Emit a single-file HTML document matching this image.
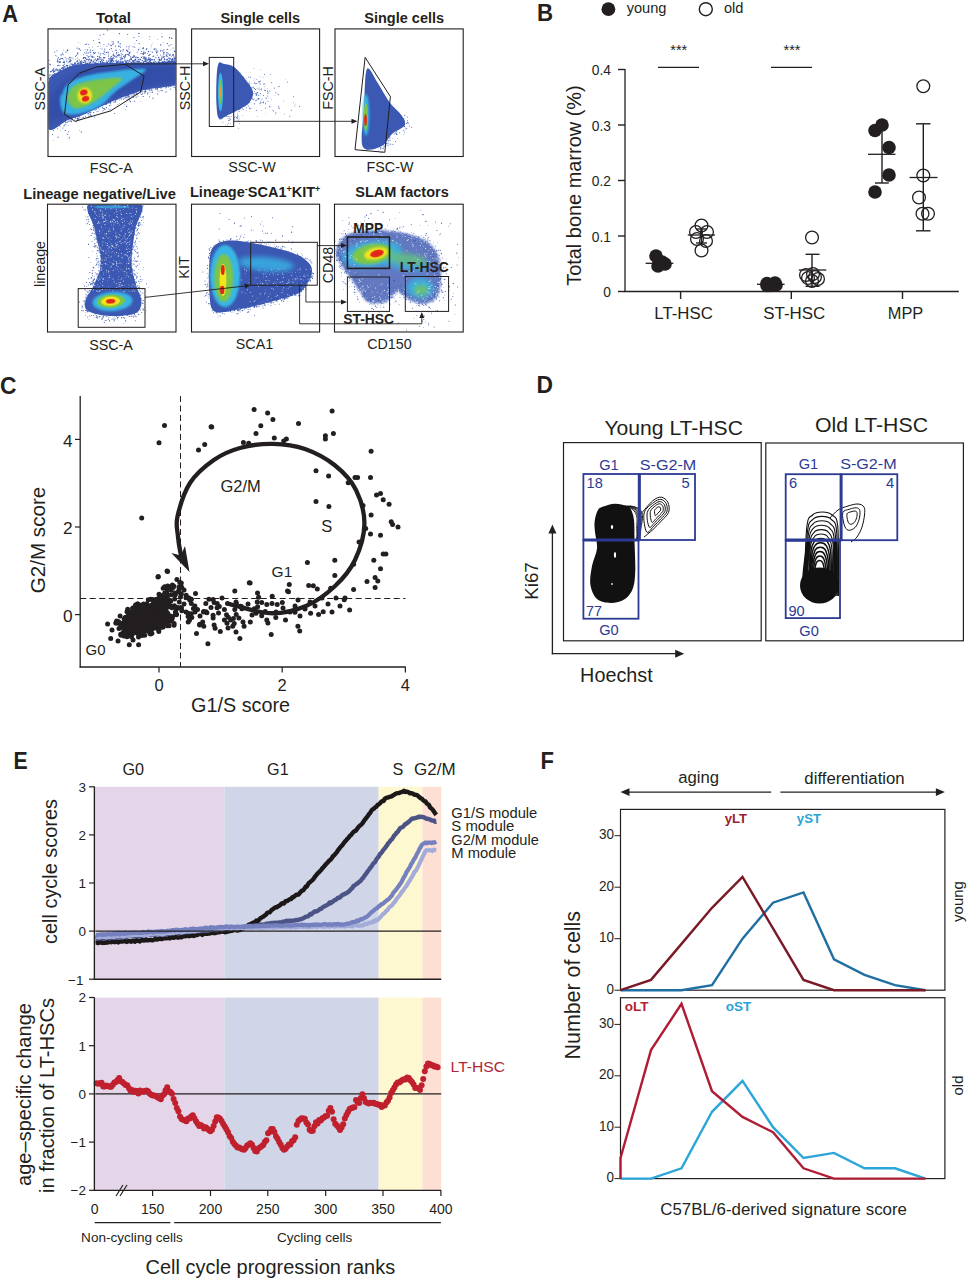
<!DOCTYPE html><html><head><meta charset="utf-8"><style>html,body{margin:0;padding:0;background:#fff;}svg{display:block;font-family:"Liberation Sans",sans-serif;}</style></head><body><svg width="967" height="1280" viewBox="0 0 967 1280" font-family='"Liberation Sans", sans-serif' fill="#231f20">
<defs>
<filter id="b05" x="-50%" y="-50%" width="200%" height="200%"><feGaussianBlur stdDeviation="0.6"/></filter>
<filter id="b1" x="-50%" y="-50%" width="200%" height="200%"><feGaussianBlur stdDeviation="1.2"/></filter>
<filter id="b2" x="-50%" y="-50%" width="200%" height="200%"><feGaussianBlur stdDeviation="2.5"/></filter>
</defs>
<text x="2.2" y="21.7" font-size="23.5" font-weight="bold" textLength="15.8" lengthAdjust="spacingAndGlyphs">A</text>
<defs>
<clipPath id="ca0"><rect x="48.5" y="29.4" width="127" height="126.6"/></clipPath>
<clipPath id="ca1"><rect x="192.1" y="29.4" width="127" height="126.6"/></clipPath>
<clipPath id="ca2"><rect x="335.5" y="29.4" width="127.2" height="126.6"/></clipPath>
<clipPath id="ca3"><rect x="48" y="204.7" width="127.5" height="126.8"/></clipPath>
<clipPath id="ca4"><rect x="192" y="204.7" width="127.1" height="126.8"/></clipPath>
<clipPath id="ca5"><rect x="335" y="204.7" width="127.7" height="126.8"/></clipPath>
</defs>
<g clip-path="url(#ca0)">
<g fill="#3a58b2"><circle cx="85.3" cy="63.7" r="0.6"/><circle cx="91" cy="64.1" r="0.5"/><circle cx="53.4" cy="77.9" r="0.4"/><circle cx="71" cy="60.6" r="0.5"/><circle cx="175.2" cy="62.7" r="0.4"/><circle cx="58" cy="70.6" r="0.6"/><circle cx="128.3" cy="60.7" r="0.4"/><circle cx="66.8" cy="61.1" r="0.6"/><circle cx="103.5" cy="60.6" r="0.5"/><circle cx="120.7" cy="57.9" r="0.5"/><circle cx="174.1" cy="63.3" r="0.4"/><circle cx="107.4" cy="62.7" r="0.6"/><circle cx="160.6" cy="60.2" r="0.6"/><circle cx="104.2" cy="51.1" r="0.6"/><circle cx="152.7" cy="62.4" r="0.4"/><circle cx="104.5" cy="63.1" r="0.6"/><circle cx="58.4" cy="71.1" r="0.4"/><circle cx="103.6" cy="57.7" r="0.7"/><circle cx="78" cy="63.2" r="0.7"/><circle cx="62.7" cy="70.2" r="0.5"/><circle cx="122.6" cy="61.9" r="0.5"/><circle cx="118.3" cy="41.7" r="0.6"/><circle cx="134.8" cy="62.8" r="0.7"/><circle cx="150" cy="60.7" r="0.6"/><circle cx="54.3" cy="78.5" r="0.5"/><circle cx="53.8" cy="79.7" r="0.5"/><circle cx="74.8" cy="63.5" r="0.7"/><circle cx="55.9" cy="73.9" r="0.4"/><circle cx="113.3" cy="63.4" r="0.7"/><circle cx="136.1" cy="62.2" r="0.6"/><circle cx="113.6" cy="54" r="0.6"/><circle cx="141.7" cy="62.1" r="0.4"/><circle cx="49.6" cy="81.5" r="0.7"/><circle cx="103.9" cy="44.8" r="0.5"/><circle cx="71.6" cy="66.4" r="0.6"/><circle cx="163" cy="51" r="0.6"/><circle cx="52.2" cy="70.3" r="0.6"/><circle cx="106.7" cy="62.1" r="0.6"/><circle cx="172.5" cy="61.2" r="0.6"/><circle cx="66.2" cy="70.5" r="0.6"/><circle cx="59.4" cy="59.5" r="0.5"/><circle cx="118.4" cy="63.2" r="0.6"/><circle cx="111.3" cy="45.7" r="0.6"/><circle cx="70" cy="66.7" r="0.6"/><circle cx="77.6" cy="63.4" r="0.5"/><circle cx="104.4" cy="57.6" r="0.7"/><circle cx="109.6" cy="58.8" r="0.5"/><circle cx="67.4" cy="68.9" r="0.5"/><circle cx="140" cy="59.2" r="0.6"/><circle cx="147.9" cy="63" r="0.5"/><circle cx="145.6" cy="58.5" r="0.7"/><circle cx="100.7" cy="57.6" r="0.6"/><circle cx="101.1" cy="59.2" r="0.6"/><circle cx="160.7" cy="44.9" r="0.7"/><circle cx="156.7" cy="63.5" r="0.4"/><circle cx="73.8" cy="64.9" r="0.7"/><circle cx="60.2" cy="62.1" r="0.7"/><circle cx="174.3" cy="61.6" r="0.5"/><circle cx="111.9" cy="61.8" r="0.6"/><circle cx="85.7" cy="58.2" r="0.7"/><circle cx="149.5" cy="39.4" r="0.4"/><circle cx="148.3" cy="62.4" r="0.7"/><circle cx="154.3" cy="63.3" r="0.6"/><circle cx="138.1" cy="63.8" r="0.5"/><circle cx="101.5" cy="60.8" r="0.5"/><circle cx="56.9" cy="68.5" r="0.4"/><circle cx="52" cy="79.2" r="0.6"/><circle cx="80.8" cy="61.4" r="0.4"/><circle cx="75.7" cy="65" r="0.5"/><circle cx="106.9" cy="46" r="0.5"/><circle cx="107.9" cy="52.1" r="0.6"/><circle cx="128" cy="60.6" r="0.4"/><circle cx="48.3" cy="71.6" r="0.4"/><circle cx="155.7" cy="49" r="0.5"/><circle cx="81.5" cy="61.9" r="0.5"/><circle cx="171.8" cy="38.2" r="0.7"/><circle cx="84.1" cy="62.2" r="0.5"/><circle cx="109.9" cy="62.5" r="0.5"/><circle cx="54.6" cy="73.3" r="0.5"/><circle cx="70.1" cy="60.9" r="0.6"/><circle cx="138.6" cy="49.7" r="0.7"/><circle cx="59.6" cy="62.3" r="0.7"/><circle cx="163" cy="55.4" r="0.4"/><circle cx="113.5" cy="57.9" r="0.6"/><circle cx="120.6" cy="47.2" r="0.5"/><circle cx="50.7" cy="81.2" r="0.7"/><circle cx="116.7" cy="56.2" r="0.5"/><circle cx="115.4" cy="57" r="0.5"/><circle cx="54" cy="75.2" r="0.6"/><circle cx="173.9" cy="59.4" r="0.6"/><circle cx="145.9" cy="57" r="0.4"/><circle cx="72.6" cy="58" r="0.4"/><circle cx="52.2" cy="76" r="0.6"/><circle cx="79.7" cy="60.7" r="0.4"/><circle cx="165.3" cy="61.9" r="0.4"/><circle cx="104.6" cy="52.1" r="0.5"/><circle cx="63.8" cy="50" r="0.4"/><circle cx="113.4" cy="43.8" r="0.6"/><circle cx="162.6" cy="57" r="0.5"/><circle cx="50.1" cy="82.2" r="0.5"/><circle cx="60.2" cy="70" r="0.4"/><circle cx="145.2" cy="52.5" r="0.6"/><circle cx="164" cy="61.9" r="0.7"/><circle cx="121.2" cy="61.1" r="0.4"/><circle cx="48.5" cy="67.7" r="0.5"/><circle cx="77.5" cy="61.6" r="0.7"/><circle cx="160.8" cy="50.8" r="0.7"/><circle cx="117.5" cy="55.5" r="0.5"/><circle cx="144.1" cy="57" r="0.7"/><circle cx="56.9" cy="69.4" r="0.6"/><circle cx="174.4" cy="60.9" r="0.6"/><circle cx="95.4" cy="63.6" r="0.7"/><circle cx="111.4" cy="60.9" r="0.5"/><circle cx="61.8" cy="70.4" r="0.4"/><circle cx="72.2" cy="64" r="0.6"/><circle cx="96.8" cy="60.5" r="0.5"/><circle cx="53.2" cy="76.8" r="0.6"/><circle cx="127.5" cy="50.7" r="0.5"/><circle cx="97.3" cy="59.8" r="0.7"/><circle cx="50.2" cy="80.7" r="0.5"/><circle cx="120.1" cy="65.2" r="0.6"/><circle cx="157.8" cy="39.2" r="0.4"/><circle cx="113.7" cy="55.6" r="0.6"/><circle cx="145.6" cy="59.6" r="0.6"/><circle cx="67" cy="49.9" r="0.4"/><circle cx="73.4" cy="59" r="0.4"/><circle cx="112.4" cy="58.3" r="0.6"/><circle cx="128.8" cy="49" r="0.5"/><circle cx="172.4" cy="55.2" r="0.5"/><circle cx="133.4" cy="61.4" r="0.7"/><circle cx="72.3" cy="67.7" r="0.6"/><circle cx="65.2" cy="57.2" r="0.5"/><circle cx="174.1" cy="60.4" r="0.5"/><circle cx="146.1" cy="61.3" r="0.5"/><circle cx="70.1" cy="62.2" r="0.4"/><circle cx="95.4" cy="62.7" r="0.4"/><circle cx="53.1" cy="75.3" r="0.6"/><circle cx="170.2" cy="54.3" r="0.5"/><circle cx="92.3" cy="61.7" r="0.5"/><circle cx="88.8" cy="44.5" r="0.5"/><circle cx="89.3" cy="51.9" r="0.4"/><circle cx="106.4" cy="60.7" r="0.5"/><circle cx="162.7" cy="64.3" r="0.6"/><circle cx="54" cy="81.1" r="0.5"/><circle cx="143.1" cy="48.5" r="0.7"/><circle cx="125.4" cy="61.2" r="0.5"/><circle cx="170.3" cy="64.4" r="0.7"/><circle cx="171.6" cy="61" r="0.5"/><circle cx="168.6" cy="61" r="0.6"/><circle cx="146.6" cy="58.1" r="0.5"/><circle cx="148.6" cy="64.7" r="0.5"/><circle cx="53.9" cy="77.8" r="0.7"/><circle cx="161.5" cy="33.3" r="0.4"/><circle cx="108.6" cy="55.7" r="0.5"/><circle cx="126" cy="54.6" r="0.6"/><circle cx="50.2" cy="64.8" r="0.5"/><circle cx="142.2" cy="63" r="0.4"/><circle cx="161.7" cy="58.5" r="0.7"/><circle cx="111" cy="61.2" r="0.7"/><circle cx="55.6" cy="69.9" r="0.7"/><circle cx="51.1" cy="79.3" r="0.7"/><circle cx="119.8" cy="46.5" r="0.5"/><circle cx="76.3" cy="55.3" r="0.6"/><circle cx="125.7" cy="62.6" r="0.5"/><circle cx="75.3" cy="59.2" r="0.4"/><circle cx="85.6" cy="57.8" r="0.5"/><circle cx="150.3" cy="58.6" r="0.5"/><circle cx="116.8" cy="57.1" r="0.6"/><circle cx="96.5" cy="63.9" r="0.5"/><circle cx="117.3" cy="61.7" r="0.7"/><circle cx="90.8" cy="62.5" r="0.4"/><circle cx="164.8" cy="59.1" r="0.7"/><circle cx="105.2" cy="63.1" r="0.6"/><circle cx="165.1" cy="62.5" r="0.6"/><circle cx="59.9" cy="68.7" r="0.4"/><circle cx="108.6" cy="52.6" r="0.4"/><circle cx="169.5" cy="37.7" r="0.7"/><circle cx="92.8" cy="47" r="0.4"/><circle cx="147.4" cy="63.1" r="0.6"/><circle cx="65.8" cy="68.3" r="0.5"/><circle cx="58.4" cy="69.3" r="0.4"/><circle cx="119.6" cy="54.4" r="0.4"/><circle cx="122.7" cy="57.9" r="0.5"/><circle cx="120.4" cy="59.4" r="0.5"/><circle cx="145.2" cy="53.5" r="0.5"/><circle cx="57.6" cy="73.4" r="0.5"/><circle cx="110.8" cy="63.5" r="0.6"/><circle cx="148.5" cy="59.3" r="0.5"/><circle cx="172.9" cy="60.5" r="0.6"/><circle cx="153.6" cy="62.3" r="0.7"/><circle cx="166.9" cy="60.6" r="0.4"/><circle cx="89.3" cy="56.4" r="0.5"/><circle cx="151" cy="62.8" r="0.5"/><circle cx="76.7" cy="61.2" r="0.5"/><circle cx="56.9" cy="50.8" r="0.5"/><circle cx="147.4" cy="62.9" r="0.5"/><circle cx="159.1" cy="57.3" r="0.4"/><circle cx="175.8" cy="57.4" r="0.5"/><circle cx="175.7" cy="58.5" r="0.5"/><circle cx="64.5" cy="61.2" r="0.5"/><circle cx="127.6" cy="34.4" r="0.5"/><circle cx="49.4" cy="85.2" r="0.5"/><circle cx="111.4" cy="48.7" r="0.6"/><circle cx="50.6" cy="82.7" r="0.5"/><circle cx="69.9" cy="61.3" r="0.6"/><circle cx="106.7" cy="62.9" r="0.4"/><circle cx="53.4" cy="69.2" r="0.5"/><circle cx="76.8" cy="65" r="0.5"/><circle cx="130.7" cy="59.4" r="0.5"/><circle cx="164" cy="63.3" r="0.5"/><circle cx="170.3" cy="63.6" r="0.6"/><circle cx="129.3" cy="52.9" r="0.5"/><circle cx="142.7" cy="60.2" r="0.5"/><circle cx="50.2" cy="77.6" r="0.7"/><circle cx="137.7" cy="61.6" r="0.6"/><circle cx="111.4" cy="60.3" r="0.5"/><circle cx="161.6" cy="64.3" r="0.6"/><circle cx="169.5" cy="55.5" r="0.5"/><circle cx="67.7" cy="50.1" r="0.6"/><circle cx="175.7" cy="58.1" r="0.7"/><circle cx="100.2" cy="55" r="0.5"/><circle cx="126.7" cy="63.2" r="0.4"/><circle cx="50.8" cy="80.5" r="0.6"/><circle cx="141.3" cy="63.1" r="0.6"/><circle cx="154.5" cy="49.1" r="0.7"/><circle cx="170.5" cy="63.2" r="0.4"/><circle cx="156" cy="51.1" r="0.6"/><circle cx="81.7" cy="65.6" r="0.5"/><circle cx="85.2" cy="61.4" r="0.5"/><circle cx="138.2" cy="62.6" r="0.6"/><circle cx="158.4" cy="57.3" r="0.5"/><circle cx="146.7" cy="60.1" r="0.5"/><circle cx="159.4" cy="62.7" r="0.4"/><circle cx="66.2" cy="59" r="0.5"/><circle cx="108.6" cy="53.8" r="0.5"/><circle cx="155.6" cy="61.6" r="0.5"/><circle cx="137.8" cy="59.9" r="0.4"/><circle cx="149.2" cy="54.5" r="0.5"/><circle cx="96.3" cy="60.7" r="0.7"/><circle cx="49.7" cy="82.8" r="0.6"/><circle cx="92.8" cy="50.3" r="0.6"/><circle cx="144" cy="53.6" r="0.5"/><circle cx="58.4" cy="57.4" r="0.5"/><circle cx="100.6" cy="53.7" r="0.5"/><circle cx="162.5" cy="62.5" r="0.6"/><circle cx="156.9" cy="63.2" r="0.5"/><circle cx="112.4" cy="63.3" r="0.7"/><circle cx="141.2" cy="63.2" r="0.5"/><circle cx="175.5" cy="51.6" r="0.5"/><circle cx="128.7" cy="64" r="0.4"/><circle cx="95.2" cy="52.6" r="0.6"/><circle cx="103.9" cy="62.7" r="0.6"/><circle cx="164.2" cy="59.2" r="0.5"/><circle cx="70.9" cy="57.8" r="0.6"/><circle cx="157.1" cy="55.2" r="0.5"/><circle cx="125.9" cy="64" r="0.6"/><circle cx="126.5" cy="62.4" r="0.6"/><circle cx="97.5" cy="56.3" r="0.6"/><circle cx="145.5" cy="60.7" r="0.4"/><circle cx="115.9" cy="60.9" r="0.6"/><circle cx="52.5" cy="70.1" r="0.6"/><circle cx="127.8" cy="51.5" r="0.7"/><circle cx="66.8" cy="61.3" r="0.4"/><circle cx="95.1" cy="64.7" r="0.6"/><circle cx="89.5" cy="63.9" r="0.7"/><circle cx="113.5" cy="61.6" r="0.5"/><circle cx="57.1" cy="61.1" r="0.5"/><circle cx="118.8" cy="62" r="0.6"/><circle cx="152.3" cy="52.2" r="0.6"/><circle cx="50.2" cy="64.8" r="0.5"/><circle cx="92.1" cy="62.7" r="0.4"/><circle cx="140" cy="62.4" r="0.5"/><circle cx="99.2" cy="56.6" r="0.7"/><circle cx="158.9" cy="61.9" r="0.6"/><circle cx="57.3" cy="59.6" r="0.4"/><circle cx="171.3" cy="56.5" r="0.4"/><circle cx="69.8" cy="57.5" r="0.7"/><circle cx="150.3" cy="62" r="0.6"/><circle cx="133" cy="46.8" r="0.5"/><circle cx="135.9" cy="57.8" r="0.7"/><circle cx="117.2" cy="62.3" r="0.5"/><circle cx="51.5" cy="76.5" r="0.5"/><circle cx="116.2" cy="50.2" r="0.5"/><circle cx="118.6" cy="55.7" r="0.5"/><circle cx="171.9" cy="62.2" r="0.4"/><circle cx="125.2" cy="55.7" r="0.7"/><circle cx="111.1" cy="59.3" r="0.6"/><circle cx="127.2" cy="60.5" r="0.5"/><circle cx="113.1" cy="54.6" r="0.5"/><circle cx="116.6" cy="53.2" r="0.5"/><circle cx="107.9" cy="61.8" r="0.6"/><circle cx="149.3" cy="61.8" r="0.6"/><circle cx="129.3" cy="53.6" r="0.7"/><circle cx="115.8" cy="63.7" r="0.5"/><circle cx="166.4" cy="55.9" r="0.7"/><circle cx="124" cy="56.4" r="0.6"/><circle cx="133.9" cy="61.6" r="0.6"/><circle cx="58.5" cy="73.9" r="0.7"/><circle cx="131.5" cy="59.5" r="0.6"/><circle cx="75.8" cy="63.8" r="0.5"/><circle cx="130" cy="45.3" r="0.4"/><circle cx="49.6" cy="64" r="0.5"/><circle cx="175" cy="59.2" r="0.6"/><circle cx="70.7" cy="66.9" r="0.6"/><circle cx="60.5" cy="71" r="0.6"/><circle cx="67.9" cy="67.6" r="0.7"/><circle cx="140.1" cy="62.5" r="0.5"/><circle cx="170" cy="61.3" r="0.4"/><circle cx="83.8" cy="57.5" r="0.5"/><circle cx="51.2" cy="76.1" r="0.6"/><circle cx="57.7" cy="61.6" r="0.6"/><circle cx="98.7" cy="59.1" r="0.6"/><circle cx="120.7" cy="62.4" r="0.6"/><circle cx="152.6" cy="59.7" r="0.6"/><circle cx="121.9" cy="62.1" r="0.5"/><circle cx="136" cy="56.7" r="0.5"/><circle cx="154" cy="49.1" r="0.6"/><circle cx="159.5" cy="59.4" r="0.6"/><circle cx="134.7" cy="47.1" r="0.6"/><circle cx="150.3" cy="60.6" r="0.5"/><circle cx="123.7" cy="56.2" r="0.5"/><circle cx="143.6" cy="53.1" r="0.6"/><circle cx="145.3" cy="61.3" r="0.7"/><circle cx="112.1" cy="59.2" r="0.5"/><circle cx="63.3" cy="62.3" r="0.5"/><circle cx="114.6" cy="63.7" r="0.5"/><circle cx="53.5" cy="68.8" r="0.6"/><circle cx="88.2" cy="59.8" r="0.7"/><circle cx="159" cy="58.9" r="0.6"/><circle cx="99.2" cy="42.4" r="0.7"/><circle cx="76.4" cy="66.2" r="0.4"/><circle cx="49.9" cy="75" r="0.7"/><circle cx="165" cy="62.8" r="0.4"/><circle cx="171.4" cy="61.1" r="0.7"/><circle cx="132.4" cy="60.7" r="0.7"/><circle cx="89.2" cy="47.6" r="0.4"/><circle cx="147.4" cy="53.5" r="0.4"/><circle cx="60" cy="61.5" r="0.5"/><circle cx="122.7" cy="54.5" r="0.5"/><circle cx="57.2" cy="69.6" r="0.4"/><circle cx="133.8" cy="63.4" r="0.4"/><circle cx="169.6" cy="61.3" r="0.7"/><circle cx="61.7" cy="68.6" r="0.7"/><circle cx="126.3" cy="61" r="0.5"/><circle cx="127.2" cy="63.2" r="0.6"/><circle cx="117.3" cy="62.4" r="0.5"/><circle cx="63.3" cy="68" r="0.5"/><circle cx="108.6" cy="61.2" r="0.7"/><circle cx="106.4" cy="62.4" r="0.5"/><circle cx="80.6" cy="50.2" r="0.5"/><circle cx="175.3" cy="62.8" r="0.4"/><circle cx="100.6" cy="48.3" r="0.4"/><circle cx="63.1" cy="59.3" r="0.4"/><circle cx="51.4" cy="71.5" r="0.5"/><circle cx="125.4" cy="54.4" r="0.5"/><circle cx="161.1" cy="59.2" r="0.5"/><circle cx="161.1" cy="63" r="0.5"/><circle cx="63.5" cy="67.2" r="0.6"/><circle cx="103" cy="60.1" r="0.6"/><circle cx="159.4" cy="60.4" r="0.6"/><circle cx="111.1" cy="58.7" r="0.7"/><circle cx="72.4" cy="66.4" r="0.6"/><circle cx="50.8" cy="80.7" r="0.4"/><circle cx="121.9" cy="57.8" r="0.4"/><circle cx="160.4" cy="55.1" r="0.5"/><circle cx="110.2" cy="62.4" r="0.4"/><circle cx="122.8" cy="51" r="0.6"/><circle cx="61.3" cy="58.5" r="0.5"/><circle cx="154.5" cy="59.8" r="0.6"/><circle cx="87" cy="63.7" r="0.7"/><circle cx="151.6" cy="45.5" r="0.4"/><circle cx="112" cy="41.7" r="0.5"/><circle cx="127.4" cy="60.8" r="0.5"/><circle cx="111.6" cy="65.6" r="0.6"/><circle cx="169.9" cy="55.1" r="0.7"/><circle cx="79.2" cy="59.8" r="0.5"/><circle cx="112.9" cy="59.9" r="0.5"/><circle cx="128.1" cy="62" r="0.6"/><circle cx="77.2" cy="61.3" r="0.4"/><circle cx="59.2" cy="69.9" r="0.5"/><circle cx="53.4" cy="71.2" r="0.6"/><circle cx="129.9" cy="61.6" r="0.6"/><circle cx="124.8" cy="60.1" r="0.5"/><circle cx="111.1" cy="60.6" r="0.5"/><circle cx="158.2" cy="61.6" r="0.5"/><circle cx="94.1" cy="60" r="0.5"/><circle cx="172.7" cy="54.8" r="0.5"/><circle cx="134.4" cy="56.1" r="0.6"/><circle cx="142.3" cy="53.6" r="0.6"/><circle cx="139.2" cy="47.9" r="0.4"/><circle cx="143.9" cy="57.9" r="0.6"/><circle cx="98.9" cy="52.9" r="0.5"/><circle cx="102.9" cy="59.3" r="0.5"/><circle cx="116.5" cy="61.9" r="0.7"/><circle cx="109.7" cy="60.6" r="0.4"/><circle cx="121.4" cy="58.8" r="0.5"/><circle cx="156.9" cy="51" r="0.5"/><circle cx="166.8" cy="63.9" r="0.5"/><circle cx="164.2" cy="52.6" r="0.6"/><circle cx="111.2" cy="56.5" r="0.6"/><circle cx="86.9" cy="43.3" r="0.4"/><circle cx="91.4" cy="60.5" r="0.7"/><circle cx="172" cy="59.3" r="0.7"/><circle cx="87.9" cy="59.1" r="0.5"/><circle cx="174.5" cy="51.3" r="0.7"/><circle cx="137.2" cy="51.9" r="0.5"/><circle cx="62" cy="68.3" r="0.5"/><circle cx="64.1" cy="62.4" r="0.7"/><circle cx="127.1" cy="64.4" r="0.5"/><circle cx="135.2" cy="65.4" r="0.6"/><circle cx="131.6" cy="62.5" r="0.5"/><circle cx="130.7" cy="58.7" r="0.5"/><circle cx="59.2" cy="71.3" r="0.4"/><circle cx="64.3" cy="64.1" r="0.6"/><circle cx="54.5" cy="77.7" r="0.6"/><circle cx="89.5" cy="63.8" r="0.7"/><circle cx="120.1" cy="61.2" r="0.4"/><circle cx="163.8" cy="57.4" r="0.6"/><circle cx="77.1" cy="65.2" r="0.5"/><circle cx="163.6" cy="52.9" r="0.7"/><circle cx="108.6" cy="44" r="0.6"/><circle cx="71.9" cy="64.4" r="0.6"/><circle cx="74.2" cy="65.6" r="0.7"/><circle cx="81.3" cy="60.4" r="0.5"/><circle cx="97.4" cy="65" r="0.5"/><circle cx="74.5" cy="65.6" r="0.4"/><circle cx="132.8" cy="62.1" r="0.4"/><circle cx="77.6" cy="53.9" r="0.7"/><circle cx="150.5" cy="63.8" r="0.5"/><circle cx="173.2" cy="61.7" r="0.5"/><circle cx="102.9" cy="62.7" r="0.7"/><circle cx="121.6" cy="61.9" r="0.5"/><circle cx="159.5" cy="62.8" r="0.5"/><circle cx="146.2" cy="59.7" r="0.5"/><circle cx="95.2" cy="65.2" r="0.5"/><circle cx="131.1" cy="62.9" r="0.6"/><circle cx="81.7" cy="65.5" r="0.4"/><circle cx="137.8" cy="62.7" r="0.6"/><circle cx="162.2" cy="50.4" r="0.4"/><circle cx="133.7" cy="57" r="0.6"/><circle cx="137.3" cy="61.4" r="0.6"/><circle cx="67.9" cy="67.9" r="0.6"/><circle cx="52.6" cy="80.9" r="0.5"/><circle cx="92.8" cy="65.3" r="0.5"/><circle cx="155.8" cy="57.4" r="0.5"/><circle cx="136.3" cy="61" r="0.6"/><circle cx="81.1" cy="64.4" r="0.4"/><circle cx="75" cy="65.1" r="0.7"/><circle cx="143.5" cy="62.6" r="0.6"/><circle cx="156.2" cy="62.6" r="0.5"/><circle cx="168.2" cy="53.9" r="0.6"/><circle cx="102.9" cy="63.1" r="0.6"/><circle cx="168.2" cy="62.5" r="0.6"/><circle cx="149.4" cy="61.2" r="0.6"/><circle cx="116.3" cy="62.3" r="0.5"/><circle cx="69.5" cy="67" r="0.6"/><circle cx="72.7" cy="64.8" r="0.7"/><circle cx="89.5" cy="62" r="0.6"/><circle cx="84.5" cy="52.8" r="0.5"/><circle cx="131" cy="57.9" r="0.6"/><circle cx="57.3" cy="72" r="0.4"/><circle cx="79.3" cy="63.3" r="0.4"/><circle cx="84.9" cy="61.1" r="0.4"/><circle cx="138.9" cy="36.4" r="0.5"/><circle cx="100.5" cy="62.8" r="0.7"/><circle cx="130.4" cy="56.6" r="0.5"/><circle cx="76.3" cy="65.6" r="0.7"/><circle cx="80.7" cy="62.8" r="0.7"/><circle cx="62.2" cy="58.8" r="0.5"/><circle cx="62.8" cy="58.5" r="0.6"/><circle cx="90.6" cy="52.3" r="0.6"/><circle cx="126.6" cy="50.3" r="0.7"/><circle cx="109.1" cy="59.9" r="0.6"/><circle cx="50.6" cy="71.8" r="0.7"/><circle cx="56.4" cy="75.7" r="0.6"/><circle cx="98.8" cy="61.2" r="0.5"/><circle cx="86.5" cy="59.6" r="0.7"/><circle cx="63" cy="68.3" r="0.5"/><circle cx="68.2" cy="69" r="0.7"/><circle cx="167.3" cy="49.4" r="0.6"/><circle cx="151.7" cy="62.5" r="0.5"/><circle cx="118.2" cy="42.8" r="0.5"/><circle cx="87.4" cy="49.9" r="0.6"/><circle cx="102" cy="63" r="0.6"/><circle cx="97.3" cy="58.8" r="0.4"/><circle cx="61.1" cy="54.9" r="0.7"/><circle cx="75.4" cy="65.2" r="0.5"/><circle cx="116.6" cy="62" r="0.6"/><circle cx="121.4" cy="63.6" r="0.5"/><circle cx="158.9" cy="56.9" r="0.4"/><circle cx="95.8" cy="62.9" r="0.6"/><circle cx="58.2" cy="62" r="0.5"/><circle cx="138.8" cy="59.4" r="0.7"/><circle cx="118.5" cy="46.2" r="0.6"/><circle cx="86.4" cy="53.5" r="0.4"/><circle cx="93.2" cy="54.7" r="0.4"/><circle cx="122.4" cy="62.8" r="0.4"/><circle cx="167.6" cy="56.3" r="0.5"/><circle cx="155.9" cy="57.9" r="0.4"/><circle cx="150.1" cy="62.3" r="0.6"/><circle cx="94" cy="62.7" r="0.6"/><circle cx="152.1" cy="43.2" r="0.4"/><circle cx="109.6" cy="49.5" r="0.5"/><circle cx="152.3" cy="56.5" r="0.4"/><circle cx="157.5" cy="59.6" r="0.4"/><circle cx="87" cy="62.7" r="0.4"/><circle cx="63.4" cy="67.3" r="0.5"/><circle cx="89" cy="64.3" r="0.4"/><circle cx="103.8" cy="34.3" r="0.6"/><circle cx="77.8" cy="63.5" r="0.6"/><circle cx="113.2" cy="42" r="0.6"/><circle cx="146.8" cy="48.5" r="0.6"/><circle cx="91.2" cy="60.7" r="0.7"/><circle cx="134.5" cy="60.2" r="0.6"/><circle cx="127.3" cy="60.7" r="0.4"/><circle cx="88.1" cy="62.1" r="0.5"/><circle cx="74.1" cy="65" r="0.4"/><circle cx="159.3" cy="59.9" r="0.5"/><circle cx="65" cy="70.2" r="0.6"/><circle cx="115.6" cy="46.1" r="0.6"/><circle cx="53.1" cy="74.5" r="0.5"/><circle cx="147.3" cy="59.9" r="0.5"/><circle cx="164.2" cy="61.7" r="0.4"/><circle cx="77.4" cy="58.1" r="0.5"/><circle cx="123.3" cy="49.6" r="0.6"/><circle cx="174.1" cy="57.9" r="0.7"/><circle cx="88.2" cy="64.8" r="0.7"/><circle cx="128.9" cy="46.8" r="0.6"/><circle cx="129.6" cy="59.7" r="0.4"/><circle cx="97.4" cy="63.5" r="0.5"/><circle cx="122.8" cy="62" r="0.7"/><circle cx="119.4" cy="33.7" r="0.6"/><circle cx="86.5" cy="64.7" r="0.6"/><circle cx="121.1" cy="57.4" r="0.5"/><circle cx="142.2" cy="60.6" r="0.6"/><circle cx="83.5" cy="54.8" r="0.5"/><circle cx="112.4" cy="44.3" r="0.5"/><circle cx="129.3" cy="55.4" r="0.5"/><circle cx="145.1" cy="63.4" r="0.4"/><circle cx="110.5" cy="60.2" r="0.5"/><circle cx="62.3" cy="67.9" r="0.4"/><circle cx="108.5" cy="58.2" r="0.5"/><circle cx="85.1" cy="49.6" r="0.4"/><circle cx="129.7" cy="60.2" r="0.6"/><circle cx="97.9" cy="46.4" r="0.5"/><circle cx="74.8" cy="64.3" r="0.5"/><circle cx="144.3" cy="59.2" r="0.5"/><circle cx="120.1" cy="61.6" r="0.5"/><circle cx="143.9" cy="52.6" r="0.5"/><circle cx="162.6" cy="61.5" r="0.5"/><circle cx="120.8" cy="50.6" r="0.5"/><circle cx="148.5" cy="51.5" r="0.7"/><circle cx="83.7" cy="66.7" r="0.4"/><circle cx="165.9" cy="62.2" r="0.5"/><circle cx="133.6" cy="64.9" r="0.6"/><circle cx="162" cy="36.7" r="0.6"/><circle cx="134.9" cy="63.7" r="0.5"/><circle cx="59.1" cy="74" r="0.7"/><circle cx="57" cy="70" r="0.5"/><circle cx="134.9" cy="61.9" r="0.4"/><circle cx="89.8" cy="59.6" r="0.5"/><circle cx="173.2" cy="47.9" r="0.5"/><circle cx="78.4" cy="65.6" r="0.5"/><circle cx="118.5" cy="60.9" r="0.6"/><circle cx="114.8" cy="56.3" r="0.7"/><circle cx="139" cy="61.2" r="0.7"/><circle cx="93.7" cy="61.3" r="0.7"/><circle cx="124.8" cy="61.2" r="0.4"/><circle cx="156.6" cy="53" r="0.6"/><circle cx="84.3" cy="57.6" r="0.7"/><circle cx="122.3" cy="28.4" r="0.6"/><circle cx="92.1" cy="56.4" r="0.6"/><circle cx="133.1" cy="60.6" r="0.5"/><circle cx="125.7" cy="61.4" r="0.6"/><circle cx="112.6" cy="60" r="0.7"/><circle cx="112" cy="58.6" r="0.5"/><circle cx="60.5" cy="58.8" r="0.6"/><circle cx="164" cy="49.8" r="0.6"/><circle cx="153.4" cy="63.5" r="0.4"/><circle cx="88.1" cy="53.2" r="0.4"/><circle cx="106.4" cy="52.5" r="0.6"/><circle cx="91" cy="60.2" r="0.5"/><circle cx="93.6" cy="65.3" r="0.4"/><circle cx="63.4" cy="62" r="0.5"/><circle cx="154.3" cy="62" r="0.5"/><circle cx="98.3" cy="52.8" r="0.4"/><circle cx="101.5" cy="60.4" r="0.5"/><circle cx="129.4" cy="53" r="0.6"/><circle cx="168.9" cy="62" r="0.5"/><circle cx="133.5" cy="61.8" r="0.5"/><circle cx="114.1" cy="58.5" r="0.4"/><circle cx="120.8" cy="60" r="0.5"/><circle cx="104.8" cy="49.1" r="0.6"/><circle cx="153.8" cy="55.4" r="0.4"/><circle cx="134.4" cy="57" r="0.4"/><circle cx="72" cy="66.7" r="0.4"/><circle cx="145.4" cy="58.6" r="0.6"/><circle cx="106.9" cy="63" r="0.6"/><circle cx="88.9" cy="60" r="0.5"/><circle cx="76.9" cy="64.9" r="0.6"/><circle cx="111.7" cy="60.5" r="0.7"/><circle cx="150.7" cy="50.9" r="0.4"/><circle cx="113.7" cy="60.9" r="0.6"/><circle cx="90.8" cy="55" r="0.6"/><circle cx="50.7" cy="77.6" r="0.6"/><circle cx="85.5" cy="62.2" r="0.6"/><circle cx="149.1" cy="58.2" r="0.5"/><circle cx="160.3" cy="63.8" r="0.4"/><circle cx="158.8" cy="63" r="0.7"/><circle cx="116.7" cy="52.7" r="0.6"/><circle cx="81.7" cy="63.4" r="0.7"/><circle cx="71.2" cy="68.3" r="0.7"/><circle cx="97.7" cy="58.6" r="0.6"/><circle cx="63.4" cy="70.1" r="0.7"/><circle cx="80.7" cy="63.3" r="0.6"/><circle cx="56.9" cy="56.2" r="0.4"/><circle cx="149.9" cy="36.7" r="0.5"/><circle cx="128.5" cy="62.1" r="0.5"/><circle cx="140.6" cy="59.7" r="0.6"/><circle cx="48.8" cy="60.2" r="0.6"/><circle cx="80.8" cy="61.6" r="0.7"/><circle cx="54.7" cy="71.4" r="0.6"/><circle cx="55.9" cy="76.7" r="0.7"/><circle cx="67.6" cy="50.5" r="0.7"/><circle cx="86.4" cy="44.5" r="0.5"/><circle cx="102.6" cy="61.8" r="0.6"/><circle cx="81.7" cy="64.8" r="0.6"/><circle cx="148.8" cy="57.7" r="0.6"/><circle cx="53.1" cy="70.7" r="0.5"/><circle cx="92.5" cy="57.3" r="0.7"/><circle cx="86.1" cy="51.5" r="0.4"/><circle cx="114" cy="63.2" r="0.6"/><circle cx="110.7" cy="61.7" r="0.5"/><circle cx="59.8" cy="69.9" r="0.7"/><circle cx="119.4" cy="57.1" r="0.4"/><circle cx="76.7" cy="66.2" r="0.5"/><circle cx="162.5" cy="62.9" r="0.6"/><circle cx="149" cy="55.5" r="0.6"/><circle cx="174.8" cy="62.4" r="0.6"/><circle cx="85.2" cy="53.7" r="0.4"/><circle cx="169.5" cy="60.1" r="0.5"/><circle cx="142" cy="56.6" r="0.4"/><circle cx="67.5" cy="68.9" r="0.7"/><circle cx="148.1" cy="59.4" r="0.7"/><circle cx="144.3" cy="58" r="0.7"/><circle cx="148.7" cy="62.6" r="0.4"/><circle cx="173.2" cy="55.3" r="0.6"/><circle cx="169.1" cy="45.7" r="0.6"/><circle cx="122.6" cy="58.8" r="0.7"/><circle cx="78.2" cy="42.4" r="0.4"/><circle cx="173.5" cy="54.3" r="0.5"/><circle cx="67.7" cy="65.5" r="0.7"/><circle cx="133.8" cy="56.2" r="0.6"/><circle cx="135" cy="43.4" r="0.4"/><circle cx="129.9" cy="52.2" r="0.7"/><circle cx="149.5" cy="64" r="0.4"/><circle cx="151.6" cy="59.6" r="0.5"/><circle cx="70.7" cy="64.1" r="0.5"/><circle cx="55" cy="73.5" r="0.6"/><circle cx="151.5" cy="62.9" r="0.6"/><circle cx="67.3" cy="67" r="0.5"/><circle cx="163.5" cy="56.7" r="0.5"/><circle cx="172.4" cy="58.6" r="0.6"/><circle cx="63.2" cy="65.4" r="0.7"/><circle cx="103.1" cy="53.4" r="0.4"/><circle cx="116" cy="50.1" r="0.7"/><circle cx="164.3" cy="56.6" r="0.5"/><circle cx="171.6" cy="59.5" r="0.5"/><circle cx="113.2" cy="55.6" r="0.5"/><circle cx="175.4" cy="62.1" r="0.6"/><circle cx="103.2" cy="53.7" r="0.6"/><circle cx="51.3" cy="80.8" r="0.7"/><circle cx="59.9" cy="65.3" r="0.5"/><circle cx="143.2" cy="58.2" r="0.5"/><circle cx="116.8" cy="60" r="0.6"/><circle cx="135" cy="60.4" r="0.6"/><circle cx="77.8" cy="63.8" r="0.6"/><circle cx="87.1" cy="63.6" r="0.4"/><circle cx="142.1" cy="62.9" r="0.5"/><circle cx="93.6" cy="40.5" r="0.5"/><circle cx="169.9" cy="62.9" r="0.4"/><circle cx="75" cy="63.8" r="0.5"/><circle cx="62.6" cy="53.1" r="0.6"/><circle cx="148.5" cy="62.5" r="0.5"/><circle cx="117.6" cy="55.6" r="0.5"/><circle cx="166.4" cy="59.5" r="0.5"/><circle cx="147.2" cy="62.8" r="0.5"/><circle cx="169.8" cy="61.8" r="0.6"/><circle cx="143.1" cy="56.8" r="0.4"/><circle cx="83.7" cy="57.9" r="0.6"/><circle cx="148.4" cy="60" r="0.5"/><circle cx="94.3" cy="53.4" r="0.7"/><circle cx="113" cy="57.4" r="0.4"/><circle cx="86.8" cy="64.9" r="0.7"/><circle cx="131.7" cy="58.6" r="0.5"/><circle cx="156.8" cy="52.6" r="0.6"/><circle cx="145.7" cy="58.1" r="0.6"/><circle cx="153.7" cy="56.3" r="0.6"/><circle cx="137.4" cy="57.7" r="0.6"/><circle cx="154.1" cy="62.3" r="0.4"/><circle cx="133.9" cy="37.5" r="0.6"/><circle cx="127.2" cy="63.2" r="0.5"/><circle cx="118.5" cy="52.8" r="0.4"/><circle cx="69.7" cy="61.5" r="0.6"/><circle cx="68.2" cy="58.8" r="0.6"/><circle cx="114.7" cy="63.6" r="0.6"/><circle cx="98.3" cy="63" r="0.6"/><circle cx="95.3" cy="59.1" r="0.7"/><circle cx="175.7" cy="63.1" r="0.5"/><circle cx="133.9" cy="55.6" r="0.5"/><circle cx="96.7" cy="63.3" r="0.6"/><circle cx="101" cy="62.3" r="0.5"/><circle cx="119.1" cy="55.3" r="0.7"/><circle cx="166.8" cy="54.4" r="0.5"/><circle cx="77.7" cy="63.8" r="0.7"/><circle cx="83.4" cy="65.7" r="0.7"/><circle cx="151.5" cy="60" r="0.4"/><circle cx="149.3" cy="59.4" r="0.6"/><circle cx="106.4" cy="52.4" r="0.6"/><circle cx="110.6" cy="62.6" r="0.7"/><circle cx="139.2" cy="43.6" r="0.6"/><circle cx="93.7" cy="52.4" r="0.4"/><circle cx="69" cy="62.2" r="0.6"/><circle cx="150.3" cy="60.1" r="0.6"/><circle cx="52.1" cy="74.5" r="0.5"/><circle cx="128.7" cy="64.1" r="0.5"/><circle cx="54.2" cy="70.4" r="0.5"/><circle cx="121.1" cy="56.1" r="0.4"/><circle cx="139.5" cy="63.8" r="0.6"/><circle cx="138.1" cy="61.1" r="0.5"/><circle cx="55.8" cy="55.5" r="0.5"/><circle cx="175.1" cy="62.6" r="0.6"/><circle cx="128.2" cy="54.6" r="0.7"/><circle cx="151.6" cy="63.9" r="0.7"/><circle cx="70.2" cy="59.8" r="0.7"/><circle cx="78.5" cy="64.9" r="0.4"/><circle cx="174.7" cy="56.2" r="0.4"/><circle cx="111.6" cy="61.7" r="0.7"/><circle cx="108.6" cy="56.5" r="0.4"/><circle cx="49.5" cy="76.3" r="0.4"/><circle cx="143.8" cy="62.5" r="0.5"/><circle cx="54.9" cy="68.2" r="0.4"/><circle cx="174.5" cy="58.3" r="0.6"/><circle cx="157.8" cy="51.1" r="0.5"/><circle cx="143.7" cy="61.5" r="0.6"/><circle cx="49.9" cy="84.4" r="0.6"/><circle cx="111.3" cy="60.4" r="0.6"/><circle cx="166.9" cy="52.8" r="0.7"/><circle cx="138.6" cy="62.4" r="0.5"/><circle cx="162.1" cy="62.1" r="0.6"/><circle cx="74.9" cy="64.2" r="0.4"/><circle cx="100.1" cy="35.1" r="0.6"/><circle cx="75.1" cy="62.7" r="0.7"/><circle cx="167.3" cy="59.5" r="0.7"/><circle cx="151.1" cy="59.6" r="0.5"/><circle cx="124.9" cy="60.3" r="0.4"/><circle cx="111.8" cy="56.2" r="0.5"/><circle cx="166.4" cy="55.4" r="0.5"/><circle cx="79.7" cy="49.1" r="0.6"/><circle cx="175.5" cy="62.6" r="0.6"/><circle cx="143.3" cy="54.8" r="0.4"/><circle cx="135.6" cy="64.4" r="0.6"/><circle cx="121" cy="55.8" r="0.5"/><circle cx="55.1" cy="78" r="0.4"/><circle cx="56.9" cy="69.9" r="0.5"/><circle cx="147" cy="63" r="0.5"/><circle cx="135.5" cy="59.5" r="0.7"/><circle cx="88.4" cy="52.7" r="0.5"/><circle cx="157.7" cy="51.9" r="0.4"/><circle cx="63" cy="54.6" r="0.6"/><circle cx="131.9" cy="62.9" r="0.7"/><circle cx="92.9" cy="56.8" r="0.4"/><circle cx="91.1" cy="56.7" r="0.5"/><circle cx="91.3" cy="59.8" r="0.6"/><circle cx="80.1" cy="61.7" r="0.5"/><circle cx="69.9" cy="65.3" r="0.5"/><circle cx="159.4" cy="62.2" r="0.5"/><circle cx="49.2" cy="79.6" r="0.6"/><circle cx="56.3" cy="74.7" r="0.5"/><circle cx="102.1" cy="63.7" r="0.5"/><circle cx="169.8" cy="58.2" r="0.6"/><circle cx="119.7" cy="49.3" r="0.4"/><circle cx="170.3" cy="58.9" r="0.7"/><circle cx="70.6" cy="69.2" r="0.5"/><circle cx="140.6" cy="63.7" r="0.5"/><circle cx="133.6" cy="62.4" r="0.5"/><circle cx="66.3" cy="68.6" r="0.4"/><circle cx="104.8" cy="54.6" r="0.5"/><circle cx="124.8" cy="57.8" r="0.7"/><circle cx="141.3" cy="51.6" r="0.5"/><circle cx="70.9" cy="61.1" r="0.5"/><circle cx="49.4" cy="78.7" r="0.6"/><circle cx="120" cy="45.1" r="0.4"/><circle cx="170" cy="61.9" r="0.7"/><circle cx="107.4" cy="30.1" r="0.7"/><circle cx="172" cy="61.3" r="0.6"/><circle cx="49.2" cy="81.4" r="0.4"/><circle cx="123.3" cy="62.2" r="0.6"/><circle cx="62.2" cy="71.1" r="0.4"/><circle cx="58.1" cy="65.9" r="0.4"/><circle cx="72.6" cy="65.2" r="0.5"/><circle cx="163.9" cy="54.6" r="0.5"/><circle cx="171.7" cy="60.5" r="0.4"/><circle cx="48.1" cy="83.3" r="0.7"/><circle cx="99.4" cy="57.9" r="0.6"/><circle cx="111.4" cy="64.4" r="0.6"/><circle cx="151" cy="47.8" r="0.4"/><circle cx="164.4" cy="59" r="0.5"/><circle cx="71.8" cy="63.6" r="0.4"/><circle cx="141.4" cy="57.4" r="0.6"/><circle cx="131.1" cy="62.2" r="0.5"/><circle cx="99.8" cy="42.9" r="0.7"/><circle cx="164.2" cy="61.1" r="0.6"/><circle cx="146.2" cy="63.6" r="0.5"/><circle cx="50.6" cy="80.9" r="0.4"/><circle cx="120.2" cy="43.7" r="0.6"/><circle cx="100.8" cy="63" r="0.6"/><circle cx="64.6" cy="67.1" r="0.7"/><circle cx="128.4" cy="55" r="0.5"/><circle cx="146" cy="63" r="0.6"/><circle cx="156.7" cy="49" r="0.4"/><circle cx="114.1" cy="55.3" r="0.4"/><circle cx="63.6" cy="62" r="0.5"/><circle cx="138.9" cy="33.5" r="0.7"/><circle cx="173.4" cy="63.3" r="0.5"/><circle cx="98.2" cy="60.1" r="0.4"/><circle cx="63.5" cy="68.8" r="0.5"/><circle cx="149" cy="55.6" r="0.5"/><circle cx="168.6" cy="58.1" r="0.6"/><circle cx="93.9" cy="57" r="0.6"/><circle cx="53.4" cy="72.2" r="0.6"/><circle cx="150.4" cy="62.8" r="0.6"/><circle cx="60.6" cy="69.9" r="0.6"/><circle cx="73" cy="65.1" r="0.6"/><circle cx="127.4" cy="54.6" r="0.5"/><circle cx="83.1" cy="58.2" r="0.5"/><circle cx="146.3" cy="49.7" r="0.6"/><circle cx="83.4" cy="62.4" r="0.6"/><circle cx="56.3" cy="75.4" r="0.7"/><circle cx="161.3" cy="59.8" r="0.6"/><circle cx="112.2" cy="59.9" r="0.6"/><circle cx="57.5" cy="74.3" r="0.5"/><circle cx="132.3" cy="63.1" r="0.6"/><circle cx="144.8" cy="61.3" r="0.7"/><circle cx="124.7" cy="63.5" r="0.5"/><circle cx="104.7" cy="57.7" r="0.6"/><circle cx="147.3" cy="60.4" r="0.4"/><circle cx="172.7" cy="64.5" r="0.4"/><circle cx="58.8" cy="74.5" r="0.6"/><circle cx="65.1" cy="67.9" r="0.5"/><circle cx="59.1" cy="70.9" r="0.5"/><circle cx="143.3" cy="47.9" r="0.7"/><circle cx="122.6" cy="61.9" r="0.6"/><circle cx="60.2" cy="70.4" r="0.6"/><circle cx="87.4" cy="63.8" r="0.7"/><circle cx="57.9" cy="58.8" r="0.6"/><circle cx="86.6" cy="64.2" r="0.7"/><circle cx="119.9" cy="62.8" r="0.7"/><circle cx="172.3" cy="59.6" r="0.5"/><circle cx="90.5" cy="61.9" r="0.4"/><circle cx="66" cy="52.1" r="0.7"/><circle cx="145.8" cy="61.3" r="0.7"/><circle cx="141" cy="53.6" r="0.6"/><circle cx="93.7" cy="52.4" r="0.5"/><circle cx="154.3" cy="59.7" r="0.7"/><circle cx="54.7" cy="52" r="0.6"/><circle cx="87" cy="52.7" r="0.5"/><circle cx="88.2" cy="63.3" r="0.4"/><circle cx="150.4" cy="62.3" r="0.6"/><circle cx="66.5" cy="65.4" r="0.7"/><circle cx="83.7" cy="57.8" r="0.7"/><circle cx="142.3" cy="60.6" r="0.4"/><circle cx="120.6" cy="51.5" r="0.5"/><circle cx="161.7" cy="56.9" r="0.5"/><circle cx="173.5" cy="56.5" r="0.4"/><circle cx="121.8" cy="59.2" r="0.4"/><circle cx="112.8" cy="51.3" r="0.5"/><circle cx="143.4" cy="54.3" r="0.7"/><circle cx="100" cy="59.2" r="0.5"/><circle cx="82.3" cy="62.1" r="0.6"/><circle cx="110.7" cy="58" r="0.7"/><circle cx="118.7" cy="54.5" r="0.6"/><circle cx="143.9" cy="51.2" r="0.5"/><circle cx="48.7" cy="78" r="0.7"/><circle cx="110.3" cy="45" r="0.6"/><circle cx="150.6" cy="59.8" r="0.5"/><circle cx="98.2" cy="59.4" r="0.4"/><circle cx="87" cy="55.5" r="0.5"/><circle cx="110.5" cy="61.7" r="0.5"/><circle cx="121.3" cy="53.8" r="0.6"/><circle cx="77.6" cy="52.9" r="0.7"/><circle cx="103" cy="64.3" r="0.6"/><circle cx="58.7" cy="65.2" r="0.5"/><circle cx="146.2" cy="62.5" r="0.5"/><circle cx="126" cy="61.9" r="0.4"/><circle cx="67.1" cy="66.4" r="0.5"/><circle cx="98.9" cy="39.2" r="0.5"/><circle cx="67.2" cy="63.1" r="0.4"/><circle cx="136.5" cy="40.5" r="0.5"/><circle cx="88.3" cy="56.9" r="0.7"/><circle cx="120.3" cy="62.9" r="0.5"/><circle cx="126.7" cy="46.8" r="0.5"/><circle cx="116.8" cy="54.4" r="0.4"/><circle cx="90.3" cy="50.2" r="0.6"/><circle cx="85.1" cy="44.5" r="0.5"/><circle cx="84.3" cy="60.6" r="0.7"/><circle cx="89.7" cy="59" r="0.5"/><circle cx="85.4" cy="60.7" r="0.5"/><circle cx="90.5" cy="62.4" r="0.6"/><circle cx="79" cy="62.5" r="0.6"/><circle cx="51" cy="82" r="0.4"/><circle cx="72.7" cy="68.1" r="0.6"/><circle cx="163.7" cy="42.6" r="0.4"/><circle cx="168.2" cy="60.9" r="0.7"/><circle cx="94.9" cy="62.8" r="0.6"/><circle cx="175.2" cy="63.4" r="0.4"/><circle cx="138.4" cy="57.3" r="0.5"/><circle cx="125.3" cy="56" r="0.7"/><circle cx="100.5" cy="61.4" r="0.7"/><circle cx="62.2" cy="67.7" r="0.6"/><circle cx="133" cy="64.3" r="0.6"/><circle cx="102.1" cy="48.9" r="0.5"/><circle cx="170.9" cy="49.4" r="0.4"/><circle cx="65" cy="66.5" r="0.6"/><circle cx="150.1" cy="59" r="0.5"/><circle cx="132.6" cy="57.3" r="0.7"/><circle cx="171.1" cy="44.6" r="0.5"/><circle cx="77" cy="48.1" r="0.6"/><circle cx="77.4" cy="60.6" r="0.5"/><circle cx="78.9" cy="48.8" r="0.6"/><circle cx="57.8" cy="60.8" r="0.6"/><circle cx="100.4" cy="46.1" r="0.4"/><circle cx="79.7" cy="64.2" r="0.6"/><circle cx="75.4" cy="56.5" r="0.5"/><circle cx="139.6" cy="61.8" r="0.5"/><circle cx="167.5" cy="43.6" r="0.6"/><circle cx="150.1" cy="54.5" r="0.5"/><circle cx="172.1" cy="60" r="0.4"/><circle cx="135.1" cy="63.5" r="0.6"/><circle cx="57.7" cy="65.6" r="0.6"/></g>
<g fill="#3a58b2"><circle cx="175" cy="85.7" r="0.6"/><circle cx="172.3" cy="85.1" r="0.6"/><circle cx="134.6" cy="101.1" r="0.6"/><circle cx="161" cy="86.1" r="0.4"/><circle cx="57.4" cy="125" r="0.6"/><circle cx="147.8" cy="94" r="0.6"/><circle cx="96.3" cy="109.8" r="0.4"/><circle cx="60" cy="126.2" r="0.4"/><circle cx="119.6" cy="103.3" r="0.4"/><circle cx="88.8" cy="113.9" r="0.4"/><circle cx="115.7" cy="101.9" r="0.5"/><circle cx="80" cy="119.3" r="0.5"/><circle cx="58.1" cy="137.2" r="0.6"/><circle cx="126.9" cy="97.5" r="0.4"/><circle cx="160.5" cy="85.8" r="0.6"/><circle cx="89.6" cy="112.4" r="0.5"/><circle cx="65.7" cy="124" r="0.4"/><circle cx="52.1" cy="126.6" r="0.4"/><circle cx="104.5" cy="104.5" r="0.6"/><circle cx="93.7" cy="112.6" r="0.6"/><circle cx="85.3" cy="113.4" r="0.6"/><circle cx="137.2" cy="94.1" r="0.6"/><circle cx="102.7" cy="110.8" r="0.4"/><circle cx="69.7" cy="118.6" r="0.6"/><circle cx="110.6" cy="102.7" r="0.6"/><circle cx="170.2" cy="89.1" r="0.6"/><circle cx="140.6" cy="91.2" r="0.6"/><circle cx="53.5" cy="140.4" r="0.4"/><circle cx="82.6" cy="117.3" r="0.4"/><circle cx="159.4" cy="87.5" r="0.6"/><circle cx="155.7" cy="88.2" r="0.5"/><circle cx="106.6" cy="103.7" r="0.4"/><circle cx="79.4" cy="115.4" r="0.4"/><circle cx="114" cy="102.1" r="0.4"/><circle cx="91.2" cy="115.8" r="0.6"/><circle cx="98.7" cy="107.5" r="0.4"/><circle cx="165.8" cy="88" r="0.5"/><circle cx="56.4" cy="125.5" r="0.4"/><circle cx="60.1" cy="126.3" r="0.4"/><circle cx="162.1" cy="90.7" r="0.5"/><circle cx="170.2" cy="86.1" r="0.6"/><circle cx="85.5" cy="116.3" r="0.5"/><circle cx="91.2" cy="110.3" r="0.4"/><circle cx="125.7" cy="97" r="0.6"/><circle cx="132.7" cy="93.1" r="0.5"/><circle cx="88.4" cy="113.5" r="0.5"/><circle cx="52.5" cy="134.6" r="0.5"/><circle cx="150.8" cy="90.9" r="0.4"/><circle cx="57.6" cy="128.7" r="0.5"/><circle cx="161" cy="88.1" r="0.6"/><circle cx="172.6" cy="86.6" r="0.4"/><circle cx="170.9" cy="85.4" r="0.6"/><circle cx="129.5" cy="99.9" r="0.5"/><circle cx="95.2" cy="108.3" r="0.4"/><circle cx="128.1" cy="98" r="0.5"/><circle cx="69.4" cy="137.9" r="0.6"/><circle cx="66.9" cy="122.5" r="0.6"/><circle cx="102.4" cy="105.1" r="0.5"/><circle cx="127.9" cy="96.3" r="0.4"/><circle cx="110.8" cy="103.5" r="0.4"/><circle cx="107.8" cy="102.4" r="0.6"/><circle cx="110.3" cy="102.2" r="0.5"/><circle cx="138.6" cy="90.6" r="0.5"/><circle cx="81.8" cy="114.9" r="0.4"/><circle cx="130.9" cy="97.3" r="0.4"/><circle cx="75.8" cy="118.4" r="0.6"/><circle cx="140.8" cy="90.3" r="0.6"/><circle cx="111" cy="105" r="0.4"/><circle cx="132.9" cy="91.9" r="0.5"/><circle cx="127.3" cy="95.4" r="0.6"/><circle cx="68.4" cy="125.3" r="0.4"/><circle cx="51.5" cy="127.3" r="0.6"/><circle cx="67.8" cy="119.4" r="0.5"/><circle cx="152.4" cy="92.2" r="0.6"/><circle cx="119.1" cy="98.8" r="0.4"/><circle cx="126.8" cy="96.8" r="0.6"/><circle cx="133.7" cy="95.5" r="0.4"/><circle cx="90.4" cy="114" r="0.6"/><circle cx="58.6" cy="122.9" r="0.4"/><circle cx="172.4" cy="83.4" r="0.5"/><circle cx="161.1" cy="87" r="0.5"/><circle cx="60.8" cy="122.6" r="0.6"/><circle cx="145.3" cy="91.8" r="0.6"/><circle cx="72.3" cy="117.5" r="0.6"/><circle cx="170.9" cy="86.1" r="0.6"/><circle cx="67.5" cy="122.1" r="0.4"/><circle cx="141.2" cy="94.6" r="0.4"/><circle cx="116.8" cy="99.5" r="0.4"/><circle cx="128.2" cy="95.9" r="0.6"/><circle cx="114.7" cy="113.6" r="0.5"/><circle cx="130.3" cy="101.6" r="0.5"/><circle cx="133" cy="95.2" r="0.4"/><circle cx="54.7" cy="127.2" r="0.5"/><circle cx="134.4" cy="92.9" r="0.5"/><circle cx="53.2" cy="126.8" r="0.5"/><circle cx="90.8" cy="112.3" r="0.6"/><circle cx="117.7" cy="104.5" r="0.4"/><circle cx="149.6" cy="96.8" r="0.5"/><circle cx="115.6" cy="100.9" r="0.6"/><circle cx="144.2" cy="93.4" r="0.4"/><circle cx="110.1" cy="102.3" r="0.5"/><circle cx="96.4" cy="109.1" r="0.5"/><circle cx="98" cy="111.5" r="0.5"/><circle cx="70.1" cy="120" r="0.5"/><circle cx="53.3" cy="130.4" r="0.5"/><circle cx="143.5" cy="96.6" r="0.5"/><circle cx="175.6" cy="89.5" r="0.6"/><circle cx="110.1" cy="109.8" r="0.5"/><circle cx="174.8" cy="84.1" r="0.5"/><circle cx="161.4" cy="86.7" r="0.6"/><circle cx="62.9" cy="128" r="0.6"/><circle cx="141.9" cy="96.6" r="0.4"/><circle cx="166" cy="91.9" r="0.6"/><circle cx="157.8" cy="90" r="0.5"/><circle cx="152.9" cy="98.2" r="0.6"/><circle cx="144.6" cy="93" r="0.4"/><circle cx="53" cy="126.3" r="0.4"/><circle cx="81.2" cy="118.3" r="0.4"/><circle cx="132" cy="96.3" r="0.5"/><circle cx="157.6" cy="94" r="0.6"/><circle cx="151" cy="92.7" r="0.4"/><circle cx="140.3" cy="93.1" r="0.5"/><circle cx="150.2" cy="90" r="0.4"/><circle cx="69.1" cy="120.1" r="0.4"/><circle cx="77.5" cy="115.9" r="0.6"/><circle cx="70.9" cy="117.6" r="0.4"/><circle cx="164.1" cy="86.5" r="0.4"/><circle cx="65.5" cy="122.1" r="0.5"/><circle cx="151.7" cy="89.2" r="0.5"/><circle cx="68.9" cy="118.6" r="0.4"/><circle cx="77.8" cy="117.9" r="0.6"/><circle cx="137.9" cy="96.1" r="0.5"/><circle cx="129.6" cy="96.8" r="0.6"/><circle cx="157.5" cy="88.4" r="0.6"/><circle cx="64.2" cy="121" r="0.4"/><circle cx="166.5" cy="87.2" r="0.5"/><circle cx="129.5" cy="98.5" r="0.4"/><circle cx="81.2" cy="131.9" r="0.6"/><circle cx="124.9" cy="104.4" r="0.4"/><circle cx="54.3" cy="127" r="0.6"/><circle cx="70.2" cy="121" r="0.6"/><circle cx="123.5" cy="98.9" r="0.5"/><circle cx="145.4" cy="91.3" r="0.5"/><circle cx="68.4" cy="131.8" r="0.5"/><circle cx="68.8" cy="121.3" r="0.6"/><circle cx="82.1" cy="113.6" r="0.5"/><circle cx="174.7" cy="85.3" r="0.5"/><circle cx="160.8" cy="90.4" r="0.4"/><circle cx="108.5" cy="108.9" r="0.4"/><circle cx="55.6" cy="123.4" r="0.4"/><circle cx="125.2" cy="97.8" r="0.5"/><circle cx="140.1" cy="101.3" r="0.4"/><circle cx="51.1" cy="125.8" r="0.5"/><circle cx="79.6" cy="116.1" r="0.5"/><circle cx="62.6" cy="121.9" r="0.4"/><circle cx="155.9" cy="89.4" r="0.6"/><circle cx="145.9" cy="91.4" r="0.5"/><circle cx="57.7" cy="123.4" r="0.4"/><circle cx="57" cy="125" r="0.4"/><circle cx="127.4" cy="95.1" r="0.4"/><circle cx="148.2" cy="89" r="0.5"/><circle cx="159.8" cy="91.3" r="0.4"/><circle cx="68" cy="118.7" r="0.6"/><circle cx="124.3" cy="98.5" r="0.4"/><circle cx="87.9" cy="113.8" r="0.5"/><circle cx="152.7" cy="90.2" r="0.4"/><circle cx="142.5" cy="93.7" r="0.5"/><circle cx="146" cy="89" r="0.6"/><circle cx="128.7" cy="95.7" r="0.6"/><circle cx="67.3" cy="134.3" r="0.6"/><circle cx="98.6" cy="107.9" r="0.6"/><circle cx="104.4" cy="104.1" r="0.4"/><circle cx="95.7" cy="108.4" r="0.4"/><circle cx="90.1" cy="110.6" r="0.6"/><circle cx="172.9" cy="83.7" r="0.5"/><circle cx="128.7" cy="96.8" r="0.5"/><circle cx="104.2" cy="108.7" r="0.6"/><circle cx="79.5" cy="130.3" r="0.4"/><circle cx="83.4" cy="117.5" r="0.6"/><circle cx="141.9" cy="94.4" r="0.5"/><circle cx="75.9" cy="121.3" r="0.4"/><circle cx="157.4" cy="89.7" r="0.4"/><circle cx="157.9" cy="91.7" r="0.4"/><circle cx="67.2" cy="121.2" r="0.4"/><circle cx="121.7" cy="99" r="0.5"/><circle cx="174.3" cy="82" r="0.5"/><circle cx="145.5" cy="90" r="0.6"/><circle cx="62.3" cy="121.7" r="0.6"/><circle cx="71.8" cy="120.4" r="0.4"/><circle cx="106.2" cy="104.3" r="0.6"/><circle cx="103.2" cy="108.4" r="0.6"/><circle cx="71.6" cy="121.6" r="0.5"/><circle cx="163.7" cy="84.4" r="0.5"/><circle cx="94.4" cy="116.9" r="0.5"/><circle cx="79.7" cy="117" r="0.6"/><circle cx="145.3" cy="92.3" r="0.4"/><circle cx="115.2" cy="100.8" r="0.5"/><circle cx="76.1" cy="121.5" r="0.4"/><circle cx="168.8" cy="86.1" r="0.5"/><circle cx="54.9" cy="125.4" r="0.5"/><circle cx="145.1" cy="90" r="0.5"/><circle cx="109" cy="100.6" r="0.4"/><circle cx="132.8" cy="92.9" r="0.5"/><circle cx="71.1" cy="121.8" r="0.5"/><circle cx="100.7" cy="105.9" r="0.5"/><circle cx="168.8" cy="86.9" r="0.5"/><circle cx="165.1" cy="87.8" r="0.4"/><circle cx="102.7" cy="112" r="0.4"/><circle cx="64" cy="125.8" r="0.6"/><circle cx="60.6" cy="122.3" r="0.4"/><circle cx="78.8" cy="118.9" r="0.6"/><circle cx="103.6" cy="110.4" r="0.4"/><circle cx="117" cy="98.9" r="0.5"/><circle cx="114.1" cy="102.1" r="0.6"/><circle cx="73.7" cy="115.6" r="0.4"/><circle cx="126.7" cy="94.7" r="0.5"/><circle cx="136.1" cy="94.4" r="0.6"/><circle cx="144.3" cy="91.8" r="0.6"/><circle cx="154.9" cy="87.6" r="0.4"/><circle cx="142.1" cy="91.7" r="0.6"/><circle cx="125.7" cy="97.8" r="0.4"/><circle cx="156.4" cy="88.1" r="0.5"/><circle cx="161.9" cy="90.3" r="0.6"/><circle cx="72.1" cy="118.2" r="0.4"/><circle cx="78.1" cy="118.6" r="0.6"/><circle cx="136.1" cy="97.1" r="0.6"/><circle cx="89.8" cy="116.3" r="0.4"/><circle cx="107.1" cy="102.4" r="0.4"/><circle cx="88.9" cy="116.2" r="0.6"/><circle cx="136.2" cy="93" r="0.5"/><circle cx="72" cy="118.7" r="0.6"/><circle cx="156" cy="86.6" r="0.6"/><circle cx="165.8" cy="83.9" r="0.5"/><circle cx="117.5" cy="98.8" r="0.6"/><circle cx="85" cy="117.1" r="0.4"/><circle cx="126.3" cy="97.4" r="0.4"/><circle cx="135" cy="92.3" r="0.5"/><circle cx="130.3" cy="101.7" r="0.5"/><circle cx="65.4" cy="121.3" r="0.5"/><circle cx="75.3" cy="117.1" r="0.5"/><circle cx="129" cy="99.7" r="0.4"/><circle cx="96.8" cy="111.8" r="0.4"/><circle cx="109" cy="103" r="0.6"/><circle cx="60.6" cy="130" r="0.4"/><circle cx="59.4" cy="125.5" r="0.6"/><circle cx="175.9" cy="87.6" r="0.6"/><circle cx="149" cy="92.5" r="0.4"/><circle cx="76.4" cy="122" r="0.4"/><circle cx="126.5" cy="95.4" r="0.6"/><circle cx="95.3" cy="109.9" r="0.5"/><circle cx="102.4" cy="107.2" r="0.5"/><circle cx="123.1" cy="96.8" r="0.5"/><circle cx="120.8" cy="98.7" r="0.5"/><circle cx="51.3" cy="129" r="0.4"/><circle cx="133.3" cy="97.2" r="0.6"/><circle cx="119.4" cy="99.9" r="0.4"/><circle cx="90.3" cy="114.9" r="0.6"/><circle cx="135.9" cy="91" r="0.4"/><circle cx="173.6" cy="85.5" r="0.5"/><circle cx="140.5" cy="92.3" r="0.4"/><circle cx="71.6" cy="118.8" r="0.6"/><circle cx="99.7" cy="109.9" r="0.4"/><circle cx="51.1" cy="129" r="0.4"/><circle cx="133.1" cy="93.3" r="0.5"/><circle cx="66" cy="124" r="0.4"/><circle cx="85.9" cy="112.8" r="0.6"/><circle cx="105" cy="109.6" r="0.6"/><circle cx="127.1" cy="99.9" r="0.6"/><circle cx="106.5" cy="107.6" r="0.6"/><circle cx="149.3" cy="90.2" r="0.5"/><circle cx="77.7" cy="118.8" r="0.6"/><circle cx="149.4" cy="89.5" r="0.4"/><circle cx="136.8" cy="93.2" r="0.6"/><circle cx="101.7" cy="105.5" r="0.6"/><circle cx="157.9" cy="87.6" r="0.4"/><circle cx="65.3" cy="130.3" r="0.6"/><circle cx="105.9" cy="104.6" r="0.4"/><circle cx="134" cy="94.4" r="0.6"/><circle cx="175.6" cy="88.1" r="0.6"/><circle cx="141.7" cy="91.1" r="0.4"/><circle cx="152.9" cy="87.7" r="0.4"/><circle cx="109.8" cy="105.7" r="0.6"/><circle cx="74.5" cy="119.1" r="0.4"/><circle cx="64.7" cy="125" r="0.6"/><circle cx="174.1" cy="87.5" r="0.6"/><circle cx="131.1" cy="95" r="0.5"/><circle cx="125.6" cy="109.6" r="0.4"/><circle cx="141.4" cy="91.1" r="0.4"/><circle cx="72.9" cy="116" r="0.4"/><circle cx="147.5" cy="92.9" r="0.5"/><circle cx="126.6" cy="106.4" r="0.6"/><circle cx="151.6" cy="90" r="0.6"/><circle cx="77.7" cy="119.6" r="0.6"/></g>
<path d="M48 84 C50 74.4 55.3 74.2 60 71 C64.7 67.8 70.7 66.2 76 65 C81.3 63.8 85.5 63.8 92 63.5 C98.5 63.2 105.3 63.1 115 63 C124.7 62.9 139.5 63.1 150 63 C160.5 62.9 173.3 59.2 178 62.5 C182.7 65.8 182.7 78.6 178 83 C173.3 87.4 156.4 87.6 150 89 C143.6 90.4 145.5 89.3 139.7 91.2 C133.9 93.1 124.3 96.4 115 100.3 C105.7 104.2 91.8 111.2 84 114.4 C76.2 117.7 74.4 117.5 68.4 119.8 C62.4 122.1 51.4 134.5 48 128.5 C44.6 122.5 46 93.6 48 84Z" fill="#3a58b2" filter="url(#b05)"/>
<path d="M49 100 C50.8 93.8 54.8 89.7 60 85 C65.2 80.3 70.8 75 80 72 C89.2 69 98.7 68 115 67 C131.3 66 167.5 63.8 178 66 C188.5 68.2 182.7 76.7 178 80 C173.3 83.3 161.3 83 150 86 C138.7 89 122.5 93.7 110 98 C97.5 102.3 85.2 108 75 112 C64.8 116 53.3 124 49 122 C44.7 120 47.2 106.2 49 100Z" fill="#2c44a0" filter="url(#b2)" opacity="0.5"/>
<path d="M62 96 C62.8 91.3 64.2 87.3 68 84 C71.8 80.7 77.2 78.2 85 76 C92.8 73.8 106.7 72.2 115 71 C123.3 69.8 129.8 69.2 135 69 C140.2 68.8 146.5 68.2 146 70 C145.5 71.8 137.2 76.3 132 80 C126.8 83.7 120.3 87.7 115 92 C109.7 96.3 106.2 102.3 100 106 C93.8 109.7 84.2 113 78 114 C71.8 115 65.7 115 63 112 C60.3 109 61.2 100.7 62 96Z" fill="#38b6e6" filter="url(#b1)" opacity="0.95"/>
<path d="M60 98 C60.2 95.7 62.2 93 63 94 C63.8 95 65.2 101.7 65 104 C64.8 106.3 62.8 109 62 108 C61.2 107 59.8 100.3 60 98Z" fill="#38b6e6" filter="url(#b1)" opacity="0.8"/>
<path d="M70 90 C71.7 87.3 73.8 85.7 78 84 C82.2 82.3 89.3 81 95 80 C100.7 79 107.5 78.2 112 78 C116.5 77.8 122 77.3 122 79 C122 80.7 115.7 84.8 112 88 C108.3 91.2 104.3 95 100 98 C95.7 101 90.3 104.3 86 106 C81.7 107.7 77 109 74 108 C71 107 68.7 103 68 100 C67.3 97 68.3 92.7 70 90Z" fill="#7cc54a" filter="url(#b1)"/>
<ellipse cx="84.8" cy="95.6" rx="7.2" ry="8" fill="#f3e41f" filter="url(#b1)"/>
<ellipse cx="83.8" cy="92.4" rx="3.8" ry="2.9" fill="#e2261d" transform="rotate(-15 83.8 92.4)" filter="url(#b05)"/>
<ellipse cx="85.6" cy="98.8" rx="3.7" ry="2.7" fill="#e2261d" transform="rotate(-15 85.6 98.8)" filter="url(#b05)"/>
</g>
<path d="M64.5 114.3 L75 121.3 L110.6 110.9 L140.6 92 L144.1 76 L125.3 64.4 L96.7 66.9 L79.2 73.2 L68 85Z" stroke="#231f20" stroke-width="1" fill="none"/>
<g clip-path="url(#ca1)">
<g fill="#3a58b2"><circle cx="239.5" cy="95.2" r="0.4"/><circle cx="254.2" cy="78.6" r="0.4"/><circle cx="257.5" cy="116.7" r="0.4"/><circle cx="260.8" cy="101.1" r="0.4"/><circle cx="261.4" cy="90.8" r="0.3"/><circle cx="247.4" cy="104.4" r="0.3"/><circle cx="265.4" cy="90.5" r="0.6"/><circle cx="279.1" cy="86.5" r="0.6"/><circle cx="239.2" cy="88" r="0.5"/><circle cx="238.2" cy="78.1" r="0.6"/><circle cx="246.1" cy="78.7" r="0.4"/><circle cx="238.4" cy="82.7" r="0.6"/><circle cx="242.4" cy="97.4" r="0.6"/><circle cx="256.8" cy="95.6" r="0.4"/><circle cx="240.2" cy="103" r="0.5"/><circle cx="240" cy="84.2" r="0.4"/><circle cx="279" cy="108.4" r="0.3"/><circle cx="239.5" cy="108.9" r="0.5"/><circle cx="238.6" cy="87.1" r="0.5"/><circle cx="247.5" cy="87.8" r="0.5"/><circle cx="260.7" cy="95" r="0.3"/><circle cx="267.2" cy="88.3" r="0.4"/><circle cx="246.6" cy="96.6" r="0.5"/><circle cx="249.8" cy="102.3" r="0.5"/><circle cx="241.4" cy="100.5" r="0.4"/><circle cx="239.9" cy="93.1" r="0.4"/><circle cx="238.5" cy="101.2" r="0.6"/><circle cx="254.7" cy="88.6" r="0.5"/><circle cx="257.9" cy="89.2" r="0.4"/><circle cx="249.3" cy="108" r="0.5"/><circle cx="258.9" cy="99.1" r="0.5"/><circle cx="260.9" cy="102.8" r="0.6"/><circle cx="239.8" cy="93.3" r="0.5"/><circle cx="257.2" cy="98.9" r="0.5"/><circle cx="259.2" cy="81.7" r="0.6"/><circle cx="252.6" cy="92.5" r="0.5"/><circle cx="250.4" cy="77.3" r="0.5"/><circle cx="239.9" cy="92.8" r="0.4"/><circle cx="245.7" cy="82" r="0.4"/><circle cx="244.9" cy="97.8" r="0.4"/><circle cx="244.5" cy="96.8" r="0.3"/><circle cx="255.9" cy="93.4" r="0.4"/><circle cx="246.3" cy="85.5" r="0.4"/><circle cx="238.2" cy="87.3" r="0.6"/><circle cx="277.2" cy="94" r="0.4"/><circle cx="238.8" cy="102" r="0.6"/><circle cx="263.4" cy="95.5" r="0.5"/><circle cx="260.3" cy="102.4" r="0.4"/><circle cx="244.9" cy="94.6" r="0.6"/><circle cx="265.3" cy="113.7" r="0.3"/><circle cx="250.6" cy="108.7" r="0.4"/><circle cx="240.2" cy="90.9" r="0.3"/><circle cx="256.4" cy="110.6" r="0.5"/><circle cx="247" cy="100.3" r="0.6"/><circle cx="275.8" cy="92.8" r="0.5"/><circle cx="245.6" cy="90" r="0.4"/><circle cx="275" cy="95.8" r="0.4"/><circle cx="243.9" cy="88" r="0.5"/><circle cx="243.5" cy="76.9" r="0.4"/><circle cx="255.8" cy="100.9" r="0.4"/><circle cx="278.5" cy="106.2" r="0.5"/><circle cx="239.6" cy="89.8" r="0.4"/><circle cx="251.7" cy="87.9" r="0.3"/><circle cx="239.9" cy="85.9" r="0.5"/><circle cx="240.6" cy="87.9" r="0.6"/><circle cx="248.1" cy="105.6" r="0.4"/><circle cx="250.3" cy="90.8" r="0.3"/><circle cx="242.3" cy="108.4" r="0.4"/><circle cx="271.4" cy="99.5" r="0.3"/><circle cx="241.4" cy="97.6" r="0.4"/><circle cx="245" cy="93.4" r="0.4"/><circle cx="245.1" cy="83.4" r="0.5"/><circle cx="270.7" cy="74.5" r="0.4"/><circle cx="291.3" cy="110.3" r="0.5"/><circle cx="254" cy="88.2" r="0.3"/><circle cx="268.3" cy="101.3" r="0.4"/><circle cx="254.8" cy="82.3" r="0.4"/><circle cx="240.7" cy="95.1" r="0.4"/><circle cx="254" cy="93.3" r="0.5"/><circle cx="245.9" cy="92.8" r="0.3"/><circle cx="242.2" cy="96.6" r="0.5"/><circle cx="243.5" cy="109.4" r="0.4"/><circle cx="242.8" cy="91" r="0.5"/><circle cx="259.8" cy="103.7" r="0.5"/><circle cx="268.3" cy="92.7" r="0.3"/><circle cx="240.5" cy="88.6" r="0.4"/><circle cx="248.5" cy="98.8" r="0.4"/><circle cx="241.9" cy="81.5" r="0.6"/><circle cx="257.6" cy="92.7" r="0.6"/><circle cx="242.1" cy="94.9" r="0.6"/><circle cx="239.7" cy="87.3" r="0.6"/><circle cx="242.9" cy="85.5" r="0.3"/><circle cx="241.1" cy="101.1" r="0.5"/><circle cx="254" cy="68.4" r="0.4"/><circle cx="242.5" cy="115.4" r="0.3"/><circle cx="251.3" cy="108.1" r="0.4"/><circle cx="240.9" cy="72.9" r="0.4"/><circle cx="240.5" cy="100.6" r="0.5"/><circle cx="253" cy="87.7" r="0.6"/><circle cx="239.6" cy="91.8" r="0.4"/><circle cx="241.9" cy="82" r="0.5"/><circle cx="256.2" cy="93.2" r="0.6"/><circle cx="246.8" cy="110.2" r="0.3"/><circle cx="243.4" cy="97.2" r="0.3"/><circle cx="250.9" cy="94.6" r="0.4"/><circle cx="264.7" cy="89.9" r="0.5"/><circle cx="239.6" cy="85.9" r="0.4"/><circle cx="240.4" cy="77.4" r="0.5"/><circle cx="243.4" cy="96.4" r="0.4"/><circle cx="239.9" cy="96.3" r="0.4"/><circle cx="249.2" cy="84.1" r="0.5"/><circle cx="239.3" cy="89.2" r="0.4"/><circle cx="275.9" cy="112.7" r="0.5"/><circle cx="248.7" cy="77.1" r="0.5"/><circle cx="249.9" cy="98.9" r="0.3"/><circle cx="267.1" cy="100.9" r="0.4"/><circle cx="245.3" cy="88.7" r="0.5"/><circle cx="260.2" cy="93.6" r="0.5"/><circle cx="267.8" cy="93.2" r="0.5"/><circle cx="254.5" cy="99" r="0.4"/><circle cx="243.9" cy="102.7" r="0.4"/><circle cx="261.4" cy="110.6" r="0.4"/><circle cx="243.4" cy="77.4" r="0.6"/><circle cx="244.1" cy="91.5" r="0.5"/><circle cx="245.2" cy="103.1" r="0.5"/><circle cx="244.3" cy="80.7" r="0.4"/><circle cx="268.3" cy="98.5" r="0.3"/><circle cx="241" cy="85" r="0.6"/><circle cx="238.6" cy="96.1" r="0.5"/><circle cx="248.9" cy="82.4" r="0.4"/><circle cx="249.4" cy="111.5" r="0.3"/><circle cx="240.1" cy="103.2" r="0.5"/><circle cx="252.3" cy="98.9" r="0.6"/><circle cx="238.7" cy="79.1" r="0.3"/><circle cx="241.8" cy="93.4" r="0.5"/><circle cx="258.6" cy="88.8" r="0.3"/><circle cx="248.5" cy="106.1" r="0.4"/><circle cx="247.1" cy="83.9" r="0.4"/><circle cx="283.3" cy="100.9" r="0.4"/><circle cx="256.4" cy="79.5" r="0.4"/><circle cx="260.4" cy="81" r="0.5"/><circle cx="246.4" cy="107.7" r="0.5"/><circle cx="260.9" cy="69.4" r="0.3"/><circle cx="269.9" cy="90.9" r="0.5"/><circle cx="247.4" cy="96.3" r="0.4"/><circle cx="255.5" cy="89.6" r="0.5"/><circle cx="244.5" cy="106.3" r="0.3"/><circle cx="239.8" cy="91.7" r="0.3"/><circle cx="249.8" cy="90.2" r="0.4"/><circle cx="239.1" cy="98.5" r="0.6"/><circle cx="263.5" cy="84.7" r="0.4"/><circle cx="250.9" cy="89.8" r="0.4"/><circle cx="289.9" cy="116.2" r="0.5"/><circle cx="239.1" cy="88.2" r="0.3"/><circle cx="243.9" cy="99.6" r="0.6"/><circle cx="263.2" cy="102.7" r="0.6"/><circle cx="241.5" cy="92.8" r="0.4"/><circle cx="238.8" cy="94" r="0.5"/><circle cx="243" cy="87.1" r="0.5"/><circle cx="243" cy="82.1" r="0.5"/><circle cx="254.4" cy="91.5" r="0.4"/><circle cx="242.7" cy="82.4" r="0.3"/><circle cx="246.8" cy="88.5" r="0.6"/><circle cx="267.6" cy="91.1" r="0.6"/><circle cx="261.7" cy="88.5" r="0.4"/><circle cx="256.7" cy="94.7" r="0.6"/><circle cx="239.7" cy="100.7" r="0.4"/><circle cx="250.7" cy="93.9" r="0.3"/><circle cx="264" cy="83.3" r="0.4"/><circle cx="243.1" cy="109.8" r="0.4"/><circle cx="285.2" cy="79.7" r="0.3"/><circle cx="249" cy="83.8" r="0.5"/><circle cx="295.8" cy="104.1" r="0.4"/><circle cx="248.7" cy="100.3" r="0.3"/><circle cx="278.9" cy="94.7" r="0.4"/><circle cx="249.5" cy="85.3" r="0.6"/><circle cx="279.1" cy="108.1" r="0.6"/><circle cx="242.2" cy="93.3" r="0.4"/><circle cx="278.4" cy="94.9" r="0.4"/><circle cx="244.4" cy="86.8" r="0.5"/><circle cx="252.8" cy="90.3" r="0.3"/><circle cx="273.4" cy="111.2" r="0.4"/><circle cx="240.2" cy="98.4" r="0.3"/><circle cx="260.2" cy="84" r="0.6"/><circle cx="274.5" cy="87.9" r="0.5"/><circle cx="293.7" cy="96.8" r="0.5"/><circle cx="253.5" cy="99.4" r="0.5"/><circle cx="264.4" cy="86.3" r="0.4"/><circle cx="265.4" cy="108" r="0.5"/><circle cx="240.2" cy="94" r="0.6"/><circle cx="246.1" cy="96.8" r="0.5"/><circle cx="245.8" cy="101.8" r="0.3"/><circle cx="239.4" cy="91.1" r="0.4"/><circle cx="261.1" cy="89.5" r="0.6"/><circle cx="267.9" cy="96.1" r="0.5"/><circle cx="250.8" cy="94.4" r="0.4"/><circle cx="238.3" cy="86" r="0.5"/><circle cx="293.2" cy="102.2" r="0.4"/><circle cx="239.1" cy="90.7" r="0.4"/><circle cx="246.1" cy="88.8" r="0.6"/><circle cx="243.5" cy="88.4" r="0.3"/><circle cx="245.2" cy="102.6" r="0.5"/><circle cx="243.5" cy="94.4" r="0.3"/><circle cx="251.8" cy="87.7" r="0.4"/><circle cx="273" cy="110.3" r="0.5"/><circle cx="244.5" cy="102.3" r="0.3"/><circle cx="251.2" cy="94.2" r="0.4"/><circle cx="254.2" cy="82.9" r="0.5"/><circle cx="245.7" cy="97" r="0.5"/><circle cx="269.8" cy="106.7" r="0.6"/><circle cx="249.4" cy="90.1" r="0.5"/><circle cx="256.8" cy="100.5" r="0.4"/><circle cx="254.4" cy="103.8" r="0.6"/><circle cx="246" cy="92.9" r="0.5"/><circle cx="266.2" cy="98.2" r="0.6"/><circle cx="238.9" cy="100.1" r="0.4"/><circle cx="247.1" cy="92.7" r="0.6"/><circle cx="253.5" cy="80.1" r="0.3"/><circle cx="239" cy="101.5" r="0.3"/><circle cx="248.5" cy="95.6" r="0.5"/><circle cx="241.2" cy="98.2" r="0.6"/><circle cx="244.2" cy="85.2" r="0.5"/><circle cx="248.9" cy="92" r="0.3"/><circle cx="242" cy="108.4" r="0.4"/><circle cx="267.9" cy="92.7" r="0.4"/><circle cx="251.2" cy="93.6" r="0.5"/><circle cx="239.6" cy="93.8" r="0.5"/><circle cx="245.7" cy="83.7" r="0.4"/><circle cx="256.6" cy="83.4" r="0.5"/><circle cx="240.1" cy="109" r="0.5"/><circle cx="251.9" cy="97.7" r="0.4"/><circle cx="242.4" cy="102.5" r="0.3"/><circle cx="243.8" cy="87.2" r="0.4"/><circle cx="239" cy="111.5" r="0.5"/><circle cx="238.1" cy="89.3" r="0.4"/><circle cx="239.7" cy="89.7" r="0.5"/><circle cx="260" cy="76.5" r="0.3"/><circle cx="238.2" cy="106.5" r="0.5"/><circle cx="248.2" cy="103.3" r="0.4"/><circle cx="265.2" cy="101.9" r="0.3"/><circle cx="294.9" cy="106" r="0.4"/><circle cx="258.6" cy="98.7" r="0.6"/><circle cx="258.9" cy="81.9" r="0.6"/><circle cx="284.3" cy="114" r="0.4"/><circle cx="243.5" cy="100.3" r="0.4"/><circle cx="239.9" cy="95.8" r="0.6"/><circle cx="247.6" cy="89.7" r="0.5"/><circle cx="243.7" cy="81.9" r="0.4"/><circle cx="257.1" cy="88.2" r="0.4"/><circle cx="264.4" cy="74.5" r="0.5"/><circle cx="249.9" cy="83" r="0.3"/><circle cx="239.4" cy="98.6" r="0.4"/><circle cx="239.8" cy="106" r="0.5"/><circle cx="251.4" cy="98.2" r="0.4"/><circle cx="255.9" cy="100.5" r="0.4"/><circle cx="249.6" cy="81.6" r="0.4"/><circle cx="242.4" cy="103.5" r="0.5"/><circle cx="275.8" cy="114" r="0.4"/><circle cx="242.3" cy="89.3" r="0.4"/><circle cx="248.9" cy="93.1" r="0.4"/><circle cx="271.7" cy="82.6" r="0.5"/><circle cx="259.5" cy="87.9" r="0.4"/><circle cx="238" cy="107.8" r="0.3"/><circle cx="239.7" cy="90.2" r="0.4"/><circle cx="253" cy="95.1" r="0.4"/><circle cx="238.1" cy="93.3" r="0.4"/><circle cx="244.7" cy="93" r="0.4"/><circle cx="241.9" cy="93.1" r="0.4"/><circle cx="245.5" cy="87.6" r="0.3"/><circle cx="263.4" cy="102.1" r="0.5"/><circle cx="247.5" cy="100" r="0.6"/><circle cx="246.6" cy="93.1" r="0.4"/><circle cx="262" cy="98.9" r="0.5"/><circle cx="249.5" cy="90.3" r="0.3"/><circle cx="243.4" cy="82.4" r="0.5"/><circle cx="251.6" cy="83.8" r="0.4"/><circle cx="239" cy="109.3" r="0.6"/><circle cx="271" cy="98" r="0.3"/><circle cx="258.5" cy="98.8" r="0.4"/><circle cx="265.5" cy="103.7" r="0.5"/><circle cx="263" cy="77.3" r="0.4"/><circle cx="250" cy="108.7" r="0.5"/><circle cx="241.7" cy="89.3" r="0.5"/><circle cx="240.9" cy="95.2" r="0.3"/><circle cx="242.6" cy="84.2" r="0.5"/><circle cx="264.9" cy="83.9" r="0.5"/><circle cx="241.3" cy="86.9" r="0.4"/><circle cx="240.2" cy="91.1" r="0.3"/><circle cx="244" cy="103" r="0.3"/><circle cx="241.5" cy="83.6" r="0.5"/><circle cx="248.6" cy="97.4" r="0.5"/><circle cx="250.9" cy="94.3" r="0.3"/><circle cx="258.7" cy="95.3" r="0.5"/><circle cx="243.8" cy="105.1" r="0.6"/><circle cx="245" cy="82.5" r="0.6"/><circle cx="299.5" cy="106.4" r="0.5"/><circle cx="248.8" cy="90.5" r="0.6"/><circle cx="287.4" cy="81.9" r="0.5"/><circle cx="241.4" cy="83.4" r="0.4"/><circle cx="259.3" cy="90" r="0.4"/><circle cx="255.3" cy="83.7" r="0.5"/><circle cx="256.1" cy="94.9" r="0.6"/><circle cx="253.5" cy="86.6" r="0.4"/><circle cx="277.5" cy="87" r="0.3"/><circle cx="246.9" cy="96" r="0.5"/><circle cx="243.2" cy="101" r="0.3"/><circle cx="240.6" cy="98.8" r="0.4"/><circle cx="244" cy="81.3" r="0.4"/><circle cx="240" cy="92.2" r="0.3"/><circle cx="249.5" cy="101" r="0.4"/><circle cx="243.4" cy="91.2" r="0.5"/><circle cx="247.5" cy="93.4" r="0.3"/><circle cx="241.2" cy="91.5" r="0.4"/><circle cx="226.8" cy="110.2" r="0.45"/><circle cx="227.7" cy="124.9" r="0.45"/><circle cx="230.7" cy="123.6" r="0.45"/><circle cx="231.1" cy="116.7" r="0.45"/><circle cx="236.2" cy="117.5" r="0.45"/><circle cx="239.1" cy="118.9" r="0.45"/><circle cx="229.8" cy="116.7" r="0.45"/><circle cx="234.4" cy="117.3" r="0.45"/><circle cx="226.2" cy="116" r="0.45"/><circle cx="238.2" cy="115.4" r="0.45"/><circle cx="226.1" cy="116.6" r="0.45"/><circle cx="222.9" cy="126.4" r="0.45"/><circle cx="224" cy="106.8" r="0.45"/><circle cx="220.5" cy="118.9" r="0.45"/><circle cx="222.6" cy="118.4" r="0.45"/><circle cx="227.1" cy="116.5" r="0.45"/><circle cx="235.2" cy="116.4" r="0.45"/><circle cx="220.6" cy="111.1" r="0.45"/><circle cx="237.6" cy="113.4" r="0.45"/><circle cx="228.4" cy="123.7" r="0.45"/><circle cx="237.6" cy="114.9" r="0.45"/><circle cx="221.3" cy="118.4" r="0.45"/><circle cx="228.9" cy="120.3" r="0.45"/><circle cx="237.2" cy="118.7" r="0.45"/><circle cx="230.6" cy="119.5" r="0.45"/><circle cx="228.6" cy="116.3" r="0.45"/><circle cx="228.3" cy="120.4" r="0.45"/><circle cx="238.3" cy="120" r="0.45"/><circle cx="233.9" cy="112.5" r="0.45"/><circle cx="236.9" cy="117.7" r="0.45"/><circle cx="239" cy="116.9" r="0.45"/><circle cx="237.2" cy="117.3" r="0.45"/><circle cx="221.6" cy="118.1" r="0.45"/><circle cx="229.3" cy="120.2" r="0.45"/><circle cx="230.8" cy="113.6" r="0.45"/><circle cx="221.1" cy="119.1" r="0.45"/><circle cx="233.8" cy="114.7" r="0.45"/><circle cx="236.3" cy="117.2" r="0.45"/><circle cx="238.7" cy="128.2" r="0.45"/><circle cx="219.5" cy="112.6" r="0.45"/><circle cx="226.5" cy="115.1" r="0.45"/><circle cx="234.4" cy="119" r="0.45"/><circle cx="237.9" cy="121.1" r="0.45"/><circle cx="239.3" cy="121.6" r="0.45"/><circle cx="237.6" cy="116.2" r="0.45"/><circle cx="228" cy="118.6" r="0.45"/><circle cx="229.4" cy="118.6" r="0.45"/><circle cx="224.1" cy="115.5" r="0.45"/><circle cx="239.7" cy="123.5" r="0.45"/><circle cx="220.1" cy="118.4" r="0.45"/><circle cx="234.5" cy="109.9" r="0.45"/><circle cx="222.9" cy="122.2" r="0.45"/><circle cx="237.3" cy="118.2" r="0.45"/><circle cx="219.9" cy="119.2" r="0.45"/><circle cx="219.7" cy="109.8" r="0.45"/><circle cx="225.8" cy="124.9" r="0.45"/><circle cx="233.8" cy="122.7" r="0.45"/><circle cx="229.9" cy="119" r="0.45"/><circle cx="220.2" cy="114.2" r="0.45"/><circle cx="225.2" cy="115.9" r="0.45"/></g>
<path d="M218.5 63.5 C219.8 60.8 221.4 63.4 224 64 C226.6 64.6 230.5 64.5 234 67 C237.5 69.5 241.8 74.8 245 79 C248.2 83.2 252.3 88 253 92 C253.7 96 251.2 100.2 249 103 C246.8 105.8 243.5 107 240 109 C236.5 111 231.5 113.4 228 115 C224.5 116.6 220.9 120.2 219 118.5 C217.1 116.8 216.9 111.4 216.5 105 C216.1 98.6 216.2 86.9 216.5 80 C216.8 73.1 217.2 66.2 218.5 63.5Z" fill="#3a58b2" filter="url(#b05)"/>
<ellipse cx="220.5" cy="92" rx="2.6" ry="19" fill="#38b6e6" filter="url(#b05)"/>
<ellipse cx="220.3" cy="92" rx="1.5" ry="12" fill="#7cc54a" filter="url(#b05)"/>
<ellipse cx="220.2" cy="92" rx="1" ry="5.5" fill="#f39a1e" filter="url(#b05)"/>
</g>
<rect x="209.3" y="57.4" width="24.4" height="69.1" stroke="#231f20" stroke-width="1" fill="none"/>
<g clip-path="url(#ca2)">
<g fill="#3a58b2"><circle cx="394.8" cy="127.4" r="0.4"/><circle cx="404.5" cy="126.4" r="0.6"/><circle cx="403.4" cy="118.8" r="0.5"/><circle cx="382.1" cy="134.8" r="0.5"/><circle cx="406.2" cy="129" r="0.5"/><circle cx="385.1" cy="141.6" r="0.4"/><circle cx="402.4" cy="122.1" r="0.6"/><circle cx="407.5" cy="120.7" r="0.5"/><circle cx="388.2" cy="143.1" r="0.5"/><circle cx="390.9" cy="132.4" r="0.4"/><circle cx="387.6" cy="140.8" r="0.4"/><circle cx="390.9" cy="130.2" r="0.6"/><circle cx="382.9" cy="148.5" r="0.6"/><circle cx="386" cy="140.7" r="0.6"/><circle cx="387.2" cy="144.6" r="0.4"/><circle cx="383.2" cy="144.4" r="0.5"/><circle cx="388.5" cy="133.1" r="0.5"/><circle cx="384.6" cy="143.8" r="0.5"/><circle cx="381" cy="152.8" r="0.5"/><circle cx="390.3" cy="144.2" r="0.6"/><circle cx="400.9" cy="123.1" r="0.5"/><circle cx="407.2" cy="116.4" r="0.4"/><circle cx="384.5" cy="141.6" r="0.4"/><circle cx="391.5" cy="128" r="0.4"/><circle cx="399.7" cy="132.8" r="0.5"/><circle cx="385.6" cy="143.5" r="0.6"/><circle cx="381.2" cy="144.4" r="0.5"/><circle cx="400.6" cy="122" r="0.4"/><circle cx="398.5" cy="128.7" r="0.5"/><circle cx="400.4" cy="121.4" r="0.4"/><circle cx="385.2" cy="134.6" r="0.5"/><circle cx="399.1" cy="122.6" r="0.5"/><circle cx="409.3" cy="126.1" r="0.5"/><circle cx="401.5" cy="123.2" r="0.6"/><circle cx="386.4" cy="139.4" r="0.5"/><circle cx="393.4" cy="131.5" r="0.6"/><circle cx="390" cy="136.9" r="0.5"/><circle cx="397.1" cy="116.8" r="0.4"/><circle cx="383.5" cy="147.4" r="0.4"/><circle cx="388.1" cy="145.7" r="0.5"/><circle cx="399.3" cy="122.9" r="0.6"/><circle cx="383.9" cy="145.7" r="0.4"/><circle cx="392.9" cy="144.5" r="0.5"/><circle cx="396.4" cy="124.3" r="0.5"/><circle cx="386.9" cy="137.1" r="0.5"/><circle cx="389.7" cy="137.9" r="0.5"/><circle cx="388.8" cy="140.7" r="0.6"/><circle cx="396.6" cy="131.7" r="0.4"/><circle cx="386.1" cy="141.9" r="0.4"/><circle cx="386.4" cy="134.5" r="0.5"/><circle cx="382.3" cy="151.8" r="0.4"/><circle cx="395.6" cy="133" r="0.5"/><circle cx="386.3" cy="136.6" r="0.5"/><circle cx="403.8" cy="120.5" r="0.6"/><circle cx="398.3" cy="122.4" r="0.6"/><circle cx="396.6" cy="130.9" r="0.5"/><circle cx="390.2" cy="140.1" r="0.5"/><circle cx="392.9" cy="131.5" r="0.5"/><circle cx="395.5" cy="141.6" r="0.5"/><circle cx="376.4" cy="144.1" r="0.4"/><circle cx="388.8" cy="135.2" r="0.5"/><circle cx="397.6" cy="138.3" r="0.4"/><circle cx="407.3" cy="117.4" r="0.4"/><circle cx="383.1" cy="148.9" r="0.4"/><circle cx="386.5" cy="145.1" r="0.4"/><circle cx="396.5" cy="134.3" r="0.6"/><circle cx="403.4" cy="130.3" r="0.5"/><circle cx="384.7" cy="142.2" r="0.5"/><circle cx="399.4" cy="124.8" r="0.4"/><circle cx="390.1" cy="128.6" r="0.4"/><circle cx="407.5" cy="122.4" r="0.5"/><circle cx="404.1" cy="123.7" r="0.4"/><circle cx="381.5" cy="144.2" r="0.5"/><circle cx="404.8" cy="115.3" r="0.6"/><circle cx="384.2" cy="134.4" r="0.6"/><circle cx="384.2" cy="140" r="0.4"/><circle cx="395.6" cy="132.8" r="0.4"/><circle cx="404.7" cy="118.8" r="0.4"/><circle cx="407.9" cy="123.3" r="0.4"/><circle cx="392.5" cy="126.4" r="0.5"/><circle cx="386.5" cy="143.6" r="0.5"/><circle cx="384.1" cy="146.5" r="0.5"/><circle cx="392.8" cy="131.3" r="0.6"/><circle cx="405.8" cy="127.9" r="0.5"/><circle cx="404.4" cy="132.1" r="0.5"/><circle cx="383" cy="144.3" r="0.5"/><circle cx="397.2" cy="134.3" r="0.4"/><circle cx="378.2" cy="150.6" r="0.4"/><circle cx="383" cy="143.8" r="0.4"/><circle cx="384.2" cy="146.1" r="0.4"/><circle cx="383.2" cy="141.5" r="0.4"/><circle cx="379.9" cy="142.3" r="0.5"/><circle cx="387.3" cy="143.3" r="0.4"/><circle cx="403.8" cy="134.6" r="0.4"/><circle cx="399.5" cy="126.1" r="0.4"/><circle cx="403" cy="125.3" r="0.4"/><circle cx="392.9" cy="127.2" r="0.5"/><circle cx="385.3" cy="140.3" r="0.4"/><circle cx="398.3" cy="124.5" r="0.4"/><circle cx="394.4" cy="130.2" r="0.4"/><circle cx="380.9" cy="149.2" r="0.4"/><circle cx="380.6" cy="137.5" r="0.6"/><circle cx="403" cy="124.1" r="0.4"/><circle cx="411.7" cy="127.3" r="0.5"/><circle cx="381.7" cy="143.4" r="0.4"/><circle cx="380.7" cy="148.3" r="0.6"/><circle cx="384.1" cy="143.3" r="0.5"/><circle cx="396.6" cy="132.9" r="0.5"/><circle cx="380.8" cy="147.4" r="0.5"/><circle cx="381.2" cy="145.8" r="0.4"/><circle cx="394.3" cy="133.9" r="0.5"/><circle cx="408.6" cy="122.9" r="0.5"/><circle cx="398.8" cy="128.2" r="0.4"/><circle cx="378.3" cy="147.9" r="0.4"/><circle cx="395.6" cy="124.1" r="0.4"/><circle cx="407" cy="128.4" r="0.4"/><circle cx="381.9" cy="142.6" r="0.4"/><circle cx="392.5" cy="138.2" r="0.4"/><circle cx="406.6" cy="123.5" r="0.5"/><circle cx="401.6" cy="115.5" r="0.4"/></g>
<path d="M366.9 69 C369.2 64.8 374.4 78.1 378.1 83.6 C381.8 89.1 385.2 96.4 389.2 101.8 C393.1 107.2 399.2 111.8 401.8 115.7 C404.4 119.7 406.2 122.5 404.6 125.5 C403 128.5 395.9 130.4 392 133.9 C388.1 137.4 385.8 144.4 380.9 146.5 C376 148.6 365.5 152.8 362.7 146.5 C359.9 140.2 363.4 121.7 364.1 108.8 C364.8 95.9 364.6 73.2 366.9 69Z" fill="#3a58b2" filter="url(#b05)"/>
<ellipse cx="366" cy="115" rx="3.2" ry="21" fill="#38b6e6" filter="url(#b1)"/>
<ellipse cx="365.8" cy="117" rx="2" ry="14" fill="#7cc54a" filter="url(#b05)"/>
<ellipse cx="365.5" cy="120" rx="1.4" ry="6" fill="#e2261d" filter="url(#b05)"/>
</g>
<path d="M365.1 57.4 L390.4 96.6 L384.8 152.3 L355 149.7Z" stroke="#231f20" stroke-width="1" fill="none"/>
<g clip-path="url(#ca3)">
<g fill="#3a58b2"><circle cx="85.4" cy="216.8" r="0.4"/><circle cx="97.1" cy="256" r="0.5"/><circle cx="90.3" cy="301" r="0.5"/><circle cx="92.2" cy="292.4" r="0.5"/><circle cx="140.3" cy="276.6" r="0.5"/><circle cx="104.3" cy="322.5" r="0.6"/><circle cx="89.4" cy="224.5" r="0.5"/><circle cx="100.5" cy="250.5" r="0.4"/><circle cx="96.7" cy="264.5" r="0.6"/><circle cx="97.2" cy="242.4" r="0.5"/><circle cx="82.2" cy="305.9" r="0.5"/><circle cx="88.6" cy="219.2" r="0.5"/><circle cx="135.5" cy="283.7" r="0.5"/><circle cx="94.5" cy="221.4" r="0.4"/><circle cx="125" cy="205.4" r="0.6"/><circle cx="100.1" cy="251" r="0.6"/><circle cx="140.4" cy="304.3" r="0.4"/><circle cx="131.9" cy="309.6" r="0.4"/><circle cx="94.9" cy="247.7" r="0.4"/><circle cx="137.7" cy="303.8" r="0.5"/><circle cx="146.2" cy="310.7" r="0.4"/><circle cx="124.6" cy="314" r="0.4"/><circle cx="140.9" cy="224.7" r="0.5"/><circle cx="102.8" cy="207.1" r="0.4"/><circle cx="135.9" cy="249.4" r="0.4"/><circle cx="108.9" cy="317.8" r="0.5"/><circle cx="88.6" cy="278.8" r="0.5"/><circle cx="140.5" cy="217" r="0.6"/><circle cx="107.5" cy="204.4" r="0.5"/><circle cx="92" cy="241.6" r="0.5"/><circle cx="131.2" cy="240" r="0.5"/><circle cx="126.1" cy="312.2" r="0.6"/><circle cx="137" cy="211.2" r="0.6"/><circle cx="134.1" cy="270.7" r="0.6"/><circle cx="143.1" cy="219" r="0.4"/><circle cx="96.9" cy="281.6" r="0.4"/><circle cx="84.5" cy="286.1" r="0.6"/><circle cx="145.5" cy="204.5" r="0.5"/><circle cx="129.8" cy="316.6" r="0.4"/><circle cx="135.2" cy="214.1" r="0.5"/><circle cx="114.1" cy="314.3" r="0.6"/><circle cx="132.8" cy="311.3" r="0.5"/><circle cx="134.9" cy="278.9" r="0.4"/><circle cx="133" cy="249.1" r="0.5"/><circle cx="121.7" cy="311.5" r="0.5"/><circle cx="139.3" cy="303.8" r="0.5"/><circle cx="132" cy="235" r="0.4"/><circle cx="138.1" cy="225.4" r="0.6"/><circle cx="92.6" cy="291" r="0.4"/><circle cx="92.7" cy="223.1" r="0.5"/><circle cx="135.6" cy="308" r="0.6"/><circle cx="103.5" cy="316.1" r="0.6"/><circle cx="131.2" cy="244.2" r="0.6"/><circle cx="98.3" cy="262.5" r="0.6"/><circle cx="108.7" cy="265.4" r="0.5"/><circle cx="91.3" cy="283.6" r="0.5"/><circle cx="135.1" cy="315.8" r="0.6"/><circle cx="97.2" cy="247" r="0.5"/><circle cx="113.2" cy="315.2" r="0.5"/><circle cx="92.7" cy="216.4" r="0.4"/><circle cx="134.9" cy="234.2" r="0.5"/><circle cx="101.2" cy="265.3" r="0.6"/><circle cx="125.4" cy="275.2" r="0.5"/><circle cx="86.2" cy="302.5" r="0.4"/><circle cx="91.4" cy="214.5" r="0.5"/><circle cx="131" cy="255.1" r="0.6"/><circle cx="93.7" cy="268.1" r="0.4"/><circle cx="128.5" cy="208.1" r="0.5"/><circle cx="133.6" cy="207" r="0.4"/><circle cx="100.5" cy="242.6" r="0.5"/><circle cx="122" cy="251.7" r="0.5"/><circle cx="137.2" cy="277" r="0.6"/><circle cx="130" cy="254.2" r="0.5"/><circle cx="96" cy="238.4" r="0.6"/><circle cx="84.3" cy="289.9" r="0.4"/><circle cx="106.8" cy="309.1" r="0.5"/><circle cx="99.3" cy="316.6" r="0.5"/><circle cx="110.8" cy="313.9" r="0.4"/><circle cx="143.4" cy="216.8" r="0.6"/><circle cx="125.7" cy="208.8" r="0.6"/><circle cx="94" cy="209.7" r="0.4"/><circle cx="134" cy="233.2" r="0.4"/><circle cx="139" cy="302.1" r="0.4"/><circle cx="133.5" cy="260.2" r="0.4"/><circle cx="100.3" cy="266.1" r="0.6"/><circle cx="97.3" cy="250.5" r="0.6"/><circle cx="124.5" cy="205.5" r="0.4"/><circle cx="95" cy="228.9" r="0.4"/><circle cx="93.4" cy="315.6" r="0.5"/><circle cx="133.1" cy="227.8" r="0.6"/><circle cx="93.4" cy="308.1" r="0.4"/><circle cx="97.4" cy="235.2" r="0.5"/><circle cx="137.5" cy="305.4" r="0.4"/><circle cx="131.9" cy="313.8" r="0.5"/><circle cx="97.1" cy="242" r="0.5"/><circle cx="106.7" cy="314.1" r="0.5"/><circle cx="88.9" cy="297.2" r="0.5"/><circle cx="88" cy="304.4" r="0.4"/><circle cx="129.5" cy="267.1" r="0.6"/><circle cx="89.2" cy="290.9" r="0.6"/><circle cx="138.3" cy="269.3" r="0.4"/><circle cx="126.7" cy="267" r="0.6"/><circle cx="95.1" cy="227.4" r="0.4"/><circle cx="92.9" cy="206" r="0.4"/><circle cx="142.9" cy="308.7" r="0.5"/><circle cx="133.5" cy="229.5" r="0.4"/><circle cx="99.5" cy="247.4" r="0.4"/><circle cx="133.5" cy="236" r="0.6"/><circle cx="86.9" cy="310.7" r="0.4"/><circle cx="139.3" cy="288.6" r="0.5"/><circle cx="100.8" cy="260.7" r="0.4"/><circle cx="141.6" cy="220.6" r="0.5"/><circle cx="135.5" cy="244.5" r="0.4"/><circle cx="134.7" cy="274.1" r="0.5"/><circle cx="123.8" cy="311.5" r="0.4"/><circle cx="97.1" cy="280.6" r="0.4"/><circle cx="98.1" cy="248.7" r="0.5"/><circle cx="95.2" cy="272.5" r="0.4"/><circle cx="127.8" cy="268.6" r="0.6"/><circle cx="83.2" cy="310.7" r="0.5"/><circle cx="129.9" cy="262.4" r="0.4"/><circle cx="97.5" cy="280.6" r="0.6"/><circle cx="96.2" cy="274" r="0.6"/><circle cx="100.1" cy="311.5" r="0.4"/><circle cx="108.3" cy="319.6" r="0.5"/><circle cx="90.1" cy="278" r="0.4"/><circle cx="142.5" cy="217" r="0.5"/><circle cx="86.9" cy="310.8" r="0.5"/><circle cx="93.3" cy="311.1" r="0.5"/><circle cx="109.2" cy="205.5" r="0.6"/><circle cx="132.2" cy="265.1" r="0.4"/><circle cx="134.6" cy="279.5" r="0.5"/><circle cx="88" cy="220.2" r="0.4"/><circle cx="138.7" cy="287.6" r="0.6"/><circle cx="125.5" cy="207.1" r="0.5"/><circle cx="103.6" cy="206.4" r="0.5"/><circle cx="100.8" cy="276.5" r="0.4"/><circle cx="89.8" cy="205.6" r="0.4"/><circle cx="135.3" cy="292.3" r="0.5"/><circle cx="109.9" cy="207.9" r="0.4"/><circle cx="135.3" cy="306.7" r="0.5"/><circle cx="133.6" cy="273.3" r="0.5"/><circle cx="95.6" cy="205" r="0.4"/><circle cx="100.6" cy="286.8" r="0.4"/><circle cx="97.4" cy="217.3" r="0.6"/><circle cx="86.9" cy="224" r="0.4"/><circle cx="94.2" cy="267.8" r="0.4"/><circle cx="87.6" cy="304.4" r="0.6"/><circle cx="138.3" cy="226.3" r="0.5"/><circle cx="135.7" cy="296" r="0.4"/><circle cx="113.5" cy="205.1" r="0.6"/><circle cx="136.1" cy="266.3" r="0.6"/><circle cx="95.1" cy="232.2" r="0.4"/><circle cx="113.9" cy="321.4" r="0.4"/><circle cx="91.3" cy="315.3" r="0.5"/><circle cx="94.1" cy="208.5" r="0.6"/><circle cx="88" cy="216.4" r="0.4"/><circle cx="92.7" cy="270.6" r="0.6"/><circle cx="95.9" cy="309" r="0.4"/><circle cx="143.1" cy="300.7" r="0.6"/><circle cx="136.5" cy="278" r="0.4"/><circle cx="103" cy="316.8" r="0.5"/><circle cx="99.9" cy="227.2" r="0.5"/><circle cx="137.6" cy="308.4" r="0.4"/><circle cx="123.8" cy="323.4" r="0.4"/><circle cx="101.2" cy="246.5" r="0.5"/><circle cx="137.5" cy="310.4" r="0.4"/><circle cx="95.7" cy="215.6" r="0.5"/><circle cx="140" cy="206.4" r="0.4"/><circle cx="141.2" cy="305.2" r="0.4"/><circle cx="94.6" cy="276.4" r="0.4"/><circle cx="132.6" cy="235.8" r="0.4"/><circle cx="93.6" cy="298.3" r="0.6"/><circle cx="129.5" cy="208.7" r="0.5"/><circle cx="131.7" cy="204.3" r="0.6"/><circle cx="86.5" cy="282.5" r="0.6"/><circle cx="136.9" cy="221.8" r="0.5"/><circle cx="100.5" cy="314.5" r="0.5"/><circle cx="128.3" cy="246.8" r="0.4"/><circle cx="141.9" cy="312.4" r="0.5"/><circle cx="95" cy="246.7" r="0.5"/><circle cx="112.5" cy="314.1" r="0.4"/><circle cx="99.2" cy="225.3" r="0.6"/><circle cx="102.5" cy="309.6" r="0.4"/><circle cx="137.7" cy="233.9" r="0.5"/><circle cx="97" cy="262.9" r="0.5"/><circle cx="133.9" cy="260.8" r="0.4"/><circle cx="89.5" cy="293.9" r="0.5"/><circle cx="91.9" cy="284" r="0.5"/><circle cx="132.7" cy="249.6" r="0.4"/><circle cx="92.6" cy="232.2" r="0.4"/><circle cx="124.9" cy="313.4" r="0.4"/><circle cx="94" cy="307.3" r="0.4"/><circle cx="100.1" cy="248.6" r="0.4"/><circle cx="117" cy="314.5" r="0.5"/><circle cx="99.6" cy="205" r="0.6"/><circle cx="127.3" cy="310.1" r="0.6"/><circle cx="87.4" cy="301.2" r="0.6"/><circle cx="137.8" cy="252.9" r="0.6"/><circle cx="92.1" cy="283.3" r="0.5"/><circle cx="87.8" cy="295.6" r="0.5"/><circle cx="131" cy="268.8" r="0.4"/><circle cx="121.9" cy="314.5" r="0.4"/><circle cx="129.5" cy="248.2" r="0.4"/><circle cx="85.4" cy="209.7" r="0.5"/><circle cx="95.1" cy="206" r="0.4"/><circle cx="87.6" cy="207.3" r="0.4"/><circle cx="132.1" cy="236.6" r="0.4"/><circle cx="137.7" cy="312.1" r="0.5"/><circle cx="131.3" cy="308.7" r="0.4"/><circle cx="81.9" cy="310.6" r="0.6"/><circle cx="133.7" cy="264.1" r="0.5"/><circle cx="137.2" cy="298.5" r="0.4"/><circle cx="85.6" cy="298.1" r="0.4"/><circle cx="93.4" cy="227.6" r="0.5"/><circle cx="143" cy="269.6" r="0.4"/><circle cx="137.7" cy="228.7" r="0.4"/><circle cx="87.4" cy="303.5" r="0.4"/><circle cx="125.4" cy="204.7" r="0.5"/><circle cx="131.7" cy="260.9" r="0.6"/><circle cx="135.9" cy="286.5" r="0.5"/><circle cx="98.2" cy="238.8" r="0.4"/><circle cx="93.8" cy="228.7" r="0.4"/><circle cx="104.7" cy="314.3" r="0.5"/><circle cx="137.9" cy="256.7" r="0.6"/><circle cx="96.3" cy="315.7" r="0.6"/><circle cx="90" cy="214.8" r="0.6"/><circle cx="134.9" cy="291.2" r="0.5"/><circle cx="84" cy="209.9" r="0.5"/><circle cx="140.2" cy="279.6" r="0.5"/><circle cx="92" cy="288.4" r="0.6"/><circle cx="126.5" cy="314.3" r="0.5"/><circle cx="143.5" cy="267.3" r="0.4"/><circle cx="97.2" cy="225" r="0.5"/><circle cx="84.6" cy="301.2" r="0.4"/><circle cx="100" cy="252.8" r="0.5"/><circle cx="96" cy="265.6" r="0.5"/><circle cx="92.9" cy="283.3" r="0.5"/><circle cx="132.2" cy="270.7" r="0.6"/><circle cx="94" cy="218.7" r="0.4"/><circle cx="137.6" cy="291.3" r="0.5"/><circle cx="101" cy="228.7" r="0.5"/><circle cx="93.6" cy="282.1" r="0.6"/><circle cx="96.7" cy="239.7" r="0.5"/><circle cx="129.7" cy="316.5" r="0.5"/><circle cx="98" cy="237.6" r="0.4"/><circle cx="100.4" cy="312.8" r="0.4"/><circle cx="82" cy="307.7" r="0.5"/><circle cx="94" cy="311.7" r="0.4"/><circle cx="91.1" cy="235.5" r="0.6"/><circle cx="88.6" cy="244.7" r="0.4"/><circle cx="93.4" cy="286.2" r="0.5"/><circle cx="131.2" cy="273.9" r="0.6"/><circle cx="116" cy="312.8" r="0.5"/><circle cx="94.3" cy="245.9" r="0.4"/><circle cx="137.6" cy="229.6" r="0.5"/><circle cx="92.3" cy="312.2" r="0.4"/><circle cx="114.5" cy="319.7" r="0.4"/><circle cx="134" cy="234.1" r="0.5"/><circle cx="94.2" cy="283" r="0.6"/><circle cx="115.8" cy="312.2" r="0.5"/><circle cx="104.7" cy="233.1" r="0.5"/><circle cx="142" cy="279.8" r="0.5"/><circle cx="114.1" cy="314" r="0.6"/><circle cx="132.6" cy="253.9" r="0.4"/><circle cx="125.9" cy="237.6" r="0.4"/><circle cx="129.9" cy="249.5" r="0.4"/><circle cx="87.4" cy="306.6" r="0.5"/><circle cx="92" cy="290.7" r="0.5"/><circle cx="138.7" cy="205.4" r="0.4"/><circle cx="137.8" cy="260.9" r="0.5"/><circle cx="89.4" cy="310" r="0.5"/><circle cx="131.5" cy="315" r="0.4"/><circle cx="131.8" cy="275.2" r="0.4"/><circle cx="136.4" cy="293.2" r="0.4"/><circle cx="100.1" cy="273.6" r="0.4"/><circle cx="112.1" cy="314.1" r="0.5"/><circle cx="134.9" cy="209.2" r="0.4"/><circle cx="134.5" cy="230.1" r="0.6"/><circle cx="98.2" cy="239.8" r="0.5"/><circle cx="128.9" cy="219.9" r="0.4"/><circle cx="137.2" cy="286.1" r="0.4"/><circle cx="143.1" cy="310" r="0.5"/><circle cx="98.7" cy="260.7" r="0.4"/><circle cx="133.7" cy="233" r="0.6"/><circle cx="87.5" cy="291" r="0.4"/><circle cx="119.7" cy="313.2" r="0.4"/><circle cx="79.5" cy="302" r="0.5"/><circle cx="93" cy="206.4" r="0.5"/><circle cx="102.9" cy="317.8" r="0.5"/><circle cx="100.4" cy="265" r="0.5"/><circle cx="116.5" cy="316.6" r="0.5"/><circle cx="93.6" cy="280.3" r="0.6"/><circle cx="106.8" cy="204.8" r="0.5"/><circle cx="138.1" cy="223.9" r="0.4"/><circle cx="120.3" cy="315.5" r="0.4"/><circle cx="127.9" cy="315.5" r="0.4"/><circle cx="137" cy="204.2" r="0.5"/><circle cx="140.3" cy="261.1" r="0.4"/><circle cx="89.2" cy="307.2" r="0.6"/><circle cx="98.2" cy="232.8" r="0.5"/><circle cx="96.8" cy="253.1" r="0.4"/><circle cx="142.2" cy="224.9" r="0.4"/><circle cx="137.6" cy="265.5" r="0.5"/><circle cx="122" cy="205.2" r="0.6"/><circle cx="139.8" cy="287.5" r="0.4"/><circle cx="101.4" cy="237.9" r="0.5"/><circle cx="135.4" cy="241.1" r="0.6"/><circle cx="125.9" cy="312.2" r="0.4"/><circle cx="85.5" cy="294.1" r="0.4"/><circle cx="85.9" cy="297.8" r="0.4"/><circle cx="88.9" cy="257.4" r="0.5"/><circle cx="139.3" cy="293.7" r="0.5"/><circle cx="100.5" cy="245.3" r="0.4"/><circle cx="85.2" cy="302.7" r="0.6"/><circle cx="96.2" cy="258.3" r="0.4"/><circle cx="92.3" cy="218.8" r="0.4"/><circle cx="89" cy="319.6" r="0.4"/><circle cx="129.9" cy="307.6" r="0.4"/><circle cx="95.5" cy="232.9" r="0.6"/><circle cx="96.8" cy="235.7" r="0.4"/><circle cx="135.1" cy="222.5" r="0.5"/><circle cx="127" cy="268.9" r="0.6"/><circle cx="90.5" cy="284.4" r="0.6"/><circle cx="93.2" cy="225.7" r="0.6"/><circle cx="108.3" cy="206.4" r="0.4"/><circle cx="94.4" cy="279.2" r="0.6"/><circle cx="93.3" cy="267.4" r="0.6"/><circle cx="89.9" cy="299.5" r="0.5"/><circle cx="135.1" cy="274" r="0.4"/><circle cx="144.2" cy="307.7" r="0.4"/><circle cx="97.6" cy="226.5" r="0.5"/><circle cx="134.3" cy="213.9" r="0.5"/><circle cx="131.6" cy="213.6" r="0.5"/><circle cx="131.2" cy="237.6" r="0.4"/><circle cx="135.5" cy="305.2" r="0.4"/><circle cx="132.2" cy="247.2" r="0.4"/><circle cx="100" cy="255.3" r="0.4"/><circle cx="112.8" cy="206.9" r="0.5"/><circle cx="142.3" cy="302.9" r="0.5"/><circle cx="107.3" cy="206.9" r="0.4"/><circle cx="97" cy="235.5" r="0.6"/><circle cx="131.3" cy="282.1" r="0.4"/><circle cx="127.9" cy="265.2" r="0.5"/><circle cx="88.4" cy="301.7" r="0.6"/><circle cx="136" cy="213.2" r="0.6"/><circle cx="128.6" cy="312.6" r="0.5"/><circle cx="132.6" cy="249.4" r="0.5"/><circle cx="116.3" cy="306.7" r="0.4"/><circle cx="86.9" cy="297.1" r="0.6"/><circle cx="137" cy="252.6" r="0.6"/><circle cx="97.4" cy="236.6" r="0.5"/><circle cx="110.2" cy="312.3" r="0.6"/><circle cx="134.4" cy="222.5" r="0.4"/><circle cx="137.6" cy="247.9" r="0.5"/><circle cx="136.3" cy="276" r="0.5"/><circle cx="102.4" cy="318.8" r="0.6"/><circle cx="108.7" cy="255.4" r="0.4"/><circle cx="125.3" cy="257.6" r="0.4"/><circle cx="94.1" cy="233.6" r="0.5"/><circle cx="129.5" cy="278.8" r="0.5"/><circle cx="90.8" cy="291.7" r="0.4"/><circle cx="95.6" cy="227.7" r="0.5"/><circle cx="139.6" cy="225.6" r="0.5"/><circle cx="96.9" cy="238.2" r="0.5"/><circle cx="135.9" cy="284" r="0.4"/><circle cx="136.1" cy="316.7" r="0.5"/><circle cx="138.6" cy="314.2" r="0.5"/><circle cx="132.1" cy="230.4" r="0.4"/><circle cx="139.3" cy="211" r="0.6"/><circle cx="130.8" cy="279.4" r="0.4"/><circle cx="111.4" cy="209.8" r="0.5"/><circle cx="92.9" cy="283" r="0.5"/><circle cx="116.9" cy="314.3" r="0.4"/><circle cx="89.5" cy="297" r="0.5"/><circle cx="85.9" cy="300.7" r="0.4"/><circle cx="89.5" cy="282.5" r="0.5"/><circle cx="86.6" cy="291.8" r="0.4"/><circle cx="135.7" cy="222.1" r="0.6"/><circle cx="90.5" cy="262.5" r="0.4"/><circle cx="134.2" cy="281.6" r="0.6"/><circle cx="131.3" cy="276.4" r="0.4"/><circle cx="86" cy="305.6" r="0.6"/><circle cx="124.7" cy="205.8" r="0.4"/><circle cx="139" cy="308.2" r="0.5"/><circle cx="97.1" cy="316.4" r="0.5"/><circle cx="97.3" cy="235.1" r="0.4"/><circle cx="134.2" cy="264.7" r="0.4"/><circle cx="97.5" cy="313.3" r="0.5"/><circle cx="120.3" cy="206.4" r="0.4"/><circle cx="124.8" cy="317.7" r="0.4"/><circle cx="136.6" cy="261.3" r="0.6"/><circle cx="128.5" cy="261.4" r="0.6"/><circle cx="132.3" cy="269.1" r="0.5"/><circle cx="136.9" cy="238" r="0.6"/><circle cx="113.1" cy="319.1" r="0.6"/><circle cx="88.6" cy="294.5" r="0.5"/><circle cx="87.6" cy="317" r="0.5"/><circle cx="138.3" cy="255.8" r="0.5"/><circle cx="98.1" cy="250.8" r="0.6"/><circle cx="93.8" cy="229.7" r="0.5"/><circle cx="100.4" cy="316.6" r="0.4"/><circle cx="135.3" cy="286.4" r="0.4"/><circle cx="105.5" cy="312.2" r="0.4"/><circle cx="140.8" cy="294.7" r="0.4"/><circle cx="99" cy="237.1" r="0.5"/><circle cx="114.3" cy="320.6" r="0.5"/><circle cx="93.1" cy="209.5" r="0.4"/><circle cx="133.5" cy="247" r="0.6"/><circle cx="133.6" cy="235.1" r="0.5"/><circle cx="91.7" cy="310.3" r="0.6"/><circle cx="123.7" cy="317.4" r="0.5"/><circle cx="135" cy="207.4" r="0.5"/><circle cx="88.1" cy="206.4" r="0.4"/><circle cx="133.5" cy="309.1" r="0.4"/><circle cx="98.9" cy="313.9" r="0.4"/><circle cx="91.2" cy="204.2" r="0.4"/><circle cx="86.8" cy="294.7" r="0.5"/><circle cx="139.4" cy="283.1" r="0.5"/><circle cx="94.3" cy="298.5" r="0.4"/><circle cx="97.7" cy="240.3" r="0.5"/><circle cx="132.8" cy="231.2" r="0.5"/><circle cx="92.7" cy="284.3" r="0.4"/><circle cx="115.2" cy="318.7" r="0.5"/><circle cx="96.1" cy="219.9" r="0.6"/><circle cx="134.3" cy="314.4" r="0.5"/><circle cx="84.2" cy="304" r="0.5"/><circle cx="93.4" cy="230.1" r="0.6"/><circle cx="104" cy="272.5" r="0.5"/><circle cx="135.1" cy="274.9" r="0.6"/><circle cx="135.2" cy="227.7" r="0.4"/><circle cx="90.9" cy="293.1" r="0.5"/><circle cx="138.5" cy="224.8" r="0.6"/><circle cx="143.5" cy="204.9" r="0.5"/><circle cx="131.9" cy="312.1" r="0.5"/><circle cx="133.2" cy="237.7" r="0.4"/><circle cx="94.1" cy="283.9" r="0.5"/><circle cx="95.1" cy="234.8" r="0.5"/><circle cx="137" cy="223.3" r="0.5"/><circle cx="96" cy="245.7" r="0.6"/><circle cx="127.9" cy="250.4" r="0.4"/><circle cx="89.9" cy="315.9" r="0.5"/><circle cx="86.9" cy="286.7" r="0.4"/><circle cx="135.6" cy="205.3" r="0.4"/><circle cx="92.7" cy="275.7" r="0.5"/><circle cx="115.2" cy="206.9" r="0.4"/><circle cx="88.5" cy="244.3" r="0.6"/><circle cx="133.7" cy="287.2" r="0.5"/><circle cx="139.2" cy="290.1" r="0.5"/><circle cx="132.5" cy="309.3" r="0.5"/><circle cx="146.5" cy="283.8" r="0.5"/><circle cx="121.7" cy="317.8" r="0.6"/><circle cx="135.3" cy="228.2" r="0.5"/><circle cx="128.6" cy="240.3" r="0.4"/><circle cx="96.7" cy="253.6" r="0.4"/><circle cx="119.3" cy="312.7" r="0.4"/><circle cx="133.1" cy="224.7" r="0.5"/><circle cx="88.7" cy="292.4" r="0.4"/><circle cx="100.4" cy="312.1" r="0.5"/><circle cx="93.4" cy="225.7" r="0.5"/><circle cx="96.4" cy="317.5" r="0.5"/><circle cx="87.8" cy="311.6" r="0.6"/><circle cx="148.4" cy="287.2" r="0.4"/><circle cx="138" cy="218.6" r="0.4"/><circle cx="135.1" cy="228.6" r="0.5"/><circle cx="135.1" cy="281.4" r="0.5"/><circle cx="143.5" cy="222.2" r="0.4"/><circle cx="136.2" cy="246.6" r="0.5"/><circle cx="129.3" cy="206.8" r="0.6"/><circle cx="102.7" cy="259.8" r="0.4"/><circle cx="132.8" cy="269.3" r="0.5"/><circle cx="140.5" cy="291.6" r="0.4"/><circle cx="99.9" cy="262.9" r="0.5"/><circle cx="140.5" cy="223.1" r="0.4"/><circle cx="114.9" cy="317.2" r="0.4"/><circle cx="94.2" cy="279.2" r="0.6"/><circle cx="140" cy="205" r="0.5"/><circle cx="105.3" cy="275.2" r="0.5"/><circle cx="96.4" cy="258.7" r="0.4"/><circle cx="136.2" cy="235.3" r="0.6"/><circle cx="101.3" cy="255.2" r="0.5"/><circle cx="98.6" cy="258.5" r="0.4"/><circle cx="124" cy="313.4" r="0.4"/><circle cx="97.3" cy="317.9" r="0.6"/><circle cx="140.1" cy="291.2" r="0.4"/><circle cx="134" cy="245.9" r="0.6"/><circle cx="130.1" cy="264.9" r="0.5"/><circle cx="109.5" cy="320.4" r="0.5"/><circle cx="106.5" cy="205.5" r="0.4"/><circle cx="118" cy="311.9" r="0.6"/><circle cx="102.5" cy="312.5" r="0.6"/><circle cx="88.6" cy="221.8" r="0.5"/><circle cx="140.6" cy="295.6" r="0.5"/><circle cx="102.4" cy="265.9" r="0.6"/><circle cx="137.2" cy="273.1" r="0.5"/><circle cx="97.1" cy="275.9" r="0.5"/><circle cx="140.6" cy="210.9" r="0.4"/><circle cx="130.6" cy="311.2" r="0.6"/><circle cx="110.8" cy="206.8" r="0.5"/><circle cx="106.3" cy="313.6" r="0.4"/><circle cx="122.9" cy="317.1" r="0.4"/><circle cx="95.7" cy="245.8" r="0.5"/><circle cx="135.8" cy="243" r="0.4"/><circle cx="136.1" cy="209.9" r="0.4"/><circle cx="120.6" cy="314.6" r="0.4"/><circle cx="101.5" cy="259.7" r="0.4"/><circle cx="139.1" cy="287.1" r="0.6"/><circle cx="109.8" cy="313.7" r="0.6"/><circle cx="139.5" cy="263.9" r="0.4"/><circle cx="99" cy="274.3" r="0.4"/><circle cx="89.8" cy="272.4" r="0.5"/><circle cx="141.3" cy="298.8" r="0.6"/><circle cx="139.3" cy="233.2" r="0.5"/><circle cx="134.7" cy="250.1" r="0.6"/><circle cx="95" cy="215.5" r="0.6"/><circle cx="133.9" cy="299.7" r="0.6"/><circle cx="85.7" cy="304.7" r="0.4"/><circle cx="135.8" cy="241.9" r="0.4"/><circle cx="138.8" cy="220" r="0.4"/><circle cx="122.4" cy="315.6" r="0.5"/><circle cx="125.6" cy="320.9" r="0.6"/><circle cx="109.2" cy="258.6" r="0.4"/><circle cx="117.7" cy="317.7" r="0.4"/><circle cx="131.6" cy="227.1" r="0.6"/><circle cx="135.2" cy="261.2" r="0.6"/><circle cx="97.1" cy="258.6" r="0.6"/><circle cx="88.5" cy="210.5" r="0.5"/><circle cx="90.1" cy="283.3" r="0.4"/><circle cx="88.6" cy="294.1" r="0.4"/><circle cx="121.2" cy="317.4" r="0.4"/><circle cx="125.3" cy="277.3" r="0.5"/><circle cx="117.6" cy="317.3" r="0.6"/><circle cx="126.5" cy="313.5" r="0.4"/><circle cx="139" cy="223" r="0.4"/><circle cx="134.9" cy="285.7" r="0.5"/><circle cx="137.6" cy="294.9" r="0.5"/><circle cx="89.2" cy="305.7" r="0.4"/><circle cx="92.8" cy="285.1" r="0.4"/><circle cx="92.5" cy="209.3" r="0.6"/><circle cx="103.1" cy="205" r="0.5"/><circle cx="101" cy="271.7" r="0.4"/><circle cx="139.2" cy="222.4" r="0.5"/><circle cx="98.4" cy="238.3" r="0.6"/><circle cx="107.9" cy="316.6" r="0.4"/><circle cx="135.4" cy="222.1" r="0.5"/><circle cx="103.4" cy="261.2" r="0.5"/><circle cx="101.3" cy="308.9" r="0.5"/><circle cx="129" cy="259" r="0.6"/><circle cx="123.2" cy="311.3" r="0.5"/><circle cx="134.9" cy="305.7" r="0.6"/><circle cx="123.3" cy="251.5" r="0.6"/><circle cx="118.9" cy="317" r="0.5"/><circle cx="135.2" cy="290.9" r="0.5"/><circle cx="117.4" cy="318.7" r="0.5"/><circle cx="137.6" cy="216.8" r="0.5"/><circle cx="82.4" cy="306.6" r="0.5"/><circle cx="108" cy="204.4" r="0.6"/><circle cx="86" cy="295.9" r="0.4"/><circle cx="90.6" cy="308" r="0.4"/><circle cx="132.1" cy="236.3" r="0.5"/><circle cx="96" cy="239.4" r="0.4"/><circle cx="96" cy="236.6" r="0.4"/><circle cx="134.2" cy="280" r="0.6"/><circle cx="126.9" cy="314.9" r="0.5"/><circle cx="92.5" cy="217.6" r="0.6"/><circle cx="89.9" cy="308.3" r="0.5"/><circle cx="136.8" cy="287.9" r="0.6"/><circle cx="85.8" cy="310.4" r="0.6"/><circle cx="98.2" cy="225.2" r="0.4"/><circle cx="133.2" cy="316.1" r="0.6"/><circle cx="99.2" cy="212.4" r="0.5"/><circle cx="90.6" cy="306.7" r="0.6"/><circle cx="98.6" cy="270.8" r="0.5"/><circle cx="139.4" cy="208.2" r="0.4"/><circle cx="101.9" cy="232.1" r="0.5"/><circle cx="93" cy="280" r="0.5"/><circle cx="131.3" cy="206.2" r="0.4"/><circle cx="87.7" cy="311.7" r="0.6"/><circle cx="103.4" cy="269.8" r="0.4"/><circle cx="141.1" cy="302.9" r="0.4"/><circle cx="138.2" cy="306.5" r="0.4"/><circle cx="92.1" cy="281.5" r="0.5"/><circle cx="127.3" cy="315.1" r="0.5"/><circle cx="91.5" cy="277.6" r="0.6"/><circle cx="89.5" cy="290.6" r="0.4"/><circle cx="87.5" cy="223.3" r="0.5"/><circle cx="90.7" cy="290.5" r="0.4"/><circle cx="98.7" cy="261.4" r="0.5"/><circle cx="139.7" cy="208.2" r="0.5"/><circle cx="105.1" cy="313.2" r="0.5"/><circle cx="105.3" cy="314.3" r="0.4"/><circle cx="103.2" cy="258.8" r="0.5"/><circle cx="131.2" cy="316.4" r="0.5"/><circle cx="93.2" cy="217.6" r="0.4"/><circle cx="138.8" cy="281.1" r="0.6"/><circle cx="133.5" cy="236.3" r="0.5"/><circle cx="106.2" cy="320.4" r="0.5"/><circle cx="88.5" cy="213.2" r="0.6"/><circle cx="94.4" cy="317.3" r="0.4"/><circle cx="140.9" cy="211.2" r="0.6"/><circle cx="133.9" cy="222.5" r="0.6"/><circle cx="103.1" cy="317.2" r="0.4"/><circle cx="135.6" cy="217.9" r="0.4"/><circle cx="124.5" cy="280.1" r="0.4"/><circle cx="141" cy="281.6" r="0.5"/><circle cx="135.5" cy="282.9" r="0.5"/><circle cx="95.2" cy="314.4" r="0.4"/><circle cx="101.4" cy="319" r="0.5"/><circle cx="134.5" cy="283.9" r="0.4"/><circle cx="98.7" cy="311.5" r="0.6"/><circle cx="92.2" cy="233.6" r="0.5"/><circle cx="128.3" cy="263.1" r="0.5"/><circle cx="137.1" cy="292.3" r="0.5"/><circle cx="135.3" cy="251.4" r="0.5"/><circle cx="123.5" cy="313.9" r="0.5"/><circle cx="90.9" cy="209.3" r="0.5"/><circle cx="84.2" cy="300.4" r="0.4"/><circle cx="136.7" cy="224.4" r="0.4"/><circle cx="114.4" cy="315.7" r="0.5"/><circle cx="134.4" cy="313.6" r="0.6"/><circle cx="139.2" cy="241.2" r="0.4"/><circle cx="88.1" cy="305.2" r="0.4"/><circle cx="146.2" cy="296.1" r="0.4"/><circle cx="85.6" cy="297.6" r="0.4"/><circle cx="134.8" cy="228.6" r="0.4"/><circle cx="94.1" cy="246.3" r="0.6"/><circle cx="90.9" cy="310.3" r="0.6"/><circle cx="96.1" cy="260.1" r="0.5"/><circle cx="96" cy="206.8" r="0.5"/><circle cx="94.6" cy="213.2" r="0.6"/><circle cx="131.9" cy="263.3" r="0.5"/><circle cx="136.1" cy="230.9" r="0.5"/><circle cx="92.8" cy="210.9" r="0.4"/><circle cx="126.4" cy="248.2" r="0.6"/><circle cx="134" cy="276.1" r="0.4"/><circle cx="132.3" cy="271.2" r="0.4"/><circle cx="99" cy="250.9" r="0.4"/><circle cx="114.3" cy="207.5" r="0.5"/><circle cx="130.3" cy="244.6" r="0.5"/><circle cx="95.7" cy="231.9" r="0.4"/><circle cx="139.1" cy="300.3" r="0.5"/><circle cx="102.8" cy="252" r="0.5"/><circle cx="131.3" cy="270.1" r="0.6"/><circle cx="105.1" cy="320.6" r="0.5"/><circle cx="132.3" cy="252.9" r="0.4"/><circle cx="98.5" cy="234.1" r="0.5"/><circle cx="87.8" cy="216.9" r="0.5"/><circle cx="98.1" cy="264.7" r="0.4"/><circle cx="134.9" cy="284.4" r="0.5"/><circle cx="144.2" cy="204.1" r="0.5"/><circle cx="96.3" cy="311.6" r="0.4"/><circle cx="134.9" cy="279.3" r="0.4"/><circle cx="94.9" cy="231" r="0.6"/><circle cx="87.8" cy="292.2" r="0.5"/><circle cx="107.1" cy="268.3" r="0.6"/><circle cx="101.8" cy="209.5" r="0.6"/><circle cx="134.7" cy="242.5" r="0.4"/><circle cx="84" cy="301.1" r="0.6"/><circle cx="90.5" cy="295.4" r="0.5"/><circle cx="133.3" cy="276.6" r="0.6"/><circle cx="120.5" cy="207" r="0.6"/><circle cx="95.2" cy="205.6" r="0.4"/><circle cx="139.6" cy="222.7" r="0.6"/><circle cx="86.8" cy="219.4" r="0.5"/><circle cx="96.1" cy="215.4" r="0.5"/><circle cx="133.8" cy="317.1" r="0.5"/><circle cx="123.2" cy="314.4" r="0.6"/><circle cx="94.8" cy="243.7" r="0.6"/><circle cx="129.8" cy="240.1" r="0.5"/><circle cx="143.7" cy="309.5" r="0.5"/><circle cx="133.7" cy="230.6" r="0.6"/><circle cx="104.5" cy="266.4" r="0.4"/><circle cx="137.4" cy="288.6" r="0.4"/><circle cx="139.5" cy="205.5" r="0.5"/><circle cx="142.4" cy="211.3" r="0.4"/><circle cx="138.8" cy="314.4" r="0.5"/><circle cx="111.5" cy="319.2" r="0.4"/><circle cx="138.3" cy="212" r="0.6"/><circle cx="137.3" cy="295.2" r="0.6"/><circle cx="90.4" cy="303.4" r="0.4"/><circle cx="140.4" cy="310" r="0.5"/><circle cx="92.3" cy="288.2" r="0.5"/><circle cx="90.4" cy="228.7" r="0.5"/><circle cx="101.1" cy="309.4" r="0.5"/><circle cx="102" cy="266.6" r="0.5"/><circle cx="115" cy="311.3" r="0.4"/><circle cx="138.1" cy="206.8" r="0.5"/><circle cx="129.6" cy="244.6" r="0.5"/><circle cx="106.2" cy="316.3" r="0.5"/><circle cx="91.6" cy="229.3" r="0.6"/><circle cx="93.8" cy="282.7" r="0.4"/><circle cx="92.2" cy="289.1" r="0.4"/><circle cx="142.4" cy="289.4" r="0.4"/><circle cx="138.8" cy="223.5" r="0.4"/><circle cx="94.6" cy="239.7" r="0.5"/><circle cx="135.9" cy="287.5" r="0.4"/><circle cx="103.2" cy="239.7" r="0.5"/><circle cx="109.9" cy="315" r="0.5"/><circle cx="94.6" cy="218.3" r="0.5"/><circle cx="141" cy="292.4" r="0.4"/><circle cx="114.8" cy="315.2" r="0.6"/><circle cx="90.3" cy="308.3" r="0.5"/><circle cx="100.6" cy="234.9" r="0.6"/><circle cx="91.9" cy="311.6" r="0.5"/><circle cx="92.1" cy="210" r="0.4"/><circle cx="136.2" cy="228.1" r="0.5"/><circle cx="132.5" cy="224.1" r="0.4"/><circle cx="109.8" cy="321.7" r="0.4"/><circle cx="85.8" cy="312.3" r="0.4"/><circle cx="95" cy="307.4" r="0.5"/><circle cx="95" cy="229.1" r="0.5"/><circle cx="136.3" cy="282.4" r="0.5"/><circle cx="136.7" cy="267.6" r="0.4"/><circle cx="137.1" cy="230.5" r="0.5"/><circle cx="136.9" cy="238.8" r="0.5"/><circle cx="90.3" cy="282.7" r="0.4"/><circle cx="103.7" cy="255.7" r="0.4"/><circle cx="117.3" cy="212.4" r="0.4"/><circle cx="132.7" cy="243" r="0.5"/><circle cx="97.3" cy="273.9" r="0.6"/><circle cx="100.7" cy="261.3" r="0.6"/><circle cx="101.6" cy="313.9" r="0.5"/><circle cx="141.9" cy="209.3" r="0.5"/><circle cx="100.2" cy="209" r="0.4"/><circle cx="141.9" cy="217.3" r="0.4"/><circle cx="92.3" cy="273.4" r="0.6"/><circle cx="92.7" cy="215.1" r="0.5"/><circle cx="134.8" cy="258.8" r="0.5"/><circle cx="134" cy="232.5" r="0.5"/><circle cx="92.1" cy="288.4" r="0.4"/><circle cx="137.2" cy="216" r="0.5"/><circle cx="100.7" cy="268.4" r="0.4"/><circle cx="130.1" cy="264.7" r="0.5"/><circle cx="131.6" cy="223.2" r="0.4"/><circle cx="86.3" cy="308.4" r="0.4"/><circle cx="90.7" cy="306.3" r="0.6"/><circle cx="88.3" cy="300.5" r="0.5"/><circle cx="128.2" cy="316.2" r="0.4"/><circle cx="123.5" cy="204.8" r="0.5"/><circle cx="99" cy="265.2" r="0.6"/><circle cx="135.8" cy="213.6" r="0.4"/><circle cx="136.3" cy="224.3" r="0.4"/><circle cx="104.9" cy="259.2" r="0.4"/><circle cx="130.5" cy="260" r="0.4"/><circle cx="142.6" cy="206.7" r="0.6"/><circle cx="102.9" cy="207.2" r="0.4"/><circle cx="135" cy="308.8" r="0.4"/><circle cx="137.6" cy="285.7" r="0.5"/><circle cx="97.7" cy="262" r="0.6"/><circle cx="100.8" cy="272.4" r="0.5"/><circle cx="142.8" cy="293" r="0.5"/><circle cx="134.8" cy="311.4" r="0.4"/><circle cx="138.8" cy="211.4" r="0.6"/><circle cx="120.4" cy="311.3" r="0.5"/><circle cx="138.7" cy="223.1" r="0.5"/><circle cx="102.3" cy="275.7" r="0.5"/><circle cx="139.1" cy="285.8" r="0.4"/><circle cx="138.3" cy="308" r="0.5"/><circle cx="130" cy="263.2" r="0.4"/><circle cx="98.7" cy="267.2" r="0.5"/><circle cx="132.2" cy="209.1" r="0.5"/><circle cx="106.3" cy="313.9" r="0.4"/><circle cx="101.6" cy="252.4" r="0.4"/><circle cx="85.3" cy="290" r="0.6"/><circle cx="133.9" cy="242.1" r="0.4"/><circle cx="144.8" cy="312.1" r="0.4"/><circle cx="97.5" cy="278.8" r="0.4"/><circle cx="124.8" cy="318.6" r="0.5"/><circle cx="138.7" cy="228.7" r="0.4"/><circle cx="138.4" cy="297.6" r="0.4"/><circle cx="88.3" cy="285" r="0.5"/><circle cx="135.3" cy="320.7" r="0.5"/><circle cx="140.7" cy="302.9" r="0.6"/><circle cx="136.3" cy="281.8" r="0.5"/><circle cx="134.2" cy="243.4" r="0.4"/><circle cx="85.3" cy="315.5" r="0.4"/><circle cx="92.7" cy="251.6" r="0.4"/><circle cx="138.3" cy="232.6" r="0.5"/><circle cx="127.6" cy="305.2" r="0.5"/><circle cx="89.9" cy="215.3" r="0.6"/><circle cx="102.5" cy="253.6" r="0.5"/><circle cx="93.6" cy="221.8" r="0.4"/><circle cx="129.9" cy="252.1" r="0.5"/><circle cx="98.9" cy="206.5" r="0.4"/><circle cx="143" cy="303.6" r="0.6"/><circle cx="97.4" cy="247.7" r="0.4"/><circle cx="114.2" cy="313.1" r="0.4"/><circle cx="91.9" cy="278.5" r="0.4"/><circle cx="114.7" cy="312.4" r="0.6"/><circle cx="133" cy="291.7" r="0.5"/><circle cx="98.1" cy="204.1" r="0.5"/><circle cx="94.8" cy="208.7" r="0.5"/><circle cx="82.6" cy="207" r="0.5"/><circle cx="136.4" cy="278.1" r="0.5"/><circle cx="86.7" cy="310.2" r="0.5"/><circle cx="94.2" cy="237.3" r="0.5"/><circle cx="139.1" cy="225" r="0.6"/><circle cx="137.3" cy="220.4" r="0.4"/><circle cx="133.6" cy="226.8" r="0.5"/><circle cx="134.6" cy="233.7" r="0.4"/><circle cx="90.3" cy="305.7" r="0.6"/><circle cx="99.1" cy="317.1" r="0.5"/><circle cx="134.2" cy="257" r="0.4"/><circle cx="136.1" cy="221.3" r="0.5"/><circle cx="132" cy="216.9" r="0.5"/></g>
<path d="M89.7 203 C97.2 198.5 132.4 198.5 140 203 C147.6 207.5 136.4 220 135 230 C133.6 240 131.4 253.6 131.6 262.8 C131.8 272 134.4 278.7 136 285 C137.6 291.3 141.3 295.8 141.3 300.5 C141.3 305.2 141.2 310.4 136 313 C130.8 315.6 118 316.3 110 316 C102 315.7 92.1 313.6 88 311 C83.9 308.4 84.5 304.8 85.5 300.5 C86.5 296.2 91.5 291.3 94 285 C96.5 278.7 100.6 272 100.8 262.8 C101 253.6 96.8 240 95 230 C93.2 220 82.2 207.5 89.7 203Z" fill="#3a58b2" filter="url(#b05)"/>
<ellipse cx="112" cy="207" rx="18" ry="1.5" fill="#38b6e6" filter="url(#b05)" opacity="0.7"/>
<g fill="#fff" opacity="0.9"><circle cx="126.4" cy="269.5" r="0.4"/><circle cx="97.7" cy="223.5" r="0.5"/><circle cx="108.2" cy="237" r="0.3"/><circle cx="130.4" cy="220.7" r="0.4"/><circle cx="130.3" cy="278.7" r="0.4"/><circle cx="129.4" cy="224.7" r="0.4"/><circle cx="130.1" cy="257.1" r="0.4"/><circle cx="129.7" cy="242" r="0.5"/><circle cx="124.2" cy="285.6" r="0.4"/><circle cx="92.5" cy="209.2" r="0.5"/><circle cx="127.7" cy="252.2" r="0.5"/><circle cx="132.2" cy="225.6" r="0.4"/><circle cx="106" cy="220.6" r="0.5"/><circle cx="108.4" cy="286.8" r="0.4"/><circle cx="128.5" cy="276.7" r="0.5"/><circle cx="106.2" cy="236.5" r="0.4"/><circle cx="120" cy="286.3" r="0.5"/><circle cx="115.3" cy="222.1" r="0.5"/><circle cx="124.9" cy="254.7" r="0.5"/><circle cx="121.1" cy="243.5" r="0.5"/><circle cx="115.6" cy="243.2" r="0.5"/><circle cx="136.6" cy="281.7" r="0.4"/><circle cx="116.9" cy="263.8" r="0.5"/><circle cx="113.8" cy="225.9" r="0.4"/><circle cx="124.3" cy="274.9" r="0.3"/><circle cx="99.5" cy="214.4" r="0.4"/><circle cx="108.3" cy="272.4" r="0.3"/><circle cx="118.9" cy="255.9" r="0.4"/><circle cx="109.6" cy="228.6" r="0.4"/><circle cx="109.7" cy="275.7" r="0.5"/><circle cx="106" cy="252.8" r="0.4"/><circle cx="128.5" cy="263.3" r="0.5"/><circle cx="105.2" cy="218.4" r="0.3"/><circle cx="110.6" cy="221.5" r="0.5"/><circle cx="119" cy="284.7" r="0.3"/><circle cx="103.4" cy="237.7" r="0.4"/><circle cx="115.1" cy="255" r="0.3"/><circle cx="128.9" cy="229" r="0.5"/><circle cx="108.8" cy="257.3" r="0.4"/><circle cx="94.7" cy="271.3" r="0.5"/><circle cx="121" cy="288.2" r="0.3"/><circle cx="128.6" cy="207.9" r="0.3"/><circle cx="119.9" cy="241.7" r="0.5"/><circle cx="121.3" cy="230" r="0.5"/><circle cx="111.7" cy="245.7" r="0.5"/><circle cx="123.3" cy="281" r="0.5"/><circle cx="134.7" cy="273" r="0.4"/><circle cx="104.1" cy="263.6" r="0.3"/><circle cx="129.8" cy="234.7" r="0.4"/><circle cx="129.5" cy="231.9" r="0.5"/><circle cx="108.9" cy="270.9" r="0.5"/><circle cx="92.5" cy="210.7" r="0.3"/><circle cx="106.4" cy="234.1" r="0.5"/><circle cx="126.2" cy="243.9" r="0.4"/><circle cx="109.8" cy="237.4" r="0.3"/><circle cx="129.4" cy="244.6" r="0.5"/><circle cx="97.1" cy="286.1" r="0.4"/><circle cx="99.6" cy="277.6" r="0.3"/><circle cx="99.2" cy="222.9" r="0.5"/><circle cx="134.2" cy="267" r="0.3"/><circle cx="126.4" cy="266.1" r="0.3"/><circle cx="136.6" cy="211.9" r="0.5"/><circle cx="100.7" cy="211" r="0.5"/><circle cx="112.5" cy="219.9" r="0.3"/><circle cx="114.3" cy="213" r="0.4"/><circle cx="93" cy="278.7" r="0.4"/><circle cx="117.4" cy="211.3" r="0.3"/><circle cx="130.7" cy="233.8" r="0.5"/><circle cx="118.9" cy="263.2" r="0.4"/><circle cx="132.8" cy="264.6" r="0.3"/><circle cx="108.1" cy="278" r="0.4"/><circle cx="127.8" cy="262" r="0.3"/><circle cx="115" cy="222.2" r="0.4"/><circle cx="130.9" cy="249.1" r="0.3"/><circle cx="105.5" cy="242.2" r="0.3"/><circle cx="130.3" cy="256.2" r="0.4"/><circle cx="121.6" cy="253.6" r="0.5"/><circle cx="107.6" cy="289.1" r="0.3"/><circle cx="119.7" cy="284.7" r="0.5"/><circle cx="126.9" cy="217.8" r="0.3"/><circle cx="99.1" cy="216.5" r="0.4"/><circle cx="120.1" cy="241.1" r="0.5"/><circle cx="117.5" cy="242.4" r="0.4"/><circle cx="107.4" cy="238.3" r="0.3"/><circle cx="123" cy="227.3" r="0.5"/><circle cx="112.8" cy="264.7" r="0.4"/><circle cx="105" cy="221.5" r="0.5"/><circle cx="111.7" cy="256.1" r="0.4"/><circle cx="108.4" cy="247.9" r="0.4"/><circle cx="127.8" cy="242.4" r="0.5"/><circle cx="113.5" cy="230.1" r="0.4"/><circle cx="98.8" cy="287.9" r="0.4"/><circle cx="113.1" cy="206.1" r="0.4"/><circle cx="97.9" cy="206.2" r="0.4"/><circle cx="108.7" cy="246.2" r="0.3"/><circle cx="109.9" cy="233.2" r="0.3"/><circle cx="105.3" cy="257.2" r="0.4"/><circle cx="96" cy="266.8" r="0.4"/><circle cx="129.1" cy="260.4" r="0.5"/><circle cx="122.2" cy="277.9" r="0.4"/><circle cx="126.4" cy="275.8" r="0.4"/><circle cx="94.9" cy="285.5" r="0.5"/><circle cx="116.4" cy="236.1" r="0.5"/><circle cx="114.8" cy="219.5" r="0.3"/><circle cx="136.8" cy="208.2" r="0.4"/><circle cx="102.8" cy="242.1" r="0.5"/><circle cx="126.5" cy="249.1" r="0.4"/><circle cx="106.9" cy="245.3" r="0.4"/><circle cx="117.9" cy="266.5" r="0.4"/><circle cx="130.4" cy="232" r="0.3"/><circle cx="121.7" cy="219.5" r="0.5"/><circle cx="103.7" cy="278.7" r="0.5"/><circle cx="117.3" cy="244.7" r="0.5"/><circle cx="128.3" cy="258.7" r="0.5"/><circle cx="128.3" cy="232.5" r="0.4"/><circle cx="102" cy="264.5" r="0.5"/><circle cx="132" cy="231.1" r="0.5"/><circle cx="130" cy="238.7" r="0.3"/><circle cx="121.1" cy="270" r="0.3"/><circle cx="102.7" cy="245" r="0.5"/><circle cx="120.9" cy="213.7" r="0.4"/><circle cx="133.4" cy="215.9" r="0.4"/><circle cx="106.7" cy="258.8" r="0.3"/><circle cx="99.4" cy="233.3" r="0.4"/><circle cx="111.5" cy="248.2" r="0.5"/><circle cx="102.8" cy="217.3" r="0.4"/><circle cx="107.9" cy="264.8" r="0.4"/><circle cx="109.2" cy="215.9" r="0.4"/><circle cx="103.6" cy="274.3" r="0.4"/><circle cx="103" cy="269.8" r="0.3"/><circle cx="133.4" cy="289.6" r="0.4"/><circle cx="113.6" cy="229.7" r="0.4"/><circle cx="131.7" cy="273.4" r="0.5"/><circle cx="126" cy="239.7" r="0.5"/><circle cx="121.6" cy="221" r="0.3"/><circle cx="128.1" cy="290.8" r="0.4"/><circle cx="106.6" cy="269.5" r="0.3"/><circle cx="101.2" cy="249.7" r="0.4"/><circle cx="118.4" cy="279.2" r="0.4"/><circle cx="117.2" cy="223.5" r="0.4"/><circle cx="100.4" cy="283.6" r="0.4"/><circle cx="111.1" cy="244" r="0.3"/><circle cx="116.4" cy="238.4" r="0.3"/><circle cx="115.9" cy="232.9" r="0.5"/><circle cx="110.1" cy="247" r="0.3"/><circle cx="109.9" cy="250.1" r="0.3"/><circle cx="118.7" cy="246.2" r="0.4"/><circle cx="120.3" cy="269" r="0.3"/><circle cx="116.2" cy="209.3" r="0.5"/><circle cx="106" cy="253.5" r="0.4"/><circle cx="110.9" cy="267.4" r="0.4"/><circle cx="119.8" cy="224.9" r="0.4"/><circle cx="127.7" cy="205.2" r="0.5"/><circle cx="134.7" cy="290.9" r="0.5"/><circle cx="107.5" cy="245.6" r="0.5"/><circle cx="109.3" cy="241.4" r="0.3"/><circle cx="122.3" cy="257.7" r="0.5"/><circle cx="103" cy="218.3" r="0.5"/><circle cx="131.3" cy="216.3" r="0.5"/><circle cx="106.5" cy="259.9" r="0.4"/><circle cx="108.5" cy="271.7" r="0.5"/><circle cx="129.1" cy="257.3" r="0.5"/><circle cx="116.7" cy="263.2" r="0.5"/><circle cx="121.5" cy="257.4" r="0.4"/><circle cx="117.5" cy="214.3" r="0.4"/><circle cx="102.6" cy="289.4" r="0.5"/><circle cx="104.7" cy="234" r="0.4"/><circle cx="131.6" cy="233" r="0.5"/><circle cx="106.7" cy="213.8" r="0.3"/><circle cx="115.9" cy="247.9" r="0.4"/><circle cx="112.9" cy="263.5" r="0.5"/><circle cx="105.9" cy="264.1" r="0.5"/><circle cx="102.3" cy="207.6" r="0.3"/><circle cx="116.6" cy="287.8" r="0.5"/><circle cx="96.8" cy="291.1" r="0.5"/><circle cx="124.8" cy="206.8" r="0.5"/><circle cx="127.7" cy="238.5" r="0.5"/><circle cx="107.9" cy="248.3" r="0.3"/><circle cx="116.9" cy="211.6" r="0.4"/><circle cx="116.2" cy="221.3" r="0.3"/><circle cx="120.8" cy="231.3" r="0.3"/><circle cx="103" cy="250.5" r="0.5"/><circle cx="131.3" cy="223.4" r="0.5"/><circle cx="105.3" cy="288.9" r="0.5"/><circle cx="136.5" cy="211.1" r="0.5"/><circle cx="97.8" cy="208.2" r="0.3"/><circle cx="129.5" cy="235.3" r="0.5"/><circle cx="125.4" cy="233.4" r="0.3"/><circle cx="111.3" cy="252.4" r="0.3"/><circle cx="122" cy="285" r="0.5"/><circle cx="119.4" cy="260.7" r="0.3"/><circle cx="127.7" cy="246.4" r="0.4"/><circle cx="113.6" cy="260.5" r="0.4"/><circle cx="101.1" cy="206" r="0.3"/><circle cx="95.2" cy="212.9" r="0.5"/><circle cx="123.8" cy="291.6" r="0.5"/><circle cx="128.3" cy="223.2" r="0.4"/><circle cx="103.4" cy="279.4" r="0.4"/><circle cx="106" cy="250.8" r="0.4"/><circle cx="126.6" cy="268.2" r="0.5"/><circle cx="109.5" cy="261.9" r="0.4"/><circle cx="118.2" cy="256" r="0.5"/><circle cx="130.5" cy="254.3" r="0.4"/><circle cx="99.9" cy="243.8" r="0.4"/><circle cx="99.3" cy="247" r="0.4"/><circle cx="105" cy="215.1" r="0.5"/><circle cx="97.9" cy="284.6" r="0.4"/><circle cx="100.6" cy="247.3" r="0.4"/><circle cx="112.5" cy="251.5" r="0.4"/><circle cx="120.2" cy="210.7" r="0.5"/><circle cx="117.6" cy="221.5" r="0.5"/><circle cx="120.2" cy="282.5" r="0.4"/><circle cx="113.1" cy="270.2" r="0.5"/><circle cx="116.8" cy="237.4" r="0.5"/><circle cx="118.5" cy="255.9" r="0.4"/><circle cx="120.1" cy="235.5" r="0.4"/><circle cx="111.1" cy="243.4" r="0.4"/><circle cx="128.4" cy="259.5" r="0.3"/><circle cx="116.1" cy="261.5" r="0.5"/><circle cx="111.3" cy="262.7" r="0.3"/><circle cx="115.7" cy="236.6" r="0.5"/><circle cx="122" cy="285.6" r="0.5"/><circle cx="124.7" cy="235.5" r="0.3"/><circle cx="114.5" cy="282" r="0.4"/><circle cx="116.6" cy="265.2" r="0.5"/><circle cx="96.4" cy="215.5" r="0.4"/><circle cx="104.9" cy="224.7" r="0.5"/><circle cx="108.2" cy="251" r="0.4"/><circle cx="105.8" cy="224.6" r="0.3"/><circle cx="125.4" cy="289.9" r="0.4"/><circle cx="135.6" cy="214.5" r="0.5"/><circle cx="131.3" cy="213.3" r="0.4"/><circle cx="112.4" cy="290.7" r="0.4"/><circle cx="118.8" cy="205.7" r="0.4"/><circle cx="102.7" cy="281.7" r="0.5"/><circle cx="125.2" cy="234" r="0.5"/><circle cx="118.3" cy="286.2" r="0.4"/><circle cx="105.6" cy="227.9" r="0.3"/><circle cx="108.7" cy="231" r="0.5"/><circle cx="115.1" cy="205.6" r="0.4"/><circle cx="122.8" cy="218.8" r="0.4"/><circle cx="101.5" cy="269.7" r="0.5"/><circle cx="101.2" cy="232.2" r="0.3"/><circle cx="101" cy="222.8" r="0.4"/><circle cx="109.4" cy="289.4" r="0.4"/><circle cx="97.3" cy="270.5" r="0.3"/><circle cx="107.3" cy="280.7" r="0.3"/><circle cx="124.5" cy="221" r="0.5"/><circle cx="121.8" cy="239.7" r="0.4"/><circle cx="107.9" cy="222.7" r="0.4"/><circle cx="125.6" cy="226.8" r="0.3"/><circle cx="122.6" cy="238.6" r="0.3"/><circle cx="120.1" cy="288.8" r="0.5"/><circle cx="103.5" cy="221.7" r="0.5"/><circle cx="93.4" cy="289.8" r="0.5"/><circle cx="98.8" cy="222.4" r="0.4"/><circle cx="130" cy="213.3" r="0.5"/><circle cx="102.6" cy="229.9" r="0.4"/><circle cx="95.9" cy="270.2" r="0.5"/><circle cx="109.8" cy="215.7" r="0.3"/><circle cx="116.6" cy="212" r="0.4"/><circle cx="132.9" cy="284.3" r="0.5"/><circle cx="119.8" cy="249.5" r="0.4"/><circle cx="116.5" cy="245.8" r="0.4"/><circle cx="126.3" cy="243.7" r="0.5"/><circle cx="129.5" cy="269" r="0.4"/><circle cx="102.4" cy="211.5" r="0.4"/><circle cx="124.9" cy="271.5" r="0.5"/><circle cx="106.4" cy="272.8" r="0.3"/><circle cx="109.5" cy="247" r="0.5"/><circle cx="116.7" cy="283.8" r="0.5"/><circle cx="115.8" cy="268.2" r="0.4"/><circle cx="128.2" cy="287.9" r="0.4"/><circle cx="99.4" cy="290.9" r="0.5"/><circle cx="109.1" cy="252.9" r="0.3"/><circle cx="127.5" cy="255.6" r="0.3"/><circle cx="136.6" cy="283.2" r="0.3"/><circle cx="114.5" cy="253.1" r="0.4"/><circle cx="105.1" cy="215.4" r="0.5"/><circle cx="135.1" cy="278.1" r="0.4"/><circle cx="100.8" cy="248.4" r="0.4"/><circle cx="131.8" cy="255.6" r="0.3"/><circle cx="98.4" cy="262.1" r="0.5"/><circle cx="122.4" cy="222.6" r="0.5"/><circle cx="113.5" cy="222.9" r="0.4"/><circle cx="110.9" cy="220.6" r="0.3"/><circle cx="133.4" cy="266.6" r="0.4"/><circle cx="115.5" cy="239.8" r="0.3"/><circle cx="122.8" cy="269.3" r="0.3"/><circle cx="102.7" cy="237.9" r="0.5"/><circle cx="133.2" cy="206.3" r="0.3"/><circle cx="101.3" cy="277.7" r="0.4"/><circle cx="132.2" cy="266.9" r="0.5"/><circle cx="123.8" cy="218.3" r="0.4"/><circle cx="113.5" cy="219.6" r="0.5"/><circle cx="124.7" cy="206.7" r="0.4"/><circle cx="113.9" cy="281.8" r="0.4"/><circle cx="97.6" cy="279" r="0.5"/><circle cx="99.6" cy="230.5" r="0.3"/><circle cx="99.8" cy="279" r="0.5"/><circle cx="132.6" cy="217.8" r="0.3"/><circle cx="116.3" cy="262.4" r="0.4"/><circle cx="102.9" cy="285.5" r="0.5"/><circle cx="125.4" cy="254.6" r="0.4"/><circle cx="124.8" cy="291.8" r="0.4"/><circle cx="129.2" cy="223.9" r="0.4"/><circle cx="132.1" cy="291.1" r="0.5"/><circle cx="101.8" cy="267.8" r="0.5"/><circle cx="99.1" cy="267.2" r="0.3"/><circle cx="102.7" cy="213.8" r="0.5"/><circle cx="123.2" cy="271.8" r="0.4"/><circle cx="99.5" cy="286.6" r="0.4"/><circle cx="107.3" cy="243.4" r="0.5"/><circle cx="125.8" cy="277.6" r="0.4"/><circle cx="108.7" cy="255.5" r="0.4"/><circle cx="103.6" cy="251.2" r="0.5"/><circle cx="127.3" cy="275.7" r="0.3"/><circle cx="124.2" cy="225.3" r="0.5"/><circle cx="130.2" cy="258.7" r="0.4"/><circle cx="114" cy="224.7" r="0.4"/><circle cx="124.2" cy="238.1" r="0.4"/><circle cx="118.7" cy="267" r="0.3"/><circle cx="126.9" cy="249.4" r="0.5"/><circle cx="121.2" cy="279.1" r="0.5"/><circle cx="111.4" cy="208.4" r="0.3"/><circle cx="106.4" cy="270.8" r="0.5"/><circle cx="97.3" cy="262" r="0.5"/><circle cx="106.7" cy="233.6" r="0.5"/><circle cx="104.8" cy="260" r="0.5"/><circle cx="94.8" cy="211.5" r="0.5"/><circle cx="134.9" cy="285.8" r="0.5"/><circle cx="117.8" cy="269.5" r="0.4"/><circle cx="129.6" cy="251.6" r="0.5"/><circle cx="105.4" cy="242.9" r="0.4"/><circle cx="124.9" cy="241.8" r="0.5"/><circle cx="100.3" cy="258.9" r="0.4"/><circle cx="116.6" cy="216.2" r="0.5"/><circle cx="113.8" cy="263.6" r="0.3"/><circle cx="131.5" cy="286" r="0.4"/><circle cx="123.2" cy="209.5" r="0.4"/><circle cx="111.1" cy="239.6" r="0.4"/><circle cx="121.2" cy="217.2" r="0.4"/><circle cx="123" cy="242.5" r="0.4"/><circle cx="105.6" cy="219.1" r="0.4"/><circle cx="120" cy="263" r="0.5"/><circle cx="123.8" cy="236.1" r="0.4"/><circle cx="101.5" cy="227.1" r="0.5"/><circle cx="135" cy="278.7" r="0.5"/><circle cx="119" cy="276.6" r="0.4"/><circle cx="127.5" cy="230.8" r="0.4"/><circle cx="116.6" cy="247.1" r="0.3"/><circle cx="102.1" cy="214.7" r="0.5"/><circle cx="97.1" cy="273.3" r="0.3"/><circle cx="100.1" cy="290.8" r="0.5"/><circle cx="127.7" cy="256" r="0.5"/><circle cx="126.8" cy="213.5" r="0.5"/><circle cx="135.9" cy="208.6" r="0.4"/><circle cx="115.8" cy="245.4" r="0.4"/><circle cx="100.4" cy="254.6" r="0.5"/><circle cx="101.9" cy="250.5" r="0.4"/><circle cx="112.3" cy="221.5" r="0.5"/><circle cx="101" cy="270.6" r="0.4"/><circle cx="120.7" cy="289.3" r="0.3"/><circle cx="106.2" cy="258" r="0.3"/><circle cx="100.7" cy="262.3" r="0.3"/><circle cx="132.6" cy="264" r="0.3"/><circle cx="100.3" cy="270.2" r="0.3"/><circle cx="91.5" cy="206.4" r="0.5"/><circle cx="93.4" cy="283.9" r="0.3"/><circle cx="110.6" cy="209.1" r="0.4"/><circle cx="127.2" cy="221.7" r="0.3"/><circle cx="102.3" cy="260" r="0.5"/><circle cx="102.2" cy="216.3" r="0.5"/><circle cx="113.3" cy="228.2" r="0.5"/><circle cx="117.2" cy="291.9" r="0.3"/><circle cx="121.8" cy="263.2" r="0.4"/><circle cx="125.4" cy="238.5" r="0.3"/><circle cx="116.5" cy="252.5" r="0.5"/><circle cx="103.8" cy="272.8" r="0.4"/><circle cx="110.9" cy="256.9" r="0.3"/><circle cx="113" cy="291.4" r="0.3"/><circle cx="95.2" cy="218.3" r="0.5"/><circle cx="117.6" cy="217.2" r="0.5"/><circle cx="118.9" cy="271.8" r="0.4"/><circle cx="126.5" cy="263.6" r="0.4"/><circle cx="111.7" cy="224.9" r="0.4"/><circle cx="119" cy="282.4" r="0.4"/><circle cx="101" cy="268.1" r="0.3"/><circle cx="118.8" cy="205.8" r="0.4"/><circle cx="116.7" cy="245.4" r="0.3"/><circle cx="118.2" cy="223.3" r="0.4"/><circle cx="128.4" cy="248.4" r="0.4"/><circle cx="97" cy="269.7" r="0.4"/><circle cx="100.9" cy="209.7" r="0.3"/><circle cx="103.9" cy="238.4" r="0.5"/><circle cx="108.3" cy="231.1" r="0.3"/><circle cx="124.3" cy="237.1" r="0.4"/><circle cx="120.2" cy="282.7" r="0.5"/><circle cx="125.7" cy="242.2" r="0.4"/><circle cx="103.5" cy="217.1" r="0.5"/><circle cx="100.2" cy="210" r="0.5"/><circle cx="113.7" cy="264.4" r="0.5"/><circle cx="117.9" cy="241.5" r="0.3"/><circle cx="130.2" cy="240.9" r="0.4"/><circle cx="119.1" cy="234.7" r="0.5"/><circle cx="112.3" cy="245.5" r="0.5"/><circle cx="102.8" cy="279" r="0.5"/><circle cx="110" cy="231" r="0.5"/><circle cx="128.6" cy="236.6" r="0.4"/><circle cx="98.5" cy="280.5" r="0.4"/><circle cx="132.1" cy="207.9" r="0.5"/><circle cx="113.9" cy="247.3" r="0.5"/><circle cx="108.7" cy="238.6" r="0.3"/><circle cx="128.4" cy="284.9" r="0.4"/><circle cx="128.5" cy="268.5" r="0.5"/><circle cx="121.4" cy="214.4" r="0.5"/><circle cx="112.7" cy="246.4" r="0.5"/><circle cx="104.3" cy="221.6" r="0.5"/><circle cx="97.8" cy="291.4" r="0.5"/><circle cx="100" cy="248.8" r="0.3"/><circle cx="121.6" cy="231.5" r="0.3"/><circle cx="118.9" cy="237.5" r="0.5"/><circle cx="130" cy="291.6" r="0.3"/><circle cx="118.5" cy="253.7" r="0.4"/><circle cx="111" cy="257" r="0.4"/><circle cx="128.9" cy="263" r="0.5"/><circle cx="131.8" cy="262.2" r="0.4"/><circle cx="126.1" cy="255" r="0.5"/><circle cx="115.5" cy="205.1" r="0.5"/><circle cx="110.9" cy="222.6" r="0.5"/><circle cx="116.4" cy="244.5" r="0.4"/><circle cx="113" cy="278.9" r="0.5"/><circle cx="111.2" cy="266.3" r="0.5"/><circle cx="99.6" cy="231.1" r="0.4"/><circle cx="105.5" cy="209" r="0.5"/><circle cx="101.6" cy="289.4" r="0.3"/><circle cx="113.4" cy="235.7" r="0.3"/><circle cx="99.8" cy="275.2" r="0.4"/><circle cx="120.2" cy="228.7" r="0.3"/><circle cx="126.2" cy="248" r="0.3"/><circle cx="98.4" cy="221.8" r="0.5"/><circle cx="105.4" cy="263.4" r="0.5"/><circle cx="114.5" cy="220" r="0.5"/><circle cx="100" cy="257.3" r="0.3"/><circle cx="132.4" cy="221" r="0.5"/><circle cx="99.5" cy="231.1" r="0.5"/><circle cx="130.1" cy="222.3" r="0.5"/><circle cx="126.9" cy="273" r="0.5"/><circle cx="109.7" cy="277.4" r="0.5"/><circle cx="124.6" cy="206.1" r="0.4"/></g>
<ellipse cx="112.5" cy="301.5" rx="20" ry="9.5" fill="#38b6e6" transform="rotate(-4 112.5 301.5)" filter="url(#b1)"/>
<ellipse cx="111" cy="301.3" rx="14" ry="6.8" fill="#7cc54a" transform="rotate(-4 111 301.3)" filter="url(#b05)"/>
<ellipse cx="110.6" cy="301.2" rx="9.5" ry="4.6" fill="#f3e41f" transform="rotate(-4 110.6 301.2)" filter="url(#b05)"/>
<ellipse cx="110.6" cy="301.2" rx="4.6" ry="2.3" fill="#e2261d" transform="rotate(-4 110.6 301.2)" filter="url(#b05)"/>
</g>
<rect x="78.2" y="288.6" width="66.8" height="38.7" stroke="#231f20" stroke-width="1" fill="none"/>
<g clip-path="url(#ca4)">
<g fill="#3a58b2"><circle cx="210.1" cy="263.8" r="0.5"/><circle cx="281.7" cy="297.8" r="0.4"/><circle cx="268.2" cy="241.9" r="0.5"/><circle cx="232.9" cy="308.6" r="0.4"/><circle cx="283" cy="295.1" r="0.5"/><circle cx="290.5" cy="254" r="0.5"/><circle cx="287.9" cy="301.2" r="0.4"/><circle cx="238.1" cy="313.5" r="0.4"/><circle cx="210.6" cy="252.6" r="0.6"/><circle cx="256.1" cy="305.8" r="0.5"/><circle cx="290.9" cy="255.4" r="0.5"/><circle cx="214.6" cy="251.1" r="0.4"/><circle cx="296.9" cy="293.8" r="0.5"/><circle cx="242.7" cy="310.4" r="0.6"/><circle cx="278" cy="299.8" r="0.4"/><circle cx="289.4" cy="253.3" r="0.4"/><circle cx="304.4" cy="283.6" r="0.4"/><circle cx="230.1" cy="308.4" r="0.4"/><circle cx="213.1" cy="303.4" r="0.4"/><circle cx="228.1" cy="309" r="0.6"/><circle cx="212.2" cy="306" r="0.4"/><circle cx="237.8" cy="242.2" r="0.4"/><circle cx="212" cy="252.8" r="0.4"/><circle cx="301.9" cy="289.1" r="0.5"/><circle cx="298.7" cy="295.2" r="0.5"/><circle cx="229" cy="241.1" r="0.5"/><circle cx="261" cy="245" r="0.5"/><circle cx="251.6" cy="243.3" r="0.4"/><circle cx="295.9" cy="251.7" r="0.4"/><circle cx="249.9" cy="303.4" r="0.6"/><circle cx="306.2" cy="280.8" r="0.4"/><circle cx="279" cy="251.3" r="0.4"/><circle cx="254.5" cy="306.7" r="0.5"/><circle cx="209.2" cy="259.3" r="0.5"/><circle cx="303.6" cy="262" r="0.6"/><circle cx="217.6" cy="245.4" r="0.5"/><circle cx="256" cy="240.5" r="0.5"/><circle cx="208" cy="273.5" r="0.4"/><circle cx="271" cy="251.5" r="0.5"/><circle cx="278.1" cy="246.9" r="0.6"/><circle cx="263.1" cy="301.3" r="0.6"/><circle cx="305" cy="280.2" r="0.5"/><circle cx="245.3" cy="244.3" r="0.5"/><circle cx="243.1" cy="245.3" r="0.5"/><circle cx="212.5" cy="296.2" r="0.6"/><circle cx="232.9" cy="312" r="0.4"/><circle cx="211.5" cy="261.5" r="0.6"/><circle cx="250.8" cy="246.1" r="0.5"/><circle cx="263.8" cy="305.4" r="0.4"/><circle cx="222" cy="312.2" r="0.4"/><circle cx="305.3" cy="287.6" r="0.4"/><circle cx="248.8" cy="242.5" r="0.4"/><circle cx="213.1" cy="299.6" r="0.4"/><circle cx="213.2" cy="248.6" r="0.5"/><circle cx="266.4" cy="251" r="0.5"/><circle cx="312.4" cy="278.4" r="0.6"/><circle cx="266.3" cy="244.1" r="0.5"/><circle cx="211.6" cy="256.7" r="0.4"/><circle cx="216.9" cy="310.5" r="0.6"/><circle cx="280.6" cy="249.3" r="0.6"/><circle cx="296.8" cy="288.7" r="0.5"/><circle cx="303.9" cy="282.2" r="0.5"/><circle cx="282.4" cy="251.4" r="0.6"/><circle cx="282.2" cy="298.7" r="0.5"/><circle cx="306.6" cy="289.7" r="0.4"/><circle cx="224.2" cy="310.7" r="0.6"/><circle cx="300.3" cy="256.4" r="0.5"/><circle cx="246.6" cy="305.6" r="0.5"/><circle cx="281" cy="298.5" r="0.5"/><circle cx="211.9" cy="297.8" r="0.4"/><circle cx="239.6" cy="245.1" r="0.4"/><circle cx="262.7" cy="305.1" r="0.4"/><circle cx="290.8" cy="288.7" r="0.4"/><circle cx="223.6" cy="240.8" r="0.6"/><circle cx="247.5" cy="309.4" r="0.4"/><circle cx="309.6" cy="280.1" r="0.6"/><circle cx="257.1" cy="242.8" r="0.4"/><circle cx="214.3" cy="296.6" r="0.4"/><circle cx="270.2" cy="299.7" r="0.5"/><circle cx="225" cy="246.8" r="0.4"/><circle cx="246" cy="308.5" r="0.4"/><circle cx="220.9" cy="241.6" r="0.4"/><circle cx="303.4" cy="278.6" r="0.5"/><circle cx="307.6" cy="272.7" r="0.4"/><circle cx="276.5" cy="246.3" r="0.5"/><circle cx="260.8" cy="243.2" r="0.4"/><circle cx="303.8" cy="258.3" r="0.4"/><circle cx="213.9" cy="306.8" r="0.5"/><circle cx="269" cy="247" r="0.4"/><circle cx="300.2" cy="290.6" r="0.5"/><circle cx="295" cy="295.4" r="0.5"/><circle cx="247.2" cy="243.8" r="0.6"/><circle cx="212" cy="293.6" r="0.5"/><circle cx="211.9" cy="257.1" r="0.4"/><circle cx="209" cy="276.2" r="0.6"/><circle cx="238.4" cy="243.3" r="0.4"/><circle cx="281.7" cy="248.3" r="0.5"/><circle cx="209.5" cy="253.4" r="0.5"/><circle cx="214.8" cy="247.5" r="0.4"/><circle cx="284.9" cy="247.7" r="0.4"/><circle cx="240.5" cy="236.8" r="0.5"/><circle cx="246.9" cy="241.5" r="0.5"/><circle cx="262.3" cy="240.8" r="0.5"/><circle cx="248" cy="306.5" r="0.5"/><circle cx="271.3" cy="303.8" r="0.4"/><circle cx="310.4" cy="277.7" r="0.5"/><circle cx="311.6" cy="274.7" r="0.4"/><circle cx="292.9" cy="293.9" r="0.6"/><circle cx="235.4" cy="308.4" r="0.6"/><circle cx="211" cy="287.3" r="0.4"/><circle cx="224.2" cy="245.7" r="0.4"/><circle cx="306" cy="282" r="0.4"/><circle cx="246.4" cy="307.4" r="0.5"/><circle cx="237.1" cy="313.7" r="0.6"/><circle cx="258.7" cy="245.2" r="0.5"/><circle cx="310" cy="260.2" r="0.6"/><circle cx="220" cy="309.1" r="0.5"/><circle cx="225.8" cy="245.4" r="0.6"/><circle cx="243.6" cy="242.4" r="0.5"/><circle cx="279.3" cy="303.9" r="0.5"/><circle cx="227.6" cy="303.3" r="0.5"/><circle cx="281.2" cy="296.5" r="0.4"/><circle cx="216.7" cy="307.5" r="0.6"/><circle cx="256.5" cy="241" r="0.6"/><circle cx="290.5" cy="294.7" r="0.4"/><circle cx="289.5" cy="292.9" r="0.4"/><circle cx="214.2" cy="297" r="0.4"/><circle cx="247" cy="306" r="0.4"/><circle cx="263.3" cy="245.7" r="0.5"/><circle cx="279.4" cy="251.5" r="0.4"/><circle cx="207.9" cy="277.9" r="0.5"/><circle cx="206.7" cy="293.3" r="0.4"/><circle cx="209.3" cy="264.3" r="0.4"/><circle cx="292.1" cy="292.7" r="0.5"/><circle cx="307.5" cy="265.2" r="0.5"/><circle cx="264.7" cy="305.3" r="0.4"/><circle cx="307.6" cy="285" r="0.5"/><circle cx="280.6" cy="299.3" r="0.4"/><circle cx="207.5" cy="268.3" r="0.6"/><circle cx="280.8" cy="247.1" r="0.4"/><circle cx="284.7" cy="298.7" r="0.6"/><circle cx="205" cy="280.9" r="0.5"/><circle cx="284.7" cy="252.6" r="0.4"/><circle cx="233.3" cy="308.6" r="0.5"/><circle cx="202.9" cy="272.1" r="0.5"/><circle cx="208.6" cy="257.7" r="0.6"/><circle cx="300.5" cy="291.9" r="0.4"/><circle cx="214.3" cy="259.3" r="0.4"/><circle cx="254.8" cy="247.1" r="0.4"/><circle cx="208.7" cy="257.1" r="0.4"/><circle cx="213.4" cy="278.3" r="0.6"/><circle cx="292.1" cy="293.3" r="0.5"/><circle cx="295.1" cy="257.3" r="0.4"/><circle cx="218.9" cy="310.9" r="0.5"/><circle cx="209.8" cy="255.2" r="0.6"/><circle cx="285" cy="251" r="0.6"/><circle cx="209.6" cy="261.4" r="0.5"/><circle cx="302" cy="256.2" r="0.4"/><circle cx="311.2" cy="277.2" r="0.5"/><circle cx="285.3" cy="298.5" r="0.5"/><circle cx="307.7" cy="274.5" r="0.4"/><circle cx="214.5" cy="260.5" r="0.5"/><circle cx="239.4" cy="243.6" r="0.6"/><circle cx="308.7" cy="264" r="0.4"/><circle cx="259" cy="243" r="0.6"/><circle cx="211.1" cy="304.3" r="0.6"/><circle cx="211.8" cy="296.9" r="0.4"/><circle cx="273.6" cy="300.4" r="0.4"/><circle cx="306.6" cy="277.1" r="0.5"/><circle cx="267.3" cy="298.6" r="0.5"/><circle cx="246.2" cy="241.8" r="0.4"/><circle cx="248.2" cy="240.9" r="0.4"/><circle cx="297.3" cy="289.1" r="0.4"/><circle cx="242.3" cy="310.8" r="0.4"/><circle cx="210" cy="303.6" r="0.5"/><circle cx="227.4" cy="241.7" r="0.4"/><circle cx="222.5" cy="311.2" r="0.4"/><circle cx="232.7" cy="309.8" r="0.4"/><circle cx="209.5" cy="271.1" r="0.6"/><circle cx="206.7" cy="287" r="0.5"/><circle cx="298.7" cy="255.5" r="0.5"/><circle cx="207.1" cy="273.2" r="0.4"/><circle cx="281.5" cy="300.8" r="0.6"/><circle cx="214.1" cy="253.5" r="0.4"/><circle cx="232.7" cy="307.7" r="0.6"/><circle cx="262.4" cy="247.6" r="0.5"/><circle cx="256.9" cy="241.3" r="0.4"/><circle cx="260.6" cy="247.6" r="0.5"/><circle cx="229.6" cy="309.9" r="0.4"/><circle cx="305.3" cy="258.2" r="0.5"/><circle cx="212.2" cy="310.8" r="0.5"/><circle cx="268.9" cy="302.6" r="0.6"/><circle cx="307.5" cy="281.5" r="0.5"/><circle cx="214" cy="304.1" r="0.5"/><circle cx="217.9" cy="315.6" r="0.4"/><circle cx="291.3" cy="255.7" r="0.5"/><circle cx="211.8" cy="302.4" r="0.5"/><circle cx="306.4" cy="258.8" r="0.4"/><circle cx="266.2" cy="250.9" r="0.5"/><circle cx="261.8" cy="249" r="0.6"/><circle cx="260.9" cy="244.6" r="0.6"/><circle cx="288.1" cy="251.2" r="0.5"/><circle cx="210.9" cy="280.8" r="0.4"/><circle cx="268.8" cy="244.1" r="0.4"/><circle cx="291.9" cy="252.6" r="0.4"/><circle cx="213.7" cy="301.7" r="0.5"/><circle cx="310.4" cy="277.2" r="0.5"/><circle cx="212.4" cy="253.3" r="0.4"/><circle cx="260.3" cy="240.1" r="0.5"/><circle cx="211.2" cy="294.9" r="0.6"/><circle cx="224.2" cy="314" r="0.5"/><circle cx="237.6" cy="310.4" r="0.5"/><circle cx="248.8" cy="309.4" r="0.4"/><circle cx="303.7" cy="289.6" r="0.5"/><circle cx="221.4" cy="245.3" r="0.4"/><circle cx="305.9" cy="286.1" r="0.4"/><circle cx="239.5" cy="243.8" r="0.5"/><circle cx="241.5" cy="307.7" r="0.4"/><circle cx="219.6" cy="245.4" r="0.4"/><circle cx="312.4" cy="272.9" r="0.5"/><circle cx="266.2" cy="302.6" r="0.4"/><circle cx="215.3" cy="246.3" r="0.4"/><circle cx="226.9" cy="240" r="0.6"/><circle cx="306.4" cy="284.6" r="0.5"/><circle cx="209.5" cy="265.9" r="0.4"/><circle cx="309" cy="272.8" r="0.4"/><circle cx="216.5" cy="250.1" r="0.6"/><circle cx="302" cy="257.5" r="0.4"/><circle cx="207.5" cy="265.2" r="0.5"/><circle cx="260.1" cy="246" r="0.4"/><circle cx="313.5" cy="273.5" r="0.6"/><circle cx="247.6" cy="312.2" r="0.5"/><circle cx="312.7" cy="276.9" r="0.4"/><circle cx="310.4" cy="280.1" r="0.6"/><circle cx="275.1" cy="298.9" r="0.5"/><circle cx="276.9" cy="301.2" r="0.5"/><circle cx="211.5" cy="280.2" r="0.4"/><circle cx="284.2" cy="299" r="0.5"/><circle cx="210.9" cy="272.3" r="0.5"/><circle cx="276.7" cy="299.9" r="0.4"/><circle cx="305.5" cy="283" r="0.4"/><circle cx="245.8" cy="308.1" r="0.4"/><circle cx="229.9" cy="309.6" r="0.5"/><circle cx="230.5" cy="311.2" r="0.6"/><circle cx="219.4" cy="241.6" r="0.5"/><circle cx="269.9" cy="246" r="0.4"/><circle cx="218.1" cy="242.9" r="0.4"/><circle cx="238.8" cy="242.1" r="0.5"/><circle cx="212.3" cy="302.1" r="0.6"/><circle cx="282.1" cy="252.1" r="0.5"/><circle cx="310.3" cy="281.2" r="0.6"/><circle cx="206.7" cy="293.7" r="0.5"/><circle cx="302.9" cy="284.9" r="0.5"/><circle cx="301.8" cy="290.6" r="0.4"/><circle cx="268.3" cy="304.7" r="0.4"/><circle cx="298.1" cy="296.6" r="0.4"/><circle cx="218" cy="317.1" r="0.4"/><circle cx="237" cy="239.8" r="0.6"/><circle cx="306" cy="285.3" r="0.4"/><circle cx="273.5" cy="248.6" r="0.4"/><circle cx="239.7" cy="243.2" r="0.5"/><circle cx="289.9" cy="291.8" r="0.5"/><circle cx="213.5" cy="304.9" r="0.4"/><circle cx="211.4" cy="286.2" r="0.6"/><circle cx="293.2" cy="293.6" r="0.4"/><circle cx="270.4" cy="251.8" r="0.5"/><circle cx="300.5" cy="256.9" r="0.6"/><circle cx="310.9" cy="261.8" r="0.6"/><circle cx="238.9" cy="308.8" r="0.6"/><circle cx="220.4" cy="310.3" r="0.5"/><circle cx="254.5" cy="307.6" r="0.5"/><circle cx="269.8" cy="247.9" r="0.5"/><circle cx="211.2" cy="255.8" r="0.4"/><circle cx="266.7" cy="249.9" r="0.5"/><circle cx="309.6" cy="266.8" r="0.6"/><circle cx="242.2" cy="308" r="0.4"/><circle cx="230.4" cy="239.3" r="0.6"/><circle cx="295.5" cy="257" r="0.4"/><circle cx="295.2" cy="258.1" r="0.5"/><circle cx="262.1" cy="297.9" r="0.5"/><circle cx="307.7" cy="269" r="0.6"/><circle cx="291" cy="290.1" r="0.5"/><circle cx="205.8" cy="295.6" r="0.6"/><circle cx="305.7" cy="282.6" r="0.4"/><circle cx="206.4" cy="301.9" r="0.5"/><circle cx="273.8" cy="250.9" r="0.4"/><circle cx="240" cy="241.4" r="0.5"/><circle cx="213.9" cy="245.1" r="0.4"/><circle cx="205.2" cy="284.4" r="0.4"/><circle cx="283.9" cy="246.7" r="0.5"/><circle cx="256.9" cy="307" r="0.4"/><circle cx="264.6" cy="249" r="0.4"/><circle cx="311.6" cy="271.2" r="0.4"/><circle cx="229.3" cy="240.2" r="0.4"/><circle cx="204.5" cy="296.2" r="0.4"/><circle cx="297.6" cy="291.5" r="0.6"/><circle cx="308.9" cy="259.3" r="0.4"/><circle cx="213.4" cy="305.5" r="0.5"/><circle cx="232.4" cy="309.4" r="0.5"/><circle cx="239.8" cy="242.1" r="0.6"/><circle cx="222.5" cy="313.2" r="0.5"/><circle cx="263.2" cy="307.9" r="0.5"/><circle cx="209.3" cy="265.4" r="0.5"/><circle cx="270.6" cy="242.5" r="0.4"/><circle cx="241.9" cy="310.4" r="0.4"/><circle cx="226.3" cy="308.4" r="0.5"/><circle cx="220.2" cy="316" r="0.5"/><circle cx="269.3" cy="301.1" r="0.5"/><circle cx="250" cy="307.5" r="0.5"/><circle cx="306.1" cy="274.9" r="0.4"/><circle cx="244.4" cy="308.9" r="0.5"/><circle cx="232.1" cy="241.3" r="0.5"/><circle cx="237.4" cy="241.1" r="0.5"/><circle cx="276.3" cy="298.5" r="0.6"/><circle cx="302.9" cy="259.2" r="0.5"/><circle cx="297.6" cy="254.2" r="0.6"/><circle cx="209.9" cy="280.5" r="0.5"/><circle cx="295.2" cy="294.3" r="0.5"/><circle cx="232" cy="242.8" r="0.6"/><circle cx="307.2" cy="258.7" r="0.5"/><circle cx="205.9" cy="284.7" r="0.5"/><circle cx="223.2" cy="310.7" r="0.6"/><circle cx="211.4" cy="252.3" r="0.5"/><circle cx="313.7" cy="274.3" r="0.4"/><circle cx="207.1" cy="292.6" r="0.5"/><circle cx="231" cy="312.2" r="0.4"/><circle cx="293.4" cy="254.3" r="0.4"/><circle cx="254" cy="307.1" r="0.6"/><circle cx="270.8" cy="305.4" r="0.5"/><circle cx="278.4" cy="299.5" r="0.4"/><circle cx="212.8" cy="260.3" r="0.5"/><circle cx="215" cy="309.4" r="0.4"/><circle cx="302.5" cy="255" r="0.4"/><circle cx="281.1" cy="300.2" r="0.4"/><circle cx="266.3" cy="248.2" r="0.4"/><circle cx="276.7" cy="297" r="0.4"/><circle cx="209.7" cy="253.5" r="0.4"/><circle cx="311.8" cy="263" r="0.5"/><circle cx="209.2" cy="248.8" r="0.6"/><circle cx="240.1" cy="312.1" r="0.4"/><circle cx="224.7" cy="311.1" r="0.6"/><circle cx="240" cy="311.1" r="0.4"/><circle cx="311.3" cy="270" r="0.4"/><circle cx="296" cy="294.9" r="0.5"/><circle cx="275.4" cy="247.2" r="0.5"/><circle cx="218.2" cy="310.8" r="0.4"/><circle cx="211.4" cy="262.6" r="0.6"/><circle cx="222.5" cy="248.3" r="0.4"/><circle cx="212.3" cy="305.6" r="0.4"/><circle cx="300" cy="286.1" r="0.6"/><circle cx="211" cy="247.6" r="0.5"/><circle cx="264.5" cy="243.2" r="0.4"/><circle cx="229.9" cy="305.5" r="0.5"/><circle cx="213.8" cy="258.3" r="0.4"/><circle cx="275" cy="304.5" r="0.4"/><circle cx="254.6" cy="315.3" r="0.5"/><circle cx="301.6" cy="289.8" r="0.6"/><circle cx="282.3" cy="250.2" r="0.4"/><circle cx="283.7" cy="301.3" r="0.5"/><circle cx="238.2" cy="309.2" r="0.5"/><circle cx="213.2" cy="305.3" r="0.4"/><circle cx="204.9" cy="284.2" r="0.4"/><circle cx="277.4" cy="297.2" r="0.4"/><circle cx="219.5" cy="241.6" r="0.4"/><circle cx="286.9" cy="252.6" r="0.5"/><circle cx="241.4" cy="244" r="0.6"/><circle cx="248.7" cy="311.9" r="0.6"/><circle cx="291.2" cy="248.7" r="0.5"/><circle cx="207.8" cy="286.2" r="0.6"/><circle cx="310.1" cy="276.8" r="0.5"/><circle cx="312.4" cy="275.3" r="0.4"/><circle cx="253.1" cy="243.1" r="0.4"/><circle cx="217.6" cy="247.1" r="0.4"/><circle cx="253.9" cy="301.1" r="0.5"/><circle cx="236" cy="305.7" r="0.4"/><circle cx="285.6" cy="295.4" r="0.4"/><circle cx="209.4" cy="258.3" r="0.5"/><circle cx="254.1" cy="246.3" r="0.4"/><circle cx="209.2" cy="270.7" r="0.5"/><circle cx="265" cy="301.8" r="0.5"/><circle cx="273.9" cy="249.6" r="0.5"/><circle cx="208.1" cy="281.8" r="0.4"/><circle cx="280" cy="254.2" r="0.5"/><circle cx="303.3" cy="284.1" r="0.4"/><circle cx="313.1" cy="273.6" r="0.5"/><circle cx="277.1" cy="300.6" r="0.5"/><circle cx="247.3" cy="241.9" r="0.5"/><circle cx="207.7" cy="284.1" r="0.6"/><circle cx="272.2" cy="302.3" r="0.4"/><circle cx="309.5" cy="271.5" r="0.4"/><circle cx="210.2" cy="256.6" r="0.4"/><circle cx="211.9" cy="255.3" r="0.5"/><circle cx="287" cy="298.2" r="0.6"/><circle cx="261.8" cy="243" r="0.5"/><circle cx="293.3" cy="255.6" r="0.5"/><circle cx="239.9" cy="304.8" r="0.5"/><circle cx="239.4" cy="243.3" r="0.5"/><circle cx="213.9" cy="247.2" r="0.5"/><circle cx="254.4" cy="242.7" r="0.4"/><circle cx="238.2" cy="307.2" r="0.6"/><circle cx="208" cy="295.9" r="0.4"/><circle cx="256.7" cy="307.2" r="0.4"/><circle cx="248.2" cy="241.1" r="0.4"/><circle cx="239.6" cy="239.1" r="0.5"/><circle cx="275.4" cy="301" r="0.5"/><circle cx="272.8" cy="253.8" r="0.4"/><circle cx="254.8" cy="306.6" r="0.4"/><circle cx="209.7" cy="250.2" r="0.6"/><circle cx="229.6" cy="243.6" r="0.4"/><circle cx="234.1" cy="241.5" r="0.5"/><circle cx="236.2" cy="241.3" r="0.5"/><circle cx="262.8" cy="306.8" r="0.4"/><circle cx="310.1" cy="266.2" r="0.4"/><circle cx="305.5" cy="283.2" r="0.6"/><circle cx="222.2" cy="309.3" r="0.5"/><circle cx="301" cy="286.4" r="0.6"/><circle cx="300.2" cy="295.3" r="0.5"/><circle cx="301.8" cy="289.7" r="0.5"/><circle cx="250.7" cy="241" r="0.5"/><circle cx="300.1" cy="290.5" r="0.4"/><circle cx="307.4" cy="284.8" r="0.4"/><circle cx="249.9" cy="247.3" r="0.5"/><circle cx="274.2" cy="246.4" r="0.4"/><circle cx="309.7" cy="268.2" r="0.6"/><circle cx="208.4" cy="257.1" r="0.5"/><circle cx="213.4" cy="312.8" r="0.5"/><circle cx="208.3" cy="297.9" r="0.4"/><circle cx="303.3" cy="262.5" r="0.5"/><circle cx="231" cy="238.7" r="0.6"/><circle cx="299.7" cy="260.8" r="0.5"/><circle cx="212.7" cy="265.1" r="0.6"/><circle cx="229.2" cy="240.8" r="0.4"/><circle cx="276.3" cy="300.4" r="0.6"/><circle cx="251.1" cy="243.9" r="0.6"/><circle cx="218" cy="311.8" r="0.4"/><circle cx="222.6" cy="309.1" r="0.5"/><circle cx="208.3" cy="294.2" r="0.5"/><circle cx="271.5" cy="301.6" r="0.4"/><circle cx="250.1" cy="309.6" r="0.5"/><circle cx="297.2" cy="257.2" r="0.5"/><circle cx="277.7" cy="298.8" r="0.5"/><circle cx="311.7" cy="274" r="0.4"/><circle cx="301.5" cy="253.7" r="0.4"/><circle cx="219.2" cy="311.3" r="0.5"/><circle cx="250.8" cy="305" r="0.4"/><circle cx="208.7" cy="303.7" r="0.6"/><circle cx="211.6" cy="298.7" r="0.6"/><circle cx="214" cy="276.2" r="0.4"/><circle cx="210.8" cy="285.6" r="0.6"/><circle cx="294.6" cy="293.9" r="0.4"/></g>
<g fill="#3a58b2"><circle cx="251.5" cy="216.6" r="0.5"/><circle cx="292.8" cy="241.2" r="0.4"/><circle cx="240.1" cy="225.9" r="0.5"/><circle cx="269.1" cy="248.7" r="0.4"/><circle cx="292.8" cy="226.8" r="0.5"/><circle cx="243.9" cy="237.6" r="0.5"/><circle cx="246.9" cy="244.1" r="0.5"/><circle cx="220" cy="213.6" r="0.5"/><circle cx="292.7" cy="243.3" r="0.4"/><circle cx="244.3" cy="218.1" r="0.5"/><circle cx="267.5" cy="233.2" r="0.5"/><circle cx="288.7" cy="240.6" r="0.4"/><circle cx="262.6" cy="230.9" r="0.5"/><circle cx="282.5" cy="235.9" r="0.6"/><circle cx="260.5" cy="223.9" r="0.5"/><circle cx="294.3" cy="260.3" r="0.4"/><circle cx="241" cy="234.9" r="0.4"/><circle cx="218.9" cy="240.1" r="0.5"/><circle cx="263.9" cy="233.4" r="0.4"/><circle cx="219.2" cy="228.9" r="0.5"/><circle cx="262.1" cy="221.7" r="0.4"/><circle cx="236.6" cy="236.2" r="0.5"/><circle cx="253.7" cy="230.6" r="0.4"/><circle cx="265.8" cy="245.4" r="0.4"/><circle cx="282.5" cy="246.6" r="0.6"/><circle cx="265.8" cy="232.9" r="0.5"/><circle cx="274.2" cy="244.2" r="0.4"/><circle cx="291.6" cy="232.2" r="0.6"/><circle cx="275.8" cy="240.2" r="0.6"/><circle cx="244.4" cy="234.7" r="0.4"/><circle cx="251.2" cy="230" r="0.5"/><circle cx="241.1" cy="225.9" r="0.6"/><circle cx="263.3" cy="226" r="0.4"/><circle cx="272.5" cy="217.7" r="0.5"/><circle cx="291.7" cy="249.6" r="0.4"/><circle cx="271.2" cy="233.2" r="0.5"/><circle cx="273" cy="251" r="0.4"/><circle cx="292.2" cy="226.7" r="0.4"/><circle cx="234.4" cy="223.2" r="0.6"/><circle cx="229.1" cy="219.5" r="0.5"/></g>
<path d="M209.5 262 C210.2 253.8 210.6 249.6 214 246 C217.4 242.4 223.7 241 230 240.5 C236.3 240 242 241.1 252 243 C262 244.9 280.7 248.8 290 252 C299.3 255.2 304.4 258.3 308 262 C311.6 265.7 312.8 269 311.5 274 C310.2 279 306.9 287.3 300 292 C293.1 296.7 280 299.2 270 302 C260 304.8 249.2 307.4 240 309 C230.8 310.6 220.1 314 215 311.7 C209.9 309.4 210.4 303.3 209.5 295 C208.6 286.7 208.8 270.2 209.5 262Z" fill="#3a58b2" filter="url(#b05)"/>
<g fill="#fff" opacity="0.85"><circle cx="303.2" cy="302.3" r="0.4"/><circle cx="239.2" cy="273.1" r="0.5"/><circle cx="288.1" cy="309.6" r="0.4"/><circle cx="300.9" cy="302.8" r="0.3"/><circle cx="308.4" cy="286.2" r="0.4"/><circle cx="275.3" cy="301.1" r="0.5"/><circle cx="239.1" cy="308.3" r="0.5"/><circle cx="277.2" cy="295.4" r="0.5"/><circle cx="292.8" cy="279" r="0.4"/><circle cx="300.8" cy="278.2" r="0.4"/><circle cx="273.4" cy="289.2" r="0.5"/><circle cx="282.8" cy="290.8" r="0.4"/><circle cx="304.8" cy="286.6" r="0.5"/><circle cx="263.9" cy="305.5" r="0.5"/><circle cx="241.7" cy="280" r="0.5"/><circle cx="303.5" cy="302.9" r="0.3"/><circle cx="273.6" cy="307.5" r="0.3"/><circle cx="311" cy="309.7" r="0.3"/><circle cx="289.1" cy="295.5" r="0.4"/><circle cx="293.2" cy="282.3" r="0.4"/><circle cx="250.3" cy="292.5" r="0.5"/><circle cx="267.8" cy="271.6" r="0.4"/><circle cx="295.9" cy="278.5" r="0.5"/><circle cx="265.4" cy="270" r="0.3"/><circle cx="251.2" cy="308.7" r="0.5"/><circle cx="244.7" cy="269.4" r="0.5"/><circle cx="303.7" cy="280" r="0.4"/><circle cx="282.7" cy="281.4" r="0.5"/><circle cx="284.1" cy="268.2" r="0.5"/><circle cx="279.5" cy="297.7" r="0.4"/><circle cx="278.9" cy="306.4" r="0.4"/><circle cx="288.8" cy="279.9" r="0.5"/><circle cx="294.1" cy="278.8" r="0.4"/><circle cx="282.2" cy="272.2" r="0.3"/><circle cx="282.4" cy="302.9" r="0.4"/><circle cx="281.9" cy="292.6" r="0.5"/><circle cx="286.9" cy="283.4" r="0.5"/><circle cx="300.8" cy="270.6" r="0.4"/><circle cx="268.4" cy="292.2" r="0.4"/><circle cx="282.7" cy="273.5" r="0.4"/><circle cx="276.2" cy="271.5" r="0.4"/><circle cx="306.1" cy="269.5" r="0.5"/><circle cx="267.2" cy="284.5" r="0.4"/><circle cx="271.9" cy="288.2" r="0.5"/><circle cx="254.5" cy="281.7" r="0.3"/><circle cx="265.6" cy="273.1" r="0.4"/><circle cx="258.1" cy="277.6" r="0.4"/><circle cx="302.9" cy="288" r="0.4"/><circle cx="308.3" cy="294.3" r="0.5"/><circle cx="293.9" cy="302.6" r="0.3"/><circle cx="284.1" cy="293.5" r="0.3"/><circle cx="274.1" cy="308.4" r="0.5"/><circle cx="266.5" cy="306.7" r="0.4"/><circle cx="277.4" cy="286.3" r="0.4"/><circle cx="257.5" cy="284.1" r="0.5"/><circle cx="297.6" cy="278.1" r="0.4"/><circle cx="246.5" cy="270.8" r="0.5"/><circle cx="308.1" cy="282.8" r="0.5"/><circle cx="277.7" cy="269.6" r="0.4"/><circle cx="274.1" cy="285.2" r="0.4"/><circle cx="254.2" cy="309.6" r="0.3"/><circle cx="291.4" cy="275.2" r="0.5"/><circle cx="305.8" cy="290.8" r="0.5"/><circle cx="297.2" cy="294.6" r="0.5"/><circle cx="306.2" cy="284.6" r="0.5"/><circle cx="287.7" cy="282.9" r="0.4"/><circle cx="286.9" cy="288.4" r="0.3"/><circle cx="296.8" cy="276.4" r="0.4"/><circle cx="300.7" cy="292.4" r="0.4"/><circle cx="299.8" cy="310.1" r="0.5"/><circle cx="283.5" cy="306.6" r="0.4"/><circle cx="288.4" cy="288.2" r="0.4"/><circle cx="266.4" cy="280.7" r="0.4"/><circle cx="264.4" cy="294.1" r="0.4"/><circle cx="270.9" cy="305.1" r="0.4"/><circle cx="292.7" cy="281.3" r="0.4"/><circle cx="283.4" cy="277.6" r="0.5"/><circle cx="277.9" cy="274.4" r="0.5"/><circle cx="309" cy="311.3" r="0.5"/><circle cx="307.5" cy="275" r="0.4"/><circle cx="283" cy="274.7" r="0.5"/><circle cx="309.3" cy="288.9" r="0.5"/><circle cx="304.1" cy="276.3" r="0.5"/><circle cx="297" cy="304.6" r="0.5"/><circle cx="272.9" cy="273.6" r="0.4"/><circle cx="296.8" cy="282.2" r="0.3"/><circle cx="299.6" cy="269.2" r="0.4"/><circle cx="266.7" cy="304.1" r="0.4"/><circle cx="263" cy="301.8" r="0.3"/><circle cx="260.8" cy="269.1" r="0.4"/><circle cx="238.7" cy="271.9" r="0.4"/><circle cx="266.8" cy="309" r="0.4"/><circle cx="250" cy="301.7" r="0.5"/><circle cx="308.4" cy="275.7" r="0.4"/><circle cx="270.5" cy="292.8" r="0.3"/><circle cx="292.7" cy="272.6" r="0.3"/><circle cx="277.4" cy="279.2" r="0.5"/><circle cx="291.7" cy="304.1" r="0.3"/><circle cx="263.7" cy="277.1" r="0.4"/><circle cx="299.4" cy="272.6" r="0.3"/><circle cx="299.7" cy="287.7" r="0.3"/><circle cx="267.2" cy="285.1" r="0.4"/><circle cx="310.8" cy="282.5" r="0.4"/><circle cx="259.5" cy="270.5" r="0.5"/><circle cx="310.4" cy="295" r="0.3"/><circle cx="257.6" cy="269.5" r="0.4"/><circle cx="258.1" cy="304.9" r="0.5"/><circle cx="290.2" cy="304" r="0.5"/><circle cx="277.3" cy="295.1" r="0.4"/><circle cx="270" cy="294.7" r="0.4"/><circle cx="276.6" cy="285.2" r="0.5"/><circle cx="283.7" cy="283.9" r="0.4"/><circle cx="295.7" cy="285.5" r="0.4"/><circle cx="307.6" cy="292.3" r="0.4"/><circle cx="263.8" cy="308.8" r="0.5"/><circle cx="306.2" cy="304" r="0.4"/><circle cx="289.1" cy="272.6" r="0.3"/><circle cx="266.6" cy="276.6" r="0.5"/><circle cx="286.1" cy="306.8" r="0.4"/><circle cx="258.7" cy="286.5" r="0.5"/><circle cx="295.4" cy="297.2" r="0.4"/><circle cx="254.2" cy="301.5" r="0.5"/><circle cx="304.9" cy="274.9" r="0.4"/><circle cx="242" cy="292" r="0.5"/><circle cx="282.3" cy="304.7" r="0.5"/><circle cx="286" cy="300.1" r="0.5"/><circle cx="271.7" cy="309.4" r="0.3"/><circle cx="265.8" cy="289.9" r="0.4"/><circle cx="279.5" cy="301.1" r="0.3"/><circle cx="254.1" cy="300.5" r="0.4"/><circle cx="300" cy="276.6" r="0.4"/><circle cx="269.9" cy="308.5" r="0.5"/><circle cx="255.4" cy="300.8" r="0.4"/><circle cx="291.8" cy="304.4" r="0.5"/><circle cx="244.3" cy="310.5" r="0.5"/><circle cx="289.9" cy="286.8" r="0.5"/><circle cx="299.9" cy="300.4" r="0.3"/><circle cx="269" cy="280.8" r="0.5"/><circle cx="280" cy="268.1" r="0.4"/><circle cx="265.7" cy="280.5" r="0.4"/><circle cx="271.3" cy="306.8" r="0.5"/><circle cx="285.1" cy="307.4" r="0.5"/><circle cx="305.2" cy="276.5" r="0.4"/><circle cx="297.2" cy="269.4" r="0.3"/><circle cx="274.6" cy="311.3" r="0.4"/><circle cx="267.2" cy="300" r="0.5"/><circle cx="294.1" cy="284.7" r="0.5"/><circle cx="273" cy="269.8" r="0.4"/><circle cx="266.9" cy="283.2" r="0.4"/><circle cx="273.4" cy="283.4" r="0.5"/><circle cx="265.3" cy="274.1" r="0.3"/><circle cx="301.9" cy="299.3" r="0.5"/><circle cx="299.8" cy="311.8" r="0.4"/><circle cx="283.8" cy="287.5" r="0.4"/><circle cx="264.8" cy="293.2" r="0.4"/><circle cx="265.3" cy="302.4" r="0.4"/><circle cx="250.6" cy="308.8" r="0.4"/><circle cx="309.1" cy="299.3" r="0.5"/><circle cx="272.1" cy="272.1" r="0.3"/><circle cx="303.1" cy="292.2" r="0.5"/><circle cx="297" cy="284.3" r="0.4"/><circle cx="250.2" cy="279.7" r="0.4"/><circle cx="279.9" cy="269.8" r="0.5"/><circle cx="295.6" cy="302.7" r="0.5"/><circle cx="295.4" cy="272.7" r="0.4"/><circle cx="299.4" cy="301.5" r="0.5"/><circle cx="267.1" cy="310" r="0.5"/><circle cx="289.1" cy="282" r="0.5"/><circle cx="276.1" cy="296.4" r="0.5"/><circle cx="298.5" cy="310.4" r="0.4"/><circle cx="308" cy="279" r="0.5"/><circle cx="296.2" cy="279.3" r="0.3"/><circle cx="267.7" cy="304.2" r="0.3"/><circle cx="260.4" cy="283.5" r="0.4"/><circle cx="280.9" cy="282.3" r="0.5"/><circle cx="276.4" cy="284.9" r="0.4"/><circle cx="265.4" cy="293" r="0.4"/><circle cx="275.5" cy="285.8" r="0.4"/><circle cx="264.8" cy="270.2" r="0.4"/><circle cx="288.4" cy="304.1" r="0.5"/><circle cx="282.5" cy="268.4" r="0.3"/><circle cx="286.9" cy="284" r="0.3"/><circle cx="309.6" cy="280.2" r="0.4"/><circle cx="275.7" cy="301.7" r="0.4"/><circle cx="295.4" cy="298.6" r="0.4"/><circle cx="260" cy="292.9" r="0.4"/><circle cx="274.9" cy="268.3" r="0.5"/><circle cx="286.7" cy="302" r="0.5"/><circle cx="260.8" cy="302.3" r="0.4"/><circle cx="303.5" cy="275.8" r="0.4"/><circle cx="288.4" cy="282.4" r="0.4"/><circle cx="271.4" cy="269.7" r="0.5"/><circle cx="257.6" cy="298.8" r="0.4"/><circle cx="281.7" cy="298.6" r="0.5"/><circle cx="256" cy="278.1" r="0.5"/><circle cx="271.8" cy="268.2" r="0.5"/><circle cx="245.4" cy="293.2" r="0.4"/><circle cx="293.1" cy="282.5" r="0.4"/><circle cx="310.7" cy="269.2" r="0.4"/><circle cx="269.8" cy="302.6" r="0.4"/><circle cx="272.4" cy="310.5" r="0.4"/><circle cx="278" cy="268.8" r="0.4"/><circle cx="301.9" cy="304.2" r="0.4"/><circle cx="270.2" cy="309.1" r="0.3"/><circle cx="300.1" cy="268.5" r="0.5"/><circle cx="277.8" cy="268.4" r="0.5"/><circle cx="286.3" cy="271.8" r="0.4"/><circle cx="245.2" cy="273.7" r="0.4"/><circle cx="308.3" cy="282.4" r="0.3"/><circle cx="269.4" cy="274.6" r="0.4"/><circle cx="287.6" cy="294.7" r="0.5"/><circle cx="288.3" cy="306.1" r="0.3"/><circle cx="294.6" cy="310" r="0.5"/><circle cx="290.3" cy="308.7" r="0.3"/><circle cx="306.9" cy="307.2" r="0.4"/><circle cx="300.6" cy="295" r="0.5"/><circle cx="309" cy="293.7" r="0.5"/><circle cx="305.1" cy="289.2" r="0.4"/><circle cx="287.3" cy="311.7" r="0.5"/><circle cx="298.3" cy="306" r="0.4"/><circle cx="255.8" cy="306.8" r="0.4"/><circle cx="285" cy="303.7" r="0.4"/><circle cx="295.2" cy="279.8" r="0.5"/><circle cx="279.4" cy="282.7" r="0.3"/><circle cx="291.2" cy="286.4" r="0.4"/><circle cx="260.6" cy="281.9" r="0.3"/><circle cx="252.7" cy="296.1" r="0.5"/><circle cx="274.3" cy="282.1" r="0.4"/><circle cx="263.7" cy="274" r="0.5"/><circle cx="307" cy="308.2" r="0.5"/><circle cx="309.2" cy="296.2" r="0.3"/><circle cx="284.2" cy="310.4" r="0.5"/><circle cx="289.8" cy="305.6" r="0.4"/><circle cx="301.9" cy="283.5" r="0.4"/><circle cx="282.9" cy="288.7" r="0.5"/><circle cx="285.2" cy="297.5" r="0.3"/><circle cx="295.6" cy="305.6" r="0.3"/><circle cx="301.2" cy="279.5" r="0.5"/><circle cx="247.5" cy="289.8" r="0.5"/><circle cx="300.9" cy="287.2" r="0.3"/><circle cx="296.6" cy="303.6" r="0.3"/><circle cx="271.4" cy="298.2" r="0.4"/><circle cx="276.3" cy="282.1" r="0.4"/><circle cx="273.4" cy="274.9" r="0.4"/><circle cx="263" cy="284.1" r="0.5"/><circle cx="262.4" cy="283.3" r="0.5"/><circle cx="274.7" cy="296.4" r="0.4"/><circle cx="268.3" cy="296.7" r="0.5"/><circle cx="299" cy="278.9" r="0.3"/><circle cx="297.8" cy="270.9" r="0.3"/><circle cx="294" cy="297.8" r="0.5"/><circle cx="303.7" cy="285.2" r="0.5"/><circle cx="259.1" cy="305.9" r="0.5"/><circle cx="260.3" cy="293.9" r="0.5"/><circle cx="279.3" cy="303.3" r="0.5"/><circle cx="249" cy="282.7" r="0.4"/><circle cx="271.2" cy="302.8" r="0.4"/><circle cx="293.5" cy="294.3" r="0.5"/><circle cx="302.7" cy="296.2" r="0.5"/><circle cx="310.4" cy="293.6" r="0.4"/></g>
<g fill="#3a58b2"><circle cx="237.8" cy="309.9" r="0.5"/><circle cx="280.4" cy="277.4" r="0.5"/><circle cx="277.9" cy="299.3" r="0.6"/><circle cx="255.7" cy="303.4" r="0.4"/><circle cx="282.5" cy="288.4" r="0.5"/><circle cx="259.2" cy="305" r="0.4"/><circle cx="246.4" cy="307.7" r="0.5"/><circle cx="248.1" cy="304.6" r="0.6"/><circle cx="238.4" cy="308.8" r="0.4"/><circle cx="220.2" cy="310.8" r="0.6"/><circle cx="265.7" cy="299.2" r="0.5"/><circle cx="294.8" cy="281.4" r="0.4"/><circle cx="236.9" cy="301" r="0.4"/><circle cx="273.4" cy="300.3" r="0.6"/><circle cx="308.4" cy="276.4" r="0.4"/><circle cx="270.7" cy="302.5" r="0.4"/><circle cx="303.8" cy="282.9" r="0.4"/><circle cx="267.4" cy="301.8" r="0.4"/><circle cx="238.3" cy="307.6" r="0.5"/><circle cx="302.3" cy="284.4" r="0.4"/><circle cx="218.6" cy="311.7" r="0.5"/><circle cx="304.3" cy="286.3" r="0.6"/><circle cx="231.5" cy="307.4" r="0.5"/><circle cx="243.1" cy="297.1" r="0.5"/><circle cx="271.1" cy="302.8" r="0.6"/><circle cx="252.9" cy="304" r="0.6"/><circle cx="268.6" cy="293.1" r="0.4"/><circle cx="254.5" cy="299.9" r="0.5"/><circle cx="278.4" cy="299.3" r="0.4"/><circle cx="222.7" cy="308.6" r="0.5"/><circle cx="292.2" cy="269.7" r="0.4"/><circle cx="240.9" cy="299.2" r="0.4"/><circle cx="294.8" cy="279.7" r="0.4"/><circle cx="303" cy="289.8" r="0.6"/><circle cx="263.3" cy="303.4" r="0.6"/><circle cx="283.6" cy="296.6" r="0.4"/><circle cx="237.9" cy="310.5" r="0.6"/><circle cx="252.7" cy="304.3" r="0.4"/><circle cx="242.4" cy="307.5" r="0.6"/><circle cx="285" cy="291.2" r="0.5"/><circle cx="238.6" cy="301.6" r="0.6"/><circle cx="299.2" cy="283.8" r="0.4"/><circle cx="293.8" cy="292.3" r="0.5"/><circle cx="225.4" cy="311.1" r="0.6"/><circle cx="304.6" cy="282.2" r="0.6"/><circle cx="223.2" cy="297.5" r="0.6"/><circle cx="248.9" cy="303.2" r="0.5"/><circle cx="299.8" cy="289.4" r="0.6"/><circle cx="226.6" cy="310.1" r="0.5"/><circle cx="264.2" cy="304.1" r="0.6"/><circle cx="273.8" cy="298.9" r="0.5"/><circle cx="220.2" cy="294.8" r="0.6"/><circle cx="226" cy="311.8" r="0.4"/><circle cx="254.8" cy="298.3" r="0.5"/><circle cx="301.6" cy="277.7" r="0.6"/><circle cx="298.7" cy="289.6" r="0.4"/><circle cx="225.1" cy="310.4" r="0.5"/><circle cx="290.7" cy="294.4" r="0.4"/><circle cx="238.1" cy="297.5" r="0.6"/><circle cx="217.7" cy="307.7" r="0.5"/><circle cx="239" cy="306.3" r="0.6"/><circle cx="305.5" cy="283.9" r="0.5"/><circle cx="223.7" cy="311" r="0.4"/><circle cx="302" cy="278.6" r="0.4"/><circle cx="221.7" cy="305.6" r="0.4"/><circle cx="238.1" cy="311.1" r="0.4"/><circle cx="285.6" cy="296.5" r="0.5"/><circle cx="305.5" cy="276.2" r="0.4"/><circle cx="223.3" cy="304.3" r="0.6"/><circle cx="305.7" cy="280.9" r="0.6"/><circle cx="239.9" cy="310.3" r="0.5"/><circle cx="252.6" cy="305.3" r="0.4"/><circle cx="287" cy="295.4" r="0.5"/><circle cx="247.3" cy="303.3" r="0.4"/><circle cx="238.8" cy="309.8" r="0.5"/><circle cx="296" cy="292.8" r="0.5"/><circle cx="217" cy="307" r="0.6"/><circle cx="227.3" cy="308.8" r="0.5"/><circle cx="228.8" cy="311.2" r="0.5"/><circle cx="299.8" cy="283.7" r="0.5"/><circle cx="219.9" cy="311.7" r="0.6"/><circle cx="240" cy="309.4" r="0.6"/><circle cx="225.2" cy="308.4" r="0.6"/><circle cx="230.8" cy="306.2" r="0.4"/><circle cx="294.2" cy="283.7" r="0.5"/><circle cx="253.3" cy="299" r="0.5"/><circle cx="271.1" cy="297.5" r="0.4"/><circle cx="267.3" cy="298.2" r="0.4"/><circle cx="312.2" cy="276.3" r="0.5"/><circle cx="255.4" cy="301.8" r="0.4"/><circle cx="261" cy="304.1" r="0.5"/><circle cx="302.6" cy="277.1" r="0.6"/><circle cx="216.2" cy="312.7" r="0.6"/><circle cx="237.6" cy="308.7" r="0.4"/><circle cx="306.3" cy="283.7" r="0.6"/><circle cx="295.2" cy="285.7" r="0.6"/><circle cx="267.3" cy="301.8" r="0.6"/><circle cx="300.4" cy="283.4" r="0.5"/><circle cx="221.2" cy="310.9" r="0.4"/><circle cx="233.4" cy="303.8" r="0.5"/><circle cx="282.9" cy="300" r="0.5"/><circle cx="248.3" cy="305.8" r="0.6"/><circle cx="308.4" cy="275" r="0.6"/><circle cx="260.9" cy="291.9" r="0.5"/><circle cx="233.7" cy="308.5" r="0.5"/><circle cx="249.7" cy="293.6" r="0.5"/><circle cx="307.8" cy="275.9" r="0.4"/><circle cx="298.3" cy="291.7" r="0.5"/><circle cx="241.6" cy="308.1" r="0.6"/><circle cx="261" cy="303.3" r="0.6"/><circle cx="214.2" cy="310.8" r="0.4"/><circle cx="260.5" cy="302.7" r="0.4"/><circle cx="267" cy="300.8" r="0.4"/><circle cx="244.6" cy="307.9" r="0.6"/><circle cx="238.3" cy="298.3" r="0.6"/><circle cx="284.1" cy="298" r="0.5"/><circle cx="293.6" cy="288.2" r="0.4"/><circle cx="271.7" cy="291.4" r="0.5"/><circle cx="244.6" cy="306.4" r="0.4"/><circle cx="237.7" cy="306.9" r="0.4"/><circle cx="288.1" cy="297.8" r="0.5"/><circle cx="263.5" cy="302.4" r="0.5"/><circle cx="229.7" cy="309.4" r="0.6"/><circle cx="238" cy="305.6" r="0.6"/><circle cx="248.7" cy="307.1" r="0.4"/><circle cx="309.5" cy="275.1" r="0.4"/><circle cx="233.9" cy="309.9" r="0.6"/><circle cx="242" cy="302.6" r="0.4"/><circle cx="236.1" cy="301.9" r="0.4"/><circle cx="230.5" cy="307.7" r="0.6"/><circle cx="244.9" cy="307.4" r="0.6"/><circle cx="234.4" cy="302" r="0.6"/><circle cx="253" cy="300.9" r="0.6"/><circle cx="261.7" cy="298.3" r="0.5"/><circle cx="302.1" cy="279.9" r="0.4"/><circle cx="256.7" cy="302.7" r="0.5"/><circle cx="279.5" cy="295.6" r="0.4"/><circle cx="273.7" cy="302.7" r="0.5"/><circle cx="287" cy="296.4" r="0.4"/><circle cx="298.5" cy="277" r="0.4"/><circle cx="286" cy="288.4" r="0.6"/><circle cx="273" cy="297.3" r="0.6"/><circle cx="274" cy="296.4" r="0.6"/><circle cx="264.5" cy="298.7" r="0.4"/><circle cx="247" cy="306.4" r="0.4"/><circle cx="244.8" cy="306.7" r="0.4"/><circle cx="299.4" cy="289.1" r="0.5"/><circle cx="219.3" cy="312" r="0.5"/><circle cx="311.2" cy="276.6" r="0.5"/><circle cx="284.2" cy="297.4" r="0.6"/><circle cx="271.5" cy="296.9" r="0.6"/><circle cx="234.6" cy="310.2" r="0.4"/><circle cx="295.5" cy="286.8" r="0.4"/><circle cx="301.3" cy="291.7" r="0.6"/><circle cx="297.1" cy="287.6" r="0.6"/><circle cx="244.4" cy="307.4" r="0.6"/><circle cx="271.1" cy="301.4" r="0.4"/><circle cx="295.2" cy="290" r="0.6"/><circle cx="242.2" cy="297.2" r="0.5"/><circle cx="298.7" cy="286.4" r="0.6"/><circle cx="311.6" cy="274.9" r="0.5"/><circle cx="290.6" cy="289.6" r="0.5"/><circle cx="266.1" cy="301.9" r="0.6"/><circle cx="250.3" cy="297.2" r="0.4"/><circle cx="256.3" cy="306.4" r="0.5"/><circle cx="230.6" cy="306.7" r="0.5"/><circle cx="237.2" cy="309.5" r="0.6"/><circle cx="240.7" cy="309.1" r="0.4"/><circle cx="245.4" cy="307.2" r="0.4"/><circle cx="255.1" cy="305.9" r="0.6"/><circle cx="249.4" cy="306" r="0.6"/><circle cx="306.4" cy="280.8" r="0.6"/><circle cx="230.4" cy="309.5" r="0.5"/><circle cx="303.5" cy="288.4" r="0.4"/><circle cx="262.7" cy="302.7" r="0.4"/><circle cx="294.7" cy="284.3" r="0.4"/><circle cx="295.7" cy="276.3" r="0.5"/><circle cx="235.3" cy="301.5" r="0.6"/><circle cx="248.2" cy="307.5" r="0.5"/><circle cx="298.5" cy="287.7" r="0.4"/><circle cx="255.2" cy="293" r="0.6"/><circle cx="249.4" cy="303.5" r="0.6"/><circle cx="234.6" cy="310.6" r="0.6"/><circle cx="238.8" cy="298.1" r="0.6"/><circle cx="238.9" cy="305.7" r="0.5"/><circle cx="287.5" cy="296.7" r="0.4"/><circle cx="259.3" cy="291.7" r="0.5"/><circle cx="294.3" cy="288.3" r="0.6"/><circle cx="260.7" cy="298.3" r="0.6"/><circle cx="229" cy="298.5" r="0.6"/><circle cx="220.2" cy="306.9" r="0.6"/><circle cx="289.1" cy="290.7" r="0.5"/><circle cx="235.1" cy="309.8" r="0.5"/><circle cx="309.6" cy="276.7" r="0.5"/><circle cx="291.8" cy="295.3" r="0.5"/><circle cx="249.4" cy="302" r="0.5"/><circle cx="299.9" cy="286" r="0.6"/><circle cx="254.9" cy="305.5" r="0.4"/><circle cx="284.6" cy="295.7" r="0.6"/><circle cx="298.9" cy="286.5" r="0.6"/><circle cx="301.2" cy="268.1" r="0.6"/><circle cx="239" cy="307" r="0.5"/><circle cx="273.4" cy="291" r="0.5"/><circle cx="217" cy="312.8" r="0.6"/><circle cx="294.7" cy="293.1" r="0.5"/><circle cx="271.5" cy="299.5" r="0.5"/><circle cx="311.7" cy="273" r="0.6"/><circle cx="241.4" cy="307.5" r="0.4"/><circle cx="279.6" cy="298.1" r="0.6"/><circle cx="258.1" cy="306.5" r="0.6"/><circle cx="311" cy="276.9" r="0.5"/><circle cx="218.2" cy="307.1" r="0.5"/><circle cx="223.3" cy="299.2" r="0.6"/><circle cx="235.8" cy="307.5" r="0.5"/><circle cx="225.9" cy="308.4" r="0.4"/><circle cx="239" cy="310.7" r="0.4"/><circle cx="235.9" cy="294.4" r="0.5"/><circle cx="274.6" cy="296.1" r="0.4"/><circle cx="298.6" cy="291.1" r="0.4"/><circle cx="268.9" cy="292.4" r="0.6"/><circle cx="254.2" cy="306.1" r="0.6"/><circle cx="266.7" cy="301.4" r="0.5"/><circle cx="284.3" cy="298.8" r="0.6"/><circle cx="286.3" cy="297.4" r="0.5"/><circle cx="304.9" cy="272.5" r="0.5"/><circle cx="267.5" cy="301.8" r="0.4"/><circle cx="280.4" cy="298" r="0.4"/><circle cx="298.3" cy="293.1" r="0.6"/><circle cx="284.6" cy="292.9" r="0.5"/><circle cx="276.2" cy="295.9" r="0.5"/><circle cx="223.8" cy="309.2" r="0.4"/><circle cx="220.6" cy="307.6" r="0.4"/><circle cx="307.2" cy="277.9" r="0.5"/><circle cx="260.8" cy="304.5" r="0.5"/><circle cx="226.8" cy="311.4" r="0.5"/><circle cx="254.8" cy="298.1" r="0.4"/><circle cx="300.3" cy="290" r="0.4"/><circle cx="253.3" cy="303.4" r="0.5"/><circle cx="291" cy="279" r="0.5"/><circle cx="291.7" cy="291.3" r="0.4"/><circle cx="268.1" cy="300.2" r="0.4"/><circle cx="282" cy="291.2" r="0.6"/><circle cx="231.2" cy="309.3" r="0.5"/><circle cx="218.2" cy="297.4" r="0.6"/><circle cx="276.8" cy="297.4" r="0.4"/><circle cx="215.7" cy="306.3" r="0.5"/><circle cx="301.3" cy="289.9" r="0.6"/><circle cx="273.4" cy="298" r="0.5"/><circle cx="222.5" cy="307.7" r="0.6"/><circle cx="291.8" cy="291.8" r="0.5"/><circle cx="305.8" cy="285.6" r="0.6"/><circle cx="231.4" cy="309" r="0.5"/><circle cx="245.2" cy="305" r="0.5"/><circle cx="287.7" cy="285.1" r="0.6"/><circle cx="227" cy="308.9" r="0.4"/><circle cx="246.3" cy="303.7" r="0.6"/><circle cx="279.1" cy="293.2" r="0.4"/><circle cx="286.5" cy="294.6" r="0.6"/><circle cx="305.2" cy="278.5" r="0.6"/><circle cx="286.1" cy="293.8" r="0.4"/><circle cx="298.9" cy="290.6" r="0.5"/><circle cx="265.1" cy="305.2" r="0.6"/><circle cx="274.3" cy="299.2" r="0.6"/><circle cx="224.6" cy="309.2" r="0.6"/><circle cx="229.5" cy="309" r="0.5"/><circle cx="232.7" cy="307.7" r="0.6"/><circle cx="294.9" cy="293.9" r="0.5"/><circle cx="309.4" cy="273" r="0.4"/><circle cx="258.4" cy="304.6" r="0.6"/><circle cx="300.1" cy="285.5" r="0.6"/><circle cx="255.6" cy="292" r="0.6"/><circle cx="248.1" cy="306.2" r="0.6"/><circle cx="258.4" cy="299" r="0.5"/><circle cx="301.3" cy="290.1" r="0.5"/><circle cx="250.9" cy="306.7" r="0.4"/><circle cx="236" cy="302.3" r="0.4"/><circle cx="247.7" cy="295.1" r="0.5"/><circle cx="283.4" cy="296.4" r="0.5"/><circle cx="220.6" cy="312" r="0.4"/><circle cx="254.2" cy="303.4" r="0.5"/><circle cx="275.1" cy="296.1" r="0.4"/><circle cx="252.1" cy="301.2" r="0.6"/><circle cx="277.8" cy="297.5" r="0.5"/><circle cx="252.9" cy="305.9" r="0.4"/><circle cx="270.6" cy="302.1" r="0.6"/><circle cx="239.5" cy="306.1" r="0.6"/><circle cx="291.7" cy="293.4" r="0.5"/><circle cx="301.6" cy="291.6" r="0.4"/><circle cx="299.8" cy="291.1" r="0.6"/><circle cx="301.4" cy="286.2" r="0.6"/><circle cx="275.3" cy="291" r="0.4"/><circle cx="263" cy="300.4" r="0.5"/><circle cx="305.3" cy="280.8" r="0.6"/><circle cx="259.9" cy="306" r="0.4"/><circle cx="266.9" cy="300.4" r="0.4"/><circle cx="264.2" cy="303.1" r="0.6"/><circle cx="234.7" cy="308" r="0.4"/><circle cx="273.2" cy="297.8" r="0.4"/><circle cx="301.2" cy="271.8" r="0.6"/><circle cx="223.1" cy="309.6" r="0.4"/></g>
<ellipse cx="266" cy="264" rx="28" ry="7" fill="#38b6e6" transform="rotate(5 266 264)" filter="url(#b2)" opacity="0.8"/>
<ellipse cx="225" cy="276" rx="15" ry="31" fill="#38b6e6" filter="url(#b1)"/>
<ellipse cx="223.8" cy="278" rx="9.5" ry="24" fill="#7cc54a" filter="url(#b1)"/>
<ellipse cx="223" cy="280" rx="3.4" ry="16" fill="#f3e41f" filter="url(#b05)"/>
<ellipse cx="222.8" cy="270" rx="1.9" ry="5" fill="#e2261d" filter="url(#b05)"/>
<ellipse cx="222.2" cy="290" rx="2.2" ry="4.2" fill="#e2261d" filter="url(#b05)"/>
</g>
<rect x="250.7" y="242.3" width="66.6" height="42.9" stroke="#231f20" stroke-width="1" fill="none"/>
<g clip-path="url(#ca5)">
<g fill="#3a58b2"><circle cx="441.4" cy="283.4" r="0.5"/><circle cx="379.1" cy="312.5" r="0.4"/><circle cx="414" cy="239.8" r="0.5"/><circle cx="340.3" cy="242" r="0.6"/><circle cx="410.2" cy="300.8" r="0.4"/><circle cx="339.9" cy="266.1" r="0.5"/><circle cx="385.6" cy="301.5" r="0.4"/><circle cx="437.1" cy="273.5" r="0.4"/><circle cx="418.8" cy="237" r="0.6"/><circle cx="345.4" cy="238" r="0.4"/><circle cx="439.2" cy="292" r="0.5"/><circle cx="343.1" cy="282.9" r="0.4"/><circle cx="401.7" cy="292.1" r="0.5"/><circle cx="408.2" cy="236.9" r="0.6"/><circle cx="405.8" cy="240.7" r="0.5"/><circle cx="422.3" cy="299.1" r="0.5"/><circle cx="354.9" cy="294.4" r="0.4"/><circle cx="357.4" cy="298" r="0.4"/><circle cx="354" cy="230.1" r="0.4"/><circle cx="357.4" cy="289.8" r="0.5"/><circle cx="426.2" cy="304" r="0.5"/><circle cx="385.2" cy="229.1" r="0.5"/><circle cx="409.8" cy="243.1" r="0.4"/><circle cx="440.8" cy="278.8" r="0.4"/><circle cx="342.7" cy="261.8" r="0.5"/><circle cx="347" cy="271.2" r="0.4"/><circle cx="349.4" cy="268.7" r="0.5"/><circle cx="391.9" cy="297.6" r="0.4"/><circle cx="418.7" cy="303.5" r="0.6"/><circle cx="339.3" cy="256.2" r="0.4"/><circle cx="395.5" cy="295.2" r="0.4"/><circle cx="380.7" cy="224.7" r="0.5"/><circle cx="392.2" cy="294.4" r="0.4"/><circle cx="353.8" cy="236.4" r="0.5"/><circle cx="343.4" cy="233.6" r="0.4"/><circle cx="343.7" cy="239.4" r="0.5"/><circle cx="391.7" cy="297.8" r="0.5"/><circle cx="348.5" cy="235.3" r="0.4"/><circle cx="341.8" cy="243.7" r="0.5"/><circle cx="358.9" cy="291" r="0.4"/><circle cx="415" cy="239.2" r="0.4"/><circle cx="437" cy="286.8" r="0.5"/><circle cx="393" cy="297.1" r="0.5"/><circle cx="425.6" cy="301" r="0.6"/><circle cx="440.1" cy="279.6" r="0.4"/><circle cx="421.1" cy="303.4" r="0.4"/><circle cx="340.3" cy="266.5" r="0.5"/><circle cx="439.2" cy="275.1" r="0.5"/><circle cx="436.1" cy="267.3" r="0.5"/><circle cx="338.3" cy="255.8" r="0.4"/><circle cx="368.5" cy="233.7" r="0.6"/><circle cx="337.9" cy="253" r="0.4"/><circle cx="340.5" cy="256.3" r="0.5"/><circle cx="383.2" cy="236.9" r="0.5"/><circle cx="368.4" cy="298.6" r="0.4"/><circle cx="334.8" cy="241.5" r="0.5"/><circle cx="419.4" cy="303.1" r="0.5"/><circle cx="357.9" cy="239.3" r="0.5"/><circle cx="355.8" cy="274.7" r="0.6"/><circle cx="371.5" cy="225.5" r="0.5"/><circle cx="353.9" cy="232.2" r="0.5"/><circle cx="345.6" cy="269.2" r="0.5"/><circle cx="358.9" cy="287" r="0.5"/><circle cx="434" cy="256.1" r="0.5"/><circle cx="425.5" cy="304.7" r="0.5"/><circle cx="424.1" cy="302.6" r="0.4"/><circle cx="334.8" cy="257.4" r="0.4"/><circle cx="419.4" cy="306.4" r="0.4"/><circle cx="420.9" cy="243" r="0.5"/><circle cx="342.1" cy="241.5" r="0.5"/><circle cx="355.2" cy="273.6" r="0.6"/><circle cx="437.9" cy="283.3" r="0.5"/><circle cx="402.6" cy="233.2" r="0.5"/><circle cx="440.6" cy="250.6" r="0.5"/><circle cx="398.1" cy="233.3" r="0.4"/><circle cx="440.9" cy="259.3" r="0.4"/><circle cx="394.1" cy="290.7" r="0.4"/><circle cx="393.3" cy="230.8" r="0.4"/><circle cx="425.3" cy="300.8" r="0.6"/><circle cx="422.2" cy="304.2" r="0.6"/><circle cx="352.9" cy="233.6" r="0.5"/><circle cx="358.6" cy="225.3" r="0.5"/><circle cx="379.5" cy="230" r="0.4"/><circle cx="391.8" cy="287.2" r="0.5"/><circle cx="353.2" cy="236.8" r="0.5"/><circle cx="427.8" cy="238.9" r="0.5"/><circle cx="395.7" cy="287.6" r="0.4"/><circle cx="398.4" cy="286" r="0.5"/><circle cx="424" cy="315.9" r="0.6"/><circle cx="399.8" cy="228.1" r="0.5"/><circle cx="410.8" cy="238.1" r="0.6"/><circle cx="441.5" cy="290.1" r="0.6"/><circle cx="406" cy="297.7" r="0.4"/><circle cx="443.8" cy="287.7" r="0.4"/><circle cx="346.1" cy="271.8" r="0.6"/><circle cx="400" cy="297.4" r="0.5"/><circle cx="345.9" cy="284" r="0.6"/><circle cx="336.2" cy="260" r="0.4"/><circle cx="394.1" cy="293.2" r="0.6"/><circle cx="430" cy="240.6" r="0.5"/><circle cx="416" cy="303.2" r="0.4"/><circle cx="432.9" cy="256.5" r="0.6"/><circle cx="363.6" cy="229.9" r="0.4"/><circle cx="361.3" cy="229.7" r="0.5"/><circle cx="426.8" cy="301.6" r="0.5"/><circle cx="355.2" cy="277.2" r="0.4"/><circle cx="438.7" cy="296.2" r="0.4"/><circle cx="441.4" cy="262.5" r="0.5"/><circle cx="415.2" cy="239.8" r="0.4"/><circle cx="343.2" cy="263.3" r="0.5"/><circle cx="438.8" cy="267.9" r="0.6"/><circle cx="344.1" cy="230.8" r="0.5"/><circle cx="344.6" cy="261.8" r="0.5"/><circle cx="341.1" cy="233.7" r="0.5"/><circle cx="437.9" cy="242.6" r="0.4"/><circle cx="403.7" cy="226.8" r="0.5"/><circle cx="342.4" cy="253.6" r="0.4"/><circle cx="357" cy="234.6" r="0.5"/><circle cx="353.3" cy="242.4" r="0.5"/><circle cx="437.2" cy="251.4" r="0.6"/><circle cx="376.7" cy="296.5" r="0.4"/><circle cx="436.2" cy="299.3" r="0.4"/><circle cx="358.7" cy="228.6" r="0.4"/><circle cx="369.9" cy="297.4" r="0.6"/><circle cx="380.2" cy="231.9" r="0.5"/><circle cx="386.8" cy="302.7" r="0.4"/><circle cx="362.7" cy="296.4" r="0.5"/><circle cx="347.7" cy="267.3" r="0.4"/><circle cx="431.3" cy="254.1" r="0.4"/><circle cx="357.9" cy="299.5" r="0.6"/><circle cx="443.3" cy="297.8" r="0.6"/><circle cx="366.1" cy="229.6" r="0.4"/><circle cx="415.2" cy="240.9" r="0.6"/><circle cx="442.4" cy="284.5" r="0.4"/><circle cx="411.5" cy="232.3" r="0.4"/><circle cx="352.3" cy="282.6" r="0.6"/><circle cx="370.4" cy="236.3" r="0.5"/><circle cx="400.8" cy="287.6" r="0.4"/><circle cx="389.9" cy="300.1" r="0.4"/><circle cx="432.9" cy="251.4" r="0.5"/><circle cx="438.7" cy="250.2" r="0.6"/><circle cx="362.1" cy="296.8" r="0.4"/><circle cx="357.8" cy="273.9" r="0.4"/><circle cx="389.4" cy="234" r="0.4"/><circle cx="348.7" cy="229.5" r="0.4"/><circle cx="365.1" cy="290.1" r="0.6"/><circle cx="397.4" cy="229.4" r="0.4"/><circle cx="337.2" cy="260.4" r="0.5"/><circle cx="449" cy="286.9" r="0.6"/><circle cx="439.7" cy="282.9" r="0.4"/><circle cx="338.5" cy="255.3" r="0.5"/><circle cx="342.3" cy="234.9" r="0.4"/><circle cx="441.3" cy="284.6" r="0.5"/><circle cx="370.7" cy="297.8" r="0.5"/><circle cx="431.5" cy="286.3" r="0.5"/><circle cx="393.9" cy="236.5" r="0.5"/><circle cx="369.7" cy="304.6" r="0.4"/><circle cx="380.6" cy="302.1" r="0.5"/><circle cx="370.1" cy="300.3" r="0.4"/><circle cx="360.7" cy="234.9" r="0.5"/><circle cx="390.4" cy="288.9" r="0.4"/><circle cx="336.6" cy="260" r="0.6"/><circle cx="407.1" cy="233.4" r="0.4"/><circle cx="339" cy="251.4" r="0.6"/><circle cx="420.8" cy="301.8" r="0.6"/><circle cx="416.7" cy="305.6" r="0.4"/><circle cx="428.2" cy="237.5" r="0.5"/><circle cx="390.1" cy="304.1" r="0.5"/><circle cx="355.1" cy="232.8" r="0.4"/><circle cx="341.6" cy="258.4" r="0.5"/><circle cx="413.9" cy="233.3" r="0.5"/><circle cx="439.3" cy="253.2" r="0.4"/><circle cx="343.7" cy="289.7" r="0.4"/><circle cx="351.6" cy="226" r="0.4"/><circle cx="425.7" cy="235.4" r="0.5"/><circle cx="401.5" cy="289.1" r="0.4"/><circle cx="384.4" cy="238" r="0.6"/><circle cx="431.6" cy="257.4" r="0.4"/><circle cx="430.5" cy="255.7" r="0.4"/><circle cx="402.1" cy="294.4" r="0.5"/><circle cx="380.7" cy="307.5" r="0.4"/><circle cx="372.4" cy="232.7" r="0.6"/><circle cx="430.8" cy="298.5" r="0.5"/><circle cx="343.4" cy="243.2" r="0.5"/><circle cx="355.9" cy="292.5" r="0.5"/><circle cx="370.8" cy="299" r="0.4"/><circle cx="434.4" cy="282.6" r="0.6"/><circle cx="412.7" cy="308.2" r="0.5"/><circle cx="364.6" cy="296" r="0.6"/><circle cx="436.8" cy="253.9" r="0.5"/><circle cx="337.9" cy="247.8" r="0.4"/><circle cx="440.4" cy="270.3" r="0.4"/><circle cx="399.2" cy="291.9" r="0.4"/><circle cx="433.4" cy="242.9" r="0.4"/><circle cx="444.8" cy="279.4" r="0.6"/><circle cx="415.2" cy="298.3" r="0.4"/><circle cx="340.4" cy="247.5" r="0.4"/><circle cx="336.8" cy="255.1" r="0.5"/><circle cx="340.9" cy="258.5" r="0.4"/><circle cx="430.2" cy="247.5" r="0.6"/><circle cx="376.9" cy="307.5" r="0.5"/><circle cx="368.6" cy="312" r="0.5"/><circle cx="408.5" cy="299.5" r="0.4"/><circle cx="349.6" cy="280.6" r="0.4"/><circle cx="390.7" cy="295.2" r="0.4"/><circle cx="341" cy="256.7" r="0.6"/><circle cx="385.7" cy="297.4" r="0.4"/><circle cx="381.7" cy="303.3" r="0.6"/><circle cx="346.5" cy="235.6" r="0.5"/><circle cx="436.7" cy="250.7" r="0.5"/><circle cx="446.5" cy="259.1" r="0.4"/><circle cx="348.5" cy="281.2" r="0.4"/><circle cx="381.3" cy="232" r="0.4"/><circle cx="403.6" cy="289.8" r="0.6"/><circle cx="344.9" cy="264.5" r="0.4"/><circle cx="416.3" cy="311.1" r="0.4"/><circle cx="341.4" cy="272.7" r="0.5"/><circle cx="441.6" cy="270.9" r="0.4"/><circle cx="372.6" cy="297.8" r="0.5"/><circle cx="426.2" cy="305.5" r="0.4"/><circle cx="398.8" cy="230.6" r="0.4"/><circle cx="349.5" cy="286.4" r="0.4"/><circle cx="343" cy="281.6" r="0.5"/><circle cx="425" cy="242.9" r="0.5"/><circle cx="351" cy="233.5" r="0.4"/><circle cx="426.1" cy="252.9" r="0.4"/><circle cx="424.1" cy="243" r="0.6"/><circle cx="433.8" cy="290.8" r="0.4"/><circle cx="440.4" cy="269.4" r="0.6"/><circle cx="406.6" cy="299.6" r="0.5"/><circle cx="439.4" cy="255.7" r="0.5"/><circle cx="372.4" cy="299.9" r="0.4"/><circle cx="379.4" cy="299.6" r="0.6"/><circle cx="436.4" cy="298.1" r="0.6"/><circle cx="339.2" cy="258.7" r="0.5"/><circle cx="419.2" cy="237.8" r="0.4"/><circle cx="357.6" cy="236.2" r="0.5"/><circle cx="429.5" cy="307.5" r="0.6"/><circle cx="344.6" cy="267.2" r="0.4"/><circle cx="354.2" cy="292.2" r="0.6"/><circle cx="439.6" cy="270.8" r="0.5"/><circle cx="401.1" cy="293.4" r="0.4"/><circle cx="409.1" cy="236.6" r="0.4"/><circle cx="360.9" cy="283.7" r="0.4"/><circle cx="425.2" cy="238.3" r="0.4"/><circle cx="341.1" cy="276.6" r="0.4"/><circle cx="352.8" cy="240.7" r="0.6"/><circle cx="414.3" cy="301.5" r="0.4"/><circle cx="342.4" cy="269.8" r="0.5"/><circle cx="429.2" cy="258.1" r="0.5"/><circle cx="443.1" cy="272.7" r="0.4"/><circle cx="344.2" cy="263.7" r="0.4"/><circle cx="364" cy="231.1" r="0.4"/><circle cx="387.5" cy="225.2" r="0.4"/><circle cx="338.6" cy="246.1" r="0.4"/><circle cx="374.8" cy="302.5" r="0.5"/><circle cx="364.5" cy="220.6" r="0.4"/><circle cx="376.3" cy="229.9" r="0.4"/><circle cx="441.8" cy="291.1" r="0.5"/><circle cx="397" cy="229.1" r="0.5"/><circle cx="372.2" cy="304.8" r="0.4"/><circle cx="438.9" cy="286" r="0.4"/><circle cx="341.2" cy="239" r="0.5"/><circle cx="422.4" cy="304.3" r="0.4"/><circle cx="336.6" cy="256.4" r="0.4"/><circle cx="418.8" cy="305.4" r="0.6"/><circle cx="392.2" cy="231.8" r="0.6"/><circle cx="351.1" cy="253.5" r="0.6"/><circle cx="440.5" cy="282.8" r="0.6"/><circle cx="381.3" cy="226" r="0.5"/><circle cx="372" cy="308.4" r="0.6"/><circle cx="409.4" cy="297.3" r="0.5"/><circle cx="387.6" cy="293.4" r="0.4"/><circle cx="343.9" cy="262.7" r="0.4"/><circle cx="428.9" cy="300.4" r="0.4"/><circle cx="354.8" cy="278.6" r="0.6"/><circle cx="405.2" cy="297.2" r="0.5"/><circle cx="415.3" cy="238.6" r="0.5"/><circle cx="388.2" cy="235.3" r="0.4"/><circle cx="412.8" cy="296.7" r="0.6"/><circle cx="402" cy="227" r="0.4"/><circle cx="335.7" cy="249.3" r="0.4"/><circle cx="377" cy="227.1" r="0.5"/><circle cx="448.7" cy="290.8" r="0.6"/><circle cx="445.9" cy="267.5" r="0.5"/><circle cx="362.5" cy="232.4" r="0.5"/><circle cx="421.8" cy="235.3" r="0.4"/><circle cx="441.3" cy="253.7" r="0.6"/><circle cx="408.6" cy="294.5" r="0.5"/><circle cx="433.1" cy="302.1" r="0.5"/><circle cx="441.9" cy="292.3" r="0.4"/><circle cx="336.6" cy="255.1" r="0.5"/><circle cx="409.3" cy="239.9" r="0.6"/><circle cx="394.7" cy="296.6" r="0.4"/><circle cx="428.2" cy="300.3" r="0.6"/><circle cx="345.5" cy="233.6" r="0.5"/><circle cx="394.8" cy="231.5" r="0.6"/><circle cx="344.5" cy="272.8" r="0.5"/><circle cx="393.9" cy="228.1" r="0.4"/><circle cx="367.7" cy="228.7" r="0.4"/><circle cx="385.7" cy="233.3" r="0.4"/><circle cx="347.9" cy="236.2" r="0.5"/><circle cx="367.9" cy="299.6" r="0.6"/><circle cx="430.8" cy="308.5" r="0.4"/><circle cx="342.7" cy="258.5" r="0.4"/><circle cx="369.2" cy="291.5" r="0.5"/><circle cx="435.7" cy="246" r="0.5"/><circle cx="383.7" cy="307" r="0.6"/><circle cx="338.1" cy="260.6" r="0.5"/><circle cx="381.6" cy="231.3" r="0.5"/><circle cx="441.4" cy="263.1" r="0.4"/><circle cx="417" cy="303.3" r="0.4"/><circle cx="444.8" cy="282.3" r="0.4"/><circle cx="366.4" cy="229.7" r="0.5"/><circle cx="348.1" cy="247.2" r="0.5"/><circle cx="427.4" cy="240.9" r="0.5"/><circle cx="394.8" cy="298.7" r="0.4"/><circle cx="438.8" cy="280" r="0.5"/><circle cx="377.4" cy="233" r="0.5"/><circle cx="403.8" cy="297.9" r="0.5"/><circle cx="370.9" cy="224.1" r="0.4"/><circle cx="378.9" cy="231" r="0.5"/><circle cx="440.6" cy="279.2" r="0.5"/><circle cx="345.7" cy="234.5" r="0.4"/><circle cx="437.1" cy="284.8" r="0.5"/><circle cx="409.3" cy="291" r="0.6"/><circle cx="345.4" cy="271.6" r="0.5"/><circle cx="357.2" cy="280.2" r="0.4"/><circle cx="441.7" cy="285.6" r="0.4"/><circle cx="367.7" cy="290.8" r="0.5"/><circle cx="357.4" cy="280.5" r="0.4"/><circle cx="417.2" cy="243.8" r="0.4"/><circle cx="441.8" cy="253.1" r="0.4"/><circle cx="419.4" cy="304.8" r="0.4"/><circle cx="370.6" cy="300.2" r="0.5"/><circle cx="344.3" cy="279.8" r="0.4"/><circle cx="347" cy="268.4" r="0.4"/><circle cx="358.9" cy="236.5" r="0.4"/><circle cx="445.3" cy="291.5" r="0.6"/><circle cx="440.9" cy="272.1" r="0.5"/><circle cx="436.9" cy="254.4" r="0.4"/><circle cx="414.6" cy="297.8" r="0.5"/><circle cx="340.4" cy="241.2" r="0.4"/><circle cx="414.3" cy="299.4" r="0.4"/><circle cx="448.3" cy="297.4" r="0.5"/><circle cx="444" cy="279.5" r="0.4"/><circle cx="363.3" cy="231.6" r="0.5"/><circle cx="408.8" cy="296.4" r="0.5"/><circle cx="444.2" cy="300.2" r="0.4"/><circle cx="397.4" cy="227.9" r="0.4"/><circle cx="362" cy="228.3" r="0.6"/><circle cx="391.4" cy="297.4" r="0.4"/><circle cx="443.7" cy="267.3" r="0.5"/><circle cx="372.5" cy="311.7" r="0.4"/><circle cx="380.6" cy="302.1" r="0.4"/><circle cx="378.5" cy="229.9" r="0.5"/><circle cx="349.4" cy="278.6" r="0.6"/><circle cx="346.9" cy="255.7" r="0.5"/><circle cx="366.2" cy="228.9" r="0.4"/><circle cx="383.1" cy="232.7" r="0.4"/><circle cx="423.3" cy="248.7" r="0.5"/><circle cx="372.5" cy="228.7" r="0.4"/><circle cx="440.1" cy="278.4" r="0.6"/><circle cx="442.1" cy="257.7" r="0.4"/><circle cx="426.2" cy="233.7" r="0.6"/><circle cx="346.4" cy="273.1" r="0.5"/><circle cx="423.7" cy="305.4" r="0.5"/><circle cx="377.8" cy="304.8" r="0.4"/><circle cx="409.7" cy="234.7" r="0.4"/><circle cx="374.1" cy="303.8" r="0.6"/><circle cx="336.9" cy="252.2" r="0.5"/><circle cx="443" cy="258.7" r="0.4"/><circle cx="345.3" cy="233.3" r="0.4"/><circle cx="442.8" cy="292.2" r="0.6"/><circle cx="340.7" cy="257.4" r="0.5"/><circle cx="446.2" cy="273.8" r="0.5"/><circle cx="376.4" cy="227.2" r="0.5"/><circle cx="431.2" cy="256.5" r="0.5"/><circle cx="382.6" cy="232.2" r="0.4"/><circle cx="421.1" cy="300.7" r="0.5"/><circle cx="383.8" cy="303.8" r="0.4"/><circle cx="414.9" cy="298.3" r="0.5"/><circle cx="338.2" cy="252.9" r="0.6"/><circle cx="395.9" cy="293.7" r="0.4"/><circle cx="346.8" cy="273.2" r="0.4"/><circle cx="356.5" cy="238.5" r="0.5"/><circle cx="367.7" cy="239.6" r="0.5"/><circle cx="367" cy="298.2" r="0.4"/><circle cx="364.9" cy="293.2" r="0.6"/><circle cx="392.9" cy="297.3" r="0.5"/><circle cx="436.5" cy="286.9" r="0.4"/><circle cx="349" cy="224.1" r="0.6"/><circle cx="354.5" cy="286.9" r="0.6"/><circle cx="430.9" cy="293" r="0.4"/><circle cx="339.5" cy="267.4" r="0.4"/><circle cx="432.3" cy="300.7" r="0.4"/><circle cx="393.6" cy="288.7" r="0.5"/><circle cx="439.1" cy="297.1" r="0.4"/><circle cx="436.4" cy="254.6" r="0.4"/><circle cx="387.4" cy="234.6" r="0.4"/><circle cx="442.8" cy="271.3" r="0.4"/><circle cx="400.2" cy="232" r="0.5"/><circle cx="364.4" cy="295" r="0.4"/><circle cx="430.1" cy="291.6" r="0.5"/><circle cx="372.7" cy="232.2" r="0.6"/><circle cx="399.9" cy="227" r="0.4"/><circle cx="381.2" cy="231.7" r="0.4"/><circle cx="410.3" cy="302.3" r="0.6"/><circle cx="340.9" cy="245.2" r="0.5"/><circle cx="373.7" cy="298.5" r="0.4"/><circle cx="434.6" cy="296.1" r="0.6"/><circle cx="367.5" cy="299.9" r="0.5"/><circle cx="370.1" cy="229.9" r="0.4"/><circle cx="434.6" cy="288.9" r="0.5"/><circle cx="425" cy="303.5" r="0.4"/><circle cx="444.8" cy="295.1" r="0.4"/><circle cx="430.2" cy="299.3" r="0.4"/><circle cx="437.4" cy="283.8" r="0.4"/><circle cx="341.6" cy="265.5" r="0.5"/><circle cx="406.1" cy="234.4" r="0.6"/><circle cx="341" cy="268.6" r="0.5"/><circle cx="382.1" cy="229.2" r="0.4"/><circle cx="397.3" cy="228.1" r="0.4"/><circle cx="348" cy="237.9" r="0.5"/><circle cx="379.9" cy="290.9" r="0.4"/><circle cx="433.1" cy="272.6" r="0.6"/><circle cx="370.3" cy="301.3" r="0.6"/><circle cx="389" cy="301.3" r="0.5"/><circle cx="433.2" cy="275.7" r="0.5"/><circle cx="378.6" cy="300.3" r="0.6"/><circle cx="423.9" cy="237.2" r="0.5"/><circle cx="397" cy="294.3" r="0.4"/><circle cx="424.1" cy="239.6" r="0.4"/><circle cx="387" cy="289.1" r="0.6"/><circle cx="337.2" cy="246" r="0.6"/><circle cx="345.7" cy="236.5" r="0.5"/><circle cx="347.5" cy="242.2" r="0.4"/><circle cx="342.8" cy="244.4" r="0.5"/><circle cx="351.9" cy="286.1" r="0.4"/><circle cx="340.2" cy="238.9" r="0.5"/><circle cx="382" cy="301.8" r="0.6"/><circle cx="430.2" cy="252.8" r="0.4"/><circle cx="434.5" cy="294.7" r="0.5"/><circle cx="443.9" cy="268.5" r="0.4"/><circle cx="345" cy="282.9" r="0.5"/><circle cx="420.6" cy="243.1" r="0.6"/><circle cx="366.5" cy="232.9" r="0.5"/><circle cx="407.3" cy="240.8" r="0.6"/><circle cx="383.2" cy="231" r="0.5"/><circle cx="425.1" cy="242.7" r="0.6"/><circle cx="440.5" cy="282.8" r="0.4"/><circle cx="350.8" cy="276" r="0.4"/><circle cx="358.4" cy="232.5" r="0.5"/><circle cx="341" cy="260.3" r="0.5"/><circle cx="437.1" cy="293.9" r="0.4"/><circle cx="397.2" cy="228.8" r="0.6"/><circle cx="339.7" cy="260.8" r="0.5"/><circle cx="362.6" cy="235.9" r="0.4"/><circle cx="354.5" cy="289.4" r="0.5"/><circle cx="438.7" cy="274.4" r="0.5"/><circle cx="414" cy="240.9" r="0.6"/><circle cx="369.8" cy="297.2" r="0.6"/><circle cx="348" cy="231.8" r="0.4"/><circle cx="357.2" cy="296.5" r="0.4"/><circle cx="405.9" cy="295.2" r="0.4"/><circle cx="370.2" cy="301.9" r="0.4"/><circle cx="437" cy="295.6" r="0.5"/><circle cx="360.7" cy="287.3" r="0.6"/><circle cx="340.2" cy="260.2" r="0.6"/><circle cx="355" cy="247.3" r="0.6"/><circle cx="374.6" cy="238.7" r="0.4"/><circle cx="375.6" cy="306.2" r="0.6"/><circle cx="395.9" cy="301.2" r="0.6"/><circle cx="340.7" cy="266.6" r="0.4"/><circle cx="379.9" cy="233.7" r="0.5"/><circle cx="382.4" cy="303" r="0.6"/><circle cx="441.1" cy="286.6" r="0.4"/><circle cx="365.6" cy="237.8" r="0.5"/><circle cx="365.8" cy="226.5" r="0.5"/><circle cx="397.9" cy="241.8" r="0.5"/><circle cx="339.5" cy="239.4" r="0.5"/><circle cx="439.4" cy="300.7" r="0.5"/><circle cx="411.5" cy="294.6" r="0.4"/><circle cx="380.4" cy="305.6" r="0.4"/><circle cx="373.5" cy="309.4" r="0.5"/><circle cx="363.1" cy="294.7" r="0.5"/><circle cx="359.6" cy="302.3" r="0.4"/><circle cx="353.4" cy="233.8" r="0.4"/><circle cx="350.3" cy="266.6" r="0.4"/><circle cx="368.7" cy="230.9" r="0.5"/><circle cx="370.9" cy="303.7" r="0.5"/><circle cx="434.8" cy="250.7" r="0.5"/></g>
<g fill="#3a58b2"><circle cx="414.1" cy="318.2" r="0.4"/><circle cx="399.3" cy="212.4" r="0.4"/><circle cx="456.8" cy="253.1" r="0.6"/><circle cx="428.6" cy="325.1" r="0.5"/><circle cx="451.3" cy="267.4" r="0.5"/><circle cx="428.1" cy="311.8" r="0.5"/><circle cx="449" cy="321.3" r="0.5"/><circle cx="425.7" cy="322" r="0.4"/><circle cx="359.8" cy="244.6" r="0.6"/><circle cx="451.2" cy="299.3" r="0.5"/><circle cx="423.8" cy="319.6" r="0.5"/><circle cx="411.1" cy="297.2" r="0.4"/><circle cx="350.7" cy="237" r="0.6"/><circle cx="399.1" cy="304.8" r="0.5"/><circle cx="423.3" cy="214.8" r="0.5"/><circle cx="422.4" cy="321.1" r="0.6"/><circle cx="371" cy="213.7" r="0.6"/><circle cx="420.8" cy="210.1" r="0.4"/><circle cx="416.8" cy="315.4" r="0.5"/><circle cx="381.6" cy="262.9" r="0.5"/><circle cx="376.3" cy="260.1" r="0.4"/><circle cx="435.8" cy="310.8" r="0.4"/><circle cx="453.3" cy="283.4" r="0.6"/><circle cx="433.9" cy="301.3" r="0.4"/><circle cx="419.8" cy="326.2" r="0.5"/><circle cx="366.5" cy="215.2" r="0.6"/><circle cx="364.9" cy="216.9" r="0.5"/><circle cx="360.6" cy="222.1" r="0.4"/><circle cx="386.6" cy="285.5" r="0.5"/><circle cx="419.8" cy="225.6" r="0.4"/><circle cx="375.7" cy="252.7" r="0.5"/><circle cx="383.9" cy="264.8" r="0.5"/><circle cx="436.9" cy="230.4" r="0.5"/><circle cx="454.9" cy="314.2" r="0.4"/><circle cx="349.5" cy="222.8" r="0.5"/><circle cx="440.6" cy="233.5" r="0.4"/><circle cx="452.8" cy="296.5" r="0.5"/><circle cx="441.5" cy="223.2" r="0.6"/><circle cx="372.4" cy="228.8" r="0.5"/><circle cx="428.9" cy="307" r="0.5"/><circle cx="457.4" cy="244.4" r="0.5"/><circle cx="377.9" cy="210.4" r="0.5"/><circle cx="411.2" cy="224.6" r="0.5"/><circle cx="387.2" cy="204" r="0.6"/><circle cx="422.4" cy="214.6" r="0.5"/><circle cx="406.6" cy="329.9" r="0.5"/><circle cx="439.9" cy="234.7" r="0.5"/><circle cx="389.7" cy="219.8" r="0.5"/><circle cx="448.7" cy="226.5" r="0.4"/><circle cx="369.7" cy="240.2" r="0.4"/><circle cx="435.4" cy="221.9" r="0.5"/><circle cx="356.3" cy="204.3" r="0.5"/><circle cx="368.6" cy="247.2" r="0.4"/><circle cx="386" cy="292.1" r="0.5"/><circle cx="457.7" cy="287.1" r="0.5"/><circle cx="445.4" cy="311.4" r="0.5"/><circle cx="379.3" cy="256.1" r="0.6"/><circle cx="394.6" cy="280.7" r="0.6"/><circle cx="453.5" cy="293.2" r="0.4"/><circle cx="434.1" cy="327" r="0.5"/><circle cx="388.1" cy="293.4" r="0.4"/><circle cx="448.9" cy="286.1" r="0.6"/><circle cx="361.7" cy="235" r="0.4"/><circle cx="388.7" cy="293.5" r="0.5"/><circle cx="401.3" cy="261.1" r="0.5"/><circle cx="400.9" cy="285.1" r="0.6"/><circle cx="383.1" cy="212.3" r="0.6"/><circle cx="406.1" cy="294.8" r="0.5"/><circle cx="428" cy="225.6" r="0.4"/><circle cx="455.3" cy="305" r="0.6"/><circle cx="368.6" cy="218.5" r="0.5"/><circle cx="398.4" cy="323" r="0.5"/><circle cx="395.2" cy="218.6" r="0.4"/><circle cx="393.5" cy="280.1" r="0.6"/><circle cx="353.1" cy="227.7" r="0.5"/><circle cx="450.4" cy="223.8" r="0.5"/><circle cx="458.4" cy="257.6" r="0.4"/><circle cx="349" cy="217.8" r="0.5"/><circle cx="395" cy="302.6" r="0.4"/><circle cx="342.4" cy="220.7" r="0.4"/><circle cx="363.6" cy="232.7" r="0.4"/><circle cx="425.9" cy="221.4" r="0.6"/><circle cx="457.1" cy="264.9" r="0.5"/><circle cx="431.6" cy="313" r="0.5"/><circle cx="437.4" cy="310.6" r="0.5"/><circle cx="423.4" cy="327.6" r="0.4"/><circle cx="428.3" cy="323.3" r="0.5"/></g>
<path d="M336 252 C336.5 247 339.7 239.5 345 236 C350.3 232.5 359.2 231.7 368 231 C376.8 230.3 388.5 230.5 398 232 C407.5 233.5 418.3 236.2 425 240 C431.7 243.8 435.3 249.2 438 255 C440.7 260.8 441 268.3 441 275 C441 281.7 440.2 290.3 438 295 C435.8 299.7 432 301.8 428 303 C424 304.2 418 303.2 414 302 C410 300.8 407 297.7 404 296 C401 294.3 399 291 396 292 C393 293 390.7 300.3 386 302 C381.3 303.7 372.3 303.7 368 302 C363.7 300.3 362.7 295.7 360 292 C357.3 288.3 355 284.3 352 280 C349 275.7 344.7 270.7 342 266 C339.3 261.3 335.5 257 336 252Z" fill="#3a58b2" filter="url(#b1)" opacity="0.8"/>
<ellipse cx="372" cy="254" rx="30" ry="13" fill="#38b6e6" transform="rotate(-8 372 254)" filter="url(#b2)" opacity="0.9"/>
<ellipse cx="405" cy="262" rx="25" ry="8" fill="#38b6e6" transform="rotate(10 405 262)" filter="url(#b2)" opacity="0.7"/>
<ellipse cx="420" cy="288" rx="13" ry="10" fill="#38b6e6" filter="url(#b2)" opacity="0.9"/>
<ellipse cx="421" cy="290" rx="7" ry="5" fill="#7cc54a" filter="url(#b2)" opacity="0.8"/>
<ellipse cx="405" cy="259" rx="22" ry="6" fill="#7cc54a" transform="rotate(8 405 259)" filter="url(#b2)" opacity="0.55"/>
<ellipse cx="372" cy="254" rx="20" ry="10" fill="#7cc54a" transform="rotate(-10 372 254)" filter="url(#b1)"/>
<ellipse cx="376" cy="253.5" rx="12" ry="6" fill="#f3e41f" transform="rotate(-12 376 253.5)" filter="url(#b1)"/>
<ellipse cx="377" cy="253.5" rx="7" ry="3.5" fill="#e2261d" transform="rotate(-15 377 253.5)" filter="url(#b05)"/>
<g fill="#ffffff"><circle cx="369.3" cy="297.6" r="0.4"/><circle cx="430.7" cy="245.5" r="0.5"/><circle cx="350.4" cy="283.8" r="0.3"/><circle cx="455.8" cy="302.5" r="0.4"/><circle cx="425.8" cy="305.7" r="0.3"/><circle cx="340.8" cy="248.9" r="0.4"/><circle cx="411.5" cy="236.9" r="0.3"/><circle cx="362.8" cy="231.8" r="0.5"/><circle cx="422" cy="306" r="0.5"/><circle cx="382.3" cy="303.9" r="0.5"/><circle cx="340.6" cy="261.6" r="0.5"/><circle cx="360.6" cy="241.9" r="0.5"/><circle cx="426.5" cy="257.6" r="0.4"/><circle cx="439.2" cy="253" r="0.5"/><circle cx="407.2" cy="308" r="0.5"/><circle cx="351.8" cy="278.2" r="0.5"/><circle cx="343.3" cy="251.2" r="0.4"/><circle cx="338.6" cy="260.7" r="0.5"/><circle cx="343.6" cy="259.7" r="0.3"/><circle cx="426.2" cy="300.2" r="0.4"/><circle cx="408.7" cy="223.9" r="0.4"/><circle cx="423.4" cy="232.2" r="0.5"/><circle cx="450.7" cy="264.6" r="0.4"/><circle cx="342" cy="240.4" r="0.5"/><circle cx="345.3" cy="235.8" r="0.3"/><circle cx="377.6" cy="307.1" r="0.4"/><circle cx="365.2" cy="241.5" r="0.5"/><circle cx="388.8" cy="295.6" r="0.5"/><circle cx="451.7" cy="255.8" r="0.3"/><circle cx="371.4" cy="244.3" r="0.4"/><circle cx="447.2" cy="272.3" r="0.5"/><circle cx="415.2" cy="300" r="0.5"/><circle cx="366.8" cy="303.3" r="0.5"/><circle cx="373.4" cy="301.2" r="0.5"/><circle cx="424.2" cy="238.6" r="0.5"/><circle cx="361" cy="298.9" r="0.3"/><circle cx="400.2" cy="312.2" r="0.3"/><circle cx="383.3" cy="242.6" r="0.4"/><circle cx="428.8" cy="250.6" r="0.4"/><circle cx="449.3" cy="293.1" r="0.5"/><circle cx="430.7" cy="265.7" r="0.5"/><circle cx="361.4" cy="302.8" r="0.3"/><circle cx="420.1" cy="311.8" r="0.3"/><circle cx="432.2" cy="258" r="0.4"/><circle cx="437" cy="293.5" r="0.4"/><circle cx="347.1" cy="244.5" r="0.3"/><circle cx="398.7" cy="292.3" r="0.5"/><circle cx="445.4" cy="269" r="0.5"/><circle cx="341.5" cy="262.2" r="0.5"/><circle cx="413.2" cy="245.4" r="0.4"/><circle cx="349.8" cy="283.5" r="0.4"/><circle cx="385.4" cy="300.1" r="0.5"/><circle cx="368.2" cy="287.5" r="0.5"/><circle cx="426.3" cy="296.1" r="0.4"/><circle cx="354.2" cy="290.3" r="0.4"/><circle cx="340.2" cy="245.8" r="0.5"/><circle cx="387" cy="237.3" r="0.4"/><circle cx="435.3" cy="302.4" r="0.4"/><circle cx="430.2" cy="303.4" r="0.4"/><circle cx="411.1" cy="296.5" r="0.5"/><circle cx="420.5" cy="233.2" r="0.5"/><circle cx="387.6" cy="224.4" r="0.3"/><circle cx="443.6" cy="277.3" r="0.5"/><circle cx="440.5" cy="267.1" r="0.4"/><circle cx="427.5" cy="296.2" r="0.4"/><circle cx="357.9" cy="229.9" r="0.5"/><circle cx="355.4" cy="223.1" r="0.5"/><circle cx="437.4" cy="302.9" r="0.5"/><circle cx="416.4" cy="241.6" r="0.3"/><circle cx="379.4" cy="232" r="0.4"/><circle cx="437.9" cy="282.8" r="0.5"/><circle cx="355.7" cy="292.8" r="0.4"/><circle cx="347.1" cy="256.4" r="0.4"/><circle cx="336.5" cy="264.2" r="0.5"/><circle cx="428.9" cy="291.2" r="0.3"/><circle cx="392.7" cy="240.5" r="0.5"/><circle cx="384.5" cy="227.9" r="0.4"/><circle cx="426.4" cy="227.7" r="0.5"/><circle cx="389.6" cy="287.5" r="0.5"/><circle cx="452.6" cy="288.4" r="0.4"/><circle cx="409.4" cy="302.9" r="0.5"/><circle cx="360.6" cy="292.4" r="0.4"/><circle cx="446.3" cy="259.2" r="0.4"/><circle cx="354.6" cy="237.4" r="0.4"/><circle cx="453.9" cy="304.9" r="0.5"/><circle cx="364.3" cy="235.9" r="0.3"/><circle cx="396.8" cy="243.1" r="0.5"/><circle cx="366.7" cy="303.6" r="0.3"/><circle cx="437.4" cy="251.2" r="0.5"/><circle cx="437.6" cy="287.6" r="0.5"/><circle cx="371.9" cy="291.3" r="0.3"/><circle cx="410" cy="270.9" r="0.5"/><circle cx="406.9" cy="250.8" r="0.5"/><circle cx="404.5" cy="295.8" r="0.4"/><circle cx="339.5" cy="251.5" r="0.4"/><circle cx="446.5" cy="267.7" r="0.5"/><circle cx="413.2" cy="271.4" r="0.5"/><circle cx="449.4" cy="269.3" r="0.4"/><circle cx="447.3" cy="260.6" r="0.4"/><circle cx="359.8" cy="313.1" r="0.4"/><circle cx="425.4" cy="284.5" r="0.3"/><circle cx="421.3" cy="238.3" r="0.3"/><circle cx="420.6" cy="231.3" r="0.4"/><circle cx="410.1" cy="224.4" r="0.4"/><circle cx="358.2" cy="289.4" r="0.5"/><circle cx="370.8" cy="285.8" r="0.4"/><circle cx="359.5" cy="247.2" r="0.3"/><circle cx="404.2" cy="314.1" r="0.5"/><circle cx="437.3" cy="252.8" r="0.5"/><circle cx="336.1" cy="243.5" r="0.4"/><circle cx="387.9" cy="300" r="0.4"/><circle cx="456.8" cy="281.6" r="0.5"/><circle cx="373.6" cy="217.7" r="0.3"/><circle cx="432.8" cy="258.4" r="0.3"/><circle cx="446.5" cy="257.6" r="0.4"/><circle cx="387.9" cy="232.1" r="0.4"/><circle cx="427" cy="234.6" r="0.3"/><circle cx="379.7" cy="284.9" r="0.3"/><circle cx="347" cy="286.1" r="0.4"/><circle cx="367.7" cy="298.2" r="0.4"/><circle cx="433.4" cy="292.2" r="0.5"/><circle cx="425.2" cy="227.9" r="0.5"/><circle cx="403.3" cy="232.3" r="0.4"/><circle cx="337.9" cy="269.9" r="0.4"/><circle cx="392.9" cy="225.9" r="0.5"/><circle cx="430.6" cy="279.9" r="0.5"/><circle cx="425.3" cy="310.3" r="0.3"/><circle cx="414.4" cy="298.9" r="0.4"/><circle cx="343.7" cy="229.6" r="0.3"/><circle cx="353.8" cy="302.2" r="0.5"/><circle cx="367.6" cy="259.9" r="0.4"/><circle cx="343.7" cy="252.4" r="0.4"/><circle cx="423.7" cy="246.2" r="0.4"/><circle cx="341.9" cy="249" r="0.5"/><circle cx="439" cy="294" r="0.3"/><circle cx="433.5" cy="299" r="0.4"/><circle cx="444.3" cy="257.1" r="0.5"/><circle cx="434.6" cy="273.9" r="0.4"/><circle cx="409.6" cy="229.2" r="0.5"/><circle cx="434.4" cy="258.1" r="0.4"/><circle cx="355" cy="285.8" r="0.3"/><circle cx="393.4" cy="241" r="0.4"/><circle cx="396.5" cy="243.1" r="0.3"/><circle cx="387.1" cy="307.9" r="0.4"/><circle cx="366.6" cy="312.9" r="0.5"/><circle cx="437.6" cy="257.3" r="0.4"/><circle cx="441.5" cy="246.6" r="0.5"/><circle cx="345.6" cy="256.5" r="0.5"/><circle cx="342.1" cy="289.5" r="0.5"/><circle cx="435.3" cy="267.1" r="0.5"/><circle cx="376" cy="298.2" r="0.3"/><circle cx="417.4" cy="311.3" r="0.5"/><circle cx="396.2" cy="235.6" r="0.4"/><circle cx="414.4" cy="283.1" r="0.3"/><circle cx="440.4" cy="262.4" r="0.5"/><circle cx="436.1" cy="258.8" r="0.5"/><circle cx="387.7" cy="285.2" r="0.5"/><circle cx="362.3" cy="291.8" r="0.5"/><circle cx="415.1" cy="257.3" r="0.4"/><circle cx="451.9" cy="256.6" r="0.4"/><circle cx="389.3" cy="222.9" r="0.5"/><circle cx="424.6" cy="253.8" r="0.5"/><circle cx="383.5" cy="300.4" r="0.3"/><circle cx="423.6" cy="231.9" r="0.4"/><circle cx="455.5" cy="263.7" r="0.4"/><circle cx="350.3" cy="255.4" r="0.4"/><circle cx="418.2" cy="307.1" r="0.5"/><circle cx="428.7" cy="288.2" r="0.5"/><circle cx="436.3" cy="294.9" r="0.4"/><circle cx="429.8" cy="261.5" r="0.5"/><circle cx="412.7" cy="244.3" r="0.5"/><circle cx="397.1" cy="237" r="0.5"/><circle cx="383.2" cy="305" r="0.4"/><circle cx="365.7" cy="308.8" r="0.4"/><circle cx="362.4" cy="278.6" r="0.4"/><circle cx="379.8" cy="297" r="0.5"/><circle cx="432.9" cy="261.9" r="0.4"/><circle cx="450" cy="294.1" r="0.4"/><circle cx="413.2" cy="298.2" r="0.4"/><circle cx="435.9" cy="295.3" r="0.5"/><circle cx="439.1" cy="284.1" r="0.4"/><circle cx="450.9" cy="256.6" r="0.4"/><circle cx="363.2" cy="290" r="0.5"/><circle cx="369.2" cy="227.3" r="0.5"/><circle cx="380.1" cy="234.9" r="0.4"/><circle cx="359.3" cy="228.5" r="0.5"/><circle cx="410.4" cy="298.8" r="0.3"/><circle cx="416.6" cy="221.5" r="0.3"/><circle cx="382.2" cy="302.4" r="0.5"/><circle cx="341.4" cy="223.5" r="0.3"/><circle cx="353.7" cy="310.8" r="0.5"/><circle cx="433.3" cy="271.5" r="0.3"/><circle cx="420.9" cy="300.4" r="0.4"/><circle cx="390.3" cy="240.3" r="0.4"/><circle cx="441.7" cy="245.6" r="0.5"/><circle cx="422.3" cy="238.8" r="0.3"/><circle cx="447.3" cy="267.1" r="0.5"/><circle cx="354.9" cy="272.9" r="0.4"/><circle cx="436.4" cy="294.8" r="0.4"/><circle cx="402.6" cy="295.7" r="0.5"/><circle cx="448.2" cy="276.1" r="0.5"/><circle cx="399.4" cy="291.3" r="0.3"/><circle cx="348.9" cy="256.3" r="0.3"/><circle cx="398.9" cy="293.2" r="0.5"/><circle cx="385.5" cy="297.1" r="0.3"/><circle cx="365.6" cy="291.3" r="0.5"/><circle cx="438.3" cy="308.7" r="0.3"/><circle cx="407.2" cy="309.8" r="0.5"/><circle cx="363.1" cy="241" r="0.4"/><circle cx="415.9" cy="283.7" r="0.5"/><circle cx="433.9" cy="288.9" r="0.5"/><circle cx="392.7" cy="224.7" r="0.5"/><circle cx="432.8" cy="269.9" r="0.5"/><circle cx="341.3" cy="234.4" r="0.5"/><circle cx="366.2" cy="218.2" r="0.5"/><circle cx="407.5" cy="240.2" r="0.5"/><circle cx="394.3" cy="309.6" r="0.4"/><circle cx="390.2" cy="309" r="0.4"/><circle cx="348.1" cy="280.6" r="0.5"/><circle cx="395.5" cy="298.3" r="0.3"/><circle cx="426.9" cy="253.7" r="0.5"/><circle cx="427.2" cy="273.9" r="0.5"/><circle cx="338.3" cy="271.1" r="0.3"/><circle cx="378.3" cy="240.8" r="0.5"/><circle cx="339.2" cy="230.8" r="0.5"/><circle cx="362.1" cy="278.8" r="0.4"/><circle cx="358" cy="233.4" r="0.3"/><circle cx="355.8" cy="273.2" r="0.4"/><circle cx="341.6" cy="232.5" r="0.4"/><circle cx="382.4" cy="306.9" r="0.5"/><circle cx="348" cy="258.8" r="0.5"/><circle cx="426.1" cy="237.2" r="0.4"/><circle cx="438.8" cy="307.9" r="0.5"/><circle cx="432.4" cy="252.5" r="0.4"/><circle cx="424.2" cy="240.8" r="0.5"/><circle cx="411" cy="314.6" r="0.5"/><circle cx="436.7" cy="276.4" r="0.3"/><circle cx="361.9" cy="312.2" r="0.4"/><circle cx="379.9" cy="299.6" r="0.3"/><circle cx="441.1" cy="269.8" r="0.4"/><circle cx="367.9" cy="226.8" r="0.3"/><circle cx="416" cy="298.5" r="0.3"/><circle cx="391.3" cy="227.2" r="0.3"/><circle cx="380.4" cy="299.5" r="0.3"/><circle cx="354.1" cy="239.3" r="0.4"/><circle cx="360.8" cy="281.2" r="0.5"/><circle cx="420.2" cy="237.2" r="0.5"/><circle cx="424.1" cy="242.3" r="0.5"/><circle cx="373.4" cy="233.4" r="0.4"/><circle cx="417.5" cy="253.2" r="0.3"/><circle cx="379.8" cy="232.4" r="0.5"/><circle cx="425.9" cy="298.2" r="0.4"/><circle cx="444.9" cy="273.3" r="0.5"/><circle cx="337.4" cy="264.5" r="0.5"/><circle cx="388.4" cy="211.1" r="0.5"/><circle cx="386.7" cy="241.7" r="0.4"/><circle cx="402.1" cy="234.7" r="0.4"/><circle cx="396.2" cy="212.9" r="0.5"/><circle cx="342.2" cy="274.2" r="0.4"/><circle cx="343.1" cy="234.8" r="0.5"/><circle cx="375.5" cy="237.2" r="0.5"/><circle cx="435" cy="298.7" r="0.4"/><circle cx="361.6" cy="290" r="0.4"/><circle cx="391.5" cy="225.5" r="0.4"/><circle cx="369.2" cy="305.8" r="0.4"/><circle cx="354.1" cy="258" r="0.4"/><circle cx="349.4" cy="276.6" r="0.5"/><circle cx="439.1" cy="256.4" r="0.5"/><circle cx="409.6" cy="224.8" r="0.3"/><circle cx="417.8" cy="259.4" r="0.5"/><circle cx="382.7" cy="300.9" r="0.5"/><circle cx="360.2" cy="237" r="0.4"/><circle cx="359.4" cy="280.2" r="0.5"/><circle cx="381.3" cy="306" r="0.5"/><circle cx="392.1" cy="309.6" r="0.4"/><circle cx="430.8" cy="248.8" r="0.4"/><circle cx="341.7" cy="240.5" r="0.5"/><circle cx="408.9" cy="237.7" r="0.4"/><circle cx="413.1" cy="226" r="0.4"/><circle cx="439.5" cy="282.2" r="0.5"/><circle cx="427.3" cy="261.7" r="0.5"/><circle cx="439.4" cy="286.6" r="0.3"/><circle cx="402.3" cy="231" r="0.4"/><circle cx="403.7" cy="292.6" r="0.4"/><circle cx="346" cy="252.6" r="0.3"/><circle cx="394.9" cy="296.7" r="0.4"/><circle cx="359" cy="282.4" r="0.5"/><circle cx="454.5" cy="287.9" r="0.3"/><circle cx="396.9" cy="226.6" r="0.4"/><circle cx="421" cy="306.3" r="0.5"/><circle cx="382.3" cy="235.9" r="0.5"/><circle cx="416.5" cy="237.3" r="0.4"/><circle cx="431.8" cy="292.7" r="0.3"/><circle cx="351.5" cy="300.9" r="0.4"/><circle cx="429" cy="233" r="0.4"/><circle cx="437.7" cy="238.9" r="0.5"/><circle cx="355.1" cy="297.1" r="0.5"/><circle cx="372.5" cy="292.1" r="0.4"/><circle cx="389.7" cy="231.4" r="0.5"/><circle cx="367.8" cy="310.9" r="0.3"/><circle cx="421.2" cy="238.1" r="0.5"/><circle cx="363.8" cy="288.2" r="0.4"/><circle cx="441.5" cy="263.3" r="0.5"/><circle cx="378.8" cy="275" r="0.5"/><circle cx="390.2" cy="301.8" r="0.3"/><circle cx="433.3" cy="265.1" r="0.5"/><circle cx="340.4" cy="239.8" r="0.4"/><circle cx="381.9" cy="284.1" r="0.5"/><circle cx="394.4" cy="289.4" r="0.4"/><circle cx="400.2" cy="244.7" r="0.5"/><circle cx="398.1" cy="231.5" r="0.3"/><circle cx="402.4" cy="229.1" r="0.5"/><circle cx="434" cy="299.1" r="0.3"/><circle cx="413.5" cy="227.6" r="0.4"/><circle cx="375.5" cy="288.1" r="0.5"/><circle cx="428" cy="299.9" r="0.3"/><circle cx="449.2" cy="262.6" r="0.4"/><circle cx="436.6" cy="289.2" r="0.4"/><circle cx="454.9" cy="296.2" r="0.4"/><circle cx="419.4" cy="254.3" r="0.4"/><circle cx="407.9" cy="218.2" r="0.4"/><circle cx="415.8" cy="315.2" r="0.5"/><circle cx="349.2" cy="279" r="0.4"/><circle cx="435.6" cy="286.5" r="0.5"/><circle cx="420.4" cy="245.5" r="0.5"/><circle cx="420.4" cy="304.4" r="0.5"/><circle cx="459" cy="272.8" r="0.5"/><circle cx="379.5" cy="310.6" r="0.3"/><circle cx="368.6" cy="236.8" r="0.4"/><circle cx="384.5" cy="290.5" r="0.5"/><circle cx="437.7" cy="259.4" r="0.4"/><circle cx="349.5" cy="231.7" r="0.5"/><circle cx="425.4" cy="256.1" r="0.5"/><circle cx="337.6" cy="269.3" r="0.5"/><circle cx="338" cy="261.7" r="0.4"/><circle cx="375.5" cy="237.3" r="0.4"/><circle cx="361.4" cy="240.9" r="0.5"/><circle cx="351.5" cy="255.2" r="0.4"/><circle cx="411.2" cy="238.4" r="0.5"/><circle cx="439.2" cy="260.4" r="0.4"/><circle cx="411.9" cy="242.1" r="0.4"/><circle cx="340.5" cy="247.5" r="0.4"/><circle cx="362.6" cy="229" r="0.3"/><circle cx="444" cy="254.8" r="0.4"/><circle cx="374.3" cy="226.4" r="0.4"/><circle cx="421" cy="307.5" r="0.4"/><circle cx="374" cy="234.8" r="0.5"/><circle cx="419.9" cy="291.6" r="0.4"/><circle cx="435.3" cy="278.8" r="0.3"/><circle cx="362.9" cy="286" r="0.5"/><circle cx="342.9" cy="276.3" r="0.3"/><circle cx="387.1" cy="292.3" r="0.5"/><circle cx="349.7" cy="271.1" r="0.5"/><circle cx="449.7" cy="254.2" r="0.4"/><circle cx="361.9" cy="287" r="0.4"/><circle cx="378.2" cy="216.7" r="0.5"/><circle cx="406.8" cy="240.7" r="0.4"/><circle cx="412.4" cy="226.3" r="0.4"/><circle cx="398.7" cy="308.6" r="0.3"/><circle cx="421.7" cy="295.8" r="0.5"/><circle cx="398.7" cy="223.9" r="0.4"/><circle cx="436.4" cy="293.5" r="0.4"/><circle cx="432.4" cy="252.2" r="0.5"/><circle cx="360.2" cy="291.7" r="0.5"/><circle cx="381.9" cy="294" r="0.4"/><circle cx="362.5" cy="286.6" r="0.4"/><circle cx="422.4" cy="306" r="0.4"/><circle cx="422.8" cy="299.1" r="0.5"/><circle cx="344.1" cy="238.4" r="0.3"/><circle cx="406" cy="278.9" r="0.5"/><circle cx="354.2" cy="290.7" r="0.3"/><circle cx="403.6" cy="315.8" r="0.5"/><circle cx="380.7" cy="299.1" r="0.5"/><circle cx="435.7" cy="291.3" r="0.4"/><circle cx="352.8" cy="233.4" r="0.4"/><circle cx="423.2" cy="298.5" r="0.4"/><circle cx="357.8" cy="244.5" r="0.3"/><circle cx="418.1" cy="307.6" r="0.4"/><circle cx="381.6" cy="220.7" r="0.5"/><circle cx="348.2" cy="227.2" r="0.5"/><circle cx="354.2" cy="264.8" r="0.5"/><circle cx="411.3" cy="223.7" r="0.3"/><circle cx="373" cy="300.4" r="0.5"/><circle cx="395.1" cy="326" r="0.5"/><circle cx="369.5" cy="302" r="0.4"/><circle cx="374.7" cy="296.7" r="0.5"/><circle cx="356.5" cy="245.9" r="0.5"/><circle cx="390.1" cy="228.7" r="0.5"/><circle cx="344.3" cy="246.2" r="0.4"/><circle cx="451.6" cy="231.2" r="0.5"/><circle cx="410.9" cy="311.6" r="0.5"/><circle cx="372.4" cy="229.1" r="0.4"/><circle cx="453.8" cy="282.4" r="0.4"/><circle cx="381" cy="232.5" r="0.5"/><circle cx="427" cy="291.6" r="0.3"/><circle cx="336.5" cy="270.8" r="0.4"/><circle cx="408.3" cy="239.7" r="0.5"/><circle cx="369.3" cy="313.4" r="0.3"/><circle cx="403.2" cy="275.6" r="0.5"/><circle cx="360" cy="223.2" r="0.4"/><circle cx="381" cy="293.2" r="0.3"/><circle cx="344.1" cy="277.9" r="0.4"/><circle cx="401.7" cy="305.6" r="0.5"/><circle cx="394.3" cy="295.7" r="0.4"/><circle cx="356.7" cy="259.3" r="0.5"/><circle cx="340.8" cy="241.8" r="0.5"/><circle cx="404.6" cy="289.6" r="0.5"/><circle cx="441.5" cy="314.8" r="0.4"/><circle cx="388" cy="291.5" r="0.5"/><circle cx="340" cy="242.5" r="0.3"/><circle cx="369.2" cy="237.7" r="0.3"/><circle cx="417.9" cy="292" r="0.5"/><circle cx="423.1" cy="257.5" r="0.3"/><circle cx="388.1" cy="289.3" r="0.5"/><circle cx="364.5" cy="290.4" r="0.4"/><circle cx="425.7" cy="300.8" r="0.4"/><circle cx="351.3" cy="285.5" r="0.5"/><circle cx="431.9" cy="285.2" r="0.5"/><circle cx="364.3" cy="274.7" r="0.3"/><circle cx="377.1" cy="292.6" r="0.4"/><circle cx="429.8" cy="286.4" r="0.5"/><circle cx="337.6" cy="303.7" r="0.4"/><circle cx="430.4" cy="294.7" r="0.4"/><circle cx="414.8" cy="239" r="0.4"/><circle cx="343.9" cy="223" r="0.5"/><circle cx="432" cy="223.1" r="0.5"/><circle cx="409.8" cy="226.3" r="0.4"/><circle cx="413" cy="246.4" r="0.5"/><circle cx="389" cy="232" r="0.3"/><circle cx="434.5" cy="275.8" r="0.5"/><circle cx="341.8" cy="248.7" r="0.3"/><circle cx="424.9" cy="255.5" r="0.4"/><circle cx="338.4" cy="232.9" r="0.4"/><circle cx="376.2" cy="227.6" r="0.4"/><circle cx="382.4" cy="291.5" r="0.4"/><circle cx="339.5" cy="234.8" r="0.3"/><circle cx="389.5" cy="305.8" r="0.4"/><circle cx="418.6" cy="296.8" r="0.4"/><circle cx="438.3" cy="263.3" r="0.5"/><circle cx="416.4" cy="221.8" r="0.5"/><circle cx="398.4" cy="289.5" r="0.5"/><circle cx="396.9" cy="231.2" r="0.4"/><circle cx="425.6" cy="315.2" r="0.5"/><circle cx="362.6" cy="244.3" r="0.3"/><circle cx="438.4" cy="260.3" r="0.4"/><circle cx="371.9" cy="304.6" r="0.4"/><circle cx="414.1" cy="255.5" r="0.3"/><circle cx="366.6" cy="324" r="0.5"/><circle cx="382.9" cy="227" r="0.4"/><circle cx="360.5" cy="287.9" r="0.5"/><circle cx="439.4" cy="277.3" r="0.5"/><circle cx="360.7" cy="224.2" r="0.4"/><circle cx="353.1" cy="256.4" r="0.3"/><circle cx="441.4" cy="306.7" r="0.5"/><circle cx="431.9" cy="296.5" r="0.4"/><circle cx="426.8" cy="242.3" r="0.4"/><circle cx="440.7" cy="272.4" r="0.4"/><circle cx="398.4" cy="291" r="0.5"/><circle cx="393" cy="232" r="0.3"/><circle cx="341.9" cy="252.1" r="0.4"/><circle cx="373.9" cy="283.5" r="0.3"/><circle cx="426.3" cy="243.2" r="0.4"/><circle cx="422" cy="266.2" r="0.5"/><circle cx="421.3" cy="242.9" r="0.5"/><circle cx="359.5" cy="303.7" r="0.5"/><circle cx="338.4" cy="248.6" r="0.4"/><circle cx="439.3" cy="263.1" r="0.5"/><circle cx="449.5" cy="308.5" r="0.3"/><circle cx="422.6" cy="248.8" r="0.3"/><circle cx="362.5" cy="237.8" r="0.3"/><circle cx="416" cy="294" r="0.4"/><circle cx="382.8" cy="229.1" r="0.3"/><circle cx="404.2" cy="295.2" r="0.4"/><circle cx="353.1" cy="288.7" r="0.4"/><circle cx="344.7" cy="298.5" r="0.4"/><circle cx="433.5" cy="247.9" r="0.5"/><circle cx="399.7" cy="305.1" r="0.5"/><circle cx="417.1" cy="302" r="0.5"/><circle cx="403.6" cy="291.8" r="0.3"/><circle cx="429" cy="293.1" r="0.5"/><circle cx="373" cy="312.6" r="0.5"/><circle cx="405.8" cy="236.6" r="0.3"/><circle cx="416.6" cy="249.9" r="0.4"/><circle cx="422.3" cy="306.9" r="0.3"/><circle cx="415.7" cy="320" r="0.5"/><circle cx="367" cy="240.5" r="0.5"/><circle cx="381.4" cy="235.1" r="0.4"/><circle cx="361.9" cy="306.1" r="0.4"/><circle cx="406.4" cy="302.1" r="0.4"/><circle cx="405.7" cy="236.7" r="0.4"/><circle cx="408.4" cy="296.4" r="0.4"/><circle cx="428.3" cy="301.6" r="0.3"/><circle cx="429.2" cy="281.5" r="0.5"/><circle cx="350.2" cy="243.6" r="0.4"/><circle cx="347.5" cy="245.4" r="0.5"/><circle cx="366" cy="289.8" r="0.4"/><circle cx="388.6" cy="301.6" r="0.5"/><circle cx="388.9" cy="294" r="0.5"/><circle cx="429.9" cy="300.4" r="0.4"/><circle cx="344.2" cy="222.2" r="0.5"/><circle cx="429.9" cy="288.2" r="0.5"/><circle cx="350.7" cy="228.1" r="0.4"/><circle cx="412.5" cy="236.2" r="0.3"/><circle cx="403.3" cy="288.1" r="0.3"/><circle cx="414.8" cy="305.5" r="0.5"/><circle cx="438.7" cy="240.5" r="0.3"/><circle cx="433.3" cy="302.1" r="0.3"/><circle cx="415.4" cy="307.9" r="0.5"/><circle cx="430.5" cy="248.7" r="0.4"/><circle cx="431.3" cy="295.1" r="0.4"/><circle cx="344.2" cy="251.3" r="0.5"/><circle cx="355.5" cy="320.9" r="0.4"/><circle cx="405.2" cy="282.5" r="0.5"/><circle cx="376.7" cy="238.2" r="0.4"/><circle cx="390.2" cy="243.8" r="0.3"/><circle cx="405.4" cy="230.1" r="0.5"/><circle cx="434.8" cy="240.3" r="0.3"/><circle cx="343.2" cy="271.2" r="0.4"/><circle cx="420.7" cy="242.1" r="0.4"/><circle cx="342.7" cy="225.4" r="0.4"/><circle cx="361" cy="297.6" r="0.4"/><circle cx="389.9" cy="236.5" r="0.5"/><circle cx="439.5" cy="297.6" r="0.4"/><circle cx="419.3" cy="310.1" r="0.4"/><circle cx="353.2" cy="267.7" r="0.4"/><circle cx="372.4" cy="297.5" r="0.5"/><circle cx="438.2" cy="282" r="0.4"/><circle cx="425.3" cy="233.3" r="0.4"/><circle cx="338.7" cy="257.2" r="0.5"/><circle cx="371" cy="225.4" r="0.4"/><circle cx="423.5" cy="284.2" r="0.3"/><circle cx="405.7" cy="229.1" r="0.5"/><circle cx="436.1" cy="246.9" r="0.5"/><circle cx="364.5" cy="223.2" r="0.5"/><circle cx="350.1" cy="257.6" r="0.5"/><circle cx="390.8" cy="295.7" r="0.5"/><circle cx="343.7" cy="274.9" r="0.4"/><circle cx="430.9" cy="255.8" r="0.5"/><circle cx="424.7" cy="301.1" r="0.5"/><circle cx="406.7" cy="324" r="0.4"/><circle cx="348.7" cy="253.3" r="0.5"/><circle cx="356.9" cy="243.7" r="0.5"/><circle cx="374.8" cy="300.8" r="0.4"/><circle cx="411.9" cy="222.4" r="0.5"/><circle cx="367.3" cy="285.8" r="0.5"/><circle cx="351.9" cy="230.6" r="0.4"/><circle cx="449.2" cy="281.1" r="0.5"/><circle cx="391.2" cy="307.2" r="0.4"/><circle cx="369.7" cy="234.8" r="0.4"/><circle cx="369.4" cy="229.3" r="0.5"/><circle cx="359" cy="279.8" r="0.5"/><circle cx="425.7" cy="248.5" r="0.5"/><circle cx="442" cy="272.9" r="0.4"/><circle cx="458.5" cy="260.2" r="0.4"/><circle cx="377.4" cy="215.8" r="0.3"/><circle cx="389.9" cy="286.4" r="0.3"/><circle cx="339.6" cy="276.1" r="0.4"/><circle cx="402.7" cy="231.4" r="0.5"/><circle cx="395.8" cy="299.7" r="0.4"/><circle cx="367.2" cy="318.5" r="0.4"/><circle cx="419.5" cy="228.1" r="0.3"/><circle cx="419.4" cy="240.4" r="0.3"/><circle cx="342.4" cy="269.2" r="0.4"/><circle cx="364.1" cy="299.1" r="0.4"/><circle cx="447.4" cy="259.8" r="0.5"/><circle cx="362" cy="251.4" r="0.4"/><circle cx="337.4" cy="227.3" r="0.4"/><circle cx="402.8" cy="236.6" r="0.4"/><circle cx="401.2" cy="293.7" r="0.4"/><circle cx="440.9" cy="283.2" r="0.5"/><circle cx="431.4" cy="244.5" r="0.3"/><circle cx="432.4" cy="241.3" r="0.4"/></g>
</g>
<rect x="347.4" y="237" width="42.1" height="31.4" stroke="#231f20" stroke-width="1.6" fill="none"/>
<rect x="347.4" y="277" width="42.1" height="34.4" stroke="#231f20" stroke-width="1" fill="none"/>
<rect x="405.3" y="276.5" width="43.3" height="34.9" stroke="#231f20" stroke-width="1" fill="none"/>
<rect x="48" y="28.9" width="128" height="127.6" stroke="#231f20" stroke-width="1.1" fill="none"/>
<rect x="191.6" y="28.9" width="128" height="127.6" stroke="#231f20" stroke-width="1.1" fill="none"/>
<rect x="335" y="28.9" width="128.2" height="127.6" stroke="#231f20" stroke-width="1.1" fill="none"/>
<rect x="47.5" y="204.2" width="128.5" height="127.8" stroke="#231f20" stroke-width="1.1" fill="none"/>
<rect x="191.5" y="204.2" width="128.1" height="127.8" stroke="#231f20" stroke-width="1.1" fill="none"/>
<rect x="334.5" y="204.2" width="128.7" height="127.8" stroke="#231f20" stroke-width="1.1" fill="none"/>
<path d="M125.3 64 L203 63.8" stroke="#231f20" stroke-width="0.9" fill="none"/>
<path d="M209 63.8 L203 66.3 L203 61.3 Z" fill="#231f20"/>
<path d="M233.7 121.3 L352 121.3" stroke="#231f20" stroke-width="0.9" fill="none"/>
<path d="M357.5 121.3 L351.5 123.8 L351.5 118.8 Z" fill="#231f20"/>
<path d="M145 297.4 L245 286" stroke="#231f20" stroke-width="0.9" fill="none"/>
<path d="M250.7 285.3 L245 288.4 L244.5 283.5 Z" fill="#231f20"/>
<path d="M317.3 245.6 L341 245.6" stroke="#231f20" stroke-width="0.9" fill="none"/>
<path d="M347 245.6 L341 248.1 L341 243.1 Z" fill="#231f20"/>
<path d="M305.9 285.2 L305.9 302 L341 302" stroke="#231f20" stroke-width="0.9" fill="none"/>
<path d="M347 302 L341 304.5 L341 299.5 Z" fill="#231f20"/>
<path d="M299.6 285.2 L299.6 323.8 L421.8 323.8 L421.8 318" stroke="#231f20" stroke-width="0.9" fill="none"/>
<path d="M421.8 312 L424.3 318 L419.3 318 Z" fill="#231f20"/>
<text x="113.5" y="22.8" font-size="14.3" text-anchor="middle" font-weight="bold" textLength="35" lengthAdjust="spacingAndGlyphs">Total</text>
<text x="260.3" y="23.3" font-size="14.5" text-anchor="middle" font-weight="bold">Single cells</text>
<text x="404.2" y="23.3" font-size="14.5" text-anchor="middle" font-weight="bold">Single cells</text>
<text x="99.5" y="198.6" font-size="14.7" text-anchor="middle" font-weight="bold">Lineage negative/Live</text>
<text x="190" y="197" font-size="14.5" font-weight="bold">Lineage<tspan font-size="9" dy="-5">-</tspan><tspan dy="5">SCA1</tspan><tspan font-size="9" dy="-5">+</tspan><tspan dy="5">KIT</tspan><tspan font-size="9" dy="-5">+</tspan></text>
<text x="402" y="197" font-size="14.5" text-anchor="middle" font-weight="bold">SLAM factors</text>
<text x="111.3" y="172.5" font-size="14.3" text-anchor="middle">FSC-A</text>
<text x="252" y="172.3" font-size="14.3" text-anchor="middle">SSC-W</text>
<text x="390" y="172.3" font-size="14.3" text-anchor="middle">FSC-W</text>
<text x="111" y="350" font-size="14.3" text-anchor="middle">SSC-A</text>
<text x="254.5" y="349" font-size="14.3" text-anchor="middle">SCA1</text>
<text x="389.4" y="349" font-size="14.3" text-anchor="middle">CD150</text>
<text transform="translate(44.7 88.7) rotate(-90)" x="0" y="0" font-size="14.3" text-anchor="middle">SSC-A</text>
<text transform="translate(189.7 88) rotate(-90)" x="0" y="0" font-size="14.3" text-anchor="middle">SSC-H</text>
<text transform="translate(333 88) rotate(-90)" x="0" y="0" font-size="14.3" text-anchor="middle">FSC-H</text>
<text transform="translate(45 264) rotate(-90)" x="0" y="0" font-size="14.3" text-anchor="middle">lineage</text>
<text transform="translate(188.6 267.5) rotate(-90)" x="0" y="0" font-size="14.3" text-anchor="middle">KIT</text>
<text transform="translate(332.5 265) rotate(-90)" x="0" y="0" font-size="14.3" text-anchor="middle">CD48</text>
<text x="353.2" y="232.8" font-size="13.8" font-weight="bold">MPP</text>
<text x="399.7" y="271.9" font-size="13.9" font-weight="bold">LT-HSC</text>
<text x="343.2" y="323.5" font-size="13.9" font-weight="bold">ST-HSC</text>
<text x="537" y="21.2" font-size="23.5" font-weight="bold" textLength="16.1" lengthAdjust="spacingAndGlyphs">B</text>
<circle cx="608.4" cy="9.2" r="6.9" fill="#231f20"/>
<text x="626.7" y="13.4" font-size="14.6">young</text>
<circle cx="705.8" cy="9.2" r="6.5" fill="none" stroke="#231f20" stroke-width="1.4"/>
<text x="724" y="13.4" font-size="14.6">old</text>
<line x1="625" y1="69" x2="625" y2="292" stroke="#231f20" stroke-width="1.3"/>
<line x1="624.4" y1="291.5" x2="958.8" y2="291.5" stroke="#231f20" stroke-width="1.3"/>
<line x1="618" y1="291.5" x2="625" y2="291.5" stroke="#231f20" stroke-width="1.4"/>
<text x="611" y="297.3" font-size="13.8" text-anchor="end">0</text>
<line x1="618" y1="236" x2="625" y2="236" stroke="#231f20" stroke-width="1.4"/>
<text x="611" y="241.8" font-size="13.8" text-anchor="end">0.1</text>
<line x1="618" y1="180.5" x2="625" y2="180.5" stroke="#231f20" stroke-width="1.4"/>
<text x="611" y="186.3" font-size="13.8" text-anchor="end">0.2</text>
<line x1="618" y1="125" x2="625" y2="125" stroke="#231f20" stroke-width="1.4"/>
<text x="611" y="130.8" font-size="13.8" text-anchor="end">0.3</text>
<line x1="618" y1="69.5" x2="625" y2="69.5" stroke="#231f20" stroke-width="1.4"/>
<text x="611" y="75.3" font-size="13.8" text-anchor="end">0.4</text>
<line x1="680.6" y1="291.5" x2="680.6" y2="299" stroke="#231f20" stroke-width="1.4"/>
<text x="683.6" y="318.5" font-size="16.8" text-anchor="middle" textLength="58.5" lengthAdjust="spacingAndGlyphs">LT-HSC</text>
<line x1="791.3" y1="291.5" x2="791.3" y2="299" stroke="#231f20" stroke-width="1.4"/>
<text x="794.3" y="318.5" font-size="16.8" text-anchor="middle" textLength="62" lengthAdjust="spacingAndGlyphs">ST-HSC</text>
<line x1="902.5" y1="291.5" x2="902.5" y2="299" stroke="#231f20" stroke-width="1.4"/>
<text x="905.5" y="318.5" font-size="16.8" text-anchor="middle" textLength="35.5" lengthAdjust="spacingAndGlyphs">MPP</text>
<text transform="translate(580.6 185.6) rotate(-90)" x="0" y="0" font-size="19.8" text-anchor="middle" textLength="200.5" lengthAdjust="spacingAndGlyphs">Total bone marrow (%)</text>
<text x="678.8" y="55.3" font-size="14.5" text-anchor="middle">***</text>
<line x1="658" y1="67.4" x2="699" y2="67.4" stroke="#231f20" stroke-width="1.4"/>
<text x="792" y="55.3" font-size="14.5" text-anchor="middle">***</text>
<line x1="771" y1="67.4" x2="812" y2="67.4" stroke="#231f20" stroke-width="1.4"/>
<circle cx="656" cy="256" r="6.8"/>
<circle cx="662" cy="262" r="6.8"/>
<circle cx="658" cy="266" r="6.8"/>
<circle cx="665" cy="264" r="6.8"/>
<circle cx="659" cy="264" r="6.8"/>
<line x1="645.6" y1="263.3" x2="673.4" y2="263.3" stroke="#231f20" stroke-width="1.3"/>
<circle cx="701.5" cy="225.5" r="6.4" fill="none" stroke="#231f20" stroke-width="1.3"/>
<circle cx="696" cy="232" r="6.4" fill="none" stroke="#231f20" stroke-width="1.3"/>
<circle cx="707" cy="232" r="6.4" fill="none" stroke="#231f20" stroke-width="1.3"/>
<circle cx="697" cy="239" r="6.4" fill="none" stroke="#231f20" stroke-width="1.3"/>
<circle cx="706" cy="241" r="6.4" fill="none" stroke="#231f20" stroke-width="1.3"/>
<circle cx="701.5" cy="250.5" r="6.4" fill="none" stroke="#231f20" stroke-width="1.3"/>
<line x1="687.8" y1="235" x2="715" y2="235" stroke="#231f20" stroke-width="1.3"/>
<line x1="701.5" y1="229" x2="701.5" y2="243" stroke="#231f20" stroke-width="1.4"/>
<line x1="696" y1="229" x2="707" y2="229" stroke="#231f20" stroke-width="1.4"/>
<line x1="696" y1="243" x2="707" y2="243" stroke="#231f20" stroke-width="1.4"/>
<circle cx="767" cy="283.5" r="6.8"/>
<circle cx="775" cy="283" r="6.8"/>
<circle cx="770" cy="285.5" r="6.8"/>
<circle cx="776" cy="285" r="6.8"/>
<circle cx="767" cy="285.5" r="6.8"/>
<line x1="757" y1="284.3" x2="784.6" y2="284.3" stroke="#231f20" stroke-width="1.3"/>
<circle cx="812" cy="237.5" r="6.4" fill="none" stroke="#231f20" stroke-width="1.3"/>
<circle cx="808" cy="278" r="6.4" fill="none" stroke="#231f20" stroke-width="1.3"/>
<circle cx="815" cy="277" r="6.4" fill="none" stroke="#231f20" stroke-width="1.3"/>
<circle cx="812" cy="281" r="6.4" fill="none" stroke="#231f20" stroke-width="1.3"/>
<circle cx="818" cy="279" r="6.4" fill="none" stroke="#231f20" stroke-width="1.3"/>
<circle cx="806" cy="275" r="6.4" fill="none" stroke="#231f20" stroke-width="1.3"/>
<circle cx="813" cy="274" r="6.4" fill="none" stroke="#231f20" stroke-width="1.3"/>
<line x1="798.8" y1="270" x2="826.3" y2="270" stroke="#231f20" stroke-width="1.3"/>
<line x1="812" y1="254.3" x2="812" y2="286.3" stroke="#231f20" stroke-width="1.4"/>
<line x1="805.5" y1="254.3" x2="819.5" y2="254.3" stroke="#231f20" stroke-width="1.4"/>
<line x1="805.5" y1="286.3" x2="819.5" y2="286.3" stroke="#231f20" stroke-width="1.4"/>
<line x1="882" y1="125" x2="882" y2="183" stroke="#231f20" stroke-width="1.4"/>
<line x1="875" y1="183" x2="888.8" y2="183" stroke="#231f20" stroke-width="1.4"/>
<line x1="868" y1="154.3" x2="895.5" y2="154.3" stroke="#231f20" stroke-width="1.3"/>
<circle cx="875" cy="130.5" r="6.8"/>
<circle cx="882" cy="125" r="6.8"/>
<circle cx="889" cy="147.5" r="6.8"/>
<circle cx="889" cy="175" r="6.8"/>
<circle cx="875" cy="192" r="6.8"/>
<line x1="923.3" y1="123.8" x2="923.3" y2="230.8" stroke="#231f20" stroke-width="1.4"/>
<line x1="916" y1="123.8" x2="930.5" y2="123.8" stroke="#231f20" stroke-width="1.4"/>
<line x1="916" y1="230.8" x2="930.5" y2="230.8" stroke="#231f20" stroke-width="1.4"/>
<line x1="909.5" y1="177.5" x2="937.5" y2="177.5" stroke="#231f20" stroke-width="1.3"/>
<circle cx="923.3" cy="86.3" r="6.4" fill="none" stroke="#231f20" stroke-width="1.3"/>
<circle cx="923.3" cy="175.5" r="6.4" fill="none" stroke="#231f20" stroke-width="1.3"/>
<circle cx="919" cy="197.5" r="6.4" fill="none" stroke="#231f20" stroke-width="1.3"/>
<circle cx="922.5" cy="213.8" r="6.4" fill="none" stroke="#231f20" stroke-width="1.3"/>
<circle cx="928" cy="213.8" r="6.4" fill="none" stroke="#231f20" stroke-width="1.3"/>
<text x="0" y="393.8" font-size="23.5" font-weight="bold" textLength="16.5" lengthAdjust="spacingAndGlyphs">C</text>
<line x1="80.2" y1="396" x2="80.2" y2="667.6" stroke="#231f20" stroke-width="1.3"/>
<line x1="79.6" y1="667" x2="405.8" y2="667" stroke="#231f20" stroke-width="1.3"/>
<line x1="75" y1="614.6" x2="80.2" y2="614.6" stroke="#231f20" stroke-width="1.2"/>
<text x="72.6" y="621.7" font-size="17.3" text-anchor="end">0</text>
<line x1="159" y1="667" x2="159" y2="672.5" stroke="#231f20" stroke-width="1.2"/>
<text x="159" y="691" font-size="16.5" text-anchor="middle">0</text>
<line x1="75" y1="527" x2="80.2" y2="527" stroke="#231f20" stroke-width="1.2"/>
<text x="72.6" y="534.1" font-size="17.3" text-anchor="end">2</text>
<line x1="282.2" y1="667" x2="282.2" y2="672.5" stroke="#231f20" stroke-width="1.2"/>
<text x="282.2" y="691" font-size="16.5" text-anchor="middle">2</text>
<line x1="75" y1="439.4" x2="80.2" y2="439.4" stroke="#231f20" stroke-width="1.2"/>
<text x="72.6" y="446.5" font-size="17.3" text-anchor="end">4</text>
<line x1="405.4" y1="667" x2="405.4" y2="672.5" stroke="#231f20" stroke-width="1.2"/>
<text x="405.4" y="691" font-size="16.5" text-anchor="middle">4</text>
<text transform="translate(44.5 540) rotate(-90)" x="0" y="0" font-size="20.6" text-anchor="middle">G2/M score</text>
<text x="240.6" y="711.5" font-size="19.8" text-anchor="middle">G1/S score</text>
<line x1="180.5" y1="396" x2="180.5" y2="667" stroke="#231f20" stroke-width="1" stroke-dasharray="6 3.5"/>
<line x1="80.2" y1="598.5" x2="405.5" y2="598.5" stroke="#231f20" stroke-width="1" stroke-dasharray="6 3.5"/>
<g fill="#231f20"><circle cx="164.5" cy="425.6" r="2.5"/><circle cx="159" cy="442.7" r="2.5"/><circle cx="211.7" cy="427" r="2.5"/><circle cx="204.7" cy="444.5" r="2.5"/><circle cx="198.5" cy="450" r="2.5"/><circle cx="141.7" cy="518" r="2.5"/><circle cx="254.1" cy="409.6" r="2.5"/><circle cx="267.6" cy="412.9" r="2.5"/><circle cx="272.9" cy="419.6" r="2.5"/><circle cx="298.5" cy="423.6" r="2.5"/><circle cx="332.1" cy="411" r="2.5"/><circle cx="211.1" cy="426.8" r="2.5"/><circle cx="260.8" cy="425.8" r="2.5"/><circle cx="256" cy="433.6" r="2.5"/><circle cx="274.3" cy="437.9" r="2.5"/><circle cx="286.4" cy="438.9" r="2.5"/><circle cx="325.4" cy="435.7" r="2.5"/><circle cx="325.4" cy="438.9" r="2.5"/><circle cx="333.4" cy="433.6" r="2.5"/><circle cx="243.4" cy="442.4" r="2.5"/><circle cx="248.7" cy="443.2" r="2.5"/><circle cx="283.7" cy="441.1" r="2.5"/><circle cx="371.1" cy="451.3" r="2.5"/><circle cx="316" cy="470.7" r="2.5"/><circle cx="328.6" cy="476" r="2.5"/><circle cx="355" cy="477.4" r="2.5"/><circle cx="357.6" cy="477.4" r="2.5"/><circle cx="370.5" cy="477.4" r="2.5"/><circle cx="348.2" cy="482.8" r="2.5"/><circle cx="376.5" cy="494.9" r="2.5"/><circle cx="380.5" cy="493.5" r="2.5"/><circle cx="383.2" cy="499.7" r="2.5"/><circle cx="389.1" cy="504.3" r="2.5"/><circle cx="316" cy="501.6" r="2.5"/><circle cx="328.9" cy="506.4" r="2.5"/><circle cx="363" cy="505.6" r="2.5"/><circle cx="371.1" cy="515" r="2.5"/><circle cx="391.2" cy="521.8" r="2.5"/><circle cx="392.6" cy="524.4" r="2.5"/><circle cx="398" cy="527.1" r="2.5"/><circle cx="365.7" cy="528.5" r="2.5"/><circle cx="370.5" cy="533.9" r="2.5"/><circle cx="380.5" cy="535.2" r="2.5"/><circle cx="359" cy="541.9" r="2.5"/><circle cx="383.2" cy="554" r="2.5"/><circle cx="385.9" cy="554" r="2.5"/><circle cx="334.8" cy="560.2" r="2.5"/><circle cx="307.4" cy="562.4" r="2.5"/><circle cx="373.8" cy="560.2" r="2.5"/><circle cx="380.5" cy="568.8" r="2.5"/><circle cx="334.8" cy="575.5" r="2.5"/><circle cx="353.6" cy="564.2" r="2.5"/><circle cx="375.1" cy="577.4" r="2.5"/><circle cx="377.8" cy="580.9" r="2.5"/><circle cx="367" cy="581.5" r="2.5"/><circle cx="375.1" cy="587.6" r="2.5"/><circle cx="353.6" cy="589.5" r="2.5"/><circle cx="308.7" cy="585.5" r="2.5"/><circle cx="313.3" cy="585.8" r="2.5"/><circle cx="317.3" cy="589" r="2.5"/><circle cx="330.7" cy="588.2" r="2.5"/><circle cx="250.1" cy="583.1" r="2.5"/><circle cx="288.5" cy="591.7" r="2.5"/><circle cx="345" cy="597.9" r="2.5"/><circle cx="344.2" cy="599.7" r="2.5"/><circle cx="349.6" cy="610" r="2.5"/><circle cx="323.2" cy="611.8" r="2.5"/><circle cx="318.6" cy="614.5" r="2.5"/><circle cx="310.6" cy="613.2" r="2.5"/><circle cx="167" cy="571" r="2.5"/><circle cx="158" cy="577" r="2.5"/><circle cx="186.2" cy="595.2" r="2.5"/><circle cx="195.5" cy="593.5" r="2.5"/><circle cx="191.3" cy="603.4" r="2.5"/><circle cx="193.4" cy="608.6" r="2.5"/><circle cx="197.5" cy="609.6" r="2.5"/><circle cx="191.3" cy="613.8" r="2.5"/><circle cx="188.2" cy="622" r="2.5"/><circle cx="196.5" cy="633.4" r="2.5"/><circle cx="205.8" cy="603.4" r="2.5"/><circle cx="208.9" cy="599.3" r="2.5"/><circle cx="211" cy="607.6" r="2.5"/><circle cx="206.9" cy="612.7" r="2.5"/><circle cx="213.1" cy="617.9" r="2.5"/><circle cx="202.7" cy="622" r="2.5"/><circle cx="199.6" cy="625.1" r="2.5"/><circle cx="203.8" cy="626.2" r="2.5"/><circle cx="214.1" cy="625.1" r="2.5"/><circle cx="215.1" cy="628.3" r="2.5"/><circle cx="220.3" cy="631.4" r="2.5"/><circle cx="207.9" cy="643.8" r="2.5"/><circle cx="217.2" cy="603.4" r="2.5"/><circle cx="219.3" cy="606.5" r="2.5"/><circle cx="224.4" cy="609.6" r="2.5"/><circle cx="227.5" cy="603.4" r="2.5"/><circle cx="226.5" cy="614.8" r="2.5"/><circle cx="224.4" cy="620" r="2.5"/><circle cx="230.6" cy="620" r="2.5"/><circle cx="232.7" cy="626.2" r="2.5"/><circle cx="234.8" cy="609.6" r="2.5"/><circle cx="238.9" cy="617.9" r="2.5"/><circle cx="243" cy="622" r="2.5"/><circle cx="244.1" cy="626.2" r="2.5"/><circle cx="249.3" cy="582.8" r="2.5"/><circle cx="250.3" cy="622" r="2.5"/><circle cx="239.9" cy="638.6" r="2.5"/><circle cx="257.5" cy="593.1" r="2.5"/><circle cx="258.6" cy="597.2" r="2.5"/><circle cx="261.7" cy="602.4" r="2.5"/><circle cx="266.8" cy="604.5" r="2.5"/><circle cx="261.7" cy="615.8" r="2.5"/><circle cx="266.8" cy="620" r="2.5"/><circle cx="267.9" cy="623.1" r="2.5"/><circle cx="272" cy="603.4" r="2.5"/><circle cx="277.2" cy="604.5" r="2.5"/><circle cx="282.3" cy="602.4" r="2.5"/><circle cx="285.5" cy="620" r="2.5"/><circle cx="287.5" cy="591" r="2.5"/><circle cx="167.6" cy="571.4" r="2.5"/><circle cx="158.3" cy="576.5" r="2.5"/><circle cx="176.9" cy="579.6" r="2.5"/><circle cx="178.9" cy="586.9" r="2.5"/><circle cx="167.6" cy="585.9" r="2.5"/><circle cx="174.8" cy="593.1" r="2.5"/><circle cx="184" cy="590" r="2.5"/><circle cx="189" cy="598" r="2.5"/><circle cx="200" cy="616" r="2.5"/><circle cx="222" cy="598" r="2.5"/><circle cx="236" cy="602" r="2.5"/><circle cx="254" cy="610" r="2.5"/><circle cx="290" cy="612" r="2.5"/><circle cx="295" cy="606" r="2.5"/><circle cx="300" cy="616" r="2.5"/><circle cx="305" cy="609" r="2.5"/><circle cx="298" cy="600" r="2.5"/><circle cx="328" cy="604" r="2.5"/><circle cx="336" cy="598" r="2.5"/><circle cx="340" cy="606" r="2.5"/><circle cx="332" cy="612" r="2.5"/><circle cx="315" cy="606" r="2.5"/><circle cx="310" cy="602" r="2.5"/><circle cx="322" cy="598" r="2.5"/><circle cx="276" cy="612" r="2.5"/><circle cx="283" cy="608" r="2.5"/><circle cx="248" cy="604" r="2.5"/><circle cx="252" cy="615" r="2.5"/><circle cx="236" cy="632" r="2.5"/><circle cx="228" cy="628" r="2.5"/><circle cx="184" cy="604" r="2.5"/><circle cx="186" cy="612" r="2.5"/><circle cx="234.8" cy="590.9" r="2.5"/><circle cx="236.4" cy="603.7" r="2.5"/><circle cx="241.4" cy="606.5" r="2.5"/><circle cx="241.9" cy="608.7" r="2.5"/><circle cx="256" cy="613.2" r="2.5"/><circle cx="217.1" cy="607.7" r="2.5"/><circle cx="191.8" cy="617.6" r="2.5"/><circle cx="186" cy="597.7" r="2.5"/><circle cx="297.9" cy="626.2" r="2.5"/><circle cx="254.3" cy="608.8" r="2.5"/><circle cx="199.7" cy="624.2" r="2.5"/><circle cx="188.1" cy="613.2" r="2.5"/><circle cx="203.6" cy="612.1" r="2.5"/><circle cx="236.2" cy="614.5" r="2.5"/><circle cx="233.4" cy="618.6" r="2.5"/><circle cx="257.2" cy="601.9" r="2.5"/><circle cx="240.5" cy="606.2" r="2.5"/><circle cx="214.1" cy="602.6" r="2.5"/><circle cx="299.7" cy="631.1" r="2.5"/><circle cx="265.2" cy="611.5" r="2.5"/><circle cx="218.5" cy="613.1" r="2.5"/><circle cx="189.4" cy="620.2" r="2.5"/><circle cx="272.2" cy="596.3" r="2.5"/><circle cx="227" cy="623.3" r="2.5"/><circle cx="295" cy="612.2" r="2.5"/><circle cx="206" cy="611.7" r="2.5"/><circle cx="289.3" cy="584.5" r="2.5"/><circle cx="228.3" cy="617.3" r="2.5"/><circle cx="189.7" cy="600.1" r="2.5"/><circle cx="213.1" cy="599.4" r="2.5"/><circle cx="191.4" cy="599.2" r="2.5"/><circle cx="271.2" cy="634.4" r="2.5"/><circle cx="195" cy="612.1" r="2.5"/><circle cx="188.1" cy="616.6" r="2.5"/><circle cx="275.8" cy="617.6" r="2.5"/><circle cx="234.2" cy="623.5" r="2.5"/><circle cx="203.7" cy="611.4" r="2.5"/><circle cx="257.6" cy="606.7" r="2.5"/><circle cx="194.9" cy="605.9" r="2.5"/><circle cx="213.1" cy="615.3" r="2.5"/><circle cx="169.7" cy="605.8" r="2.5"/><circle cx="141.9" cy="635.5" r="2.5"/><circle cx="152.1" cy="623.4" r="2.5"/><circle cx="155" cy="605.2" r="2.5"/><circle cx="150.6" cy="622.2" r="2.5"/><circle cx="145.3" cy="611.1" r="2.5"/><circle cx="145.5" cy="621.2" r="2.5"/><circle cx="163.5" cy="616.7" r="2.5"/><circle cx="150.6" cy="627.1" r="2.5"/><circle cx="137.6" cy="627.8" r="2.5"/><circle cx="160.6" cy="609.7" r="2.5"/><circle cx="118.6" cy="621.8" r="2.5"/><circle cx="150.8" cy="620.3" r="2.5"/><circle cx="164.7" cy="602.3" r="2.5"/><circle cx="147.9" cy="622.5" r="2.5"/><circle cx="157.4" cy="606" r="2.5"/><circle cx="140.9" cy="621.9" r="2.5"/><circle cx="152" cy="628.2" r="2.5"/><circle cx="150.1" cy="631.4" r="2.5"/><circle cx="135.1" cy="618.5" r="2.5"/><circle cx="160" cy="623.9" r="2.5"/><circle cx="155.9" cy="616.4" r="2.5"/><circle cx="118.7" cy="623.3" r="2.5"/><circle cx="136" cy="617.7" r="2.5"/><circle cx="153.2" cy="612.4" r="2.5"/><circle cx="157.2" cy="614.1" r="2.5"/><circle cx="141.7" cy="620.7" r="2.5"/><circle cx="154.4" cy="621.6" r="2.5"/><circle cx="138.7" cy="619.1" r="2.5"/><circle cx="131.5" cy="636.8" r="2.5"/><circle cx="165.7" cy="608.6" r="2.5"/><circle cx="135.9" cy="612.1" r="2.5"/><circle cx="148.9" cy="618.5" r="2.5"/><circle cx="177" cy="607.5" r="2.5"/><circle cx="166.1" cy="611.4" r="2.5"/><circle cx="124.1" cy="628.3" r="2.5"/><circle cx="163.2" cy="615.7" r="2.5"/><circle cx="137.6" cy="604.1" r="2.5"/><circle cx="139.9" cy="607.9" r="2.5"/><circle cx="148.3" cy="599.8" r="2.5"/><circle cx="136.8" cy="631.6" r="2.5"/><circle cx="165.5" cy="600.5" r="2.5"/><circle cx="127.1" cy="632.7" r="2.5"/><circle cx="155.1" cy="606.3" r="2.5"/><circle cx="134.4" cy="617.1" r="2.5"/><circle cx="127.5" cy="620" r="2.5"/><circle cx="165.3" cy="615.8" r="2.5"/><circle cx="174.4" cy="605.8" r="2.5"/><circle cx="141.4" cy="611.9" r="2.5"/><circle cx="140.6" cy="609.6" r="2.5"/><circle cx="123.2" cy="632.8" r="2.5"/><circle cx="168.4" cy="615.7" r="2.5"/><circle cx="165.2" cy="612.3" r="2.5"/><circle cx="136.3" cy="622.6" r="2.5"/><circle cx="137.7" cy="612.4" r="2.5"/><circle cx="146.3" cy="619.1" r="2.5"/><circle cx="143.4" cy="630.6" r="2.5"/><circle cx="150.1" cy="621" r="2.5"/><circle cx="160.6" cy="605.4" r="2.5"/><circle cx="120.7" cy="634.3" r="2.5"/><circle cx="140.1" cy="631" r="2.5"/><circle cx="153.5" cy="623.1" r="2.5"/><circle cx="150.8" cy="599.2" r="2.5"/><circle cx="154.1" cy="609.3" r="2.5"/><circle cx="134.3" cy="619.2" r="2.5"/><circle cx="159.2" cy="619.8" r="2.5"/><circle cx="155.4" cy="600.8" r="2.5"/><circle cx="146.3" cy="622.7" r="2.5"/><circle cx="136.1" cy="624" r="2.5"/><circle cx="152" cy="623.7" r="2.5"/><circle cx="132.2" cy="616.9" r="2.5"/><circle cx="140.3" cy="634.5" r="2.5"/><circle cx="160.8" cy="611" r="2.5"/><circle cx="149.5" cy="617.5" r="2.5"/><circle cx="148.2" cy="615.4" r="2.5"/><circle cx="137.8" cy="611.1" r="2.5"/><circle cx="141.7" cy="633.1" r="2.5"/><circle cx="153.6" cy="615.4" r="2.5"/><circle cx="143.2" cy="619.6" r="2.5"/><circle cx="149.1" cy="611.5" r="2.5"/><circle cx="149.4" cy="618.6" r="2.5"/><circle cx="133.4" cy="616.7" r="2.5"/><circle cx="129.1" cy="616.2" r="2.5"/><circle cx="140.6" cy="615.2" r="2.5"/><circle cx="137.7" cy="622.2" r="2.5"/><circle cx="161.9" cy="612.2" r="2.5"/><circle cx="142.3" cy="614.5" r="2.5"/><circle cx="146.8" cy="625.1" r="2.5"/><circle cx="137.3" cy="612.2" r="2.5"/><circle cx="125.3" cy="617.4" r="2.5"/><circle cx="129.8" cy="633.5" r="2.5"/><circle cx="150.3" cy="614.4" r="2.5"/><circle cx="164.5" cy="605.2" r="2.5"/><circle cx="158.7" cy="619.3" r="2.5"/><circle cx="120.1" cy="615.9" r="2.5"/><circle cx="135.6" cy="629.5" r="2.5"/><circle cx="160.6" cy="602.2" r="2.5"/><circle cx="159.5" cy="609.4" r="2.5"/><circle cx="139" cy="616.4" r="2.5"/><circle cx="136.4" cy="607.2" r="2.5"/><circle cx="128.6" cy="615" r="2.5"/><circle cx="158.7" cy="629.8" r="2.5"/><circle cx="120.9" cy="624.8" r="2.5"/><circle cx="138.5" cy="637.1" r="2.5"/><circle cx="151.9" cy="609.7" r="2.5"/><circle cx="160.5" cy="616.5" r="2.5"/><circle cx="121.9" cy="623.4" r="2.5"/><circle cx="142.7" cy="619.5" r="2.5"/><circle cx="146.9" cy="614.9" r="2.5"/><circle cx="147" cy="612.9" r="2.5"/><circle cx="137.8" cy="633.6" r="2.5"/><circle cx="152.2" cy="619" r="2.5"/><circle cx="123.4" cy="625.8" r="2.5"/><circle cx="153.8" cy="604.4" r="2.5"/><circle cx="160.2" cy="609.1" r="2.5"/><circle cx="151.2" cy="614.8" r="2.5"/><circle cx="152.4" cy="625.1" r="2.5"/><circle cx="144.8" cy="631.1" r="2.5"/><circle cx="132.5" cy="615.9" r="2.5"/><circle cx="152.9" cy="606.6" r="2.5"/><circle cx="143.4" cy="626.4" r="2.5"/><circle cx="157.8" cy="598.9" r="2.5"/><circle cx="158.3" cy="628.3" r="2.5"/><circle cx="161.9" cy="609.6" r="2.5"/><circle cx="136.8" cy="619.3" r="2.5"/><circle cx="129.2" cy="622.6" r="2.5"/><circle cx="143" cy="618" r="2.5"/><circle cx="161.8" cy="609.8" r="2.5"/><circle cx="128.7" cy="633.5" r="2.5"/><circle cx="129.8" cy="620.9" r="2.5"/><circle cx="143.2" cy="616.4" r="2.5"/><circle cx="131.4" cy="621.9" r="2.5"/><circle cx="147.3" cy="626.6" r="2.5"/><circle cx="158.5" cy="619.1" r="2.5"/><circle cx="152.5" cy="599.5" r="2.5"/><circle cx="134.3" cy="623.7" r="2.5"/><circle cx="156.6" cy="624.2" r="2.5"/><circle cx="151.9" cy="613.7" r="2.5"/><circle cx="146" cy="616.3" r="2.5"/><circle cx="151.3" cy="621.3" r="2.5"/><circle cx="139" cy="614.3" r="2.5"/><circle cx="137.2" cy="630.4" r="2.5"/><circle cx="166.6" cy="617.7" r="2.5"/><circle cx="160.3" cy="619" r="2.5"/><circle cx="147.8" cy="622.6" r="2.5"/><circle cx="130.8" cy="622.5" r="2.5"/><circle cx="137.8" cy="627.2" r="2.5"/><circle cx="137.6" cy="620.5" r="2.5"/><circle cx="155.4" cy="625.2" r="2.5"/><circle cx="132.3" cy="615.9" r="2.5"/><circle cx="154.3" cy="605.7" r="2.5"/><circle cx="150.7" cy="611.5" r="2.5"/><circle cx="139.4" cy="605.9" r="2.5"/><circle cx="154.5" cy="610.5" r="2.5"/><circle cx="150.7" cy="613.3" r="2.5"/><circle cx="152" cy="628.6" r="2.5"/><circle cx="146.9" cy="621.3" r="2.5"/><circle cx="150.6" cy="608.8" r="2.5"/><circle cx="146.4" cy="613.8" r="2.5"/><circle cx="131.1" cy="631.1" r="2.5"/><circle cx="155.5" cy="614.8" r="2.5"/><circle cx="127.7" cy="609.2" r="2.5"/><circle cx="152.5" cy="614.6" r="2.5"/><circle cx="122.4" cy="627" r="2.5"/><circle cx="124.8" cy="626.4" r="2.5"/><circle cx="149" cy="619.7" r="2.5"/><circle cx="149.5" cy="618" r="2.5"/><circle cx="129.1" cy="621.7" r="2.5"/><circle cx="138.2" cy="619.2" r="2.5"/><circle cx="151.5" cy="620.8" r="2.5"/><circle cx="151" cy="614.4" r="2.5"/><circle cx="124.1" cy="630.1" r="2.5"/><circle cx="141.5" cy="627.8" r="2.5"/><circle cx="131" cy="623.2" r="2.5"/><circle cx="143.9" cy="618.1" r="2.5"/><circle cx="132.7" cy="608.5" r="2.5"/><circle cx="155.2" cy="622.4" r="2.5"/><circle cx="142.2" cy="611.3" r="2.5"/><circle cx="150.4" cy="620.8" r="2.5"/><circle cx="143.5" cy="618.9" r="2.5"/><circle cx="162.4" cy="602.3" r="2.5"/><circle cx="132.9" cy="607.9" r="2.5"/><circle cx="134.2" cy="616.8" r="2.5"/><circle cx="130.7" cy="618.6" r="2.5"/><circle cx="170.4" cy="606.5" r="2.5"/><circle cx="150.6" cy="633.9" r="2.5"/><circle cx="140.3" cy="606.3" r="2.5"/><circle cx="149" cy="609.2" r="2.5"/><circle cx="165.3" cy="600.1" r="2.5"/><circle cx="133.4" cy="610.1" r="2.5"/><circle cx="144.5" cy="610.4" r="2.5"/><circle cx="144" cy="615.7" r="2.5"/><circle cx="140.1" cy="628" r="2.5"/><circle cx="159.2" cy="613.2" r="2.5"/><circle cx="130.5" cy="615.6" r="2.5"/><circle cx="137.4" cy="615.1" r="2.5"/><circle cx="133.2" cy="614.3" r="2.5"/><circle cx="131.9" cy="622" r="2.5"/><circle cx="165.9" cy="609.9" r="2.5"/><circle cx="134.4" cy="609.6" r="2.5"/><circle cx="148.9" cy="616.6" r="2.5"/><circle cx="125.9" cy="617.3" r="2.5"/><circle cx="148.3" cy="625.3" r="2.5"/><circle cx="155.3" cy="615.9" r="2.5"/><circle cx="142.4" cy="622" r="2.5"/><circle cx="151.9" cy="633.2" r="2.5"/><circle cx="129.2" cy="621.8" r="2.5"/><circle cx="162.9" cy="609" r="2.5"/><circle cx="165.7" cy="609.7" r="2.5"/><circle cx="147" cy="614.6" r="2.5"/><circle cx="124.1" cy="619" r="2.5"/><circle cx="157.1" cy="621.2" r="2.5"/><circle cx="156.8" cy="621.9" r="2.5"/><circle cx="141.7" cy="617.9" r="2.5"/><circle cx="158.7" cy="610" r="2.5"/><circle cx="126.9" cy="623.9" r="2.5"/><circle cx="140.1" cy="625.3" r="2.5"/><circle cx="133" cy="614.7" r="2.5"/><circle cx="145.7" cy="630.7" r="2.5"/><circle cx="145.8" cy="619.4" r="2.5"/><circle cx="147" cy="620" r="2.5"/><circle cx="162.8" cy="622.5" r="2.5"/><circle cx="127" cy="636.7" r="2.5"/><circle cx="145.1" cy="615.8" r="2.5"/><circle cx="175.8" cy="613.8" r="2.5"/><circle cx="133.1" cy="627.2" r="2.5"/><circle cx="155.9" cy="613" r="2.5"/><circle cx="140.2" cy="611.4" r="2.5"/><circle cx="170.7" cy="606" r="2.5"/><circle cx="139.7" cy="618.1" r="2.5"/><circle cx="132.9" cy="617" r="2.5"/><circle cx="148.2" cy="619.7" r="2.5"/><circle cx="138.7" cy="620.2" r="2.5"/><circle cx="128.1" cy="629.4" r="2.5"/><circle cx="136.2" cy="623.7" r="2.5"/><circle cx="131.9" cy="619.5" r="2.5"/><circle cx="145.6" cy="608.4" r="2.5"/><circle cx="142.9" cy="613.3" r="2.5"/><circle cx="172.1" cy="618.7" r="2.5"/><circle cx="146.3" cy="606.8" r="2.5"/><circle cx="140.7" cy="625.1" r="2.5"/><circle cx="135.6" cy="612.6" r="2.5"/><circle cx="127.3" cy="619.3" r="2.5"/><circle cx="144.4" cy="613.4" r="2.5"/><circle cx="167.7" cy="600.8" r="2.5"/><circle cx="151" cy="616.7" r="2.5"/><circle cx="147" cy="626" r="2.5"/><circle cx="140.5" cy="617.6" r="2.5"/><circle cx="140.5" cy="619.4" r="2.5"/><circle cx="166.1" cy="616.2" r="2.5"/><circle cx="126.1" cy="622.5" r="2.5"/><circle cx="137.2" cy="628.2" r="2.5"/><circle cx="151.6" cy="622.9" r="2.5"/><circle cx="139.8" cy="605.1" r="2.5"/><circle cx="152.9" cy="617" r="2.5"/><circle cx="149.4" cy="606.1" r="2.5"/><circle cx="145.2" cy="612.8" r="2.5"/><circle cx="137.4" cy="624.3" r="2.5"/><circle cx="148.4" cy="609.8" r="2.5"/><circle cx="141.2" cy="629" r="2.5"/><circle cx="135.2" cy="625.8" r="2.5"/><circle cx="172.5" cy="616.7" r="2.5"/><circle cx="151.7" cy="617.3" r="2.5"/><circle cx="130" cy="620.8" r="2.5"/><circle cx="139.2" cy="614.5" r="2.5"/><circle cx="145.8" cy="614.9" r="2.5"/><circle cx="154.7" cy="626.1" r="2.5"/><circle cx="157.5" cy="616.7" r="2.5"/><circle cx="138.4" cy="608.8" r="2.5"/><circle cx="145.9" cy="622.4" r="2.5"/><circle cx="135.5" cy="632.4" r="2.5"/><circle cx="142.4" cy="622.5" r="2.5"/><circle cx="137.9" cy="611.1" r="2.5"/><circle cx="157.2" cy="609" r="2.5"/><circle cx="147.6" cy="610.8" r="2.5"/><circle cx="142.8" cy="626.7" r="2.5"/><circle cx="170.7" cy="601.2" r="2.5"/><circle cx="148.8" cy="624.5" r="2.5"/><circle cx="139.2" cy="626.5" r="2.5"/><circle cx="136.8" cy="626.6" r="2.5"/><circle cx="155.5" cy="624" r="2.5"/><circle cx="147.7" cy="607.7" r="2.5"/><circle cx="152.1" cy="606.6" r="2.5"/><circle cx="160.7" cy="624.3" r="2.5"/><circle cx="152.7" cy="610.8" r="2.5"/><circle cx="163.1" cy="612.5" r="2.5"/><circle cx="127.7" cy="622.5" r="2.5"/><circle cx="164.9" cy="607.9" r="2.5"/><circle cx="146.7" cy="614.9" r="2.5"/><circle cx="121.1" cy="623.9" r="2.5"/><circle cx="151.5" cy="617.4" r="2.5"/><circle cx="137.6" cy="604.1" r="2.5"/><circle cx="165" cy="616.1" r="2.5"/><circle cx="163.9" cy="621.3" r="2.5"/><circle cx="138.1" cy="616.3" r="2.5"/><circle cx="155.1" cy="627.9" r="2.5"/><circle cx="121.9" cy="625.9" r="2.5"/><circle cx="137.6" cy="625.9" r="2.5"/><circle cx="165.5" cy="607.7" r="2.5"/><circle cx="128.9" cy="625.3" r="2.5"/><circle cx="137.7" cy="608.9" r="2.5"/><circle cx="156.8" cy="609.4" r="2.5"/><circle cx="151.8" cy="605" r="2.5"/><circle cx="157.2" cy="601.8" r="2.5"/><circle cx="155.6" cy="599.5" r="2.5"/><circle cx="164.1" cy="607.6" r="2.5"/><circle cx="123.7" cy="625.1" r="2.5"/><circle cx="147.9" cy="609.2" r="2.5"/><circle cx="139.9" cy="622.6" r="2.5"/><circle cx="141.2" cy="623.4" r="2.5"/><circle cx="153" cy="623.3" r="2.5"/><circle cx="158" cy="615.7" r="2.5"/><circle cx="163.8" cy="618.5" r="2.5"/><circle cx="145.7" cy="613.1" r="2.5"/><circle cx="161.4" cy="615.2" r="2.5"/><circle cx="116.6" cy="621" r="2.5"/><circle cx="152.8" cy="616.1" r="2.5"/><circle cx="151.7" cy="620.9" r="2.5"/><circle cx="152.5" cy="628.2" r="2.5"/><circle cx="136.7" cy="618.5" r="2.5"/><circle cx="152.6" cy="621.4" r="2.5"/><circle cx="161.1" cy="623.9" r="2.5"/><circle cx="142.6" cy="628.8" r="2.5"/><circle cx="149.6" cy="608.1" r="2.5"/><circle cx="149.9" cy="633.3" r="2.5"/><circle cx="155.6" cy="610.3" r="2.5"/><circle cx="136.4" cy="622.5" r="2.5"/><circle cx="147.7" cy="609.7" r="2.5"/><circle cx="128.9" cy="623.2" r="2.5"/><circle cx="138.6" cy="616" r="2.5"/><circle cx="161.9" cy="612.2" r="2.5"/><circle cx="132.4" cy="633.9" r="2.5"/><circle cx="137.9" cy="610.5" r="2.5"/><circle cx="151.8" cy="619.6" r="2.5"/><circle cx="143.3" cy="624.7" r="2.5"/><circle cx="154.9" cy="607.3" r="2.5"/><circle cx="147.7" cy="627.3" r="2.5"/><circle cx="163.9" cy="622" r="2.5"/><circle cx="171.9" cy="607.7" r="2.5"/><circle cx="156.4" cy="601.4" r="2.5"/><circle cx="156.7" cy="616.9" r="2.5"/><circle cx="143.4" cy="615.5" r="2.5"/><circle cx="130.9" cy="625.2" r="2.5"/><circle cx="162.7" cy="608.3" r="2.5"/><circle cx="151.5" cy="610.4" r="2.5"/><circle cx="146.7" cy="609.6" r="2.5"/><circle cx="150.6" cy="614.4" r="2.5"/><circle cx="148.7" cy="612" r="2.5"/><circle cx="128.7" cy="622.3" r="2.5"/><circle cx="164.9" cy="623.2" r="2.5"/><circle cx="143.7" cy="625.4" r="2.5"/><circle cx="157.7" cy="616.5" r="2.5"/><circle cx="125.3" cy="629" r="2.5"/><circle cx="135.8" cy="631.6" r="2.5"/><circle cx="158.7" cy="617.9" r="2.5"/><circle cx="152.1" cy="605.2" r="2.5"/><circle cx="159.7" cy="613.1" r="2.5"/><circle cx="141.4" cy="614.1" r="2.5"/><circle cx="130.6" cy="620.7" r="2.5"/><circle cx="147.1" cy="612.3" r="2.5"/><circle cx="135.9" cy="617.6" r="2.5"/><circle cx="136.1" cy="629.1" r="2.5"/><circle cx="144.7" cy="625.5" r="2.5"/><circle cx="132.5" cy="631" r="2.5"/><circle cx="147.5" cy="622.8" r="2.5"/><circle cx="142.1" cy="612.4" r="2.5"/><circle cx="161.6" cy="608.2" r="2.5"/><circle cx="141.5" cy="612.7" r="2.5"/><circle cx="147.7" cy="614.1" r="2.5"/><circle cx="150.9" cy="618.8" r="2.5"/><circle cx="132.5" cy="612.1" r="2.5"/><circle cx="154.6" cy="621.9" r="2.5"/><circle cx="152.5" cy="606.1" r="2.5"/><circle cx="155.5" cy="617.3" r="2.5"/><circle cx="151.2" cy="619.4" r="2.5"/><circle cx="142.1" cy="621.3" r="2.5"/><circle cx="157.5" cy="609.3" r="2.5"/><circle cx="125.7" cy="625.4" r="2.5"/><circle cx="143.5" cy="604.1" r="2.5"/><circle cx="138.2" cy="625.9" r="2.5"/><circle cx="144.2" cy="619.5" r="2.5"/><circle cx="131" cy="631.4" r="2.5"/><circle cx="169.8" cy="606.8" r="2.5"/><circle cx="132.6" cy="614.1" r="2.5"/><circle cx="158.7" cy="613.7" r="2.5"/><circle cx="138.4" cy="630.9" r="2.5"/><circle cx="158.3" cy="617.9" r="2.5"/><circle cx="121.2" cy="627.2" r="2.5"/><circle cx="151.3" cy="606" r="2.5"/><circle cx="162.9" cy="622.7" r="2.5"/><circle cx="158.3" cy="607.2" r="2.5"/><circle cx="138.8" cy="628.5" r="2.5"/><circle cx="163.3" cy="621" r="2.5"/><circle cx="162.4" cy="610.6" r="2.5"/><circle cx="135.1" cy="607.4" r="2.5"/><circle cx="138.2" cy="617.3" r="2.5"/><circle cx="156.1" cy="617" r="2.5"/><circle cx="124.9" cy="620.7" r="2.5"/><circle cx="138.4" cy="628" r="2.5"/><circle cx="170.4" cy="621.3" r="2.5"/><circle cx="127.8" cy="622.5" r="2.5"/><circle cx="135.1" cy="620.1" r="2.5"/><circle cx="150.3" cy="606.3" r="2.5"/><circle cx="168.3" cy="619.5" r="2.5"/><circle cx="144.7" cy="635.3" r="2.5"/><circle cx="150.7" cy="626.6" r="2.5"/><circle cx="148.8" cy="612.4" r="2.5"/><circle cx="140.4" cy="619.3" r="2.5"/><circle cx="154.9" cy="615.4" r="2.5"/><circle cx="137.5" cy="615.6" r="2.5"/><circle cx="131.1" cy="612.4" r="2.5"/><circle cx="134.8" cy="629.8" r="2.5"/><circle cx="146.4" cy="616.5" r="2.5"/><circle cx="153.9" cy="623.5" r="2.5"/><circle cx="156.7" cy="619.9" r="2.5"/><circle cx="137.5" cy="619.3" r="2.5"/><circle cx="134.9" cy="621.7" r="2.5"/><circle cx="133.6" cy="620" r="2.5"/><circle cx="143" cy="617.5" r="2.5"/><circle cx="140.9" cy="616.1" r="2.5"/><circle cx="163.3" cy="608.3" r="2.5"/><circle cx="132.5" cy="625" r="2.5"/><circle cx="127.8" cy="616.7" r="2.5"/><circle cx="142.5" cy="605.9" r="2.5"/><circle cx="155.7" cy="600.6" r="2.5"/><circle cx="135.1" cy="627.1" r="2.5"/><circle cx="115.9" cy="623.1" r="2.5"/><circle cx="128.7" cy="623.4" r="2.5"/><circle cx="121.1" cy="635.3" r="2.5"/><circle cx="144.8" cy="620.9" r="2.5"/><circle cx="135.5" cy="605.1" r="2.5"/><circle cx="140.1" cy="609.5" r="2.5"/><circle cx="143.7" cy="612" r="2.5"/><circle cx="141" cy="618.3" r="2.5"/><circle cx="158.9" cy="619" r="2.5"/><circle cx="132" cy="623.5" r="2.5"/><circle cx="167.7" cy="613.2" r="2.5"/><circle cx="135.5" cy="621.3" r="2.5"/><circle cx="143.8" cy="626.5" r="2.5"/><circle cx="147.5" cy="620.4" r="2.5"/><circle cx="127" cy="611.7" r="2.5"/><circle cx="126.3" cy="632.9" r="2.5"/><circle cx="154.6" cy="627.7" r="2.5"/><circle cx="116.1" cy="623" r="2.5"/><circle cx="169" cy="617" r="2.5"/><circle cx="160.8" cy="619.1" r="2.5"/><circle cx="146.4" cy="617.7" r="2.5"/><circle cx="148.8" cy="623.7" r="2.5"/><circle cx="144.6" cy="621.1" r="2.5"/><circle cx="163.1" cy="602" r="2.5"/><circle cx="137.2" cy="626.1" r="2.5"/><circle cx="141.9" cy="618.4" r="2.5"/><circle cx="176.4" cy="609.1" r="2.5"/><circle cx="143.3" cy="628" r="2.5"/><circle cx="137" cy="622.6" r="2.5"/><circle cx="152.2" cy="612.3" r="2.5"/><circle cx="150.6" cy="609.7" r="2.5"/><circle cx="137.9" cy="622.1" r="2.5"/><circle cx="155.6" cy="625" r="2.5"/><circle cx="161.7" cy="627.2" r="2.5"/><circle cx="152.7" cy="616.5" r="2.5"/><circle cx="141.8" cy="612.8" r="2.5"/><circle cx="165.4" cy="600.6" r="2.5"/><circle cx="142.8" cy="615.1" r="2.5"/><circle cx="141.1" cy="621.1" r="2.5"/><circle cx="150.4" cy="623.1" r="2.5"/><circle cx="141.9" cy="614.5" r="2.5"/><circle cx="152.1" cy="620.9" r="2.5"/><circle cx="129.2" cy="612.5" r="2.5"/><circle cx="134.7" cy="631.1" r="2.5"/><circle cx="157.4" cy="606.2" r="2.5"/><circle cx="149.9" cy="623.2" r="2.5"/><circle cx="162.6" cy="606" r="2.5"/><circle cx="146.6" cy="629.1" r="2.5"/><circle cx="131.4" cy="627.5" r="2.5"/><circle cx="141.7" cy="619.3" r="2.5"/><circle cx="135.4" cy="618.4" r="2.5"/><circle cx="150.9" cy="630.6" r="2.5"/><circle cx="156.9" cy="617" r="2.5"/><circle cx="144.3" cy="612.6" r="2.5"/><circle cx="146.3" cy="627.9" r="2.5"/><circle cx="163.1" cy="627" r="2.5"/><circle cx="149.6" cy="616.4" r="2.5"/><circle cx="124.6" cy="629.9" r="2.5"/><circle cx="137.2" cy="621.5" r="2.5"/><circle cx="125.8" cy="622.1" r="2.5"/><circle cx="136.2" cy="631.1" r="2.5"/><circle cx="146.1" cy="608.4" r="2.5"/><circle cx="119" cy="628.4" r="2.5"/><circle cx="136.1" cy="613" r="2.5"/><circle cx="153.7" cy="613.4" r="2.5"/><circle cx="145.9" cy="613.3" r="2.5"/><circle cx="136.8" cy="618" r="2.5"/><circle cx="125.5" cy="631.4" r="2.5"/><circle cx="146.8" cy="603.8" r="2.5"/><circle cx="150.7" cy="625.5" r="2.5"/><circle cx="152.9" cy="625.7" r="2.5"/><circle cx="142.3" cy="619.5" r="2.5"/><circle cx="125.4" cy="619" r="2.5"/><circle cx="118.1" cy="622" r="2.5"/><circle cx="150.9" cy="620.2" r="2.5"/><circle cx="162.5" cy="612.4" r="2.5"/><circle cx="133.4" cy="626.6" r="2.5"/><circle cx="149" cy="631.2" r="2.5"/><circle cx="175.9" cy="613.7" r="2.5"/><circle cx="128.7" cy="620.7" r="2.5"/><circle cx="146.6" cy="612" r="2.5"/><circle cx="155.2" cy="619.8" r="2.5"/><circle cx="158.3" cy="614.9" r="2.5"/><circle cx="131.3" cy="617.1" r="2.5"/><circle cx="148" cy="627.9" r="2.5"/><circle cx="170.6" cy="616" r="2.5"/><circle cx="152.9" cy="620.7" r="2.5"/><circle cx="161.1" cy="622.4" r="2.5"/><circle cx="153.6" cy="602.5" r="2.5"/><circle cx="159.5" cy="605.6" r="2.5"/><circle cx="166.7" cy="594.9" r="2.5"/><circle cx="181.3" cy="582.9" r="2.5"/><circle cx="169.7" cy="618" r="2.5"/><circle cx="181.7" cy="587.3" r="2.5"/><circle cx="168.9" cy="617.5" r="2.5"/><circle cx="158.9" cy="598.3" r="2.5"/><circle cx="179.4" cy="587.8" r="2.5"/><circle cx="167.4" cy="598.3" r="2.5"/><circle cx="168.2" cy="588.3" r="2.5"/><circle cx="158.8" cy="631.6" r="2.5"/><circle cx="176.3" cy="614.8" r="2.5"/><circle cx="163.5" cy="597.5" r="2.5"/><circle cx="171.2" cy="594.7" r="2.5"/><circle cx="169.1" cy="625.7" r="2.5"/><circle cx="166.7" cy="600.2" r="2.5"/><circle cx="181.5" cy="607.8" r="2.5"/><circle cx="159" cy="605.4" r="2.5"/><circle cx="173.6" cy="585.9" r="2.5"/><circle cx="166.2" cy="616.1" r="2.5"/><circle cx="178.7" cy="607.8" r="2.5"/><circle cx="179.3" cy="602" r="2.5"/><circle cx="167.4" cy="622.3" r="2.5"/><circle cx="167.1" cy="619.6" r="2.5"/><circle cx="163.2" cy="601.7" r="2.5"/><circle cx="162.4" cy="610.9" r="2.5"/><circle cx="161.9" cy="595.8" r="2.5"/><circle cx="163.1" cy="607" r="2.5"/><circle cx="165.4" cy="605.5" r="2.5"/><circle cx="181.8" cy="610.7" r="2.5"/><circle cx="178.7" cy="590.8" r="2.5"/><circle cx="167.2" cy="588.4" r="2.5"/><circle cx="174.6" cy="599" r="2.5"/><circle cx="164.6" cy="586.8" r="2.5"/><circle cx="162.4" cy="598.2" r="2.5"/><circle cx="167.4" cy="625.8" r="2.5"/><circle cx="175.2" cy="594.7" r="2.5"/><circle cx="166.7" cy="592.2" r="2.5"/><circle cx="180.5" cy="597.1" r="2.5"/><circle cx="176.4" cy="614.3" r="2.5"/><circle cx="179.8" cy="582.4" r="2.5"/><circle cx="165.7" cy="602.6" r="2.5"/><circle cx="160" cy="626.2" r="2.5"/><circle cx="165.8" cy="619.6" r="2.5"/><circle cx="170.5" cy="586.7" r="2.5"/><circle cx="167.5" cy="595.6" r="2.5"/><circle cx="159" cy="594.3" r="2.5"/><circle cx="172.3" cy="585.1" r="2.5"/><circle cx="165.5" cy="604.4" r="2.5"/><circle cx="171.1" cy="590.1" r="2.5"/><circle cx="175" cy="594.4" r="2.5"/><circle cx="175.4" cy="612.1" r="2.5"/><circle cx="161.5" cy="596" r="2.5"/><circle cx="164.7" cy="617.3" r="2.5"/><circle cx="167.7" cy="602.1" r="2.5"/><circle cx="178.8" cy="591.7" r="2.5"/><circle cx="165" cy="601.1" r="2.5"/><circle cx="163.2" cy="588.2" r="2.5"/><circle cx="158.6" cy="615.6" r="2.5"/><circle cx="171.6" cy="619.5" r="2.5"/><circle cx="181.4" cy="594.1" r="2.5"/><circle cx="174.1" cy="623.6" r="2.5"/><circle cx="163.2" cy="616.8" r="2.5"/><circle cx="174" cy="625.2" r="2.5"/><circle cx="178.8" cy="592.1" r="2.5"/><circle cx="173.2" cy="587.4" r="2.5"/><circle cx="168.3" cy="602.2" r="2.5"/><circle cx="159.4" cy="604.4" r="2.5"/><circle cx="165.9" cy="607.5" r="2.5"/><circle cx="164.7" cy="593" r="2.5"/><circle cx="107.6" cy="624" r="2.5"/><circle cx="110.7" cy="638.6" r="2.5"/><circle cx="129.3" cy="644.8" r="2.5"/><circle cx="138.6" cy="644.8" r="2.5"/><circle cx="112" cy="630" r="2.5"/><circle cx="118" cy="641" r="2.5"/><circle cx="124" cy="636" r="2.5"/><circle cx="133" cy="640" r="2.5"/></g>
<path d="M228.6 603.8 C235.5 605.4 257.3 612.8 270.2 613.2 C283.1 613.6 295.2 610.5 306 606 C316.8 601.5 326.6 594 334.8 586.3 C343 578.6 350.1 570.3 355 560 C359.9 549.7 364.2 536.1 364.4 524.4 C364.6 512.7 360.9 499.9 356 490 C351.1 480.1 343.3 472.1 334.8 465.3 C326.3 458.5 315.3 452.6 305 449 C294.7 445.4 283.8 444 273 443.8 C262.2 443.6 249.9 445.3 240 448 C230.1 450.7 222.1 454.2 213.8 460 C205.5 465.8 196.1 473.6 190 483 C183.9 492.4 179.5 507.7 177.5 516.4 C175.5 525.1 177.3 528.9 177.8 535 C178.3 541.1 179.7 549 180.5 553 C181.3 557 182.2 558 182.5 559" fill="none" stroke="#231f20" stroke-width="4.3"/>
<path d="M189.5 572.1 L171.3 553.1 L180.8 555.5 L185 546.1 Z" fill="#231f20"/>
<text x="220.5" y="492" font-size="16.5">G2/M</text>
<text x="326.7" y="531.7" font-size="16.5" text-anchor="middle">S</text>
<text x="271.6" y="577.4" font-size="15.5">G1</text>
<text x="85.6" y="655.4" font-size="15">G0</text>
<text x="536.4" y="393.4" font-size="23.5" font-weight="bold" textLength="16.5" lengthAdjust="spacingAndGlyphs">D</text>
<rect x="563.5" y="442.6" width="197.7" height="198.2" stroke="#231f20" stroke-width="1.2" fill="none"/>
<rect x="765.8" y="443" width="197.6" height="197.8" stroke="#231f20" stroke-width="1.2" fill="none"/>
<text x="673.7" y="434.5" font-size="20.3" text-anchor="middle" textLength="138.5" lengthAdjust="spacingAndGlyphs">Young LT-HSC</text>
<text x="871.5" y="431.5" font-size="20.4" text-anchor="middle" textLength="113" lengthAdjust="spacingAndGlyphs">Old LT-HSC</text>
<line x1="552.4" y1="531" x2="552.4" y2="654.3" stroke="#231f20" stroke-width="1.3"/>
<path d="M552.4 524.6 L556.4 533.6 L548.4 533.6 Z" fill="#231f20"/>
<line x1="551.8" y1="653.7" x2="676" y2="653.7" stroke="#231f20" stroke-width="1.3"/>
<path d="M684.2 653.7 L675.2 657.7 L675.2 649.7 Z" fill="#231f20"/>
<text transform="translate(537.5 581) rotate(-90)" x="0" y="0" font-size="18.8" text-anchor="middle">Ki67</text>
<text x="616.4" y="682" font-size="19.8" text-anchor="middle">Hoechst</text>
<path d="M624 506 C632 507 638 512 637 522 S638 535 636 540" fill="none" stroke="#111" stroke-width="0.9"/>
<path d="M625.2 506 C633.8 507 639.2 512 638 522 S638.6 535 636.4 540" fill="none" stroke="#111" stroke-width="0.9"/>
<path d="M626.4 506 C635.6 507 640.4 512 639 522 S639.2 535 636.8 540" fill="none" stroke="#111" stroke-width="0.9"/>
<path d="M627.6 506 C637.4 507 641.6 512 640 522 S639.8 535 637.2 540" fill="none" stroke="#111" stroke-width="0.9"/>
<path d="M628.8 506 C639.2 507 642.8 512 641 522 S640.4 535 637.6 540" fill="none" stroke="#111" stroke-width="0.9"/>
<path d="M630 506 C641 507 644 512 642 522 S641 535 638 540" fill="none" stroke="#111" stroke-width="0.9"/>
<path d="M615 503.7 C618.9 503.6 623.9 504.9 626.6 505.9 C629.3 506.9 629.8 507.1 631 509.5 C632.2 511.9 633.4 514.9 634 520 C634.6 525.1 634.3 531.6 634.5 540 C634.7 548.4 635.5 562.3 635.3 570.3 C635 578.3 634.7 583.2 633 588 C631.3 592.8 628.7 596.5 625 599 C621.3 601.5 615.4 602.9 610.7 602.9 C606 602.9 600.4 602 597 599 C593.6 596 591.2 590.3 590.4 584.8 C589.6 579.3 590.9 572 592 566 C593.1 560 596.5 554.3 597 548.6 C597.5 542.9 595.4 536.6 595 532 C594.6 527.4 594.2 524.7 594.7 521 C595.2 517.3 596.5 512.4 598 510 C599.5 507.6 600.6 507.7 603.4 506.6 C606.2 505.6 611.1 503.8 615 503.7Z" fill="#111"/>
<ellipse cx="612" cy="527" rx="1.2" ry="2" fill="#fff"/>
<ellipse cx="615" cy="555" rx="1.1" ry="3" fill="#fff"/>
<ellipse cx="612" cy="584" rx="0.8" ry="1" fill="#fff"/>
<path d="M641 513.8 C643 511.6 649.3 503.6 652.7 500.8 C656.1 498 658.8 496.9 661.3 497.2 C663.8 497.4 666.7 499.8 667.9 502.3 C669.1 504.8 669.7 509.3 668.6 512.4 C667.5 515.5 663.9 518.1 661.3 521 C658.6 523.9 655.6 527.1 652.7 529.8 C649.8 532.5 645.5 535.8 644 537" fill="none" stroke="#111" stroke-width="1"/>
<path d="M644.1 513 C645.3 508.1 651 504.6 653.7 502.4 C656.5 500.1 658.7 499.2 660.8 499.4 C662.9 499.6 665.2 501.5 666.2 503.6 C667.2 505.7 667.7 509.3 666.8 511.9 C665.9 514.4 663 516.6 660.8 518.9 C658.6 521.3 656.1 524 653.7 526.1 C651.4 528.3 648.2 534.2 646.6 532 C645 529.9 642.9 518 644.1 513Z" fill="none" stroke="#111" stroke-width="1"/>
<path d="M647.3 512.3 C648.2 508.4 652.6 505.7 654.8 503.9 C656.9 502.2 658.6 501.5 660.3 501.6 C661.9 501.8 663.7 503.3 664.5 504.9 C665.3 506.5 665.6 509.4 664.9 511.4 C664.2 513.4 662 515 660.3 516.9 C658.6 518.7 656.6 520.8 654.8 522.5 C652.9 524.2 650.4 528.8 649.2 527.1 C647.9 525.4 646.3 516.1 647.3 512.3Z" fill="none" stroke="#111" stroke-width="1"/>
<path d="M650.4 511.5 C651.1 508.7 654.2 506.8 655.8 505.5 C657.3 504.2 658.6 503.7 659.7 503.8 C660.9 504 662.2 505 662.8 506.2 C663.3 507.4 663.6 509.4 663.1 510.8 C662.6 512.3 661 513.5 659.7 514.8 C658.5 516.1 657.1 517.6 655.8 518.8 C654.5 520.1 652.7 523.4 651.8 522.1 C650.9 520.9 649.7 514.3 650.4 511.5Z" fill="none" stroke="#111" stroke-width="1"/>
<path d="M654.6 510.4 C654.9 509.1 656.4 508.2 657.1 507.6 C657.9 507 658.5 506.7 659 506.8 C659.6 506.8 660.2 507.4 660.5 507.9 C660.8 508.5 660.9 509.5 660.6 510.1 C660.4 510.8 659.6 511.4 659 512 C658.5 512.7 657.8 513.4 657.1 514 C656.5 514.6 655.7 516.1 655.2 515.5 C654.8 515 654.3 511.8 654.6 510.4Z" fill="none" stroke="#111" stroke-width="1"/>
<path d="M830 518 C831.3 516.7 835 512 838 510 C841 508 844.7 507 848 506 C851.3 505 855.3 503.8 858 504 C860.7 504.2 862.9 505.2 864 507 C865.1 508.8 864.8 511.7 864.5 515 C864.2 518.3 863.2 523.3 862 527 C860.8 530.7 858.8 534.5 857 537 C855.2 539.5 852 541.2 851 542" fill="none" stroke="#111" stroke-width="1"/>
<path d="M842.8 512.6 C843.7 510 847.3 510 849.6 509.2 C851.9 508.4 854.7 507.6 856.4 507.8 C858.1 508 859.3 508.6 859.8 510.5 C860.3 512.4 859.9 516.5 859.1 519.4 C858.3 522.2 856.9 525.7 855 527.5 C853.2 529.3 850.1 530.7 848.2 530.2 C846.4 529.8 845.1 527.7 844.2 524.8 C843.3 521.9 841.9 515.2 842.8 512.6Z" fill="none" stroke="#111" stroke-width="1"/>
<path d="M847 513.8 C847.5 512.3 849.7 512.3 851 511.8 C852.3 511.3 854 510.9 855 511 C856 511.1 856.7 511.5 857 512.6 C857.3 513.7 857.1 516.1 856.6 517.8 C856.1 519.5 855.3 521.5 854.2 522.6 C853.1 523.7 851.3 524.5 850.2 524.2 C849.1 523.9 848.3 522.7 847.8 521 C847.3 519.3 846.5 515.3 847 513.8Z" fill="none" stroke="#111" stroke-width="1"/>
<path d="M804.1 596 C804.5 584.7 805.3 541.5 806.7 528 C808.2 514.5 810 517.7 812.6 515 C815.2 512.3 819.1 512 822.3 512 C825.5 512 829.4 512.3 832 515 C834.6 517.7 836.8 514.5 837.9 528 C838.9 541.5 838.4 584.7 838.5 596" fill="none" stroke="#111" stroke-width="1.1"/>
<path d="M804.8 596 C805.2 585.4 806.1 545.2 807.4 532.4 C808.8 519.6 810.5 522.1 812.9 519.4 C815.3 516.7 819 516.4 822 516.4 C825.1 516.4 828.8 516.7 831.2 519.4 C833.6 522.1 835.7 519.6 836.7 532.4 C837.7 545.2 837.2 585.4 837.3 596" fill="none" stroke="#111" stroke-width="1.1"/>
<path d="M805.5 596 C805.9 586.1 806.8 548.8 808.1 536.8 C809.4 524.8 810.9 526.5 813.2 523.8 C815.5 521.1 818.9 520.8 821.8 520.8 C824.7 520.8 828.1 521.1 830.4 523.8 C832.7 526.5 834.6 524.8 835.5 536.8 C836.5 548.8 836 586.1 836.1 596" fill="none" stroke="#111" stroke-width="1.1"/>
<path d="M806.2 596 C806.6 586.9 807.5 552.5 808.7 541.2 C810 529.9 811.4 530.9 813.5 528.2 C815.7 525.5 818.9 525.2 821.5 525.2 C824.2 525.2 827.4 525.5 829.6 528.2 C831.7 530.9 833.5 529.9 834.4 541.2 C835.3 552.5 834.8 586.9 834.9 596" fill="none" stroke="#111" stroke-width="1.1"/>
<path d="M808.9 596 C809 587.6 808.6 556.2 809.4 545.6 C810.2 535 811.9 535.3 813.9 532.6 C815.8 529.9 818.8 529.6 821.3 529.6 C823.8 529.6 826.8 529.9 828.7 532.6 C830.7 535.3 832.4 535 833.2 545.6 C834 556.2 833.6 587.6 833.7 596" fill="none" stroke="#111" stroke-width="1.1"/>
<path d="M809.6 596 C809.7 588.3 809.3 559.8 810.1 550 C810.8 540.2 812.3 539.7 814.2 537 C816 534.3 818.8 534 821 534 C823.3 534 826.1 534.3 827.9 537 C829.8 539.7 831.3 540.2 832 550 C832.8 559.8 832.4 588.3 832.5 596" fill="none" stroke="#111" stroke-width="1.1"/>
<path d="M810.3 596 C810.4 589.1 810 563.5 810.7 554.4 C811.4 545.3 812.8 544.1 814.5 541.4 C816.2 538.7 818.7 538.4 820.8 538.4 C822.9 538.4 825.4 538.7 827.1 541.4 C828.8 544.1 830.2 545.3 830.9 554.4 C831.6 563.5 831.2 589.1 831.3 596" fill="none" stroke="#111" stroke-width="1.5"/>
<path d="M811 596 C811.1 589.8 810.7 567.2 811.4 558.8 C812 550.4 813.3 548.5 814.8 545.8 C816.3 543.1 818.6 542.8 820.5 542.8 C822.5 542.8 824.8 543.1 826.3 545.8 C827.8 548.5 829.1 550.4 829.7 558.8 C830.4 567.2 830 589.8 830.1 596" fill="none" stroke="#111" stroke-width="1.5"/>
<path d="M811.7 596 C811.8 590.5 811.5 570.8 812 563.2 C812.6 555.6 813.8 552.9 815.1 550.2 C816.5 547.5 818.6 547.2 820.3 547.2 C822 547.2 824.1 547.5 825.5 550.2 C826.8 552.9 828 555.6 828.6 563.2 C829.1 570.8 828.8 590.5 828.9 596" fill="none" stroke="#111" stroke-width="1.5"/>
<path d="M812.4 596 C812.5 591.3 812.2 574.5 812.7 567.6 C813.2 560.7 814.2 557.3 815.5 554.6 C816.7 551.9 818.5 551.6 820 551.6 C821.6 551.6 823.4 551.9 824.6 554.6 C825.9 557.3 826.9 560.7 827.4 567.6 C827.9 574.5 827.6 591.3 827.7 596" fill="none" stroke="#111" stroke-width="1.5"/>
<path d="M813.1 596 C813.1 592 812.9 578.2 813.4 572 C813.8 565.8 814.7 561.7 815.8 559 C816.9 556.3 818.5 556 819.8 556 C821.1 556 822.7 556.3 823.8 559 C824.9 561.7 825.8 565.8 826.2 572 C826.7 578.2 826.5 592 826.5 596" fill="none" stroke="#111" stroke-width="1.5"/>
<path d="M813.8 596 C813.8 592.7 813.6 581.8 814 576.4 C814.4 571 815.2 566.1 816.1 563.4 C817 560.7 818.4 560.4 819.5 560.4 C820.7 560.4 822.1 560.7 823 563.4 C823.9 566.1 824.7 571 825.1 576.4 C825.5 581.8 825.3 592.7 825.3 596" fill="none" stroke="#111" stroke-width="1.5"/>
<path d="M800 585 C799 570 803 560 806 548 L838 548 C839 565 840 580 836 592 C832 601 822 604 814 603 C806 601 801 595 800 585Z" fill="none"/>
<ellipse cx="819.5" cy="585.5" rx="19.5" ry="18" fill="#111"/>
<path d="M802 580 C803 565 805 552 807 540 L811 540 C809 555 808 570 808 582Z" fill="#111"/>
<path d="M837.5 580 C838 565 838 552 837 540 L833 540 C834 555 834 570 833 582Z" fill="#111"/>
<rect x="583.4" y="474" width="55.9" height="66" stroke="#2c3a94" stroke-width="1.8" fill="none"/>
<rect x="639.3" y="474" width="55.7" height="66" stroke="#2c3a94" stroke-width="1.8" fill="none"/>
<rect x="583.4" y="540" width="55.1" height="78.7" stroke="#2c3a94" stroke-width="1.8" fill="none"/>
<line x1="583.4" y1="540" x2="639.3" y2="540" stroke="#2c3a94" stroke-width="3.2"/>
<line x1="639.3" y1="474" x2="639.3" y2="540" stroke="#2c3a94" stroke-width="3"/>
<rect x="785.7" y="474.2" width="55.4" height="66" stroke="#2c3a94" stroke-width="1.8" fill="none"/>
<rect x="841.1" y="474.2" width="56.2" height="66" stroke="#2c3a94" stroke-width="1.8" fill="none"/>
<rect x="785.7" y="540.2" width="54.3" height="77.9" stroke="#2c3a94" stroke-width="1.8" fill="none"/>
<line x1="785.7" y1="540.2" x2="841.1" y2="540.2" stroke="#2c3a94" stroke-width="3.2"/>
<line x1="841.1" y1="474.2" x2="841.1" y2="540.2" stroke="#2c3a94" stroke-width="3"/>
<text x="608.9" y="470" font-size="14.6" text-anchor="middle" fill="#2c3a94" textLength="19.5" lengthAdjust="spacingAndGlyphs">G1</text>
<text x="668" y="470" font-size="14.6" text-anchor="middle" fill="#2c3a94" textLength="56.5" lengthAdjust="spacingAndGlyphs">S-G2-M</text>
<text x="586.6" y="488.3" font-size="14.6" fill="#2c3a94" textLength="16.2" lengthAdjust="spacingAndGlyphs">18</text>
<text x="689.6" y="488.3" font-size="14.6" text-anchor="end" fill="#2c3a94" textLength="8.2" lengthAdjust="spacingAndGlyphs">5</text>
<text x="586" y="616" font-size="14.6" fill="#2c3a94" textLength="16" lengthAdjust="spacingAndGlyphs">77</text>
<text x="609" y="634.9" font-size="14.6" text-anchor="middle" fill="#2c3a94" textLength="19.5" lengthAdjust="spacingAndGlyphs">G0</text>
<text x="808.4" y="469.3" font-size="14.6" text-anchor="middle" fill="#2c3a94" textLength="19.5" lengthAdjust="spacingAndGlyphs">G1</text>
<text x="868.4" y="469.3" font-size="14.6" text-anchor="middle" fill="#2c3a94" textLength="56.5" lengthAdjust="spacingAndGlyphs">S-G2-M</text>
<text x="789" y="488" font-size="14.6" fill="#2c3a94" textLength="8.2" lengthAdjust="spacingAndGlyphs">6</text>
<text x="894.2" y="488" font-size="14.6" text-anchor="end" fill="#2c3a94" textLength="8.2" lengthAdjust="spacingAndGlyphs">4</text>
<text x="788.5" y="615.5" font-size="14.6" fill="#2c3a94" textLength="16.2" lengthAdjust="spacingAndGlyphs">90</text>
<text x="809.1" y="635.7" font-size="14.6" text-anchor="middle" fill="#2c3a94" textLength="19.5" lengthAdjust="spacingAndGlyphs">G0</text>
<text x="13.4" y="768.8" font-size="23.5" font-weight="bold" textLength="14.2" lengthAdjust="spacingAndGlyphs">E</text>
<rect x="95.3" y="786.8" width="129.2" height="192.4" fill="#e4d6e8"/>
<rect x="224.5" y="786.8" width="154.2" height="192.4" fill="#d0d5e8"/>
<rect x="378.7" y="786.8" width="43.7" height="192.4" fill="#fdf8d0"/>
<rect x="422.4" y="786.8" width="18.8" height="192.4" fill="#fde0d3"/>
<rect x="95.3" y="997.6" width="129.2" height="192.8" fill="#e4d6e8"/>
<rect x="224.5" y="997.6" width="154.2" height="192.8" fill="#d0d5e8"/>
<rect x="378.7" y="997.6" width="43.7" height="192.8" fill="#fdf8d0"/>
<rect x="422.4" y="997.6" width="18.8" height="192.8" fill="#fde0d3"/>
<text x="133.3" y="774.7" font-size="16.2" text-anchor="middle">G0</text>
<text x="277.9" y="774.7" font-size="16.2" text-anchor="middle">G1</text>
<text x="398" y="774.7" font-size="16.2" text-anchor="middle">S</text>
<text x="434.8" y="774.7" font-size="16.2" text-anchor="middle" textLength="41.5" lengthAdjust="spacingAndGlyphs">G2/M</text>
<line x1="94.4" y1="786.5" x2="94.4" y2="979.8" stroke="#231f20" stroke-width="1.4"/>
<line x1="93.8" y1="979.2" x2="441.2" y2="979.2" stroke="#231f20" stroke-width="1.4"/>
<line x1="89" y1="786.8" x2="94.4" y2="786.8" stroke="#231f20" stroke-width="1.2"/>
<text x="86" y="791.6" font-size="13.5" text-anchor="end">3</text>
<line x1="89" y1="834.9" x2="94.4" y2="834.9" stroke="#231f20" stroke-width="1.2"/>
<text x="86" y="839.7" font-size="13.5" text-anchor="end">2</text>
<line x1="89" y1="883" x2="94.4" y2="883" stroke="#231f20" stroke-width="1.2"/>
<text x="86" y="887.8" font-size="13.5" text-anchor="end">1</text>
<line x1="89" y1="931.1" x2="94.4" y2="931.1" stroke="#231f20" stroke-width="1.2"/>
<text x="86" y="935.9" font-size="13.5" text-anchor="end">0</text>
<line x1="89" y1="979.2" x2="94.4" y2="979.2" stroke="#231f20" stroke-width="1.2"/>
<text x="83.5" y="985.2" font-size="13.5" text-anchor="end">−1</text>
<text transform="translate(56.5 871.5) rotate(-90)" x="0" y="0" font-size="20.2" text-anchor="middle" textLength="145" lengthAdjust="spacingAndGlyphs">cell cycle scores</text>
<path d="M95.5 942.6 L96.7 942.5 L97.9 943.1 L99.1 942 L100.3 942.7 L101.5 941.9 L102.7 943 L103.9 942.6 L105.1 942.9 L106.3 942.2 L107.5 942.5 L108.7 942.2 L109.9 941.9 L111.1 942.2 L112.3 941.6 L113.5 941.9 L114.7 942.2 L115.9 941.9 L117.1 941.7 L118.3 942.5 L119.5 941.7 L120.7 941.4 L121.9 941.6 L123.1 941.3 L124.3 941.3 L125.5 941.2 L126.7 942 L127.9 941.2 L129.1 941.2 L130.3 941.3 L131.5 941.7 L132.7 940.9 L133.9 940.7 L135.1 941.7 L136.3 940.2 L137.5 940.6 L138.7 940.9 L139.9 941.4 L141.1 940.2 L142.3 939.6 L143.5 940.6 L144.7 940.1 L145.9 940.1 L147.1 940.3 L148.3 940.2 L149.5 940.1 L150.7 939.8 L151.9 940.2 L153.1 940.2 L154.3 939.5 L155.5 939.2 L156.7 939.5 L157.9 939.3 L159.1 938.6 L160.3 938.7 L161.5 939.1 L162.7 938.6 L163.9 938.4 L165.1 938.4 L166.3 938.2 L167.5 938.1 L168.7 937.3 L169.9 938.4 L171.1 937.7 L172.3 937.2 L173.5 937.8 L174.7 937.4 L175.9 937.2 L177.1 937.4 L178.3 937.7 L179.5 936.9 L180.7 937.2 L181.9 937.2 L183.1 936 L184.3 936 L185.5 936.4 L186.7 935.4 L187.9 935.7 L189.1 936.2 L190.3 935.9 L191.5 935.6 L192.7 934.6 L193.9 936 L195.1 935.2 L196.3 935.2 L197.5 934.9 L198.7 934 L199.9 934 L201.1 933.9 L202.3 934.9 L203.5 933.8 L204.7 933.9 L205.9 933.7 L207.1 933.9 L208.3 933.7 L209.5 933.5 L210.7 932.8 L211.9 932 L213.1 933 L214.3 932.9 L215.5 933.1 L216.7 932.5 L217.9 932.2 L219.1 932.4 L220.3 931.6 L221.5 931.7 L222.7 931.5 L223.9 931.8 L225.1 932.3 L226.3 931.7 L227.5 931.7 L228.7 931.3 L229.9 931.1 L231.1 930.8 L232.3 930.7 L233.5 929.8 L234.7 930.1 L235.9 929.9 L237.1 930.5 L238.3 930.3 L239.5 930.1 L240.7 929.7 L241.9 928.4 L243.1 928.3 L244.3 928 L245.5 926.7 L246.7 926.5 L247.9 925.5 L249.1 924.4 L250.3 924.4 L251.5 923.5 L252.7 923.2 L253.9 922.4 L255.1 922.1 L256.3 920.6 L257.5 921.4 L258.7 920.2 L259.9 918.8 L261.1 917.7 L262.3 917.2 L263.5 916.5 L264.7 915.6 L265.9 914.7 L267.1 913 L268.3 912.4 L269.5 912.4 L270.7 911.2 L271.9 909.7 L273.1 909.1 L274.3 908 L275.5 907.3 L276.7 907.4 L277.9 906.2 L279.1 906 L280.3 904.9 L281.5 903.6 L282.7 903.2 L283.9 903.5 L285.1 901.7 L286.3 900.9 L287.5 901 L288.7 899.9 L289.9 899.2 L291.1 899 L292.3 897.1 L293.5 897.2 L294.7 896 L295.9 895.1 L297.1 894.6 L298.3 894.6 L299.5 893.4 L300.7 891.8 L301.9 890.7 L303.1 890.3 L304.3 888.8 L305.5 886.8 L306.7 886.7 L307.9 884.4 L309.1 882.8 L310.3 881.9 L311.5 880.9 L312.7 879.8 L313.9 878.3 L315.1 876.5 L316.3 875.1 L317.5 873.5 L318.7 872.6 L319.9 871.1 L321.1 870.1 L322.3 868.2 L323.5 867.2 L324.7 865.7 L325.9 864.3 L327.1 863 L328.3 861.7 L329.5 860.3 L330.7 859.6 L331.9 858 L333.1 856 L334.3 855.2 L335.5 853.6 L336.7 852.5 L337.9 850.4 L339.1 848.9 L340.3 847.2 L341.5 846 L342.7 844.6 L343.9 843 L345.1 841.4 L346.3 840.2 L347.5 838.7 L348.7 837.5 L349.9 835.8 L351.1 834.9 L352.3 833.2 L353.5 832 L354.7 831.1 L355.9 830.6 L357.1 828.9 L358.3 827.3 L359.5 826 L360.7 825.1 L361.9 824 L363.1 822.4 L364.3 820.4 L365.5 819 L366.7 817.3 L367.9 815.8 L369.1 814 L370.3 812.7 L371.5 810.5 L372.7 809.3 L373.9 808.8 L375.1 807.2 L376.3 806.7 L377.5 805 L378.7 804.3 L379.9 803.5 L381.1 801.9 L382.3 801 L383.5 801.1 L384.7 798.9 L385.9 798.1 L387.1 797.6 L388.3 797.4 L389.5 796.9 L390.7 796.7 L391.9 796.2 L393.1 795.2 L394.3 794.7 L395.5 793.9 L396.7 793.3 L397.9 793.1 L399.1 793.1 L400.3 792.4 L401.5 792.2 L402.7 791.7 L403.9 790.8 L405.1 792 L406.3 791.5 L407.5 791.9 L408.7 792.3 L409.9 793.3 L411.1 793.2 L412.3 793.4 L413.5 794.2 L414.7 794.9 L415.9 794.8 L417.1 795.1 L418.3 796.2 L419.5 797.2 L420.7 798.2 L421.9 798.7 L423.1 800.1 L424.3 801.1 L425.5 801.4 L426.7 803.5 L427.9 804.1 L429.1 805.2 L430.3 807.7 L431.5 808.5 L432.7 809.7 L433.9 811.5 L435.1 813.3 L436.3 814.9" fill="none" stroke="#1c1818" stroke-width="4.4" stroke-linejoin="round"/>
<path d="M95.5 939 L96.7 938.6 L97.9 938.6 L99.1 938.4 L100.3 938.3 L101.5 938.6 L102.7 938.3 L103.9 938.4 L105.1 938 L106.3 937.9 L107.5 938.1 L108.7 937.9 L109.9 938.4 L111.1 937.5 L112.3 937.8 L113.5 937.7 L114.7 937.1 L115.9 937.8 L117.1 937.5 L118.3 936.6 L119.5 937.5 L120.7 937.5 L121.9 936.8 L123.1 937.6 L124.3 936.9 L125.5 936.4 L126.7 936.9 L127.9 936.5 L129.1 936.1 L130.3 935.7 L131.5 936.4 L132.7 936 L133.9 936.4 L135.1 936.2 L136.3 935.8 L137.5 935.7 L138.7 936.5 L139.9 936.4 L141.1 935.9 L142.3 935.4 L143.5 935.1 L144.7 935.3 L145.9 935.9 L147.1 935.4 L148.3 935 L149.5 934.6 L150.7 935 L151.9 934.5 L153.1 934.8 L154.3 934.9 L155.5 934.9 L156.7 934.5 L157.9 934.2 L159.1 934.3 L160.3 934.8 L161.5 934.2 L162.7 933.5 L163.9 934.4 L165.1 933.9 L166.3 934.9 L167.5 933.4 L168.7 933.5 L169.9 933.3 L171.1 933.4 L172.3 933 L173.5 932.6 L174.7 932.3 L175.9 932.9 L177.1 932.6 L178.3 932.5 L179.5 933.4 L180.7 932.8 L181.9 932.8 L183.1 932.1 L184.3 932.3 L185.5 932 L186.7 932 L187.9 932.2 L189.1 932 L190.3 931.8 L191.5 931.7 L192.7 931 L193.9 931.2 L195.1 931.5 L196.3 931.1 L197.5 930.9 L198.7 931.2 L199.9 930.6 L201.1 930.6 L202.3 931.1 L203.5 930.5 L204.7 931.1 L205.9 930.7 L207.1 930.7 L208.3 930.7 L209.5 929.4 L210.7 930.1 L211.9 929.5 L213.1 929.7 L214.3 929.7 L215.5 930.1 L216.7 929.6 L217.9 930.1 L219.1 929.2 L220.3 929.3 L221.5 929.2 L222.7 929.4 L223.9 929 L225.1 928.7 L226.3 928.6 L227.5 928.1 L228.7 928.9 L229.9 928.6 L231.1 928.4 L232.3 928.2 L233.5 927.7 L234.7 927.7 L235.9 928 L237.1 927.3 L238.3 927.1 L239.5 927.8 L240.7 927.7 L241.9 927.1 L243.1 927.1 L244.3 926.8 L245.5 927.1 L246.7 926.3 L247.9 926.4 L249.1 926.4 L250.3 926.6 L251.5 925.9 L252.7 925.9 L253.9 925.5 L255.1 925.3 L256.3 925.2 L257.5 925.3 L258.7 925.5 L259.9 924.8 L261.1 924.6 L262.3 924.5 L263.5 924.7 L264.7 924.6 L265.9 923.8 L267.1 924.2 L268.3 923.5 L269.5 924 L270.7 923.2 L271.9 923 L273.1 923 L274.3 923 L275.5 922.6 L276.7 922.8 L277.9 922.6 L279.1 922.5 L280.3 922.4 L281.5 922.4 L282.7 921.7 L283.9 921.8 L285.1 921.6 L286.3 920.7 L287.5 921.4 L288.7 920.9 L289.9 920.7 L291.1 920.6 L292.3 920.7 L293.5 920.6 L294.7 920.5 L295.9 919.9 L297.1 920.2 L298.3 920 L299.5 919.5 L300.7 919.2 L301.9 918.9 L303.1 918.2 L304.3 917.7 L305.5 916.9 L306.7 916.6 L307.9 916.4 L309.1 915.2 L310.3 913.9 L311.5 914.4 L312.7 913 L313.9 912.1 L315.1 911.2 L316.3 911.5 L317.5 911 L318.7 910.2 L319.9 909 L321.1 908.9 L322.3 907.7 L323.5 906.8 L324.7 906.3 L325.9 905.6 L327.1 904.9 L328.3 904.3 L329.5 902.6 L330.7 903.2 L331.9 901.8 L333.1 901.5 L334.3 900.2 L335.5 899.9 L336.7 899 L337.9 897.8 L339.1 897.8 L340.3 897.1 L341.5 895.8 L342.7 894.7 L343.9 894.5 L345.1 893.7 L346.3 893.4 L347.5 892.3 L348.7 891.8 L349.9 890.4 L351.1 889 L352.3 888.1 L353.5 885.9 L354.7 885.5 L355.9 884.4 L357.1 883.7 L358.3 882.7 L359.5 881.6 L360.7 880.8 L361.9 879.1 L363.1 877.9 L364.3 876.1 L365.5 874.4 L366.7 872.9 L367.9 871 L369.1 869.5 L370.3 867.7 L371.5 866.4 L372.7 864.4 L373.9 862.9 L375.1 862 L376.3 859.6 L377.5 857.9 L378.7 856.5 L379.9 854.2 L381.1 853.1 L382.3 851.5 L383.5 849.8 L384.7 848.4 L385.9 846.7 L387.1 845.3 L388.3 843.1 L389.5 842 L390.7 840.2 L391.9 839.3 L393.1 837.4 L394.3 835.4 L395.5 834.4 L396.7 832.5 L397.9 831.7 L399.1 829.7 L400.3 828 L401.5 827.5 L402.7 827 L403.9 825.7 L405.1 824.3 L406.3 823.7 L407.5 822.7 L408.7 821.9 L409.9 820.7 L411.1 819.5 L412.3 818.4 L413.5 818.5 L414.7 818.2 L415.9 817.8 L417.1 817.6 L418.3 816.8 L419.5 817.1 L420.7 816.6 L421.9 816.9 L423.1 817.2 L424.3 817.5 L425.5 818.2 L426.7 818.8 L427.9 818.8 L429.1 819.4 L430.3 819.5 L431.5 820.3 L432.7 820.6 L433.9 820.5 L435.1 821.8 L436.3 821.5" fill="none" stroke="#4c5486" stroke-width="4.4" stroke-linejoin="round"/>
<path d="M95.5 937.5 L96.7 937 L97.9 936.8 L99.1 937.5 L100.3 936.7 L101.5 936.4 L102.7 937 L103.9 936.5 L105.1 936.9 L106.3 937.5 L107.5 936.7 L108.7 936.9 L109.9 936.9 L111.1 936.7 L112.3 936.5 L113.5 937 L114.7 936.4 L115.9 936.5 L117.1 936.3 L118.3 935.8 L119.5 936.3 L120.7 936.1 L121.9 936.3 L123.1 936.2 L124.3 936.5 L125.5 935.2 L126.7 935.6 L127.9 935.6 L129.1 935.4 L130.3 935.7 L131.5 935.5 L132.7 935.5 L133.9 934.8 L135.1 935 L136.3 935.2 L137.5 935 L138.7 934.9 L139.9 935 L141.1 934.9 L142.3 934.6 L143.5 935.4 L144.7 934.6 L145.9 935 L147.1 934.9 L148.3 934.9 L149.5 934.3 L150.7 934.1 L151.9 934.5 L153.1 934.3 L154.3 933.3 L155.5 933.1 L156.7 933.8 L157.9 933.7 L159.1 933.7 L160.3 933.8 L161.5 933.2 L162.7 934.4 L163.9 933.7 L165.1 933.7 L166.3 933.3 L167.5 932.4 L168.7 933.1 L169.9 932.7 L171.1 932.9 L172.3 932.7 L173.5 932.8 L174.7 932.2 L175.9 932.3 L177.1 932.3 L178.3 931.9 L179.5 932 L180.7 932.2 L181.9 932.6 L183.1 931.7 L184.3 932 L185.5 931.2 L186.7 931.4 L187.9 931.5 L189.1 931.5 L190.3 930.9 L191.5 931.3 L192.7 931.1 L193.9 931.4 L195.1 931.2 L196.3 930.9 L197.5 930.5 L198.7 930.6 L199.9 930.2 L201.1 930.1 L202.3 929.6 L203.5 929.7 L204.7 929.6 L205.9 929.9 L207.1 929.9 L208.3 929.3 L209.5 929.6 L210.7 929.7 L211.9 929.8 L213.1 929.4 L214.3 929.4 L215.5 929.1 L216.7 929.4 L217.9 928.5 L219.1 929 L220.3 928 L221.5 929.3 L222.7 928.9 L223.9 927.8 L225.1 928.3 L226.3 928 L227.5 927.8 L228.7 928.3 L229.9 928.1 L231.1 928.7 L232.3 928.2 L233.5 927.9 L234.7 928.3 L235.9 928.4 L237.1 928.5 L238.3 928.4 L239.5 927.7 L240.7 927.9 L241.9 928.1 L243.1 927.8 L244.3 928.4 L245.5 928 L246.7 928 L247.9 927.9 L249.1 928 L250.3 927.5 L251.5 928.7 L252.7 927.7 L253.9 927.7 L255.1 927.3 L256.3 927.8 L257.5 927.4 L258.7 927.9 L259.9 928.2 L261.1 928 L262.3 927.6 L263.5 928.2 L264.7 927.6 L265.9 927.7 L267.1 927.7 L268.3 927.5 L269.5 927.7 L270.7 927.1 L271.9 926.9 L273.1 927.9 L274.3 927.2 L275.5 927.4 L276.7 927.6 L277.9 927.3 L279.1 927 L280.3 927.3 L281.5 927 L282.7 927.5 L283.9 927.2 L285.1 927.2 L286.3 927.5 L287.5 926.7 L288.7 926.7 L289.9 927.4 L291.1 927.6 L292.3 927.2 L293.5 926.9 L294.7 927.5 L295.9 927.3 L297.1 927.4 L298.3 926.4 L299.5 927 L300.7 926.6 L301.9 926.6 L303.1 927.1 L304.3 927.1 L305.5 926.7 L306.7 926.7 L307.9 927.3 L309.1 927 L310.3 926.7 L311.5 926.9 L312.7 926.7 L313.9 926.2 L315.1 926.5 L316.3 926.7 L317.5 926.8 L318.7 926.1 L319.9 926.2 L321.1 926.3 L322.3 925.9 L323.5 926.8 L324.7 926.6 L325.9 926.8 L327.1 925.6 L328.3 926 L329.5 926.9 L330.7 925.8 L331.9 925.6 L333.1 926.3 L334.3 926.7 L335.5 926.4 L336.7 925.8 L337.9 926.3 L339.1 926.2 L340.3 926.1 L341.5 926.1 L342.7 926.2 L343.9 926.3 L345.1 926.4 L346.3 926.2 L347.5 925.8 L348.7 925.2 L349.9 926 L351.1 925.2 L352.3 926.5 L353.5 925.3 L354.7 925 L355.9 925 L357.1 925.7 L358.3 925.7 L359.5 925.8 L360.7 925.6 L361.9 925.2 L363.1 925.4 L364.3 924.4 L365.5 923.7 L366.7 924.2 L367.9 923.6 L369.1 922.7 L370.3 922.5 L371.5 922.5 L372.7 922 L373.9 920.9 L375.1 921.3 L376.3 919.6 L377.5 920.1 L378.7 919 L379.9 917.6 L381.1 916.4 L382.3 914.6 L383.5 913.9 L384.7 912.9 L385.9 911.2 L387.1 910.3 L388.3 909 L389.5 907 L390.7 906.3 L391.9 905.5 L393.1 903.6 L394.3 902.4 L395.5 900.9 L396.7 898.7 L397.9 897.4 L399.1 896.1 L400.3 894.4 L401.5 892.2 L402.7 891.2 L403.9 889.3 L405.1 887.6 L406.3 886.2 L407.5 884 L408.7 881.9 L409.9 880.2 L411.1 878.1 L412.3 876.4 L413.5 874 L414.7 871.5 L415.9 870.7 L417.1 868.5 L418.3 866.2 L419.5 863.5 L420.7 860.9 L421.9 858.5 L423.1 855.6 L424.3 853.6 L425.5 850.8 L426.7 850.2 L427.9 850.5 L429.1 850.2 L430.3 850.2 L431.5 850.4 L432.7 851 L433.9 849.6 L435.1 850 L436.3 850.1" fill="none" stroke="#a3acd9" stroke-width="4.2" stroke-linejoin="round"/>
<path d="M95.5 935.1 L96.7 935.4 L97.9 934.7 L99.1 934.7 L100.3 934.7 L101.5 934.2 L102.7 935 L103.9 934.1 L105.1 934.7 L106.3 934.8 L107.5 934 L108.7 934.2 L109.9 934.1 L111.1 934.7 L112.3 934.2 L113.5 933.4 L114.7 934.3 L115.9 934.2 L117.1 933.1 L118.3 932.8 L119.5 934.6 L120.7 933.6 L121.9 932.8 L123.1 933.8 L124.3 933.9 L125.5 932.5 L126.7 933.7 L127.9 933.5 L129.1 933.1 L130.3 932.8 L131.5 933.2 L132.7 932.7 L133.9 932.9 L135.1 932.7 L136.3 932.6 L137.5 932.9 L138.7 933 L139.9 932.9 L141.1 932.6 L142.3 933 L143.5 931.9 L144.7 932.3 L145.9 932.3 L147.1 932.6 L148.3 931.3 L149.5 931.9 L150.7 931.8 L151.9 931.9 L153.1 932.6 L154.3 931.8 L155.5 931.6 L156.7 931.7 L157.9 931.8 L159.1 931.3 L160.3 931.9 L161.5 930.8 L162.7 931.6 L163.9 931.3 L165.1 931.3 L166.3 931.4 L167.5 930.7 L168.7 930.9 L169.9 930.7 L171.1 930.4 L172.3 930.2 L173.5 930.1 L174.7 930.6 L175.9 929.5 L177.1 929.7 L178.3 930.1 L179.5 930.5 L180.7 929.9 L181.9 930.3 L183.1 929.7 L184.3 929.5 L185.5 929.1 L186.7 929.6 L187.9 930 L189.1 929.4 L190.3 928.9 L191.5 929.4 L192.7 928.6 L193.9 928.6 L195.1 929.3 L196.3 929 L197.5 929.1 L198.7 928.8 L199.9 928.6 L201.1 928.6 L202.3 928.4 L203.5 928.8 L204.7 927.9 L205.9 927.6 L207.1 927.8 L208.3 928.4 L209.5 927.8 L210.7 927.1 L211.9 928.8 L213.1 927.4 L214.3 927.6 L215.5 927.8 L216.7 927.6 L217.9 927.4 L219.1 926.8 L220.3 927.4 L221.5 926.8 L222.7 927 L223.9 927.3 L225.1 926.8 L226.3 926.3 L227.5 926.7 L228.7 927.1 L229.9 927.1 L231.1 926.4 L232.3 926.8 L233.5 926.9 L234.7 927.1 L235.9 926.8 L237.1 926.7 L238.3 926.5 L239.5 926.8 L240.7 926.8 L241.9 926.5 L243.1 926.4 L244.3 927.1 L245.5 926.4 L246.7 926.1 L247.9 926.6 L249.1 925.9 L250.3 925.9 L251.5 926.6 L252.7 926.3 L253.9 926.5 L255.1 926.5 L256.3 925.9 L257.5 926.3 L258.7 926 L259.9 926.1 L261.1 926.1 L262.3 926 L263.5 925.5 L264.7 926 L265.9 925.9 L267.1 926 L268.3 925.5 L269.5 925.9 L270.7 925.7 L271.9 925.6 L273.1 925.6 L274.3 925.6 L275.5 925.2 L276.7 925.4 L277.9 925.4 L279.1 925.7 L280.3 925.5 L281.5 926 L282.7 925.7 L283.9 925.5 L285.1 925.5 L286.3 924.9 L287.5 925.5 L288.7 925.7 L289.9 924.9 L291.1 925.7 L292.3 925.4 L293.5 925.3 L294.7 925 L295.9 925.1 L297.1 924.8 L298.3 925 L299.5 925 L300.7 925 L301.9 924.6 L303.1 925.3 L304.3 924.7 L305.5 925.1 L306.7 925.1 L307.9 924.8 L309.1 925.7 L310.3 924.9 L311.5 925 L312.7 924.7 L313.9 924.9 L315.1 924.3 L316.3 925 L317.5 924.6 L318.7 924.5 L319.9 925 L321.1 925 L322.3 924.5 L323.5 924.3 L324.7 923.9 L325.9 924.3 L327.1 924.8 L328.3 924.8 L329.5 924.1 L330.7 924.6 L331.9 924.9 L333.1 924.2 L334.3 924.3 L335.5 924.2 L336.7 924.6 L337.9 923.8 L339.1 924.4 L340.3 924.6 L341.5 924.4 L342.7 924.7 L343.9 924.6 L345.1 924.1 L346.3 924 L347.5 923.6 L348.7 923.7 L349.9 923.1 L351.1 922.8 L352.3 922 L353.5 922.3 L354.7 921.8 L355.9 921.4 L357.1 920.3 L358.3 921.2 L359.5 920.2 L360.7 919.1 L361.9 919.4 L363.1 918.6 L364.3 918 L365.5 917.4 L366.7 916.8 L367.9 915.7 L369.1 914.6 L370.3 913.4 L371.5 912.1 L372.7 911.5 L373.9 910.3 L375.1 909.3 L376.3 908.5 L377.5 907.9 L378.7 906.2 L379.9 905.9 L381.1 904.4 L382.3 904.1 L383.5 903.2 L384.7 902.1 L385.9 901.3 L387.1 900.1 L388.3 899.4 L389.5 898.3 L390.7 896.7 L391.9 895.7 L393.1 893.1 L394.3 891.7 L395.5 890.4 L396.7 888.8 L397.9 887.1 L399.1 885.6 L400.3 883.7 L401.5 882.1 L402.7 879.5 L403.9 877.2 L405.1 875.5 L406.3 872.4 L407.5 870.9 L408.7 868.8 L409.9 867.1 L411.1 864.1 L412.3 862.6 L413.5 860.1 L414.7 858.5 L415.9 856.2 L417.1 853.5 L418.3 851.6 L419.5 848.8 L420.7 847 L421.9 844.8 L423.1 843.9 L424.3 843.2 L425.5 842.5 L426.7 843.4 L427.9 842.6 L429.1 842.7 L430.3 842.6 L431.5 843.1 L432.7 842.4 L433.9 842.7 L435.1 842.2 L436.3 841.5" fill="none" stroke="#7581be" stroke-width="4.2" stroke-linejoin="round"/>
<line x1="95.3" y1="931.1" x2="441.2" y2="931.1" stroke="#231f20" stroke-width="1.2"/>
<text x="451.3" y="817.7" font-size="13.8" textLength="86" lengthAdjust="spacingAndGlyphs">G1/S module</text>
<text x="451.3" y="831.1" font-size="13.8" textLength="63" lengthAdjust="spacingAndGlyphs">S module</text>
<text x="451.3" y="844.5" font-size="13.8" textLength="87.5" lengthAdjust="spacingAndGlyphs">G2/M module</text>
<text x="451.3" y="857.9" font-size="13.8" textLength="65" lengthAdjust="spacingAndGlyphs">M module</text>
<line x1="95.3" y1="1093.9" x2="441.2" y2="1093.9" stroke="#231f20" stroke-width="1.2"/>
<g fill="#c0202e"><circle cx="96.8" cy="1083.3" r="3"/><circle cx="98.4" cy="1083.7" r="3"/><circle cx="100" cy="1083.2" r="3"/><circle cx="101.6" cy="1082.8" r="3"/><circle cx="103.2" cy="1086.6" r="3"/><circle cx="104.8" cy="1086.4" r="3"/><circle cx="106.4" cy="1085.5" r="3"/><circle cx="108" cy="1085.9" r="3"/><circle cx="109.6" cy="1086.7" r="3"/><circle cx="111.2" cy="1086.8" r="3"/><circle cx="112.8" cy="1084.7" r="3"/><circle cx="114.4" cy="1082.6" r="3"/><circle cx="116" cy="1082" r="3"/><circle cx="117.6" cy="1079.9" r="3"/><circle cx="119.2" cy="1077.9" r="3"/><circle cx="120.8" cy="1081.3" r="3"/><circle cx="122.4" cy="1081.9" r="3"/><circle cx="124" cy="1083.6" r="3"/><circle cx="125.6" cy="1085.1" r="3"/><circle cx="127.2" cy="1085.2" r="3"/><circle cx="128.8" cy="1088.1" r="3"/><circle cx="130.4" cy="1090.5" r="3"/><circle cx="132" cy="1090.1" r="3"/><circle cx="133.6" cy="1091.9" r="3"/><circle cx="135.2" cy="1090.8" r="3"/><circle cx="136.8" cy="1091.1" r="3"/><circle cx="138.4" cy="1093.5" r="3"/><circle cx="140" cy="1090.5" r="3"/><circle cx="141.6" cy="1091.3" r="3"/><circle cx="143.2" cy="1091.7" r="3"/><circle cx="144.8" cy="1090.9" r="3"/><circle cx="146.4" cy="1090.5" r="3"/><circle cx="148" cy="1091.3" r="3"/><circle cx="149.6" cy="1093.6" r="3"/><circle cx="151.2" cy="1094.8" r="3"/><circle cx="152.8" cy="1095.6" r="3"/><circle cx="154.4" cy="1095.6" r="3"/><circle cx="156" cy="1095.9" r="3"/><circle cx="157.6" cy="1097.6" r="3"/><circle cx="159.2" cy="1098.1" r="3"/><circle cx="160.8" cy="1099.2" r="3"/><circle cx="162.4" cy="1095.8" r="3"/><circle cx="164" cy="1094.3" r="3"/><circle cx="165.6" cy="1090.2" r="3"/><circle cx="167.2" cy="1087.3" r="3"/><circle cx="168.8" cy="1091.1" r="3"/><circle cx="170.4" cy="1091.9" r="3"/><circle cx="172" cy="1093.8" r="3"/><circle cx="173.6" cy="1099.1" r="3"/><circle cx="175.2" cy="1103.1" r="3"/><circle cx="176.8" cy="1108" r="3"/><circle cx="178.4" cy="1111.2" r="3"/><circle cx="180" cy="1116.4" r="3"/><circle cx="181.6" cy="1118.9" r="3"/><circle cx="183.2" cy="1119.8" r="3"/><circle cx="184.8" cy="1120.4" r="3"/><circle cx="186.4" cy="1121.3" r="3"/><circle cx="188" cy="1118.6" r="3"/><circle cx="189.6" cy="1118.4" r="3"/><circle cx="191.2" cy="1116.5" r="3"/><circle cx="192.8" cy="1115.2" r="3"/><circle cx="194.4" cy="1118.3" r="3"/><circle cx="196" cy="1121.3" r="3"/><circle cx="197.6" cy="1123.7" r="3"/><circle cx="199.2" cy="1126" r="3"/><circle cx="200.8" cy="1125" r="3"/><circle cx="202.4" cy="1126.2" r="3"/><circle cx="204" cy="1128.4" r="3"/><circle cx="205.6" cy="1127.3" r="3"/><circle cx="207.2" cy="1128.5" r="3"/><circle cx="208.8" cy="1130.1" r="3"/><circle cx="210.4" cy="1131.3" r="3"/><circle cx="212" cy="1129.8" r="3"/><circle cx="213.6" cy="1126.1" r="3"/><circle cx="215.2" cy="1121.4" r="3"/><circle cx="216.8" cy="1117.2" r="3"/><circle cx="218.4" cy="1117.5" r="3"/><circle cx="220" cy="1118.7" r="3"/><circle cx="221.6" cy="1121.1" r="3"/><circle cx="223.2" cy="1124" r="3"/><circle cx="224.8" cy="1126.5" r="3"/><circle cx="226.4" cy="1129.2" r="3"/><circle cx="228" cy="1132.3" r="3"/><circle cx="229.6" cy="1136.1" r="3"/><circle cx="231.2" cy="1137.9" r="3"/><circle cx="232.8" cy="1141.7" r="3"/><circle cx="234.4" cy="1144" r="3"/><circle cx="236" cy="1145.8" r="3"/><circle cx="237.6" cy="1147.5" r="3"/><circle cx="239.2" cy="1147.5" r="3"/><circle cx="240.8" cy="1148.6" r="3"/><circle cx="242.4" cy="1149.2" r="3"/><circle cx="244" cy="1149.7" r="3"/><circle cx="245.6" cy="1148.1" r="3"/><circle cx="247.2" cy="1145.5" r="3"/><circle cx="248.8" cy="1144.4" r="3"/><circle cx="250.4" cy="1143.3" r="3"/><circle cx="252" cy="1144.8" r="3"/><circle cx="253.6" cy="1148.1" r="3"/><circle cx="255.2" cy="1150.9" r="3"/><circle cx="256.8" cy="1151.4" r="3"/><circle cx="258.4" cy="1148.4" r="3"/><circle cx="260" cy="1147.5" r="3"/><circle cx="261.6" cy="1146.3" r="3"/><circle cx="263.2" cy="1145" r="3"/><circle cx="264.8" cy="1142" r="3"/><circle cx="266.4" cy="1140.3" r="3"/><circle cx="268" cy="1133.2" r="3"/><circle cx="269.6" cy="1132" r="3"/><circle cx="271.2" cy="1129" r="3"/><circle cx="272.8" cy="1129" r="3"/><circle cx="274.4" cy="1132" r="3"/><circle cx="276" cy="1136.2" r="3"/><circle cx="277.6" cy="1138.8" r="3"/><circle cx="279.2" cy="1141.9" r="3"/><circle cx="280.8" cy="1144.8" r="3"/><circle cx="282.4" cy="1148" r="3"/><circle cx="284" cy="1149.8" r="3"/><circle cx="285.6" cy="1148.8" r="3"/><circle cx="287.2" cy="1146.4" r="3"/><circle cx="288.8" cy="1144.4" r="3"/><circle cx="290.4" cy="1144.4" r="3"/><circle cx="292" cy="1141.2" r="3"/><circle cx="293.6" cy="1140.3" r="3"/><circle cx="295.2" cy="1137.3" r="3"/><circle cx="296.8" cy="1124.7" r="3"/><circle cx="298.4" cy="1121.1" r="3"/><circle cx="300" cy="1119.6" r="3"/><circle cx="301.6" cy="1118.3" r="3"/><circle cx="303.2" cy="1118.5" r="3"/><circle cx="304.8" cy="1118.8" r="3"/><circle cx="306.4" cy="1122.5" r="3"/><circle cx="308" cy="1124.5" r="3"/><circle cx="309.6" cy="1129.7" r="3"/><circle cx="311.2" cy="1130.9" r="3"/><circle cx="312.8" cy="1130.7" r="3"/><circle cx="314.4" cy="1126.3" r="3"/><circle cx="316" cy="1122.2" r="3"/><circle cx="317.6" cy="1123.6" r="3"/><circle cx="319.2" cy="1120" r="3"/><circle cx="320.8" cy="1120.4" r="3"/><circle cx="322.4" cy="1118.3" r="3"/><circle cx="324" cy="1117.4" r="3"/><circle cx="325.6" cy="1116" r="3"/><circle cx="327.2" cy="1115.8" r="3"/><circle cx="328.8" cy="1110.8" r="3"/><circle cx="330.4" cy="1108" r="3"/><circle cx="332" cy="1111.8" r="3"/><circle cx="333.6" cy="1119.3" r="3"/><circle cx="335.2" cy="1123.8" r="3"/><circle cx="336.8" cy="1125.3" r="3"/><circle cx="338.4" cy="1127.3" r="3"/><circle cx="340" cy="1129.9" r="3"/><circle cx="341.6" cy="1127.6" r="3"/><circle cx="343.2" cy="1124.3" r="3"/><circle cx="344.8" cy="1118.4" r="3"/><circle cx="346.4" cy="1115.1" r="3"/><circle cx="348" cy="1111.9" r="3"/><circle cx="349.6" cy="1109.1" r="3"/><circle cx="351.2" cy="1108.3" r="3"/><circle cx="352.8" cy="1107.5" r="3"/><circle cx="354.4" cy="1107.2" r="3"/><circle cx="356" cy="1100.1" r="3"/><circle cx="357.6" cy="1102.3" r="3"/><circle cx="359.2" cy="1102.9" r="3"/><circle cx="360.8" cy="1098.1" r="3"/><circle cx="362.4" cy="1094.2" r="3"/><circle cx="364" cy="1098.3" r="3"/><circle cx="365.6" cy="1102.1" r="3"/><circle cx="367.2" cy="1102.7" r="3"/><circle cx="368.8" cy="1103.4" r="3"/><circle cx="370.4" cy="1102.8" r="3"/><circle cx="372" cy="1102.9" r="3"/><circle cx="373.6" cy="1102.7" r="3"/><circle cx="375.2" cy="1103.8" r="3"/><circle cx="376.8" cy="1104.1" r="3"/><circle cx="378.4" cy="1104.7" r="3"/><circle cx="380" cy="1104.8" r="3"/><circle cx="381.6" cy="1107" r="3"/><circle cx="383.2" cy="1105.4" r="3"/><circle cx="384.8" cy="1105.6" r="3"/><circle cx="386.4" cy="1102.5" r="3"/><circle cx="388" cy="1100.8" r="3"/><circle cx="389.6" cy="1097.4" r="3"/><circle cx="391.2" cy="1092.9" r="3"/><circle cx="392.8" cy="1090.3" r="3"/><circle cx="394.4" cy="1087.4" r="3"/><circle cx="396" cy="1084.5" r="3"/><circle cx="397.6" cy="1082.5" r="3"/><circle cx="399.2" cy="1082.4" r="3"/><circle cx="400.8" cy="1081.3" r="3"/><circle cx="402.4" cy="1080.1" r="3"/><circle cx="404" cy="1079.3" r="3"/><circle cx="405.6" cy="1079.6" r="3"/><circle cx="407.2" cy="1077.5" r="3"/><circle cx="408.8" cy="1077.9" r="3"/><circle cx="410.4" cy="1080.3" r="3"/><circle cx="412" cy="1082" r="3"/><circle cx="413.6" cy="1084.6" r="3"/><circle cx="415.2" cy="1088.1" r="3"/><circle cx="416.8" cy="1087.9" r="3"/><circle cx="418.4" cy="1088.3" r="3"/><circle cx="420" cy="1089.9" r="3"/><circle cx="421.6" cy="1085.2" r="3"/><circle cx="423.2" cy="1078.9" r="3"/><circle cx="424.8" cy="1071.3" r="3"/><circle cx="426.4" cy="1066.5" r="3"/><circle cx="428" cy="1063.4" r="3"/><circle cx="429.6" cy="1063.9" r="3"/><circle cx="431.2" cy="1065.2" r="3"/><circle cx="432.8" cy="1065.3" r="3"/><circle cx="434.4" cy="1066.4" r="3"/><circle cx="436" cy="1066.4" r="3"/><circle cx="437.6" cy="1067.3" r="3"/></g>
<line x1="94.4" y1="997.3" x2="94.4" y2="1191" stroke="#231f20" stroke-width="1.4"/>
<line x1="93.8" y1="1190.4" x2="441.2" y2="1190.4" stroke="#231f20" stroke-width="1.4"/>
<line x1="89" y1="997.5" x2="94.4" y2="997.5" stroke="#231f20" stroke-width="1.2"/>
<text x="86" y="1002.3" font-size="13.5" text-anchor="end">2</text>
<line x1="89" y1="1045.7" x2="94.4" y2="1045.7" stroke="#231f20" stroke-width="1.2"/>
<text x="86" y="1050.5" font-size="13.5" text-anchor="end">1</text>
<line x1="89" y1="1093.9" x2="94.4" y2="1093.9" stroke="#231f20" stroke-width="1.2"/>
<text x="86" y="1098.7" font-size="13.5" text-anchor="end">0</text>
<line x1="89" y1="1142.1" x2="94.4" y2="1142.1" stroke="#231f20" stroke-width="1.2"/>
<text x="86" y="1146.9" font-size="13.5" text-anchor="end">−1</text>
<line x1="89" y1="1190.3" x2="94.4" y2="1190.3" stroke="#231f20" stroke-width="1.2"/>
<text x="86" y="1195.1" font-size="13.5" text-anchor="end">−2</text>
<text transform="translate(31 1094.5) rotate(-90)" x="0" y="0" font-size="19.5" text-anchor="middle" textLength="183" lengthAdjust="spacingAndGlyphs">age–specific change</text>
<text transform="translate(53.5 1095.5) rotate(-90)" x="0" y="0" font-size="19.5" text-anchor="middle" textLength="195" lengthAdjust="spacingAndGlyphs">in fraction of LT-HSCs</text>
<text x="450.6" y="1072" font-size="14.6" fill="#b02535" textLength="54.5" lengthAdjust="spacingAndGlyphs">LT-HSC</text>
<text x="94.7" y="1213.6" font-size="14" text-anchor="middle">0</text>
<line x1="152.6" y1="1190.4" x2="152.6" y2="1196" stroke="#231f20" stroke-width="1.2"/>
<text x="152.6" y="1213.6" font-size="14" text-anchor="middle">150</text>
<line x1="210.5" y1="1190.4" x2="210.5" y2="1196" stroke="#231f20" stroke-width="1.2"/>
<text x="210.5" y="1213.6" font-size="14" text-anchor="middle">200</text>
<line x1="267.8" y1="1190.4" x2="267.8" y2="1196" stroke="#231f20" stroke-width="1.2"/>
<text x="267.8" y="1213.6" font-size="14" text-anchor="middle">250</text>
<line x1="325.7" y1="1190.4" x2="325.7" y2="1196" stroke="#231f20" stroke-width="1.2"/>
<text x="325.7" y="1213.6" font-size="14" text-anchor="middle">300</text>
<line x1="383" y1="1190.4" x2="383" y2="1196" stroke="#231f20" stroke-width="1.2"/>
<text x="383" y="1213.6" font-size="14" text-anchor="middle">350</text>
<line x1="440.9" y1="1190.4" x2="440.9" y2="1196" stroke="#231f20" stroke-width="1.2"/>
<text x="440.9" y="1213.6" font-size="14" text-anchor="middle">400</text>
<g stroke="#231f20" stroke-width="1.2"><line x1="116" y1="1196" x2="123" y2="1185"/><line x1="120" y1="1196" x2="127" y2="1185"/></g>
<line x1="94.7" y1="1222.6" x2="170.4" y2="1222.6" stroke="#231f20" stroke-width="1.2"/>
<line x1="174.2" y1="1222.6" x2="440.9" y2="1222.6" stroke="#231f20" stroke-width="1.2"/>
<text x="132" y="1241.8" font-size="13.6" text-anchor="middle" textLength="101.8" lengthAdjust="spacingAndGlyphs">Non-cycling cells</text>
<text x="314.6" y="1241.5" font-size="13.6" text-anchor="middle" textLength="75.3" lengthAdjust="spacingAndGlyphs">Cycling cells</text>
<text x="270.4" y="1274.2" font-size="20" text-anchor="middle" textLength="249.6" lengthAdjust="spacingAndGlyphs">Cell cycle progression ranks</text>
<text x="540.6" y="768.6" font-size="23.5" font-weight="bold" textLength="13.4" lengthAdjust="spacingAndGlyphs">F</text>
<text x="698.7" y="783.4" font-size="16.7" text-anchor="middle">aging</text>
<text x="854.5" y="784.2" font-size="16.7" text-anchor="middle" textLength="100.3" lengthAdjust="spacingAndGlyphs">differentiation</text>
<line x1="627" y1="792.1" x2="771.2" y2="792.1" stroke="#231f20" stroke-width="1.3"/>
<path d="M620.5 792.1 L629.5 788.3 L629.5 795.9 Z" fill="#231f20"/>
<line x1="780.4" y1="792.1" x2="938" y2="792.1" stroke="#231f20" stroke-width="1.3"/>
<path d="M944.9 792.1 L935.9 795.9 L935.9 788.3 Z" fill="#231f20"/>
<rect x="620.5" y="809.4" width="324.4" height="180.8" stroke="#231f20" stroke-width="1.2" fill="none"/>
<line x1="614.5" y1="990.2" x2="620.5" y2="990.2" stroke="#231f20" stroke-width="1"/>
<text x="614" y="993.6" font-size="15" text-anchor="end" textLength="7.5" lengthAdjust="spacingAndGlyphs">0</text>
<line x1="614.5" y1="938.7" x2="620.5" y2="938.7" stroke="#231f20" stroke-width="1"/>
<text x="614" y="942.1" font-size="15" text-anchor="end" textLength="15" lengthAdjust="spacingAndGlyphs">10</text>
<line x1="614.5" y1="887.2" x2="620.5" y2="887.2" stroke="#231f20" stroke-width="1"/>
<text x="614" y="890.6" font-size="15" text-anchor="end" textLength="15" lengthAdjust="spacingAndGlyphs">20</text>
<line x1="614.5" y1="835.7" x2="620.5" y2="835.7" stroke="#231f20" stroke-width="1"/>
<text x="614" y="839.1" font-size="15" text-anchor="end" textLength="15" lengthAdjust="spacingAndGlyphs">30</text>
<rect x="620.5" y="997.7" width="324.4" height="180.9" stroke="#231f20" stroke-width="1.2" fill="none"/>
<line x1="614.5" y1="1178.6" x2="620.5" y2="1178.6" stroke="#231f20" stroke-width="1"/>
<text x="614" y="1182" font-size="15" text-anchor="end" textLength="7.5" lengthAdjust="spacingAndGlyphs">0</text>
<line x1="614.5" y1="1127.2" x2="620.5" y2="1127.2" stroke="#231f20" stroke-width="1"/>
<text x="614" y="1130.6" font-size="15" text-anchor="end" textLength="15" lengthAdjust="spacingAndGlyphs">10</text>
<line x1="614.5" y1="1075.8" x2="620.5" y2="1075.8" stroke="#231f20" stroke-width="1"/>
<text x="614" y="1079.2" font-size="15" text-anchor="end" textLength="15" lengthAdjust="spacingAndGlyphs">20</text>
<line x1="614.5" y1="1024.4" x2="620.5" y2="1024.4" stroke="#231f20" stroke-width="1"/>
<text x="614" y="1027.8" font-size="15" text-anchor="end" textLength="15" lengthAdjust="spacingAndGlyphs">30</text>
<path d="M620.5 990.2 L651 990.2 L681.5 990.2 L712 985.1 L742.5 938.7 L773 902.7 L803.5 892.4 L834 959.3 L864.5 974.8 L895 985.1 L925.5 990.2" stroke="#1f6fa3" stroke-width="2.4" fill="none" stroke-linejoin="miter"/>
<path d="M620.5 990.2 L651 979.9 L681.5 943.9 L712 907.8 L742.5 876.9 L773 928.4 L803.5 979.9 L834 990.2 L864.5 990.2 L895 990.2 L925.5 990.2" stroke="#7a1a26" stroke-width="2.4" fill="none" stroke-linejoin="miter"/>
<path d="M620.5 1178.6 L651 1178.6 L681.5 1168.3 L712 1111.8 L742.5 1080.9 L773 1127.2 L803.5 1158 L834 1152.9 L864.5 1168.3 L895 1168.3 L925.5 1178.6" stroke="#2aa6d9" stroke-width="2.4" fill="none" stroke-linejoin="miter"/>
<path d="M620.5 1158 L651 1050.1 L681.5 1003.8 L712 1091.2 L742.5 1116.9 L773 1132.3 L803.5 1168.3 L834 1178.6 L864.5 1178.6 L895 1178.6 L925.5 1178.6" stroke="#b01c35" stroke-width="2.4" fill="none" stroke-linejoin="miter"/>
<line x1="620.5" y1="1178.6" x2="620.5" y2="1157.5" stroke="#b01c35" stroke-width="2.4"/>
<text x="735.9" y="823.1" font-size="13.2" text-anchor="middle" font-weight="bold" fill="#9a2230">yLT</text>
<text x="808.9" y="823.1" font-size="13.2" text-anchor="middle" font-weight="bold" fill="#2aa4d6">yST</text>
<text x="636.7" y="1011" font-size="13.5" text-anchor="middle" font-weight="bold" fill="#b3202f">oLT</text>
<text x="738.4" y="1011" font-size="13.5" text-anchor="middle" font-weight="bold" fill="#2aa4d6">oST</text>
<text transform="translate(579.5 985.2) rotate(-90)" x="0" y="0" font-size="21.4" text-anchor="middle" textLength="148.4" lengthAdjust="spacingAndGlyphs">Number of cells</text>
<text transform="translate(963.4 901.5) rotate(-90)" x="0" y="0" font-size="15" text-anchor="middle">young</text>
<text transform="translate(963.4 1085.5) rotate(-90)" x="0" y="0" font-size="15" text-anchor="middle">old</text>
<text x="783.6" y="1214.5" font-size="16.9" text-anchor="middle" textLength="246.8" lengthAdjust="spacingAndGlyphs">C57BL/6-derived signature score</text>
</svg></body></html>
